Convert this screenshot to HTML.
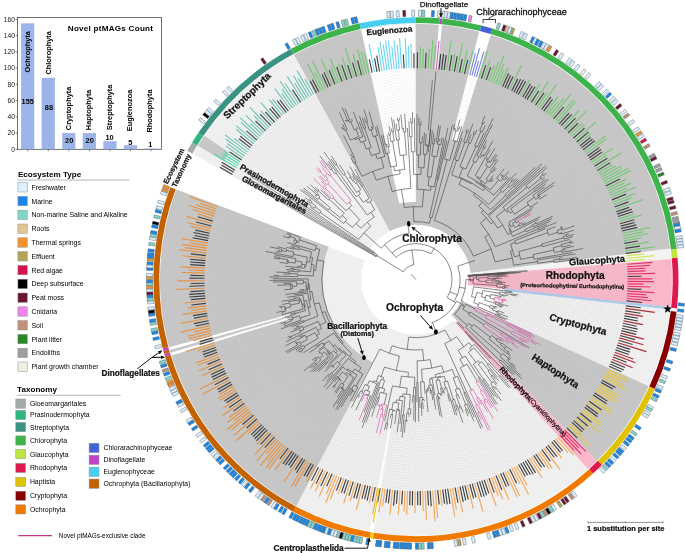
<!DOCTYPE html>
<html><head><meta charset="utf-8"><style>
html,body{margin:0;padding:0;background:#fff;}
body{width:685px;height:553px;overflow:hidden;}
svg{display:block;will-change:transform;}
text{font-family:"Liberation Sans",sans-serif;}
</style></head><body>
<svg width="685" height="553" viewBox="0 0 685 553">
<path d="M293.85,54.67 A256,256 0 0 1 670.25,249.78 L470.62,273.23 A55,55 0 0 0 389.76,231.32 Z" fill="#c6c6c6"/>
<path d="M361.03,29.62 A256,256 0 0 1 415.55,23.65 L415.86,201.65 A78,78 0 0 0 399.25,203.47 Z" fill="#ffffff"/>
<path d="M438.98,24.68 A256,256 0 0 1 442.09,24.98 L437.61,68.75 A212,212 0 0 0 435.03,68.51 Z" fill="#ffffff"/>
<path d="M479.23,31.58 A256,256 0 0 1 490.85,34.84 L458.39,140.99 A145,145 0 0 0 451.81,139.14 Z" fill="#ffffff"/>
<path d="M192.97,153.98 A256,256 0 0 1 293.85,54.67 L389.76,231.32 A55,55 0 0 0 368.08,252.65 Z" fill="#efefef"/>
<path d="M197.96,145.51 A256,256 0 0 1 204.27,135.76 L229.08,152.62 A226,226 0 0 0 223.51,161.23 Z" fill="#c6c6c6"/>
<path d="M670.09,248.45 A256,256 0 0 1 671.18,259.12 L471.82,275.16 A56,56 0 0 0 471.58,272.83 Z" fill="#f3f3f3"/>
<path d="M671.18,259.12 A256,256 0 0 1 670.5,307.3 L467.7,285.27 A52,52 0 0 0 467.83,275.48 Z" fill="#f9b8c9"/>
<path d="M670.25,309.52 A256,256 0 0 1 648.76,386.22 L488.74,312.95 A80,80 0 0 0 495.45,288.98 Z" fill="#efefef"/>
<path d="M648.76,386.22 A256,256 0 0 1 597.02,460.67 L451.36,315.01 A50,50 0 0 0 461.46,300.46 Z" fill="#c6c6c6"/>
<path d="M597.02,460.67 A256,256 0 0 1 587.96,469.3 L454.96,322.62 A58,58 0 0 0 457.01,320.66 Z" fill="#f9b8c9"/>
<path d="M587.96,469.3 A256,256 0 0 1 176.37,189.58 L364.52,260.3 A55,55 0 0 0 452.94,320.39 Z" fill="#efefef"/>
<path d="M296.21,505.89 A256,256 0 0 1 176.37,189.58 L328.48,246.75 A93.5,93.5 0 0 0 372.25,362.28 Z" fill="#c6c6c6"/>
<path d="M373.53,532.1 A256,256 0 0 1 369.57,531.4 L392.42,407.49 A130,130 0 0 0 394.43,407.85 Z" fill="#ffffff"/>
<path d="M171.51,355.56 A256,256 0 0 1 170.67,352.79 L291.42,316.79 A130,130 0 0 0 291.85,318.2 Z" fill="#ffffff"/>
<path d="M169.86,350 A256,256 0 0 1 169.07,347.2 L290.61,313.95 A130,130 0 0 0 291,315.37 Z" fill="#ffffff"/>
<line x1="504.44" y1="289.65" x2="670.38" y2="308.41" stroke="#a9c9ea" stroke-width="2.4"/>
<line x1="434.48" y1="220.47" x2="462.47" y2="130.82" stroke="#3c3c3c" stroke-width="0.6"/>
<line x1="455.01" y1="159.75" x2="462.02" y2="138.23" stroke="#3c3c3c" stroke-width="0.6"/>
<line x1="465.94" y1="132.15" x2="466.99" y2="129.07" stroke="#3c3c3c" stroke-width="0.6"/>
<line x1="467.7" y1="132.76" x2="468.78" y2="129.68" stroke="#3c3c3c" stroke-width="0.6"/>
<path d="M465.94,132.15 A155.72,155.72 0 0 1 467.7,132.76" fill="none" stroke="#3c3c3c" stroke-width="0.6"/>
<line x1="463.58" y1="141.85" x2="466.82" y2="132.45" stroke="#3c3c3c" stroke-width="0.6"/>
<line x1="466.03" y1="142.72" x2="473.02" y2="123.58" stroke="#3c3c3c" stroke-width="0.6"/>
<path d="M463.58,141.85 A145.78,145.78 0 0 1 466.03,142.72" fill="none" stroke="#3c3c3c" stroke-width="0.6"/>
<line x1="458.21" y1="160.84" x2="464.81" y2="142.28" stroke="#3c3c3c" stroke-width="0.6"/>
<path d="M455.01,159.75 A126.08,126.08 0 0 1 458.21,160.84" fill="none" stroke="#3c3c3c" stroke-width="0.6"/>
<line x1="451.65" y1="174.89" x2="456.61" y2="160.29" stroke="#3c3c3c" stroke-width="0.6"/>
<line x1="467.98" y1="142.47" x2="471.07" y2="134.33" stroke="#3c3c3c" stroke-width="0.6"/>
<line x1="473.21" y1="133.95" x2="474.26" y2="131.27" stroke="#3c3c3c" stroke-width="0.6"/>
<line x1="474.94" y1="134.64" x2="476.9" y2="129.82" stroke="#3c3c3c" stroke-width="0.6"/>
<path d="M473.21,133.95 A156.53,156.53 0 0 1 474.94,134.64" fill="none" stroke="#3c3c3c" stroke-width="0.6"/>
<line x1="470.42" y1="143.42" x2="474.07" y2="134.29" stroke="#3c3c3c" stroke-width="0.6"/>
<path d="M467.98,142.47 A146.7,146.7 0 0 1 470.42,143.42" fill="none" stroke="#3c3c3c" stroke-width="0.6"/>
<line x1="459.98" y1="166.64" x2="469.21" y2="142.94" stroke="#3c3c3c" stroke-width="0.6"/>
<line x1="481.76" y1="123.23" x2="484.97" y2="115.58" stroke="#3c3c3c" stroke-width="0.6"/>
<line x1="483.61" y1="124.03" x2="484.78" y2="121.34" stroke="#3c3c3c" stroke-width="0.6"/>
<path d="M481.76,123.23 A169.68,169.68 0 0 1 483.61,124.03" fill="none" stroke="#3c3c3c" stroke-width="0.6"/>
<line x1="479.69" y1="130.63" x2="482.69" y2="123.63" stroke="#3c3c3c" stroke-width="0.6"/>
<line x1="482.34" y1="131.79" x2="485.23" y2="125.36" stroke="#3c3c3c" stroke-width="0.6"/>
<path d="M479.69,130.63 A162.06,162.06 0 0 1 482.34,131.79" fill="none" stroke="#3c3c3c" stroke-width="0.6"/>
<line x1="474.65" y1="145.76" x2="481.02" y2="131.21" stroke="#3c3c3c" stroke-width="0.6"/>
<line x1="477.43" y1="147.01" x2="484.21" y2="132.36" stroke="#3c3c3c" stroke-width="0.6"/>
<path d="M474.65,145.76 A146.18,146.18 0 0 1 477.43,147.01" fill="none" stroke="#3c3c3c" stroke-width="0.6"/>
<line x1="465.81" y1="169.08" x2="476.04" y2="146.37" stroke="#3c3c3c" stroke-width="0.6"/>
<path d="M459.98,166.64 A121.27,121.27 0 0 1 465.81,169.08" fill="none" stroke="#3c3c3c" stroke-width="0.6"/>
<line x1="459.17" y1="176.74" x2="462.91" y2="167.82" stroke="#3c3c3c" stroke-width="0.6"/>
<line x1="472.72" y1="160.89" x2="493.18" y2="118.06" stroke="#3c3c3c" stroke-width="0.6"/>
<line x1="477.08" y1="155.59" x2="492.36" y2="124.56" stroke="#3c3c3c" stroke-width="0.6"/>
<line x1="482.9" y1="147.75" x2="486.71" y2="140.25" stroke="#3c3c3c" stroke-width="0.6"/>
<line x1="484.47" y1="148.56" x2="486" y2="145.64" stroke="#3c3c3c" stroke-width="0.6"/>
<path d="M482.9,147.75 A147.89,147.89 0 0 1 484.47,148.56" fill="none" stroke="#3c3c3c" stroke-width="0.6"/>
<line x1="480.32" y1="154.69" x2="483.69" y2="148.16" stroke="#3c3c3c" stroke-width="0.6"/>
<line x1="483.21" y1="154.61" x2="483.69" y2="153.73" stroke="#3c3c3c" stroke-width="0.6"/>
<line x1="484.7" y1="155.42" x2="492.7" y2="140.95" stroke="#3c3c3c" stroke-width="0.6"/>
<path d="M483.21,154.61 A141.96,141.96 0 0 1 484.7,155.42" fill="none" stroke="#3c3c3c" stroke-width="0.6"/>
<line x1="483.28" y1="156.26" x2="483.96" y2="155.02" stroke="#3c3c3c" stroke-width="0.6"/>
<path d="M480.32,154.69 A140.54,140.54 0 0 1 483.28,156.26" fill="none" stroke="#3c3c3c" stroke-width="0.6"/>
<line x1="480.75" y1="157.47" x2="481.81" y2="155.46" stroke="#3c3c3c" stroke-width="0.6"/>
<path d="M477.08,155.59 A138.28,138.28 0 0 1 480.75,157.47" fill="none" stroke="#3c3c3c" stroke-width="0.6"/>
<line x1="475.88" y1="162.46" x2="478.92" y2="156.52" stroke="#3c3c3c" stroke-width="0.6"/>
<path d="M472.72,160.89 A131.61,131.61 0 0 1 475.88,162.46" fill="none" stroke="#3c3c3c" stroke-width="0.6"/>
<line x1="467.24" y1="175.96" x2="474.31" y2="161.67" stroke="#3c3c3c" stroke-width="0.6"/>
<line x1="475.25" y1="175.46" x2="490.07" y2="149.39" stroke="#3c3c3c" stroke-width="0.6"/>
<line x1="486.59" y1="158.89" x2="487.41" y2="157.49" stroke="#3c3c3c" stroke-width="0.6"/>
<line x1="488.03" y1="159.74" x2="494.96" y2="148.19" stroke="#3c3c3c" stroke-width="0.6"/>
<path d="M486.59,158.89 A139.88,139.88 0 0 1 488.03,159.74" fill="none" stroke="#3c3c3c" stroke-width="0.6"/>
<line x1="486.49" y1="160.7" x2="487.31" y2="159.31" stroke="#3c3c3c" stroke-width="0.6"/>
<line x1="489.02" y1="161.3" x2="489.56" y2="160.41" stroke="#3c3c3c" stroke-width="0.6"/>
<line x1="490.43" y1="162.17" x2="495.61" y2="153.99" stroke="#3c3c3c" stroke-width="0.6"/>
<path d="M489.02,161.3 A139.07,139.07 0 0 1 490.43,162.17" fill="none" stroke="#3c3c3c" stroke-width="0.6"/>
<line x1="489.3" y1="162.41" x2="489.72" y2="161.73" stroke="#3c3c3c" stroke-width="0.6"/>
<path d="M486.49,160.7 A138.27,138.27 0 0 1 489.3,162.41" fill="none" stroke="#3c3c3c" stroke-width="0.6"/>
<line x1="485.63" y1="165.28" x2="487.9" y2="161.55" stroke="#3c3c3c" stroke-width="0.6"/>
<line x1="493.45" y1="160.55" x2="497.27" y2="154.69" stroke="#3c3c3c" stroke-width="0.6"/>
<line x1="494.87" y1="161.49" x2="496.67" y2="158.78" stroke="#3c3c3c" stroke-width="0.6"/>
<path d="M493.45,160.55 A142.07,142.07 0 0 1 494.87,161.49" fill="none" stroke="#3c3c3c" stroke-width="0.6"/>
<line x1="489.67" y1="167.84" x2="494.16" y2="161.02" stroke="#3c3c3c" stroke-width="0.6"/>
<path d="M485.63,165.28 A133.9,133.9 0 0 1 489.67,167.84" fill="none" stroke="#3c3c3c" stroke-width="0.6"/>
<line x1="480.14" y1="178.4" x2="487.66" y2="166.54" stroke="#3c3c3c" stroke-width="0.6"/>
<path d="M475.25,175.46 A119.85,119.85 0 0 1 480.14,178.4" fill="none" stroke="#3c3c3c" stroke-width="0.6"/>
<line x1="477.07" y1="177.97" x2="477.71" y2="176.9" stroke="#3c3c3c" stroke-width="0.6"/>
<line x1="490.48" y1="170.88" x2="498.09" y2="159.78" stroke="#3c3c3c" stroke-width="0.6"/>
<line x1="493.24" y1="169.69" x2="495.13" y2="167" stroke="#3c3c3c" stroke-width="0.6"/>
<line x1="494.54" y1="170.62" x2="496.32" y2="168.15" stroke="#3c3c3c" stroke-width="0.6"/>
<path d="M493.24,169.69 A134.38,134.38 0 0 1 494.54,170.62" fill="none" stroke="#3c3c3c" stroke-width="0.6"/>
<line x1="492.42" y1="172.23" x2="493.89" y2="170.15" stroke="#3c3c3c" stroke-width="0.6"/>
<path d="M490.48,170.88 A131.83,131.83 0 0 1 492.42,172.23" fill="none" stroke="#3c3c3c" stroke-width="0.6"/>
<line x1="486.02" y1="179.34" x2="491.45" y2="171.55" stroke="#3c3c3c" stroke-width="0.6"/>
<line x1="489.55" y1="180.07" x2="493.03" y2="175.36" stroke="#3c3c3c" stroke-width="0.6"/>
<line x1="491.31" y1="180.19" x2="493.1" y2="177.83" stroke="#3c3c3c" stroke-width="0.6"/>
<line x1="492.49" y1="181.1" x2="493.1" y2="180.31" stroke="#3c3c3c" stroke-width="0.6"/>
<path d="M491.31,180.19 A124.75,124.75 0 0 1 492.49,181.1" fill="none" stroke="#3c3c3c" stroke-width="0.6"/>
<line x1="491.32" y1="181.4" x2="491.9" y2="180.64" stroke="#3c3c3c" stroke-width="0.6"/>
<path d="M489.55,180.07 A123.79,123.79 0 0 1 491.32,181.4" fill="none" stroke="#3c3c3c" stroke-width="0.6"/>
<line x1="489.56" y1="181.9" x2="490.44" y2="180.73" stroke="#3c3c3c" stroke-width="0.6"/>
<path d="M486.02,179.34 A122.33,122.33 0 0 1 489.56,181.9" fill="none" stroke="#3c3c3c" stroke-width="0.6"/>
<line x1="485.62" y1="183.61" x2="487.8" y2="180.6" stroke="#3c3c3c" stroke-width="0.6"/>
<path d="M477.07,177.97 A118.61,118.61 0 0 1 485.62,183.61" fill="none" stroke="#3c3c3c" stroke-width="0.6"/>
<line x1="480.29" y1="182.39" x2="481.41" y2="180.7" stroke="#3c3c3c" stroke-width="0.6"/>
<line x1="496.72" y1="178.16" x2="504.05" y2="168.95" stroke="#3c3c3c" stroke-width="0.6"/>
<line x1="501.2" y1="175.11" x2="501.83" y2="174.34" stroke="#3c3c3c" stroke-width="0.6"/>
<line x1="502.44" y1="176.14" x2="503.5" y2="174.86" stroke="#3c3c3c" stroke-width="0.6"/>
<path d="M501.2,175.11 A134.86,134.86 0 0 1 502.44,176.14" fill="none" stroke="#3c3c3c" stroke-width="0.6"/>
<line x1="501.79" y1="175.66" x2="501.82" y2="175.62" stroke="#3c3c3c" stroke-width="0.6"/>
<line x1="503.63" y1="177.21" x2="508.57" y2="171.44" stroke="#3c3c3c" stroke-width="0.6"/>
<path d="M501.79,175.66 A134.81,134.81 0 0 1 503.63,177.21" fill="none" stroke="#3c3c3c" stroke-width="0.6"/>
<line x1="501.62" y1="177.73" x2="502.71" y2="176.43" stroke="#3c3c3c" stroke-width="0.6"/>
<line x1="505.58" y1="177.42" x2="506.6" y2="176.26" stroke="#3c3c3c" stroke-width="0.6"/>
<line x1="506.79" y1="178.5" x2="508.02" y2="177.13" stroke="#3c3c3c" stroke-width="0.6"/>
<path d="M505.58,177.42 A135.92,135.92 0 0 1 506.79,178.5" fill="none" stroke="#3c3c3c" stroke-width="0.6"/>
<line x1="504.32" y1="180.06" x2="506.19" y2="177.96" stroke="#3c3c3c" stroke-width="0.6"/>
<path d="M501.62,177.73 A133.12,133.12 0 0 1 504.32,180.06" fill="none" stroke="#3c3c3c" stroke-width="0.6"/>
<line x1="500.74" y1="181.48" x2="502.98" y2="178.88" stroke="#3c3c3c" stroke-width="0.6"/>
<path d="M496.72,178.16 A129.68,129.68 0 0 1 500.74,181.48" fill="none" stroke="#3c3c3c" stroke-width="0.6"/>
<line x1="490.39" y1="189.89" x2="498.75" y2="179.8" stroke="#3c3c3c" stroke-width="0.6"/>
<path d="M480.29,182.39 A116.58,116.58 0 0 1 490.39,189.89" fill="none" stroke="#3c3c3c" stroke-width="0.6"/>
<line x1="484.89" y1="186.74" x2="485.44" y2="186" stroke="#3c3c3c" stroke-width="0.6"/>
<path d="M467.24,175.96 A115.66,115.66 0 0 1 484.89,186.74" fill="none" stroke="#3c3c3c" stroke-width="0.6"/>
<line x1="475.81" y1="181.77" x2="476.31" y2="180.96" stroke="#3c3c3c" stroke-width="0.6"/>
<line x1="493.63" y1="195.2" x2="509.94" y2="177.46" stroke="#3c3c3c" stroke-width="0.6"/>
<path d="M475.81,181.77 A114.71,114.71 0 0 1 493.63,195.2" fill="none" stroke="#3c3c3c" stroke-width="0.6"/>
<line x1="483.18" y1="190.53" x2="485.05" y2="188.05" stroke="#3c3c3c" stroke-width="0.6"/>
<path d="M459.17,176.74 A111.6,111.6 0 0 1 483.18,190.53" fill="none" stroke="#3c3c3c" stroke-width="0.6"/>
<line x1="471.14" y1="183.7" x2="471.6" y2="182.89" stroke="#3c3c3c" stroke-width="0.6"/>
<path d="M451.65,174.89 A110.66,110.66 0 0 1 471.14,183.7" fill="none" stroke="#3c3c3c" stroke-width="0.6"/>
<line x1="459.05" y1="184.47" x2="461.61" y2="178.82" stroke="#3c3c3c" stroke-width="0.6"/>
<line x1="500.24" y1="190.18" x2="516.36" y2="173.05" stroke="#3c3c3c" stroke-width="0.6"/>
<line x1="511.17" y1="180.95" x2="513.17" y2="178.88" stroke="#3c3c3c" stroke-width="0.6"/>
<line x1="512.34" y1="182.1" x2="515.89" y2="178.49" stroke="#3c3c3c" stroke-width="0.6"/>
<path d="M511.17,180.95 A137.1,137.1 0 0 1 512.34,182.1" fill="none" stroke="#3c3c3c" stroke-width="0.6"/>
<line x1="507.72" y1="185.66" x2="511.75" y2="181.52" stroke="#3c3c3c" stroke-width="0.6"/>
<line x1="509.39" y1="187.31" x2="517.72" y2="179.07" stroke="#3c3c3c" stroke-width="0.6"/>
<path d="M507.72,185.66 A131.33,131.33 0 0 1 509.39,187.31" fill="none" stroke="#3c3c3c" stroke-width="0.6"/>
<line x1="502.6" y1="192.47" x2="508.56" y2="186.48" stroke="#3c3c3c" stroke-width="0.6"/>
<path d="M500.24,190.18 A122.88,122.88 0 0 1 502.6,192.47" fill="none" stroke="#3c3c3c" stroke-width="0.6"/>
<line x1="488.63" y1="204.56" x2="501.43" y2="191.32" stroke="#3c3c3c" stroke-width="0.6"/>
<path d="M459.05,184.47 A104.47,104.47 0 0 1 488.63,204.56" fill="none" stroke="#3c3c3c" stroke-width="0.6"/>
<line x1="473.43" y1="195.12" x2="474.71" y2="193.24" stroke="#3c3c3c" stroke-width="0.6"/>
<line x1="513.41" y1="185.6" x2="519.29" y2="179.93" stroke="#3c3c3c" stroke-width="0.6"/>
<line x1="514.53" y1="186.76" x2="535.17" y2="167.3" stroke="#3c3c3c" stroke-width="0.6"/>
<path d="M513.41,185.6 A135.41,135.41 0 0 1 514.53,186.76" fill="none" stroke="#3c3c3c" stroke-width="0.6"/>
<line x1="504.94" y1="194.8" x2="513.97" y2="186.18" stroke="#3c3c3c" stroke-width="0.6"/>
<line x1="506.44" y1="196.4" x2="541.94" y2="163.72" stroke="#3c3c3c" stroke-width="0.6"/>
<path d="M504.94,194.8 A122.92,122.92 0 0 1 506.44,196.4" fill="none" stroke="#3c3c3c" stroke-width="0.6"/>
<line x1="490.56" y1="209.77" x2="505.69" y2="195.59" stroke="#3c3c3c" stroke-width="0.6"/>
<path d="M473.43,195.12 A102.19,102.19 0 0 1 490.56,209.77" fill="none" stroke="#3c3c3c" stroke-width="0.6"/>
<line x1="478.85" y1="206.13" x2="482.4" y2="201.97" stroke="#3c3c3c" stroke-width="0.6"/>
<line x1="487.94" y1="215" x2="540.65" y2="167.62" stroke="#3c3c3c" stroke-width="0.6"/>
<path d="M478.85,206.13 A96.72,96.72 0 0 1 487.94,215" fill="none" stroke="#3c3c3c" stroke-width="0.6"/>
<line x1="481.32" y1="212.69" x2="483.54" y2="210.41" stroke="#3c3c3c" stroke-width="0.6"/>
<line x1="488.63" y1="215.92" x2="545.51" y2="166.02" stroke="#3c3c3c" stroke-width="0.6"/>
<line x1="525.75" y1="185.64" x2="547.02" y2="167.42" stroke="#3c3c3c" stroke-width="0.6"/>
<line x1="542.33" y1="174.03" x2="543.61" y2="172.95" stroke="#3c3c3c" stroke-width="0.6"/>
<line x1="543.57" y1="175.54" x2="546.42" y2="173.22" stroke="#3c3c3c" stroke-width="0.6"/>
<path d="M542.33,174.03 A164.67,164.67 0 0 1 543.57,175.54" fill="none" stroke="#3c3c3c" stroke-width="0.6"/>
<line x1="540.03" y1="177.19" x2="542.95" y2="174.78" stroke="#3c3c3c" stroke-width="0.6"/>
<line x1="541.84" y1="179.42" x2="544.62" y2="177.21" stroke="#3c3c3c" stroke-width="0.6"/>
<path d="M540.03,177.19 A160.88,160.88 0 0 1 541.84,179.42" fill="none" stroke="#3c3c3c" stroke-width="0.6"/>
<line x1="528.23" y1="188.61" x2="540.94" y2="178.3" stroke="#3c3c3c" stroke-width="0.6"/>
<path d="M525.75,185.64 A144.51,144.51 0 0 1 528.23,188.61" fill="none" stroke="#3c3c3c" stroke-width="0.6"/>
<line x1="502.95" y1="207.17" x2="527" y2="187.12" stroke="#3c3c3c" stroke-width="0.6"/>
<line x1="506.87" y1="209.03" x2="545.23" y2="179.22" stroke="#3c3c3c" stroke-width="0.6"/>
<line x1="534.17" y1="190.05" x2="548.56" y2="179.14" stroke="#3c3c3c" stroke-width="0.6"/>
<line x1="535.23" y1="191.46" x2="545.92" y2="183.56" stroke="#3c3c3c" stroke-width="0.6"/>
<path d="M534.17,190.05 A148.3,148.3 0 0 1 535.23,191.46" fill="none" stroke="#3c3c3c" stroke-width="0.6"/>
<line x1="510.67" y1="208.75" x2="534.71" y2="190.75" stroke="#3c3c3c" stroke-width="0.6"/>
<line x1="532.92" y1="195.31" x2="544.7" y2="186.81" stroke="#3c3c3c" stroke-width="0.6"/>
<line x1="537.77" y1="194" x2="554.53" y2="182.2" stroke="#3c3c3c" stroke-width="0.6"/>
<line x1="538.78" y1="195.45" x2="553.85" y2="185.12" stroke="#3c3c3c" stroke-width="0.6"/>
<line x1="539.78" y1="196.92" x2="540.61" y2="196.36" stroke="#3c3c3c" stroke-width="0.6"/>
<path d="M538.78,195.45 A148.88,148.88 0 0 1 539.78,196.92" fill="none" stroke="#3c3c3c" stroke-width="0.6"/>
<line x1="539.28" y1="196.18" x2="539.28" y2="196.18" stroke="#3c3c3c" stroke-width="0.6"/>
<path d="M537.77,194 A148.88,148.88 0 0 1 539.28,196.18" fill="none" stroke="#3c3c3c" stroke-width="0.6"/>
<line x1="537.41" y1="195.86" x2="538.53" y2="195.09" stroke="#3c3c3c" stroke-width="0.6"/>
<line x1="539.61" y1="199.15" x2="546.81" y2="194.46" stroke="#3c3c3c" stroke-width="0.6"/>
<path d="M537.41,195.86 A147.51,147.51 0 0 1 539.61,199.15" fill="none" stroke="#3c3c3c" stroke-width="0.6"/>
<line x1="535.74" y1="199.36" x2="538.52" y2="197.5" stroke="#3c3c3c" stroke-width="0.6"/>
<path d="M532.92,195.31 A144.16,144.16 0 0 1 535.74,199.36" fill="none" stroke="#3c3c3c" stroke-width="0.6"/>
<line x1="526.96" y1="202.46" x2="534.34" y2="197.33" stroke="#3c3c3c" stroke-width="0.6"/>
<line x1="530.14" y1="207.24" x2="537.8" y2="202.37" stroke="#3c3c3c" stroke-width="0.6"/>
<path d="M526.96,202.46 A135.17,135.17 0 0 1 530.14,207.24" fill="none" stroke="#3c3c3c" stroke-width="0.6"/>
<line x1="514.5" y1="214.18" x2="528.57" y2="204.83" stroke="#3c3c3c" stroke-width="0.6"/>
<path d="M510.67,208.75 A118.27,118.27 0 0 1 514.5,214.18" fill="none" stroke="#3c3c3c" stroke-width="0.6"/>
<line x1="510.02" y1="213.28" x2="512.62" y2="211.44" stroke="#3c3c3c" stroke-width="0.6"/>
<path d="M506.87,209.03 A115.08,115.08 0 0 1 510.02,213.28" fill="none" stroke="#3c3c3c" stroke-width="0.6"/>
<line x1="506.95" y1="212.26" x2="508.47" y2="211.14" stroke="#3c3c3c" stroke-width="0.6"/>
<path d="M502.95,207.17 A113.2,113.2 0 0 1 506.95,212.26" fill="none" stroke="#3c3c3c" stroke-width="0.6"/>
<line x1="496.53" y1="216.34" x2="504.99" y2="209.69" stroke="#3c3c3c" stroke-width="0.6"/>
<line x1="508.72" y1="222.36" x2="533.4" y2="207.11" stroke="#3c3c3c" stroke-width="0.6"/>
<line x1="514.72" y1="220.27" x2="531.69" y2="210.06" stroke="#3c3c3c" stroke-width="0.6"/>
<line x1="524.65" y1="216.04" x2="529.85" y2="213" stroke="#d2409c" stroke-width="0.6"/>
<line x1="525.4" y1="217.34" x2="531.27" y2="214" stroke="#d2409c" stroke-width="0.6"/>
<path d="M524.65,216.04 A125.9,125.9 0 0 1 525.4,217.34" fill="none" stroke="#d2409c" stroke-width="0.6"/>
<line x1="517.75" y1="220.89" x2="525.03" y2="216.69" stroke="#d2409c" stroke-width="0.6"/>
<line x1="518.78" y1="222.72" x2="520.28" y2="221.89" stroke="#d2409c" stroke-width="0.6"/>
<path d="M517.75,220.89 A117.5,117.5 0 0 1 518.78,222.72" fill="none" stroke="#d2409c" stroke-width="0.6"/>
<line x1="516.28" y1="222.93" x2="518.27" y2="221.81" stroke="#3c3c3c" stroke-width="0.6"/>
<path d="M514.72,220.27 A115.2,115.2 0 0 1 516.28,222.93" fill="none" stroke="#3c3c3c" stroke-width="0.6"/>
<line x1="512.42" y1="223.39" x2="515.51" y2="221.6" stroke="#3c3c3c" stroke-width="0.6"/>
<line x1="518.59" y1="224.42" x2="522.08" y2="222.54" stroke="#3c3c3c" stroke-width="0.6"/>
<line x1="522.45" y1="223.96" x2="525.39" y2="222.43" stroke="#3c3c3c" stroke-width="0.6"/>
<line x1="523.1" y1="225.24" x2="540.3" y2="216.5" stroke="#3c3c3c" stroke-width="0.6"/>
<path d="M522.45,223.96 A120.13,120.13 0 0 1 523.1,225.24" fill="none" stroke="#3c3c3c" stroke-width="0.6"/>
<line x1="519.56" y1="226.26" x2="522.78" y2="224.6" stroke="#3c3c3c" stroke-width="0.6"/>
<path d="M518.59,224.42 A116.51,116.51 0 0 1 519.56,226.26" fill="none" stroke="#3c3c3c" stroke-width="0.6"/>
<line x1="514.76" y1="227.61" x2="519.07" y2="225.34" stroke="#3c3c3c" stroke-width="0.6"/>
<path d="M512.42,223.39 A111.63,111.63 0 0 1 514.76,227.61" fill="none" stroke="#3c3c3c" stroke-width="0.6"/>
<line x1="511.3" y1="226.77" x2="513.62" y2="225.49" stroke="#3c3c3c" stroke-width="0.6"/>
<path d="M508.72,222.36 A108.99,108.99 0 0 1 511.3,226.77" fill="none" stroke="#3c3c3c" stroke-width="0.6"/>
<line x1="508.27" y1="225.59" x2="510.03" y2="224.55" stroke="#3c3c3c" stroke-width="0.6"/>
<line x1="511.91" y1="232.35" x2="538.64" y2="219.17" stroke="#3c3c3c" stroke-width="0.6"/>
<path d="M508.27,225.59 A106.94,106.94 0 0 1 511.91,232.35" fill="none" stroke="#3c3c3c" stroke-width="0.6"/>
<line x1="509.17" y1="229.46" x2="510.15" y2="228.94" stroke="#3c3c3c" stroke-width="0.6"/>
<line x1="535.31" y1="222.57" x2="536.44" y2="222.03" stroke="#3c3c3c" stroke-width="0.6"/>
<line x1="535.98" y1="223.99" x2="552.83" y2="216.18" stroke="#3c3c3c" stroke-width="0.6"/>
<path d="M535.31,222.57 A132.26,132.26 0 0 1 535.98,223.99" fill="none" stroke="#3c3c3c" stroke-width="0.6"/>
<line x1="532.55" y1="224.74" x2="535.65" y2="223.28" stroke="#3c3c3c" stroke-width="0.6"/>
<line x1="533.52" y1="226.83" x2="552.07" y2="218.49" stroke="#3c3c3c" stroke-width="0.6"/>
<path d="M532.55,224.74 A128.84,128.84 0 0 1 533.52,226.83" fill="none" stroke="#3c3c3c" stroke-width="0.6"/>
<line x1="524.96" y1="229.5" x2="533.04" y2="225.78" stroke="#3c3c3c" stroke-width="0.6"/>
<line x1="525.98" y1="231.78" x2="550.67" y2="221.04" stroke="#3c3c3c" stroke-width="0.6"/>
<path d="M524.96,229.5 A119.94,119.94 0 0 1 525.98,231.78" fill="none" stroke="#3c3c3c" stroke-width="0.6"/>
<line x1="512.59" y1="236.41" x2="525.47" y2="230.64" stroke="#3c3c3c" stroke-width="0.6"/>
<path d="M509.17,229.46 A105.83,105.83 0 0 1 512.59,236.41" fill="none" stroke="#3c3c3c" stroke-width="0.6"/>
<line x1="507.9" y1="234.4" x2="510.95" y2="232.9" stroke="#3c3c3c" stroke-width="0.6"/>
<path d="M496.53,216.34 A102.44,102.44 0 0 1 507.9,234.4" fill="none" stroke="#3c3c3c" stroke-width="0.6"/>
<line x1="497.77" y1="228.17" x2="502.69" y2="225.07" stroke="#3c3c3c" stroke-width="0.6"/>
<path d="M488.63,215.92 A96.63,96.63 0 0 1 497.77,228.17" fill="none" stroke="#3c3c3c" stroke-width="0.6"/>
<line x1="490.97" y1="223.71" x2="493.44" y2="221.86" stroke="#3c3c3c" stroke-width="0.6"/>
<path d="M481.32,212.69 A93.54,93.54 0 0 1 490.97,223.71" fill="none" stroke="#3c3c3c" stroke-width="0.6"/>
<line x1="480.51" y1="223.13" x2="486.36" y2="218.01" stroke="#3c3c3c" stroke-width="0.6"/>
<line x1="537.68" y1="228.4" x2="547.02" y2="224.47" stroke="#3c3c3c" stroke-width="0.6"/>
<line x1="538.29" y1="229.86" x2="556.74" y2="222.34" stroke="#3c3c3c" stroke-width="0.6"/>
<path d="M537.68,228.4 A132.03,132.03 0 0 1 538.29,229.86" fill="none" stroke="#3c3c3c" stroke-width="0.6"/>
<line x1="495.24" y1="246.83" x2="537.99" y2="229.13" stroke="#3c3c3c" stroke-width="0.6"/>
<path d="M480.51,223.13 A85.77,85.77 0 0 1 495.24,246.83" fill="none" stroke="#3c3c3c" stroke-width="0.6"/>
<line x1="484.88" y1="236.85" x2="488.85" y2="234.38" stroke="#3c3c3c" stroke-width="0.6"/>
<line x1="514.61" y1="240.86" x2="545.74" y2="228.61" stroke="#3c3c3c" stroke-width="0.6"/>
<line x1="546.9" y1="229.95" x2="555.64" y2="226.63" stroke="#3c3c3c" stroke-width="0.6"/>
<line x1="560.89" y1="226.6" x2="561.83" y2="226.26" stroke="#3c3c3c" stroke-width="0.6"/>
<line x1="561.51" y1="228.33" x2="563.31" y2="227.7" stroke="#3c3c3c" stroke-width="0.6"/>
<path d="M560.89,226.6 A154.3,154.3 0 0 1 561.51,228.33" fill="none" stroke="#3c3c3c" stroke-width="0.6"/>
<line x1="561.14" y1="227.49" x2="561.2" y2="227.47" stroke="#3c3c3c" stroke-width="0.6"/>
<line x1="562.05" y1="230.09" x2="574.83" y2="225.75" stroke="#3c3c3c" stroke-width="0.6"/>
<path d="M561.14,227.49 A154.23,154.23 0 0 1 562.05,230.09" fill="none" stroke="#3c3c3c" stroke-width="0.6"/>
<line x1="557.32" y1="230.28" x2="561.6" y2="228.79" stroke="#3c3c3c" stroke-width="0.6"/>
<line x1="561.08" y1="232.34" x2="562.06" y2="232.02" stroke="#3c3c3c" stroke-width="0.6"/>
<line x1="561.64" y1="234.07" x2="573.92" y2="230.22" stroke="#3c3c3c" stroke-width="0.6"/>
<path d="M561.08,232.34 A152.6,152.6 0 0 1 561.64,234.07" fill="none" stroke="#3c3c3c" stroke-width="0.6"/>
<line x1="558.6" y1="234.09" x2="561.36" y2="233.2" stroke="#3c3c3c" stroke-width="0.6"/>
<path d="M557.32,230.28 A149.7,149.7 0 0 1 558.6,234.09" fill="none" stroke="#3c3c3c" stroke-width="0.6"/>
<line x1="548.79" y1="235.25" x2="557.97" y2="232.18" stroke="#3c3c3c" stroke-width="0.6"/>
<path d="M546.9,229.95 A140.02,140.02 0 0 1 548.79,235.25" fill="none" stroke="#3c3c3c" stroke-width="0.6"/>
<line x1="515.8" y1="244.04" x2="547.88" y2="232.59" stroke="#3c3c3c" stroke-width="0.6"/>
<path d="M514.61,240.86 A105.97,105.97 0 0 1 515.8,244.04" fill="none" stroke="#3c3c3c" stroke-width="0.6"/>
<line x1="510.54" y1="244.2" x2="515.22" y2="242.44" stroke="#3c3c3c" stroke-width="0.6"/>
<line x1="565.59" y1="234.78" x2="568.63" y2="233.87" stroke="#3c3c3c" stroke-width="0.6"/>
<line x1="566.12" y1="236.57" x2="573.82" y2="234.36" stroke="#3c3c3c" stroke-width="0.6"/>
<path d="M565.59,234.78 A156.18,156.18 0 0 1 566.12,236.57" fill="none" stroke="#3c3c3c" stroke-width="0.6"/>
<line x1="563.19" y1="236.46" x2="565.86" y2="235.67" stroke="#3c3c3c" stroke-width="0.6"/>
<line x1="563.94" y1="239.09" x2="572.98" y2="236.61" stroke="#3c3c3c" stroke-width="0.6"/>
<path d="M563.19,236.46 A153.4,153.4 0 0 1 563.94,239.09" fill="none" stroke="#3c3c3c" stroke-width="0.6"/>
<line x1="541.74" y1="243.97" x2="563.57" y2="237.77" stroke="#3c3c3c" stroke-width="0.6"/>
<line x1="542.45" y1="246.6" x2="569.73" y2="239.47" stroke="#3c3c3c" stroke-width="0.6"/>
<path d="M541.74,243.97 A130.7,130.7 0 0 1 542.45,246.6" fill="none" stroke="#3c3c3c" stroke-width="0.6"/>
<line x1="518.8" y1="251.63" x2="542.1" y2="245.28" stroke="#3c3c3c" stroke-width="0.6"/>
<line x1="569.62" y1="241.45" x2="571.99" y2="240.86" stroke="#3c3c3c" stroke-width="0.6"/>
<line x1="570.06" y1="243.28" x2="573.96" y2="242.36" stroke="#3c3c3c" stroke-width="0.6"/>
<path d="M569.62,241.45 A158.29,158.29 0 0 1 570.06,243.28" fill="none" stroke="#3c3c3c" stroke-width="0.6"/>
<line x1="561.13" y1="244.47" x2="569.84" y2="242.36" stroke="#3c3c3c" stroke-width="0.6"/>
<line x1="561.73" y1="247.07" x2="570.79" y2="245.05" stroke="#3c3c3c" stroke-width="0.6"/>
<path d="M561.13,244.47 A149.33,149.33 0 0 1 561.73,247.07" fill="none" stroke="#3c3c3c" stroke-width="0.6"/>
<line x1="553.33" y1="247.66" x2="561.43" y2="245.77" stroke="#3c3c3c" stroke-width="0.6"/>
<line x1="563.38" y1="248.54" x2="574.28" y2="246.24" stroke="#3c3c3c" stroke-width="0.6"/>
<line x1="563.74" y1="250.3" x2="566.07" y2="249.84" stroke="#3c3c3c" stroke-width="0.6"/>
<path d="M563.38,248.54 A150.63,150.63 0 0 1 563.74,250.3" fill="none" stroke="#3c3c3c" stroke-width="0.6"/>
<line x1="561.42" y1="249.86" x2="563.56" y2="249.42" stroke="#3c3c3c" stroke-width="0.6"/>
<line x1="561.93" y1="252.46" x2="583.32" y2="248.48" stroke="#3c3c3c" stroke-width="0.6"/>
<path d="M561.42,249.86 A148.44,148.44 0 0 1 561.93,252.46" fill="none" stroke="#3c3c3c" stroke-width="0.6"/>
<line x1="554.39" y1="252.59" x2="561.68" y2="251.16" stroke="#3c3c3c" stroke-width="0.6"/>
<path d="M553.33,247.66 A141.01,141.01 0 0 1 554.39,252.59" fill="none" stroke="#3c3c3c" stroke-width="0.6"/>
<line x1="533.1" y1="254.57" x2="553.88" y2="250.12" stroke="#3c3c3c" stroke-width="0.6"/>
<line x1="533.99" y1="259.12" x2="572.29" y2="252.45" stroke="#3c3c3c" stroke-width="0.6"/>
<path d="M533.1,254.57 A119.76,119.76 0 0 1 533.99,259.12" fill="none" stroke="#3c3c3c" stroke-width="0.6"/>
<line x1="520.6" y1="259.36" x2="533.57" y2="256.84" stroke="#3c3c3c" stroke-width="0.6"/>
<path d="M518.8,251.63 A106.55,106.55 0 0 1 520.6,259.36" fill="none" stroke="#3c3c3c" stroke-width="0.6"/>
<line x1="514.34" y1="256.74" x2="519.77" y2="255.48" stroke="#3c3c3c" stroke-width="0.6"/>
<path d="M510.54,244.2 A100.97,100.97 0 0 1 514.34,256.74" fill="none" stroke="#3c3c3c" stroke-width="0.6"/>
<line x1="510.42" y1="251.08" x2="512.65" y2="250.41" stroke="#3c3c3c" stroke-width="0.6"/>
<line x1="537.14" y1="260.05" x2="575.59" y2="253.83" stroke="#3c3c3c" stroke-width="0.6"/>
<line x1="559.17" y1="258.24" x2="562.33" y2="257.77" stroke="#3c3c3c" stroke-width="0.6"/>
<line x1="559.41" y1="259.94" x2="577.27" y2="257.49" stroke="#3c3c3c" stroke-width="0.6"/>
<path d="M559.17,258.24 A144.76,144.76 0 0 1 559.41,259.94" fill="none" stroke="#3c3c3c" stroke-width="0.6"/>
<line x1="553.59" y1="259.91" x2="559.29" y2="259.09" stroke="#3c3c3c" stroke-width="0.6"/>
<line x1="553.92" y1="262.37" x2="572.79" y2="260.01" stroke="#3c3c3c" stroke-width="0.6"/>
<path d="M553.59,259.91 A139,139 0 0 1 553.92,262.37" fill="none" stroke="#3c3c3c" stroke-width="0.6"/>
<line x1="537.63" y1="263.31" x2="553.76" y2="261.14" stroke="#3c3c3c" stroke-width="0.6"/>
<path d="M537.14,260.05 A122.72,122.72 0 0 1 537.63,263.31" fill="none" stroke="#3c3c3c" stroke-width="0.6"/>
<line x1="513.58" y1="265.2" x2="537.4" y2="261.68" stroke="#3c3c3c" stroke-width="0.6"/>
<path d="M510.42,251.08 A98.64,98.64 0 0 1 513.58,265.2" fill="none" stroke="#3c3c3c" stroke-width="0.6"/>
<line x1="495.13" y1="261.92" x2="512.26" y2="258.09" stroke="#3c3c3c" stroke-width="0.6"/>
<path d="M484.88,236.85 A81.09,81.09 0 0 1 495.13,261.92" fill="none" stroke="#3c3c3c" stroke-width="0.6"/>
<line x1="473.39" y1="256.18" x2="491.06" y2="248.95" stroke="#3c3c3c" stroke-width="0.6"/>
<path d="M434.48,220.47 A62,62 0 0 1 473.39,256.18" fill="none" stroke="#3c3c3c" stroke-width="0.6"/>
<line x1="353.99" y1="163.29" x2="351.13" y2="157.93" stroke="#3c3c3c" stroke-width="0.6"/>
<line x1="352.89" y1="157.7" x2="350.82" y2="153.7" stroke="#3c3c3c" stroke-width="0.6"/>
<line x1="354.36" y1="156.95" x2="343.47" y2="135.27" stroke="#3c3c3c" stroke-width="0.6"/>
<path d="M352.89,157.7 A137.31,137.31 0 0 1 354.36,156.95" fill="none" stroke="#3c3c3c" stroke-width="0.6"/>
<line x1="356.1" y1="162.19" x2="353.63" y2="157.32" stroke="#3c3c3c" stroke-width="0.6"/>
<path d="M353.99,163.29 A131.85,131.85 0 0 1 356.1,162.19" fill="none" stroke="#3c3c3c" stroke-width="0.6"/>
<line x1="362.12" y1="176.31" x2="355.04" y2="162.73" stroke="#3c3c3c" stroke-width="0.6"/>
<line x1="342.67" y1="129.16" x2="341.62" y2="127.01" stroke="#3c3c3c" stroke-width="0.6"/>
<line x1="344.49" y1="128.29" x2="342.48" y2="124.05" stroke="#3c3c3c" stroke-width="0.6"/>
<path d="M342.67,129.16 A167.4,167.4 0 0 1 344.49,128.29" fill="none" stroke="#3c3c3c" stroke-width="0.6"/>
<line x1="344.4" y1="130.44" x2="343.58" y2="128.72" stroke="#3c3c3c" stroke-width="0.6"/>
<line x1="347.11" y1="129.17" x2="339.45" y2="112.44" stroke="#3c3c3c" stroke-width="0.6"/>
<path d="M344.4,130.44 A165.5,165.5 0 0 1 347.11,129.17" fill="none" stroke="#3c3c3c" stroke-width="0.6"/>
<line x1="350.57" y1="140.07" x2="345.75" y2="129.8" stroke="#3c3c3c" stroke-width="0.6"/>
<line x1="345.64" y1="120.92" x2="345.23" y2="120" stroke="#3c3c3c" stroke-width="0.6"/>
<line x1="347.56" y1="120.08" x2="342.12" y2="107.41" stroke="#3c3c3c" stroke-width="0.6"/>
<path d="M345.64,120.92 A173.63,173.63 0 0 1 347.56,120.08" fill="none" stroke="#3c3c3c" stroke-width="0.6"/>
<line x1="346.86" y1="121.11" x2="346.6" y2="120.5" stroke="#3c3c3c" stroke-width="0.6"/>
<line x1="349.74" y1="119.88" x2="344.93" y2="108.28" stroke="#3c3c3c" stroke-width="0.6"/>
<path d="M346.86,121.11 A172.96,172.96 0 0 1 349.74,119.88" fill="none" stroke="#3c3c3c" stroke-width="0.6"/>
<line x1="349.07" y1="122.3" x2="348.3" y2="120.49" stroke="#3c3c3c" stroke-width="0.6"/>
<line x1="352.41" y1="120.92" x2="351.6" y2="118.89" stroke="#3c3c3c" stroke-width="0.6"/>
<path d="M349.07,122.3 A170.99,170.99 0 0 1 352.41,120.92" fill="none" stroke="#3c3c3c" stroke-width="0.6"/>
<line x1="354.14" y1="129.86" x2="350.74" y2="121.6" stroke="#3c3c3c" stroke-width="0.6"/>
<line x1="357.55" y1="128.5" x2="356.94" y2="126.92" stroke="#3c3c3c" stroke-width="0.6"/>
<path d="M354.14,129.86 A162.06,162.06 0 0 1 357.55,128.5" fill="none" stroke="#3c3c3c" stroke-width="0.6"/>
<line x1="358.78" y1="136.51" x2="355.84" y2="129.17" stroke="#3c3c3c" stroke-width="0.6"/>
<path d="M350.57,140.07 A154.16,154.16 0 0 1 358.78,136.51" fill="none" stroke="#3c3c3c" stroke-width="0.6"/>
<line x1="355.29" y1="139.72" x2="354.65" y2="138.23" stroke="#3c3c3c" stroke-width="0.6"/>
<line x1="362.71" y1="136.73" x2="353.47" y2="111.95" stroke="#3c3c3c" stroke-width="0.6"/>
<path d="M355.29,139.72 A152.53,152.53 0 0 1 362.71,136.73" fill="none" stroke="#3c3c3c" stroke-width="0.6"/>
<line x1="360.73" y1="142.52" x2="358.98" y2="138.18" stroke="#3c3c3c" stroke-width="0.6"/>
<line x1="366.02" y1="140.51" x2="359.24" y2="121.63" stroke="#3c3c3c" stroke-width="0.6"/>
<path d="M360.73,142.52 A147.85,147.85 0 0 1 366.02,140.51" fill="none" stroke="#3c3c3c" stroke-width="0.6"/>
<line x1="366.25" y1="149.06" x2="363.37" y2="141.49" stroke="#3c3c3c" stroke-width="0.6"/>
<line x1="363.8" y1="128.63" x2="359.38" y2="115.85" stroke="#3c3c3c" stroke-width="0.6"/>
<line x1="365.63" y1="128.01" x2="362.32" y2="118.06" stroke="#3c3c3c" stroke-width="0.6"/>
<path d="M363.8,128.63 A159.79,159.79 0 0 1 365.63,128.01" fill="none" stroke="#3c3c3c" stroke-width="0.6"/>
<line x1="371.15" y1="147.3" x2="364.71" y2="128.32" stroke="#3c3c3c" stroke-width="0.6"/>
<path d="M366.25,149.06 A139.74,139.74 0 0 1 371.15,147.3" fill="none" stroke="#3c3c3c" stroke-width="0.6"/>
<line x1="371.4" y1="155.69" x2="368.69" y2="148.16" stroke="#3c3c3c" stroke-width="0.6"/>
<line x1="365.82" y1="122.27" x2="364.35" y2="117.66" stroke="#3c3c3c" stroke-width="0.6"/>
<line x1="367.72" y1="121.67" x2="364.01" y2="109.53" stroke="#3c3c3c" stroke-width="0.6"/>
<path d="M365.82,122.27 A165.19,165.19 0 0 1 367.72,121.67" fill="none" stroke="#3c3c3c" stroke-width="0.6"/>
<line x1="369.32" y1="130.14" x2="366.77" y2="121.97" stroke="#3c3c3c" stroke-width="0.6"/>
<line x1="371.52" y1="127.56" x2="371.24" y2="126.6" stroke="#3c3c3c" stroke-width="0.6"/>
<line x1="373.36" y1="127.03" x2="369.02" y2="111.5" stroke="#3c3c3c" stroke-width="0.6"/>
<path d="M371.52,127.56 A158.46,158.46 0 0 1 373.36,127.03" fill="none" stroke="#3c3c3c" stroke-width="0.6"/>
<line x1="372.94" y1="129.06" x2="372.44" y2="127.29" stroke="#3c3c3c" stroke-width="0.6"/>
<path d="M369.32,130.14 A156.63,156.63 0 0 1 372.94,129.06" fill="none" stroke="#3c3c3c" stroke-width="0.6"/>
<line x1="373.24" y1="136.67" x2="371.13" y2="129.59" stroke="#3c3c3c" stroke-width="0.6"/>
<line x1="377.58" y1="135.44" x2="375.33" y2="127.02" stroke="#3c3c3c" stroke-width="0.6"/>
<path d="M373.24,136.67 A149.24,149.24 0 0 1 377.58,135.44" fill="none" stroke="#3c3c3c" stroke-width="0.6"/>
<line x1="380.17" y1="152.88" x2="375.41" y2="136.04" stroke="#3c3c3c" stroke-width="0.6"/>
<path d="M371.4,155.69 A131.73,131.73 0 0 1 380.17,152.88" fill="none" stroke="#3c3c3c" stroke-width="0.6"/>
<line x1="377.19" y1="158.66" x2="375.76" y2="154.21" stroke="#3c3c3c" stroke-width="0.6"/>
<line x1="384.77" y1="156.49" x2="376.9" y2="125.44" stroke="#3c3c3c" stroke-width="0.6"/>
<path d="M377.19,158.66 A127.06,127.06 0 0 1 384.77,156.49" fill="none" stroke="#3c3c3c" stroke-width="0.6"/>
<line x1="383.86" y1="167.63" x2="380.96" y2="157.52" stroke="#3c3c3c" stroke-width="0.6"/>
<path d="M362.12,176.31 A116.54,116.54 0 0 1 383.86,167.63" fill="none" stroke="#3c3c3c" stroke-width="0.6"/>
<line x1="376.28" y1="180.21" x2="372.78" y2="171.43" stroke="#3c3c3c" stroke-width="0.6"/>
<line x1="385.7" y1="153.8" x2="381.34" y2="135.69" stroke="#3c3c3c" stroke-width="0.6"/>
<line x1="385.29" y1="144.99" x2="382.83" y2="134.21" stroke="#3c3c3c" stroke-width="0.6"/>
<line x1="387.37" y1="144.54" x2="387.16" y2="143.56" stroke="#3c3c3c" stroke-width="0.6"/>
<path d="M385.29,144.99 A138.11,138.11 0 0 1 387.37,144.54" fill="none" stroke="#3c3c3c" stroke-width="0.6"/>
<line x1="386.81" y1="146.96" x2="386.33" y2="144.76" stroke="#3c3c3c" stroke-width="0.6"/>
<line x1="389.4" y1="146.41" x2="387.09" y2="134.87" stroke="#3c3c3c" stroke-width="0.6"/>
<path d="M386.81,146.96 A135.87,135.87 0 0 1 389.4,146.41" fill="none" stroke="#3c3c3c" stroke-width="0.6"/>
<line x1="389.42" y1="152.96" x2="388.1" y2="146.68" stroke="#3c3c3c" stroke-width="0.6"/>
<path d="M385.7,153.8 A129.45,129.45 0 0 1 389.42,152.96" fill="none" stroke="#3c3c3c" stroke-width="0.6"/>
<line x1="390.64" y1="167.06" x2="387.56" y2="153.37" stroke="#3c3c3c" stroke-width="0.6"/>
<line x1="388.93" y1="135.28" x2="388.36" y2="132.24" stroke="#3c3c3c" stroke-width="0.6"/>
<line x1="390.63" y1="134.98" x2="389.04" y2="125.92" stroke="#3c3c3c" stroke-width="0.6"/>
<path d="M388.93,135.28 A146.88,146.88 0 0 1 390.63,134.98" fill="none" stroke="#3c3c3c" stroke-width="0.6"/>
<line x1="390.95" y1="141.58" x2="389.78" y2="135.13" stroke="#3c3c3c" stroke-width="0.6"/>
<line x1="391.87" y1="131.87" x2="391.32" y2="128.53" stroke="#3c3c3c" stroke-width="0.6"/>
<line x1="393.6" y1="131.59" x2="391.45" y2="117.36" stroke="#3c3c3c" stroke-width="0.6"/>
<path d="M391.87,131.87 A149.74,149.74 0 0 1 393.6,131.59" fill="none" stroke="#3c3c3c" stroke-width="0.6"/>
<line x1="394.2" y1="141.03" x2="392.73" y2="131.73" stroke="#3c3c3c" stroke-width="0.6"/>
<path d="M390.95,141.58 A140.33,140.33 0 0 1 394.2,141.03" fill="none" stroke="#3c3c3c" stroke-width="0.6"/>
<line x1="396.73" y1="165.86" x2="392.57" y2="141.29" stroke="#3c3c3c" stroke-width="0.6"/>
<path d="M390.64,167.06 A115.41,115.41 0 0 1 396.73,165.86" fill="none" stroke="#3c3c3c" stroke-width="0.6"/>
<line x1="394.56" y1="170.9" x2="393.68" y2="166.41" stroke="#3c3c3c" stroke-width="0.6"/>
<line x1="396.56" y1="140.09" x2="393.71" y2="119.63" stroke="#3c3c3c" stroke-width="0.6"/>
<line x1="396.99" y1="130.39" x2="396.16" y2="123.89" stroke="#3c3c3c" stroke-width="0.6"/>
<line x1="397.62" y1="120.47" x2="397.32" y2="117.9" stroke="#3c3c3c" stroke-width="0.6"/>
<line x1="399.49" y1="120.26" x2="399.22" y2="117.65" stroke="#3c3c3c" stroke-width="0.6"/>
<path d="M397.62,120.47 A160.24,160.24 0 0 1 399.49,120.26" fill="none" stroke="#3c3c3c" stroke-width="0.6"/>
<line x1="399.62" y1="130.08" x2="398.56" y2="120.36" stroke="#3c3c3c" stroke-width="0.6"/>
<path d="M396.99,130.39 A150.47,150.47 0 0 1 399.62,130.08" fill="none" stroke="#3c3c3c" stroke-width="0.6"/>
<line x1="399.43" y1="139.72" x2="398.3" y2="130.23" stroke="#3c3c3c" stroke-width="0.6"/>
<path d="M396.56,140.09 A140.9,140.9 0 0 1 399.43,139.72" fill="none" stroke="#3c3c3c" stroke-width="0.6"/>
<line x1="400" y1="155.46" x2="397.99" y2="139.9" stroke="#3c3c3c" stroke-width="0.6"/>
<line x1="402.16" y1="128.8" x2="400.83" y2="114.31" stroke="#3c3c3c" stroke-width="0.6"/>
<line x1="403.93" y1="128.65" x2="403.85" y2="127.65" stroke="#3c3c3c" stroke-width="0.6"/>
<path d="M402.16,128.8 A151.48,151.48 0 0 1 403.93,128.65" fill="none" stroke="#3c3c3c" stroke-width="0.6"/>
<line x1="403.32" y1="131.93" x2="403.05" y2="128.72" stroke="#3c3c3c" stroke-width="0.6"/>
<line x1="405.92" y1="131.73" x2="404.68" y2="113.43" stroke="#3c3c3c" stroke-width="0.6"/>
<path d="M403.32,131.93 A148.26,148.26 0 0 1 405.92,131.73" fill="none" stroke="#3c3c3c" stroke-width="0.6"/>
<line x1="406.39" y1="154.8" x2="404.62" y2="131.83" stroke="#3c3c3c" stroke-width="0.6"/>
<path d="M400,155.46 A125.22,125.22 0 0 1 406.39,154.8" fill="none" stroke="#3c3c3c" stroke-width="0.6"/>
<line x1="404.66" y1="169.39" x2="403.19" y2="155.09" stroke="#3c3c3c" stroke-width="0.6"/>
<path d="M394.56,170.9 A110.84,110.84 0 0 1 404.66,169.39" fill="none" stroke="#3c3c3c" stroke-width="0.6"/>
<line x1="400.15" y1="173.75" x2="399.59" y2="170.03" stroke="#3c3c3c" stroke-width="0.6"/>
<path d="M376.28,180.21 A107.08,107.08 0 0 1 400.15,173.75" fill="none" stroke="#3c3c3c" stroke-width="0.6"/>
<line x1="392.13" y1="191.43" x2="388.03" y2="176.29" stroke="#3c3c3c" stroke-width="0.6"/>
<line x1="410.86" y1="188.4" x2="407.46" y2="128" stroke="#3c3c3c" stroke-width="0.6"/>
<path d="M392.13,191.43 A91.39,91.39 0 0 1 410.86,188.4" fill="none" stroke="#3c3c3c" stroke-width="0.6"/>
<line x1="404.34" y1="207.54" x2="401.41" y2="189.43" stroke="#3c3c3c" stroke-width="0.6"/>
<line x1="409.63" y1="136.87" x2="408.94" y2="121.22" stroke="#3c3c3c" stroke-width="0.6"/>
<line x1="410.86" y1="122.95" x2="410.69" y2="117.95" stroke="#3c3c3c" stroke-width="0.6"/>
<line x1="412.69" y1="122.91" x2="412.46" y2="111.84" stroke="#3c3c3c" stroke-width="0.6"/>
<path d="M410.86,122.95 A156.78,156.78 0 0 1 412.69,122.91" fill="none" stroke="#3c3c3c" stroke-width="0.6"/>
<line x1="412.15" y1="136.78" x2="411.77" y2="122.93" stroke="#3c3c3c" stroke-width="0.6"/>
<path d="M409.63,136.87 A142.92,142.92 0 0 1 412.15,136.78" fill="none" stroke="#3c3c3c" stroke-width="0.6"/>
<line x1="411.43" y1="151.9" x2="410.89" y2="136.82" stroke="#3c3c3c" stroke-width="0.6"/>
<line x1="414.8" y1="151.83" x2="414.49" y2="118.29" stroke="#3c3c3c" stroke-width="0.6"/>
<path d="M411.43,151.9 A127.83,127.83 0 0 1 414.8,151.83" fill="none" stroke="#3c3c3c" stroke-width="0.6"/>
<line x1="413.62" y1="174.36" x2="413.12" y2="151.85" stroke="#3c3c3c" stroke-width="0.6"/>
<line x1="416.79" y1="154.98" x2="417.05" y2="113.74" stroke="#3c3c3c" stroke-width="0.6"/>
<line x1="418.95" y1="124.83" x2="419.1" y2="117.27" stroke="#3c3c3c" stroke-width="0.6"/>
<line x1="420.92" y1="124.88" x2="421.04" y2="121.05" stroke="#3c3c3c" stroke-width="0.6"/>
<path d="M418.95,124.83 A154.85,154.85 0 0 1 420.92,124.88" fill="none" stroke="#3c3c3c" stroke-width="0.6"/>
<line x1="419.48" y1="142.77" x2="419.94" y2="124.85" stroke="#3c3c3c" stroke-width="0.6"/>
<line x1="422.09" y1="142.86" x2="422.38" y2="136.43" stroke="#3c3c3c" stroke-width="0.6"/>
<path d="M419.48,142.77 A136.92,136.92 0 0 1 422.09,142.86" fill="none" stroke="#3c3c3c" stroke-width="0.6"/>
<line x1="420.36" y1="155.06" x2="420.79" y2="142.81" stroke="#3c3c3c" stroke-width="0.6"/>
<path d="M416.79,154.98 A124.67,124.67 0 0 1 420.36,155.06" fill="none" stroke="#3c3c3c" stroke-width="0.6"/>
<line x1="418.32" y1="167.63" x2="418.58" y2="155.01" stroke="#3c3c3c" stroke-width="0.6"/>
<line x1="423.19" y1="154.21" x2="424.43" y2="132.5" stroke="#3c3c3c" stroke-width="0.6"/>
<line x1="425.43" y1="145.09" x2="426.21" y2="133.89" stroke="#3c3c3c" stroke-width="0.6"/>
<line x1="427.14" y1="145.22" x2="427.22" y2="144.22" stroke="#3c3c3c" stroke-width="0.6"/>
<path d="M425.43,145.09 A134.89,134.89 0 0 1 427.14,145.22" fill="none" stroke="#3c3c3c" stroke-width="0.6"/>
<line x1="426.23" y1="145.82" x2="426.28" y2="145.15" stroke="#3c3c3c" stroke-width="0.6"/>
<line x1="428.86" y1="146.05" x2="430.51" y2="128.96" stroke="#3c3c3c" stroke-width="0.6"/>
<path d="M426.23,145.82 A134.22,134.22 0 0 1 428.86,146.05" fill="none" stroke="#3c3c3c" stroke-width="0.6"/>
<line x1="426.81" y1="154.47" x2="427.55" y2="145.93" stroke="#3c3c3c" stroke-width="0.6"/>
<path d="M423.19,154.21 A125.64,125.64 0 0 1 426.81,154.47" fill="none" stroke="#3c3c3c" stroke-width="0.6"/>
<line x1="424.03" y1="167.89" x2="425" y2="154.33" stroke="#3c3c3c" stroke-width="0.6"/>
<path d="M418.32,167.63 A112.05,112.05 0 0 1 424.03,167.89" fill="none" stroke="#3c3c3c" stroke-width="0.6"/>
<line x1="420.86" y1="174.44" x2="421.17" y2="167.72" stroke="#3c3c3c" stroke-width="0.6"/>
<path d="M413.62,174.36 A105.32,105.32 0 0 1 420.86,174.44" fill="none" stroke="#3c3c3c" stroke-width="0.6"/>
<line x1="417.07" y1="189.24" x2="417.24" y2="174.34" stroke="#3c3c3c" stroke-width="0.6"/>
<line x1="427.29" y1="176.58" x2="432.37" y2="130.16" stroke="#3c3c3c" stroke-width="0.6"/>
<line x1="432.55" y1="143.85" x2="433.84" y2="133.28" stroke="#3c3c3c" stroke-width="0.6"/>
<line x1="434.21" y1="144.06" x2="435.02" y2="138.04" stroke="#3c3c3c" stroke-width="0.6"/>
<path d="M432.55,143.85 A136.8,136.8 0 0 1 434.21,144.06" fill="none" stroke="#3c3c3c" stroke-width="0.6"/>
<line x1="431.84" y1="155.98" x2="433.38" y2="143.96" stroke="#3c3c3c" stroke-width="0.6"/>
<line x1="436.29" y1="141.44" x2="438.71" y2="124.9" stroke="#3c3c3c" stroke-width="0.6"/>
<line x1="438.27" y1="139.86" x2="440.48" y2="125.98" stroke="#3c3c3c" stroke-width="0.6"/>
<line x1="439.97" y1="140.14" x2="440.14" y2="139.15" stroke="#3c3c3c" stroke-width="0.6"/>
<path d="M438.27,139.86 A141.56,141.56 0 0 1 439.97,140.14" fill="none" stroke="#3c3c3c" stroke-width="0.6"/>
<line x1="438.82" y1="141.83" x2="439.12" y2="140" stroke="#3c3c3c" stroke-width="0.6"/>
<path d="M436.29,141.44 A139.69,139.69 0 0 1 438.82,141.83" fill="none" stroke="#3c3c3c" stroke-width="0.6"/>
<line x1="437.18" y1="144.02" x2="437.55" y2="141.63" stroke="#3c3c3c" stroke-width="0.6"/>
<line x1="440.9" y1="144.66" x2="442.25" y2="137.31" stroke="#3c3c3c" stroke-width="0.6"/>
<path d="M437.18,144.02 A137.27,137.27 0 0 1 440.9,144.66" fill="none" stroke="#3c3c3c" stroke-width="0.6"/>
<line x1="436.93" y1="156.74" x2="439.04" y2="144.33" stroke="#3c3c3c" stroke-width="0.6"/>
<path d="M431.84,155.98 A124.68,124.68 0 0 1 436.93,156.74" fill="none" stroke="#3c3c3c" stroke-width="0.6"/>
<line x1="431.29" y1="177.1" x2="434.39" y2="156.33" stroke="#3c3c3c" stroke-width="0.6"/>
<path d="M427.29,176.58 A103.68,103.68 0 0 1 431.29,177.1" fill="none" stroke="#3c3c3c" stroke-width="0.6"/>
<line x1="428.13" y1="185.82" x2="429.29" y2="176.82" stroke="#3c3c3c" stroke-width="0.6"/>
<line x1="434.3" y1="186.83" x2="443.83" y2="138.46" stroke="#3c3c3c" stroke-width="0.6"/>
<path d="M428.13,185.82 A94.61,94.61 0 0 1 434.3,186.83" fill="none" stroke="#3c3c3c" stroke-width="0.6"/>
<line x1="430.55" y1="190.41" x2="431.22" y2="186.27" stroke="#3c3c3c" stroke-width="0.6"/>
<path d="M417.07,189.24 A90.41,90.41 0 0 1 430.55,190.41" fill="none" stroke="#3c3c3c" stroke-width="0.6"/>
<line x1="422.33" y1="206.87" x2="423.83" y2="189.58" stroke="#3c3c3c" stroke-width="0.6"/>
<path d="M404.34,207.54 A73.05,73.05 0 0 1 422.33,206.87" fill="none" stroke="#3c3c3c" stroke-width="0.6"/>
<line x1="413.87" y1="221.69" x2="413.31" y2="206.65" stroke="#3c3c3c" stroke-width="0.6"/>
<line x1="436.96" y1="179.78" x2="447.83" y2="127.93" stroke="#3c3c3c" stroke-width="0.6"/>
<line x1="438.17" y1="180.04" x2="447.02" y2="140.3" stroke="#3c3c3c" stroke-width="0.6"/>
<path d="M436.96,179.78 A102.05,102.05 0 0 1 438.17,180.04" fill="none" stroke="#3c3c3c" stroke-width="0.6"/>
<line x1="429.46" y1="217.39" x2="437.56" y2="179.91" stroke="#3c3c3c" stroke-width="0.6"/>
<line x1="444.4" y1="159.06" x2="452.41" y2="125.04" stroke="#3c3c3c" stroke-width="0.6"/>
<line x1="453.51" y1="128.65" x2="454.65" y2="124.06" stroke="#3c3c3c" stroke-width="0.6"/>
<line x1="455.51" y1="129.16" x2="455.97" y2="127.43" stroke="#3c3c3c" stroke-width="0.6"/>
<path d="M453.51,128.65 A155.59,155.59 0 0 1 455.51,129.16" fill="none" stroke="#3c3c3c" stroke-width="0.6"/>
<line x1="454.18" y1="130.21" x2="454.51" y2="128.91" stroke="#3c3c3c" stroke-width="0.6"/>
<line x1="457.39" y1="128.74" x2="459.94" y2="119.44" stroke="#3c3c3c" stroke-width="0.6"/>
<line x1="459.04" y1="129.2" x2="459.84" y2="126.38" stroke="#3c3c3c" stroke-width="0.6"/>
<path d="M457.39,128.74 A156.49,156.49 0 0 1 459.04,129.2" fill="none" stroke="#3c3c3c" stroke-width="0.6"/>
<line x1="457.61" y1="131.13" x2="458.21" y2="128.96" stroke="#3c3c3c" stroke-width="0.6"/>
<path d="M454.18,130.21 A154.24,154.24 0 0 1 457.61,131.13" fill="none" stroke="#3c3c3c" stroke-width="0.6"/>
<line x1="453.22" y1="140.63" x2="455.9" y2="130.66" stroke="#3c3c3c" stroke-width="0.6"/>
<line x1="457.08" y1="141.73" x2="461.73" y2="126.13" stroke="#3c3c3c" stroke-width="0.6"/>
<path d="M453.22,140.63 A143.91,143.91 0 0 1 457.08,141.73" fill="none" stroke="#3c3c3c" stroke-width="0.6"/>
<line x1="449.71" y1="160.43" x2="455.16" y2="141.17" stroke="#3c3c3c" stroke-width="0.6"/>
<path d="M444.4,159.06 A123.89,123.89 0 0 1 449.71,160.43" fill="none" stroke="#3c3c3c" stroke-width="0.6"/>
<line x1="431.97" y1="217.99" x2="447.06" y2="159.72" stroke="#3c3c3c" stroke-width="0.6"/>
<path d="M429.46,217.39 A63.69,63.69 0 0 1 431.97,217.99" fill="none" stroke="#3c3c3c" stroke-width="0.6"/>
<line x1="429.4" y1="223.22" x2="430.72" y2="217.68" stroke="#3c3c3c" stroke-width="0.6"/>
<path d="M413.87,221.69 A58,58 0 0 1 429.4,223.22" fill="none" stroke="#3c3c3c" stroke-width="0.6"/>
<line x1="319.5" y1="213.47" x2="310.18" y2="207.08" stroke="#3c3c3c" stroke-width="0.6"/>
<line x1="314.54" y1="208.28" x2="302.48" y2="199.8" stroke="#3c3c3c" stroke-width="0.6"/>
<line x1="310.54" y1="203.57" x2="306.92" y2="200.96" stroke="#3c3c3c" stroke-width="0.6"/>
<line x1="309.99" y1="201.24" x2="305.14" y2="197.65" stroke="#3c3c3c" stroke-width="0.6"/>
<line x1="310.93" y1="199.98" x2="309.23" y2="198.69" stroke="#3c3c3c" stroke-width="0.6"/>
<path d="M309.99,201.24 A131.86,131.86 0 0 1 310.93,199.98" fill="none" stroke="#3c3c3c" stroke-width="0.6"/>
<line x1="311.92" y1="201.7" x2="310.46" y2="200.61" stroke="#3c3c3c" stroke-width="0.6"/>
<path d="M310.54,203.57 A130.03,130.03 0 0 1 311.92,201.7" fill="none" stroke="#3c3c3c" stroke-width="0.6"/>
<line x1="316.05" y1="206.18" x2="311.23" y2="202.63" stroke="#3c3c3c" stroke-width="0.6"/>
<path d="M314.54,208.28 A124.05,124.05 0 0 1 316.05,206.18" fill="none" stroke="#3c3c3c" stroke-width="0.6"/>
<line x1="321" y1="211.34" x2="315.29" y2="207.22" stroke="#3c3c3c" stroke-width="0.6"/>
<path d="M319.5,213.47 A117.01,117.01 0 0 1 321,211.34" fill="none" stroke="#3c3c3c" stroke-width="0.6"/>
<line x1="358.72" y1="239.42" x2="320.25" y2="212.4" stroke="#3c3c3c" stroke-width="0.6"/>
<line x1="343.7" y1="223.46" x2="299.98" y2="189.48" stroke="#3c3c3c" stroke-width="0.6"/>
<line x1="328.39" y1="209.87" x2="302.75" y2="189.45" stroke="#3c3c3c" stroke-width="0.6"/>
<line x1="317.77" y1="199.49" x2="303.67" y2="187.98" stroke="#3c3c3c" stroke-width="0.6"/>
<line x1="315.49" y1="195.6" x2="314.72" y2="194.96" stroke="#3c3c3c" stroke-width="0.6"/>
<line x1="316.49" y1="194.41" x2="306.9" y2="186.19" stroke="#3c3c3c" stroke-width="0.6"/>
<path d="M315.49,195.6 A131.02,131.02 0 0 1 316.49,194.41" fill="none" stroke="#3c3c3c" stroke-width="0.6"/>
<line x1="316.95" y1="195.82" x2="315.99" y2="195.01" stroke="#3c3c3c" stroke-width="0.6"/>
<line x1="318.46" y1="194.06" x2="314.03" y2="190.18" stroke="#3c3c3c" stroke-width="0.6"/>
<path d="M316.95,195.82 A129.76,129.76 0 0 1 318.46,194.06" fill="none" stroke="#3c3c3c" stroke-width="0.6"/>
<line x1="319.96" y1="196.88" x2="317.7" y2="194.94" stroke="#3c3c3c" stroke-width="0.6"/>
<path d="M317.77,199.49 A126.78,126.78 0 0 1 319.96,196.88" fill="none" stroke="#3c3c3c" stroke-width="0.6"/>
<line x1="330.18" y1="207.67" x2="318.86" y2="198.18" stroke="#3c3c3c" stroke-width="0.6"/>
<path d="M328.39,209.87 A112.01,112.01 0 0 1 330.18,207.67" fill="none" stroke="#3c3c3c" stroke-width="0.6"/>
<line x1="340.32" y1="217.79" x2="329.28" y2="208.76" stroke="#3c3c3c" stroke-width="0.6"/>
<line x1="317.95" y1="191.52" x2="310.38" y2="184.72" stroke="#3c3c3c" stroke-width="0.6"/>
<line x1="319" y1="190.36" x2="315.57" y2="187.2" stroke="#3c3c3c" stroke-width="0.6"/>
<path d="M317.95,191.52 A131.84,131.84 0 0 1 319,190.36" fill="none" stroke="#3c3c3c" stroke-width="0.6"/>
<line x1="328.43" y1="200" x2="318.47" y2="190.94" stroke="#3c3c3c" stroke-width="0.6"/>
<line x1="329.87" y1="198.45" x2="320.69" y2="189.79" stroke="#3c3c3c" stroke-width="0.6"/>
<path d="M328.43,200 A118.37,118.37 0 0 1 329.87,198.45" fill="none" stroke="#3c3c3c" stroke-width="0.6"/>
<line x1="344.28" y1="213.23" x2="329.15" y2="199.22" stroke="#3c3c3c" stroke-width="0.6"/>
<path d="M340.32,217.79 A97.75,97.75 0 0 1 344.28,213.23" fill="none" stroke="#3c3c3c" stroke-width="0.6"/>
<line x1="346.92" y1="219.54" x2="342.26" y2="215.48" stroke="#3c3c3c" stroke-width="0.6"/>
<path d="M343.7,223.46 A91.57,91.57 0 0 1 346.92,219.54" fill="none" stroke="#3c3c3c" stroke-width="0.6"/>
<line x1="352.52" y1="227.43" x2="345.28" y2="221.47" stroke="#3c3c3c" stroke-width="0.6"/>
<line x1="332.41" y1="198.94" x2="324.02" y2="190.84" stroke="#d2409c" stroke-width="0.6"/>
<line x1="324.59" y1="189.26" x2="313.61" y2="178.4" stroke="#d2409c" stroke-width="0.6"/>
<line x1="324.11" y1="186.59" x2="323.39" y2="185.86" stroke="#d2409c" stroke-width="0.6"/>
<line x1="325.22" y1="185.5" x2="321.1" y2="181.22" stroke="#d2409c" stroke-width="0.6"/>
<path d="M324.11,186.59 A130.78,130.78 0 0 1 325.22,185.5" fill="none" stroke="#d2409c" stroke-width="0.6"/>
<line x1="326.22" y1="187.64" x2="324.66" y2="186.05" stroke="#d2409c" stroke-width="0.6"/>
<path d="M324.59,189.26 A128.55,128.55 0 0 1 326.22,187.64" fill="none" stroke="#d2409c" stroke-width="0.6"/>
<line x1="334.11" y1="197.22" x2="325.4" y2="188.45" stroke="#d2409c" stroke-width="0.6"/>
<path d="M332.41,198.94 A116.19,116.19 0 0 1 334.11,197.22" fill="none" stroke="#d2409c" stroke-width="0.6"/>
<line x1="346.1" y1="210.73" x2="333.26" y2="198.08" stroke="#3c3c3c" stroke-width="0.6"/>
<line x1="326.75" y1="184.85" x2="318.95" y2="176.57" stroke="#d2409c" stroke-width="0.6"/>
<line x1="325.33" y1="181.01" x2="320.65" y2="175.93" stroke="#d2409c" stroke-width="0.6"/>
<line x1="319.81" y1="172.47" x2="316.28" y2="168.54" stroke="#d2409c" stroke-width="0.6"/>
<line x1="321.09" y1="171.33" x2="317.58" y2="167.33" stroke="#d2409c" stroke-width="0.6"/>
<path d="M319.81,172.47 A144.01,144.01 0 0 1 321.09,171.33" fill="none" stroke="#d2409c" stroke-width="0.6"/>
<line x1="324.57" y1="176.56" x2="320.45" y2="171.9" stroke="#d2409c" stroke-width="0.6"/>
<line x1="326.43" y1="174.94" x2="325.34" y2="173.66" stroke="#d2409c" stroke-width="0.6"/>
<path d="M324.57,176.56 A137.79,137.79 0 0 1 326.43,174.94" fill="none" stroke="#d2409c" stroke-width="0.6"/>
<line x1="328" y1="178.62" x2="325.5" y2="175.74" stroke="#d2409c" stroke-width="0.6"/>
<path d="M325.33,181.01 A133.98,133.98 0 0 1 328,178.62" fill="none" stroke="#d2409c" stroke-width="0.6"/>
<line x1="329.18" y1="182.62" x2="326.66" y2="179.81" stroke="#d2409c" stroke-width="0.6"/>
<path d="M326.75,184.85 A130.2,130.2 0 0 1 329.18,182.62" fill="none" stroke="#d2409c" stroke-width="0.6"/>
<line x1="346.78" y1="204.24" x2="327.95" y2="183.73" stroke="#d2409c" stroke-width="0.6"/>
<line x1="329.55" y1="176.11" x2="322.31" y2="167.45" stroke="#d2409c" stroke-width="0.6"/>
<line x1="324.58" y1="167.47" x2="319.71" y2="161.5" stroke="#d2409c" stroke-width="0.6"/>
<line x1="325.92" y1="166.39" x2="320.97" y2="160.16" stroke="#d2409c" stroke-width="0.6"/>
<path d="M324.58,167.47 A144.71,144.71 0 0 1 325.92,166.39" fill="none" stroke="#d2409c" stroke-width="0.6"/>
<line x1="331.41" y1="174.58" x2="325.25" y2="166.93" stroke="#d2409c" stroke-width="0.6"/>
<path d="M329.55,176.11 A134.89,134.89 0 0 1 331.41,174.58" fill="none" stroke="#d2409c" stroke-width="0.6"/>
<line x1="351.09" y1="200.49" x2="330.48" y2="175.34" stroke="#d2409c" stroke-width="0.6"/>
<path d="M346.78,204.24 A102.37,102.37 0 0 1 351.09,200.49" fill="none" stroke="#d2409c" stroke-width="0.6"/>
<line x1="351.66" y1="205.51" x2="348.91" y2="202.33" stroke="#3c3c3c" stroke-width="0.6"/>
<path d="M346.1,210.73 A98.17,98.17 0 0 1 351.66,205.51" fill="none" stroke="#3c3c3c" stroke-width="0.6"/>
<line x1="359.76" y1="219.71" x2="348.83" y2="208.06" stroke="#3c3c3c" stroke-width="0.6"/>
<path d="M352.52,227.43 A82.2,82.2 0 0 1 359.76,219.71" fill="none" stroke="#3c3c3c" stroke-width="0.6"/>
<line x1="361.07" y1="228.19" x2="356.01" y2="223.45" stroke="#3c3c3c" stroke-width="0.6"/>
<line x1="330.83" y1="169.9" x2="319.79" y2="155.68" stroke="#3c3c3c" stroke-width="0.6"/>
<line x1="332.14" y1="168.89" x2="327.38" y2="162.61" stroke="#3c3c3c" stroke-width="0.6"/>
<path d="M330.83,169.9 A138.92,138.92 0 0 1 332.14,168.89" fill="none" stroke="#3c3c3c" stroke-width="0.6"/>
<line x1="334.7" y1="173.59" x2="331.48" y2="169.39" stroke="#3c3c3c" stroke-width="0.6"/>
<line x1="336.6" y1="172.15" x2="328.45" y2="161.12" stroke="#3c3c3c" stroke-width="0.6"/>
<path d="M334.7,173.59 A133.64,133.64 0 0 1 336.6,172.15" fill="none" stroke="#3c3c3c" stroke-width="0.6"/>
<line x1="367.31" y1="214.94" x2="335.65" y2="172.87" stroke="#3c3c3c" stroke-width="0.6"/>
<line x1="356.25" y1="196.7" x2="324" y2="151.93" stroke="#3c3c3c" stroke-width="0.6"/>
<line x1="335.59" y1="165.17" x2="331.14" y2="158.84" stroke="#3c3c3c" stroke-width="0.6"/>
<line x1="336.96" y1="164.23" x2="331.35" y2="156.03" stroke="#3c3c3c" stroke-width="0.6"/>
<path d="M335.59,165.17 A139.89,139.89 0 0 1 336.96,164.23" fill="none" stroke="#3c3c3c" stroke-width="0.6"/>
<line x1="343.52" y1="175.14" x2="336.28" y2="164.7" stroke="#3c3c3c" stroke-width="0.6"/>
<line x1="345.4" y1="173.87" x2="339.42" y2="164.91" stroke="#3c3c3c" stroke-width="0.6"/>
<path d="M343.52,175.14 A127.18,127.18 0 0 1 345.4,173.87" fill="none" stroke="#3c3c3c" stroke-width="0.6"/>
<line x1="356.65" y1="192.42" x2="344.46" y2="174.5" stroke="#3c3c3c" stroke-width="0.6"/>
<line x1="350.01" y1="178.18" x2="349.15" y2="176.85" stroke="#3c3c3c" stroke-width="0.6"/>
<line x1="351.22" y1="177.4" x2="346.97" y2="170.67" stroke="#3c3c3c" stroke-width="0.6"/>
<path d="M350.01,178.18 A121.04,121.04 0 0 1 351.22,177.4" fill="none" stroke="#3c3c3c" stroke-width="0.6"/>
<line x1="352.63" y1="180.92" x2="350.62" y2="177.78" stroke="#3c3c3c" stroke-width="0.6"/>
<line x1="354.4" y1="179.8" x2="352.35" y2="176.48" stroke="#3c3c3c" stroke-width="0.6"/>
<path d="M352.63,180.92 A117.32,117.32 0 0 1 354.4,179.8" fill="none" stroke="#3c3c3c" stroke-width="0.6"/>
<line x1="355.48" y1="183.48" x2="353.51" y2="180.36" stroke="#3c3c3c" stroke-width="0.6"/>
<line x1="357.49" y1="182.23" x2="352.05" y2="173.17" stroke="#3c3c3c" stroke-width="0.6"/>
<path d="M355.48,183.48 A113.63,113.63 0 0 1 357.49,182.23" fill="none" stroke="#3c3c3c" stroke-width="0.6"/>
<line x1="360.74" y1="189.77" x2="356.48" y2="182.85" stroke="#3c3c3c" stroke-width="0.6"/>
<path d="M356.65,192.42 A105.51,105.51 0 0 1 360.74,189.77" fill="none" stroke="#3c3c3c" stroke-width="0.6"/>
<line x1="360.46" y1="193.83" x2="358.68" y2="191.07" stroke="#3c3c3c" stroke-width="0.6"/>
<path d="M356.25,196.7 A102.23,102.23 0 0 1 360.46,193.83" fill="none" stroke="#3c3c3c" stroke-width="0.6"/>
<line x1="363.2" y1="202.36" x2="358.34" y2="195.24" stroke="#3c3c3c" stroke-width="0.6"/>
<line x1="361.76" y1="186.85" x2="349.87" y2="166.5" stroke="#3c3c3c" stroke-width="0.6"/>
<line x1="362.87" y1="186.21" x2="356.78" y2="175.5" stroke="#3c3c3c" stroke-width="0.6"/>
<path d="M361.76,186.85 A107.49,107.49 0 0 1 362.87,186.21" fill="none" stroke="#3c3c3c" stroke-width="0.6"/>
<line x1="369.25" y1="198.56" x2="362.31" y2="186.53" stroke="#3c3c3c" stroke-width="0.6"/>
<path d="M363.2,202.36 A93.6,93.6 0 0 1 369.25,198.56" fill="none" stroke="#3c3c3c" stroke-width="0.6"/>
<line x1="367.83" y1="203.01" x2="366.19" y2="200.41" stroke="#3c3c3c" stroke-width="0.6"/>
<line x1="372.19" y1="200.43" x2="354.77" y2="168.92" stroke="#3c3c3c" stroke-width="0.6"/>
<path d="M367.83,203.01 A90.53,90.53 0 0 1 372.19,200.43" fill="none" stroke="#3c3c3c" stroke-width="0.6"/>
<line x1="374.84" y1="209.9" x2="369.99" y2="201.69" stroke="#3c3c3c" stroke-width="0.6"/>
<path d="M367.31,214.94 A80.99,80.99 0 0 1 374.84,209.9" fill="none" stroke="#3c3c3c" stroke-width="0.6"/>
<line x1="374.18" y1="217.07" x2="371" y2="212.32" stroke="#3c3c3c" stroke-width="0.6"/>
<path d="M361.07,228.19 A75.27,75.27 0 0 1 374.18,217.07" fill="none" stroke="#3c3c3c" stroke-width="0.6"/>
<line x1="370.71" y1="226.27" x2="367.3" y2="222.25" stroke="#3c3c3c" stroke-width="0.6"/>
<path d="M358.72,239.42 A70,70 0 0 1 370.71,226.27" fill="none" stroke="#3c3c3c" stroke-width="0.6"/>
<line x1="469.86" y1="275.72" x2="503.83" y2="273.25" stroke="#3c3c3c" stroke-width="0.6"/>
<line x1="476.5" y1="275.94" x2="508.66" y2="273.97" stroke="#3c3c3c" stroke-width="0.6"/>
<line x1="493.86" y1="275.78" x2="505.33" y2="275.21" stroke="#3c3c3c" stroke-width="0.6"/>
<line x1="497.1" y1="276.56" x2="508.18" y2="276.14" stroke="#3c3c3c" stroke-width="0.6"/>
<line x1="497.13" y1="277.5" x2="498.15" y2="277.47" stroke="#3c3c3c" stroke-width="0.6"/>
<path d="M497.1,276.56 A81.16,81.16 0 0 1 497.13,277.5" fill="none" stroke="#3c3c3c" stroke-width="0.6"/>
<line x1="493.91" y1="277.13" x2="497.12" y2="277.03" stroke="#3c3c3c" stroke-width="0.6"/>
<path d="M493.86,275.78 A77.95,77.95 0 0 1 493.91,277.13" fill="none" stroke="#3c3c3c" stroke-width="0.6"/>
<line x1="487.74" y1="276.71" x2="493.89" y2="276.46" stroke="#3c3c3c" stroke-width="0.6"/>
<line x1="487.79" y1="278.58" x2="502.33" y2="278.36" stroke="#3c3c3c" stroke-width="0.6"/>
<path d="M487.74,276.71 A71.8,71.8 0 0 1 487.79,278.58" fill="none" stroke="#3c3c3c" stroke-width="0.6"/>
<line x1="478.65" y1="277.9" x2="487.77" y2="277.64" stroke="#3c3c3c" stroke-width="0.6"/>
<line x1="492.31" y1="279.39" x2="495.76" y2="279.38" stroke="#3c3c3c" stroke-width="0.6"/>
<line x1="495.77" y1="280.3" x2="499.24" y2="280.33" stroke="#3c3c3c" stroke-width="0.6"/>
<line x1="498.57" y1="281.28" x2="501.95" y2="281.35" stroke="#3c3c3c" stroke-width="0.6"/>
<line x1="498.55" y1="282.24" x2="505.64" y2="282.46" stroke="#3c3c3c" stroke-width="0.6"/>
<path d="M498.57,281.28 A82.59,82.59 0 0 1 498.55,282.24" fill="none" stroke="#3c3c3c" stroke-width="0.6"/>
<line x1="495.75" y1="281.69" x2="498.56" y2="281.76" stroke="#3c3c3c" stroke-width="0.6"/>
<path d="M495.77,280.3 A79.77,79.77 0 0 1 495.75,281.69" fill="none" stroke="#3c3c3c" stroke-width="0.6"/>
<line x1="492.3" y1="280.94" x2="495.76" y2="280.99" stroke="#3c3c3c" stroke-width="0.6"/>
<path d="M492.31,279.39 A76.31,76.31 0 0 1 492.3,280.94" fill="none" stroke="#3c3c3c" stroke-width="0.6"/>
<line x1="486.2" y1="280.12" x2="492.3" y2="280.16" stroke="#3c3c3c" stroke-width="0.6"/>
<line x1="486.14" y1="282.66" x2="502.32" y2="283.35" stroke="#3c3c3c" stroke-width="0.6"/>
<path d="M486.2,280.12 A70.2,70.2 0 0 1 486.14,282.66" fill="none" stroke="#3c3c3c" stroke-width="0.6"/>
<line x1="478.65" y1="281.2" x2="486.18" y2="281.39" stroke="#3c3c3c" stroke-width="0.6"/>
<path d="M478.65,277.9 A62.67,62.67 0 0 1 478.65,281.2" fill="none" stroke="#3c3c3c" stroke-width="0.6"/>
<line x1="476.62" y1="279.55" x2="478.67" y2="279.55" stroke="#3c3c3c" stroke-width="0.6"/>
<path d="M476.5,275.94 A60.62,60.62 0 0 1 476.62,279.55" fill="none" stroke="#3c3c3c" stroke-width="0.6"/>
<line x1="473.26" y1="277.85" x2="476.59" y2="277.75" stroke="#3c3c3c" stroke-width="0.6"/>
<line x1="496.88" y1="284.06" x2="504.74" y2="284.49" stroke="#3c3c3c" stroke-width="0.6"/>
<line x1="504.45" y1="285.5" x2="509.31" y2="285.82" stroke="#3c3c3c" stroke-width="0.6"/>
<line x1="504.38" y1="286.52" x2="505.38" y2="286.6" stroke="#3c3c3c" stroke-width="0.6"/>
<path d="M504.45,285.5 A88.64,88.64 0 0 1 504.38,286.52" fill="none" stroke="#3c3c3c" stroke-width="0.6"/>
<line x1="504.42" y1="286.01" x2="504.42" y2="286.01" stroke="#3c3c3c" stroke-width="0.6"/>
<line x1="504.29" y1="287.54" x2="507.23" y2="287.8" stroke="#3c3c3c" stroke-width="0.6"/>
<path d="M504.42,286.01 A88.64,88.64 0 0 1 504.29,287.54" fill="none" stroke="#3c3c3c" stroke-width="0.6"/>
<line x1="502.6" y1="286.63" x2="504.36" y2="286.77" stroke="#3c3c3c" stroke-width="0.6"/>
<line x1="502.44" y1="288.38" x2="504.66" y2="288.61" stroke="#3c3c3c" stroke-width="0.6"/>
<path d="M502.6,286.63 A86.88,86.88 0 0 1 502.44,288.38" fill="none" stroke="#3c3c3c" stroke-width="0.6"/>
<line x1="496.66" y1="286.98" x2="502.53" y2="287.51" stroke="#3c3c3c" stroke-width="0.6"/>
<path d="M496.88,284.06 A81,81 0 0 1 496.66,286.98" fill="none" stroke="#3c3c3c" stroke-width="0.6"/>
<line x1="473.14" y1="283.8" x2="496.78" y2="285.52" stroke="#3c3c3c" stroke-width="0.6"/>
<path d="M473.26,277.85 A57.29,57.29 0 0 1 473.14,283.8" fill="none" stroke="#3c3c3c" stroke-width="0.6"/>
<line x1="469.99" y1="280.76" x2="473.28" y2="280.83" stroke="#3c3c3c" stroke-width="0.6"/>
<path d="M469.86,275.72 A54,54 0 0 1 469.99,280.76" fill="none" stroke="#3c3c3c" stroke-width="0.6"/>
<line x1="473.55" y1="286.86" x2="511.87" y2="291.66" stroke="#3c3c3c" stroke-width="0.6"/>
<line x1="505.61" y1="291.96" x2="512.62" y2="292.92" stroke="#3c3c3c" stroke-width="0.6"/>
<line x1="511.75" y1="293.96" x2="518.35" y2="294.95" stroke="#3c3c3c" stroke-width="0.6"/>
<line x1="511.57" y1="295.1" x2="516.52" y2="295.9" stroke="#3c3c3c" stroke-width="0.6"/>
<path d="M511.75,293.96 A96.81,96.81 0 0 1 511.57,295.1" fill="none" stroke="#3c3c3c" stroke-width="0.6"/>
<line x1="505.38" y1="293.55" x2="511.66" y2="294.53" stroke="#3c3c3c" stroke-width="0.6"/>
<path d="M505.61,291.96 A90.45,90.45 0 0 1 505.38,293.55" fill="none" stroke="#3c3c3c" stroke-width="0.6"/>
<line x1="499.93" y1="291.94" x2="505.5" y2="292.76" stroke="#3c3c3c" stroke-width="0.6"/>
<line x1="502.04" y1="294.61" x2="508.09" y2="295.66" stroke="#3c3c3c" stroke-width="0.6"/>
<line x1="501.86" y1="295.63" x2="505.1" y2="296.24" stroke="#3c3c3c" stroke-width="0.6"/>
<path d="M502.04,294.61 A87.34,87.34 0 0 1 501.86,295.63" fill="none" stroke="#3c3c3c" stroke-width="0.6"/>
<line x1="499.48" y1="294.68" x2="501.95" y2="295.12" stroke="#3c3c3c" stroke-width="0.6"/>
<path d="M499.93,291.94 A84.83,84.83 0 0 1 499.48,294.68" fill="none" stroke="#3c3c3c" stroke-width="0.6"/>
<line x1="482.85" y1="290.56" x2="499.72" y2="293.31" stroke="#3c3c3c" stroke-width="0.6"/>
<line x1="490.73" y1="294.48" x2="501.75" y2="296.67" stroke="#3c3c3c" stroke-width="0.6"/>
<line x1="498.84" y1="297.11" x2="501.42" y2="297.66" stroke="#d2409c" stroke-width="0.6"/>
<line x1="502.68" y1="299" x2="506.05" y2="299.76" stroke="#d2409c" stroke-width="0.6"/>
<line x1="502.78" y1="300.11" x2="506.88" y2="301.08" stroke="#d2409c" stroke-width="0.6"/>
<line x1="502.53" y1="301.14" x2="503.5" y2="301.38" stroke="#d2409c" stroke-width="0.6"/>
<path d="M502.78,300.11 A89.16,89.16 0 0 1 502.53,301.14" fill="none" stroke="#d2409c" stroke-width="0.6"/>
<line x1="502.66" y1="300.63" x2="502.66" y2="300.63" stroke="#d2409c" stroke-width="0.6"/>
<line x1="502.27" y1="302.17" x2="503.38" y2="302.46" stroke="#d2409c" stroke-width="0.6"/>
<path d="M502.66,300.63 A89.16,89.16 0 0 1 502.27,302.17" fill="none" stroke="#d2409c" stroke-width="0.6"/>
<line x1="502.13" y1="301.31" x2="502.47" y2="301.4" stroke="#d2409c" stroke-width="0.6"/>
<path d="M502.68,299 A88.81,88.81 0 0 1 502.13,301.31" fill="none" stroke="#d2409c" stroke-width="0.6"/>
<line x1="498.37" y1="299.2" x2="502.41" y2="300.16" stroke="#d2409c" stroke-width="0.6"/>
<path d="M498.84,297.11 A84.66,84.66 0 0 1 498.37,299.2" fill="none" stroke="#d2409c" stroke-width="0.6"/>
<line x1="494.87" y1="297.32" x2="498.61" y2="298.16" stroke="#d2409c" stroke-width="0.6"/>
<line x1="493.96" y1="300.99" x2="502.27" y2="303.27" stroke="#d2409c" stroke-width="0.6"/>
<path d="M494.87,297.32 A80.83,80.83 0 0 1 493.96,300.99" fill="none" stroke="#d2409c" stroke-width="0.6"/>
<line x1="489.93" y1="298.04" x2="494.43" y2="299.16" stroke="#3c3c3c" stroke-width="0.6"/>
<path d="M490.73,294.48 A76.19,76.19 0 0 1 489.93,298.04" fill="none" stroke="#3c3c3c" stroke-width="0.6"/>
<line x1="486.02" y1="295.3" x2="490.35" y2="296.27" stroke="#3c3c3c" stroke-width="0.6"/>
<line x1="495.56" y1="302.45" x2="508.06" y2="306.03" stroke="#3c3c3c" stroke-width="0.6"/>
<line x1="498.71" y1="304.42" x2="503.55" y2="305.87" stroke="#3c3c3c" stroke-width="0.6"/>
<line x1="500.27" y1="305.98" x2="502.76" y2="306.76" stroke="#3c3c3c" stroke-width="0.6"/>
<line x1="499.95" y1="306.98" x2="501.34" y2="307.43" stroke="#3c3c3c" stroke-width="0.6"/>
<path d="M500.27,305.98 A88.29,88.29 0 0 1 499.95,306.98" fill="none" stroke="#3c3c3c" stroke-width="0.6"/>
<line x1="498.26" y1="305.89" x2="500.11" y2="306.48" stroke="#3c3c3c" stroke-width="0.6"/>
<path d="M498.71,304.42 A86.34,86.34 0 0 1 498.26,305.89" fill="none" stroke="#3c3c3c" stroke-width="0.6"/>
<line x1="495.06" y1="304.1" x2="498.49" y2="305.16" stroke="#3c3c3c" stroke-width="0.6"/>
<path d="M495.56,302.45 A82.76,82.76 0 0 1 495.06,304.1" fill="none" stroke="#3c3c3c" stroke-width="0.6"/>
<line x1="484.76" y1="300.13" x2="495.31" y2="303.27" stroke="#3c3c3c" stroke-width="0.6"/>
<path d="M486.02,295.3 A71.75,71.75 0 0 1 484.76,300.13" fill="none" stroke="#3c3c3c" stroke-width="0.6"/>
<line x1="481.55" y1="296.72" x2="485.43" y2="297.73" stroke="#3c3c3c" stroke-width="0.6"/>
<path d="M482.85,290.56 A67.74,67.74 0 0 1 481.55,296.72" fill="none" stroke="#3c3c3c" stroke-width="0.6"/>
<line x1="476.8" y1="292.5" x2="482.28" y2="293.65" stroke="#3c3c3c" stroke-width="0.6"/>
<line x1="494.9" y1="306.38" x2="497.33" y2="307.2" stroke="#3c3c3c" stroke-width="0.6"/>
<line x1="494.58" y1="307.31" x2="495.7" y2="307.71" stroke="#3c3c3c" stroke-width="0.6"/>
<path d="M494.9,306.38 A83.31,83.31 0 0 1 494.58,307.31" fill="none" stroke="#3c3c3c" stroke-width="0.6"/>
<line x1="490.07" y1="305.23" x2="494.74" y2="306.85" stroke="#3c3c3c" stroke-width="0.6"/>
<line x1="493" y1="307.79" x2="495.24" y2="308.61" stroke="#3c3c3c" stroke-width="0.6"/>
<line x1="498.17" y1="310.79" x2="504.36" y2="313.14" stroke="#3c3c3c" stroke-width="0.6"/>
<line x1="497.79" y1="311.76" x2="498.72" y2="312.13" stroke="#3c3c3c" stroke-width="0.6"/>
<path d="M498.17,310.79 A87.87,87.87 0 0 1 497.79,311.76" fill="none" stroke="#3c3c3c" stroke-width="0.6"/>
<line x1="497.5" y1="311.09" x2="497.98" y2="311.28" stroke="#3c3c3c" stroke-width="0.6"/>
<line x1="496.93" y1="312.54" x2="508.08" y2="317.07" stroke="#3c3c3c" stroke-width="0.6"/>
<path d="M497.5,311.09 A87.35,87.35 0 0 1 496.93,312.54" fill="none" stroke="#3c3c3c" stroke-width="0.6"/>
<line x1="492.22" y1="309.84" x2="497.22" y2="311.82" stroke="#3c3c3c" stroke-width="0.6"/>
<path d="M493,307.79 A81.98,81.98 0 0 1 492.22,309.84" fill="none" stroke="#3c3c3c" stroke-width="0.6"/>
<line x1="489.24" y1="307.53" x2="492.62" y2="308.82" stroke="#3c3c3c" stroke-width="0.6"/>
<path d="M490.07,305.23 A78.36,78.36 0 0 1 489.24,307.53" fill="none" stroke="#3c3c3c" stroke-width="0.6"/>
<line x1="479.27" y1="302.61" x2="489.66" y2="306.38" stroke="#3c3c3c" stroke-width="0.6"/>
<line x1="498.24" y1="314.22" x2="500.55" y2="315.19" stroke="#3c3c3c" stroke-width="0.6"/>
<line x1="497.82" y1="315.19" x2="507.79" y2="319.52" stroke="#3c3c3c" stroke-width="0.6"/>
<path d="M498.24,314.22 A89.21,89.21 0 0 1 497.82,315.19" fill="none" stroke="#3c3c3c" stroke-width="0.6"/>
<line x1="495.9" y1="313.79" x2="498.03" y2="314.7" stroke="#3c3c3c" stroke-width="0.6"/>
<line x1="495.28" y1="315.21" x2="505.04" y2="319.59" stroke="#3c3c3c" stroke-width="0.6"/>
<path d="M495.9,313.79 A86.89,86.89 0 0 1 495.28,315.21" fill="none" stroke="#3c3c3c" stroke-width="0.6"/>
<line x1="477.66" y1="306.65" x2="495.59" y2="314.5" stroke="#3c3c3c" stroke-width="0.6"/>
<path d="M479.27,302.61 A67.31,67.31 0 0 1 477.66,306.65" fill="none" stroke="#3c3c3c" stroke-width="0.6"/>
<line x1="473.7" y1="302.73" x2="478.5" y2="304.64" stroke="#3c3c3c" stroke-width="0.6"/>
<path d="M476.8,292.5 A62.14,62.14 0 0 1 473.7,302.73" fill="none" stroke="#3c3c3c" stroke-width="0.6"/>
<line x1="471.51" y1="296.48" x2="475.47" y2="297.68" stroke="#3c3c3c" stroke-width="0.6"/>
<path d="M473.55,286.86 A58,58 0 0 1 471.51,296.48" fill="none" stroke="#3c3c3c" stroke-width="0.6"/>
<line x1="475.3" y1="307.35" x2="532.01" y2="333.83" stroke="#d2409c" stroke-width="0.6"/>
<line x1="507.95" y1="323.91" x2="534.83" y2="336.85" stroke="#d2409c" stroke-width="0.6"/>
<line x1="519.07" y1="330.76" x2="531.34" y2="336.84" stroke="#d2409c" stroke-width="0.6"/>
<line x1="518.46" y1="331.96" x2="532.98" y2="339.37" stroke="#d2409c" stroke-width="0.6"/>
<path d="M519.07,330.76 A115.04,115.04 0 0 1 518.46,331.96" fill="none" stroke="#d2409c" stroke-width="0.6"/>
<line x1="507.16" y1="325.52" x2="518.77" y2="331.36" stroke="#d2409c" stroke-width="0.6"/>
<path d="M507.95,323.91 A102.05,102.05 0 0 1 507.16,325.52" fill="none" stroke="#d2409c" stroke-width="0.6"/>
<line x1="487.03" y1="314.61" x2="507.56" y2="324.72" stroke="#d2409c" stroke-width="0.6"/>
<line x1="532.02" y1="340.6" x2="539.61" y2="344.59" stroke="#d2409c" stroke-width="0.6"/>
<line x1="531.3" y1="341.95" x2="535.95" y2="344.46" stroke="#d2409c" stroke-width="0.6"/>
<path d="M532.02,340.6 A131.06,131.06 0 0 1 531.3,341.95" fill="none" stroke="#d2409c" stroke-width="0.6"/>
<line x1="512.65" y1="331.15" x2="531.66" y2="341.28" stroke="#d2409c" stroke-width="0.6"/>
<line x1="520.87" y1="337.91" x2="529.03" y2="342.44" stroke="#d2409c" stroke-width="0.6"/>
<line x1="522.42" y1="340.41" x2="525.83" y2="342.36" stroke="#d2409c" stroke-width="0.6"/>
<line x1="521.7" y1="341.65" x2="522.57" y2="342.16" stroke="#d2409c" stroke-width="0.6"/>
<path d="M522.42,340.41 A122.55,122.55 0 0 1 521.7,341.65" fill="none" stroke="#d2409c" stroke-width="0.6"/>
<line x1="519.83" y1="339.74" x2="522.06" y2="341.03" stroke="#d2409c" stroke-width="0.6"/>
<path d="M520.87,337.91 A119.96,119.96 0 0 1 519.83,339.74" fill="none" stroke="#d2409c" stroke-width="0.6"/>
<line x1="511.26" y1="333.67" x2="520.35" y2="338.83" stroke="#d2409c" stroke-width="0.6"/>
<path d="M512.65,331.15 A109.51,109.51 0 0 1 511.26,333.67" fill="none" stroke="#d2409c" stroke-width="0.6"/>
<line x1="485.37" y1="317.79" x2="511.96" y2="332.41" stroke="#d2409c" stroke-width="0.6"/>
<path d="M487.03,314.61 A79.17,79.17 0 0 1 485.37,317.79" fill="none" stroke="#d2409c" stroke-width="0.6"/>
<line x1="474.05" y1="309.88" x2="486.22" y2="316.21" stroke="#d2409c" stroke-width="0.6"/>
<path d="M475.3,307.35 A65.45,65.45 0 0 1 474.05,309.88" fill="none" stroke="#d2409c" stroke-width="0.6"/>
<line x1="465.73" y1="304.19" x2="474.69" y2="308.62" stroke="#3c3c3c" stroke-width="0.6"/>
<line x1="469.81" y1="312.06" x2="529.14" y2="347.8" stroke="#3c3c3c" stroke-width="0.6"/>
<line x1="501.96" y1="332.81" x2="525.18" y2="347.17" stroke="#d2409c" stroke-width="0.6"/>
<line x1="507.46" y1="337.71" x2="513.42" y2="341.49" stroke="#d2409c" stroke-width="0.6"/>
<line x1="513.15" y1="342.92" x2="514.56" y2="343.84" stroke="#d2409c" stroke-width="0.6"/>
<line x1="512.4" y1="344.05" x2="518.87" y2="348.37" stroke="#d2409c" stroke-width="0.6"/>
<path d="M513.15,342.92 A115.94,115.94 0 0 1 512.4,344.05" fill="none" stroke="#d2409c" stroke-width="0.6"/>
<line x1="506.43" y1="339.3" x2="512.78" y2="343.49" stroke="#d2409c" stroke-width="0.6"/>
<path d="M507.46,337.71 A108.33,108.33 0 0 1 506.43,339.3" fill="none" stroke="#d2409c" stroke-width="0.6"/>
<line x1="500.86" y1="334.56" x2="506.95" y2="338.51" stroke="#d2409c" stroke-width="0.6"/>
<path d="M501.96,332.81 A101.08,101.08 0 0 1 500.86,334.56" fill="none" stroke="#d2409c" stroke-width="0.6"/>
<line x1="484.68" y1="323.1" x2="501.42" y2="333.69" stroke="#d2409c" stroke-width="0.6"/>
<line x1="500.56" y1="337.58" x2="509.08" y2="343.42" stroke="#d2409c" stroke-width="0.6"/>
<line x1="499.88" y1="338.57" x2="504.01" y2="341.47" stroke="#d2409c" stroke-width="0.6"/>
<path d="M500.56,337.58 A102.5,102.5 0 0 1 499.88,338.57" fill="none" stroke="#d2409c" stroke-width="0.6"/>
<line x1="482.78" y1="325.98" x2="500.22" y2="338.07" stroke="#d2409c" stroke-width="0.6"/>
<path d="M484.68,323.1 A81.27,81.27 0 0 1 482.78,325.98" fill="none" stroke="#d2409c" stroke-width="0.6"/>
<line x1="468.36" y1="314.35" x2="483.74" y2="324.55" stroke="#3c3c3c" stroke-width="0.6"/>
<path d="M469.81,312.06 A62.82,62.82 0 0 1 468.36,314.35" fill="none" stroke="#3c3c3c" stroke-width="0.6"/>
<line x1="462.87" y1="309.28" x2="469.1" y2="313.22" stroke="#3c3c3c" stroke-width="0.6"/>
<path d="M465.73,304.19 A55.45,55.45 0 0 1 462.87,309.28" fill="none" stroke="#3c3c3c" stroke-width="0.6"/>
<line x1="461.35" y1="305.09" x2="464.37" y2="306.78" stroke="#3c3c3c" stroke-width="0.6"/>
<line x1="497.22" y1="338.13" x2="501.5" y2="341.21" stroke="#3c3c3c" stroke-width="0.6"/>
<line x1="501.61" y1="342.83" x2="512.15" y2="350.6" stroke="#3c3c3c" stroke-width="0.6"/>
<line x1="505.33" y1="347.2" x2="506.43" y2="348.03" stroke="#3c3c3c" stroke-width="0.6"/>
<line x1="508.57" y1="351.36" x2="509.6" y2="352.16" stroke="#3c3c3c" stroke-width="0.6"/>
<line x1="507.72" y1="352.44" x2="510.35" y2="354.52" stroke="#3c3c3c" stroke-width="0.6"/>
<path d="M508.57,351.36 A117.1,117.1 0 0 1 507.72,352.44" fill="none" stroke="#3c3c3c" stroke-width="0.6"/>
<line x1="504.13" y1="348.75" x2="508.15" y2="351.9" stroke="#3c3c3c" stroke-width="0.6"/>
<path d="M505.33,347.2 A111.99,111.99 0 0 1 504.13,348.75" fill="none" stroke="#3c3c3c" stroke-width="0.6"/>
<line x1="500.3" y1="344.57" x2="504.73" y2="347.98" stroke="#3c3c3c" stroke-width="0.6"/>
<path d="M501.61,342.83 A106.4,106.4 0 0 1 500.3,344.57" fill="none" stroke="#3c3c3c" stroke-width="0.6"/>
<line x1="495.92" y1="339.9" x2="500.96" y2="343.7" stroke="#3c3c3c" stroke-width="0.6"/>
<path d="M497.22,338.13 A100.09,100.09 0 0 1 495.92,339.9" fill="none" stroke="#3c3c3c" stroke-width="0.6"/>
<line x1="491.72" y1="335.44" x2="496.58" y2="339.02" stroke="#3c3c3c" stroke-width="0.6"/>
<line x1="488.98" y1="338.97" x2="510.08" y2="356.12" stroke="#3c3c3c" stroke-width="0.6"/>
<path d="M491.72,335.44 A94.05,94.05 0 0 1 488.98,338.97" fill="none" stroke="#3c3c3c" stroke-width="0.6"/>
<line x1="473.69" y1="324.31" x2="490.37" y2="337.22" stroke="#3c3c3c" stroke-width="0.6"/>
<line x1="509.25" y1="357.28" x2="510.89" y2="358.64" stroke="#3c3c3c" stroke-width="0.6"/>
<line x1="509.15" y1="359.06" x2="510.16" y2="359.91" stroke="#3c3c3c" stroke-width="0.6"/>
<line x1="511.73" y1="363.21" x2="515.31" y2="366.33" stroke="#3c3c3c" stroke-width="0.6"/>
<line x1="510.75" y1="364.32" x2="515.67" y2="368.72" stroke="#3c3c3c" stroke-width="0.6"/>
<path d="M511.73,363.21 A127.07,127.07 0 0 1 510.75,364.32" fill="none" stroke="#3c3c3c" stroke-width="0.6"/>
<line x1="507.75" y1="360.68" x2="511.24" y2="363.77" stroke="#3c3c3c" stroke-width="0.6"/>
<path d="M509.15,359.06 A122.4,122.4 0 0 1 507.75,360.68" fill="none" stroke="#3c3c3c" stroke-width="0.6"/>
<line x1="507.64" y1="359.17" x2="508.45" y2="359.87" stroke="#3c3c3c" stroke-width="0.6"/>
<path d="M509.25,357.28 A121.33,121.33 0 0 1 507.64,359.17" fill="none" stroke="#3c3c3c" stroke-width="0.6"/>
<line x1="502.85" y1="353.46" x2="508.45" y2="358.23" stroke="#3c3c3c" stroke-width="0.6"/>
<line x1="500.09" y1="356.59" x2="520.59" y2="375.34" stroke="#3c3c3c" stroke-width="0.6"/>
<path d="M502.85,353.46 A113.98,113.98 0 0 1 500.09,356.59" fill="none" stroke="#3c3c3c" stroke-width="0.6"/>
<line x1="470.72" y1="327.9" x2="501.49" y2="355.04" stroke="#3c3c3c" stroke-width="0.6"/>
<path d="M473.69,324.31 A72.95,72.95 0 0 1 470.72,327.9" fill="none" stroke="#3c3c3c" stroke-width="0.6"/>
<line x1="468.92" y1="323.39" x2="472.23" y2="326.13" stroke="#3c3c3c" stroke-width="0.6"/>
<line x1="508.33" y1="366.12" x2="522.15" y2="379.07" stroke="#3c3c3c" stroke-width="0.6"/>
<line x1="507.31" y1="367.2" x2="514.97" y2="374.54" stroke="#3c3c3c" stroke-width="0.6"/>
<path d="M508.33,366.12 A126.5,126.5 0 0 1 507.31,367.2" fill="none" stroke="#3c3c3c" stroke-width="0.6"/>
<line x1="500.77" y1="359.98" x2="507.82" y2="366.66" stroke="#3c3c3c" stroke-width="0.6"/>
<line x1="499.35" y1="361.46" x2="512.86" y2="374.72" stroke="#3c3c3c" stroke-width="0.6"/>
<path d="M500.77,359.98 A116.79,116.79 0 0 1 499.35,361.46" fill="none" stroke="#3c3c3c" stroke-width="0.6"/>
<line x1="465.42" y1="327.31" x2="500.07" y2="360.73" stroke="#3c3c3c" stroke-width="0.6"/>
<path d="M468.92,323.39 A68.66,68.66 0 0 1 465.42,327.31" fill="none" stroke="#3c3c3c" stroke-width="0.6"/>
<line x1="454.78" y1="314.29" x2="467.21" y2="325.38" stroke="#3c3c3c" stroke-width="0.6"/>
<path d="M461.35,305.09 A52,52 0 0 1 454.78,314.29" fill="none" stroke="#3c3c3c" stroke-width="0.6"/>
<line x1="458.19" y1="322.31" x2="464.15" y2="328.33" stroke="#3c3c3c" stroke-width="0.6"/>
<line x1="465.96" y1="331.27" x2="528.07" y2="395.45" stroke="#3c3c3c" stroke-width="0.6"/>
<line x1="468.8" y1="335.41" x2="490.91" y2="358.77" stroke="#3c3c3c" stroke-width="0.6"/>
<line x1="468.19" y1="335.99" x2="473.19" y2="341.38" stroke="#3c3c3c" stroke-width="0.6"/>
<path d="M468.8,335.41 A76.8,76.8 0 0 1 468.19,335.99" fill="none" stroke="#3c3c3c" stroke-width="0.6"/>
<line x1="465.11" y1="332.08" x2="468.5" y2="335.7" stroke="#3c3c3c" stroke-width="0.6"/>
<path d="M465.96,331.27 A71.84,71.84 0 0 1 465.11,332.08" fill="none" stroke="#3c3c3c" stroke-width="0.6"/>
<line x1="457.37" y1="323.1" x2="465.54" y2="331.68" stroke="#3c3c3c" stroke-width="0.6"/>
<path d="M458.19,322.31 A60,60 0 0 1 457.37,323.1" fill="none" stroke="#3c3c3c" stroke-width="0.6"/>
<line x1="474.19" y1="344.36" x2="507.9" y2="381.86" stroke="#3c3c3c" stroke-width="0.6"/>
<line x1="500.17" y1="375.53" x2="510.74" y2="387.57" stroke="#3c3c3c" stroke-width="0.6"/>
<line x1="499.03" y1="376.52" x2="509.04" y2="388.2" stroke="#3c3c3c" stroke-width="0.6"/>
<path d="M500.17,375.53 A127.59,127.59 0 0 1 499.03,376.52" fill="none" stroke="#3c3c3c" stroke-width="0.6"/>
<line x1="488.81" y1="363.59" x2="499.6" y2="376.03" stroke="#3c3c3c" stroke-width="0.6"/>
<line x1="487.3" y1="364.87" x2="497.42" y2="376.97" stroke="#3c3c3c" stroke-width="0.6"/>
<path d="M488.81,363.59 A111.12,111.12 0 0 1 487.3,364.87" fill="none" stroke="#3c3c3c" stroke-width="0.6"/>
<line x1="474.05" y1="347.79" x2="488.06" y2="364.23" stroke="#3c3c3c" stroke-width="0.6"/>
<line x1="489.51" y1="369.66" x2="498.82" y2="381.06" stroke="#3c3c3c" stroke-width="0.6"/>
<line x1="492.11" y1="375.13" x2="495.4" y2="379.27" stroke="#3c3c3c" stroke-width="0.6"/>
<line x1="490.97" y1="376.03" x2="497.02" y2="383.81" stroke="#3c3c3c" stroke-width="0.6"/>
<path d="M492.11,375.13 A122.1,122.1 0 0 1 490.97,376.03" fill="none" stroke="#3c3c3c" stroke-width="0.6"/>
<line x1="487.9" y1="370.96" x2="491.54" y2="375.58" stroke="#3c3c3c" stroke-width="0.6"/>
<path d="M489.51,369.66 A116.22,116.22 0 0 1 487.9,370.96" fill="none" stroke="#3c3c3c" stroke-width="0.6"/>
<line x1="481.74" y1="361.62" x2="488.71" y2="370.31" stroke="#3c3c3c" stroke-width="0.6"/>
<line x1="493.41" y1="381.65" x2="496.44" y2="385.64" stroke="#3c3c3c" stroke-width="0.6"/>
<line x1="495.67" y1="387.26" x2="500.75" y2="394.12" stroke="#3c3c3c" stroke-width="0.6"/>
<line x1="494.39" y1="388.2" x2="495.27" y2="389.43" stroke="#3c3c3c" stroke-width="0.6"/>
<path d="M495.67,387.26 A133.9,133.9 0 0 1 494.39,388.2" fill="none" stroke="#3c3c3c" stroke-width="0.6"/>
<line x1="494" y1="386.32" x2="495.03" y2="387.73" stroke="#3c3c3c" stroke-width="0.6"/>
<line x1="492.09" y1="387.7" x2="501.35" y2="400.84" stroke="#3c3c3c" stroke-width="0.6"/>
<path d="M494,386.32 A132.15,132.15 0 0 1 492.09,387.7" fill="none" stroke="#3c3c3c" stroke-width="0.6"/>
<line x1="490.66" y1="383.68" x2="493.05" y2="387.01" stroke="#3c3c3c" stroke-width="0.6"/>
<path d="M493.41,381.65 A128.05,128.05 0 0 1 490.66,383.68" fill="none" stroke="#3c3c3c" stroke-width="0.6"/>
<line x1="478.4" y1="364.19" x2="492.04" y2="382.68" stroke="#3c3c3c" stroke-width="0.6"/>
<path d="M481.74,361.62 A105.08,105.08 0 0 1 478.4,364.19" fill="none" stroke="#3c3c3c" stroke-width="0.6"/>
<line x1="478.31" y1="360.63" x2="480.08" y2="362.93" stroke="#3c3c3c" stroke-width="0.6"/>
<line x1="484.26" y1="379.06" x2="497.48" y2="398.33" stroke="#3c3c3c" stroke-width="0.6"/>
<line x1="483.07" y1="379.87" x2="493.99" y2="396.18" stroke="#3c3c3c" stroke-width="0.6"/>
<path d="M484.26,379.06 A120.59,120.59 0 0 1 483.07,379.87" fill="none" stroke="#3c3c3c" stroke-width="0.6"/>
<line x1="473.33" y1="364.23" x2="483.66" y2="379.47" stroke="#3c3c3c" stroke-width="0.6"/>
<path d="M478.31,360.63 A102.18,102.18 0 0 1 473.33,364.23" fill="none" stroke="#3c3c3c" stroke-width="0.6"/>
<line x1="468.44" y1="352.21" x2="475.85" y2="362.47" stroke="#3c3c3c" stroke-width="0.6"/>
<path d="M474.05,347.79 A89.52,89.52 0 0 1 468.44,352.21" fill="none" stroke="#3c3c3c" stroke-width="0.6"/>
<line x1="469.75" y1="348.09" x2="471.29" y2="350.06" stroke="#3c3c3c" stroke-width="0.6"/>
<path d="M474.19,344.36 A87.02,87.02 0 0 1 469.75,348.09" fill="none" stroke="#3c3c3c" stroke-width="0.6"/>
<line x1="469.02" y1="342.73" x2="472" y2="346.27" stroke="#3c3c3c" stroke-width="0.6"/>
<line x1="479.57" y1="377.12" x2="497.46" y2="404.55" stroke="#3c3c3c" stroke-width="0.6"/>
<line x1="478.41" y1="377.87" x2="495.46" y2="404.7" stroke="#3c3c3c" stroke-width="0.6"/>
<path d="M479.57,377.12 A116.37,116.37 0 0 1 478.41,377.87" fill="none" stroke="#3c3c3c" stroke-width="0.6"/>
<line x1="465.19" y1="356.06" x2="478.99" y2="377.5" stroke="#3c3c3c" stroke-width="0.6"/>
<line x1="478.46" y1="380.58" x2="497.7" y2="411.68" stroke="#d2409c" stroke-width="0.6"/>
<line x1="482.61" y1="390.2" x2="492.71" y2="406.96" stroke="#d2409c" stroke-width="0.6"/>
<line x1="486.12" y1="399.22" x2="491.29" y2="408.03" stroke="#d2409c" stroke-width="0.6"/>
<line x1="485.62" y1="401.67" x2="486.44" y2="403.1" stroke="#d2409c" stroke-width="0.6"/>
<line x1="484.17" y1="402.48" x2="493.28" y2="418.91" stroke="#d2409c" stroke-width="0.6"/>
<path d="M485.62,401.67 A140.48,140.48 0 0 1 484.17,402.48" fill="none" stroke="#d2409c" stroke-width="0.6"/>
<line x1="483.98" y1="400.45" x2="484.9" y2="402.08" stroke="#d2409c" stroke-width="0.6"/>
<path d="M486.12,399.22 A138.62,138.62 0 0 1 483.98,400.45" fill="none" stroke="#d2409c" stroke-width="0.6"/>
<line x1="480.3" y1="391.56" x2="485.06" y2="399.84" stroke="#d2409c" stroke-width="0.6"/>
<path d="M482.61,390.2 A129.06,129.06 0 0 1 480.3,391.56" fill="none" stroke="#d2409c" stroke-width="0.6"/>
<line x1="476.2" y1="381.95" x2="481.46" y2="390.88" stroke="#d2409c" stroke-width="0.6"/>
<path d="M478.46,380.58 A118.7,118.7 0 0 1 476.2,381.95" fill="none" stroke="#d2409c" stroke-width="0.6"/>
<line x1="466.99" y1="364.13" x2="477.33" y2="381.27" stroke="#3c3c3c" stroke-width="0.6"/>
<line x1="481.05" y1="400.22" x2="487.35" y2="411.9" stroke="#d2409c" stroke-width="0.6"/>
<line x1="479.62" y1="400.99" x2="481.72" y2="405.01" stroke="#d2409c" stroke-width="0.6"/>
<path d="M481.05,400.22 A137,137 0 0 1 479.62,400.99" fill="none" stroke="#d2409c" stroke-width="0.6"/>
<line x1="478.83" y1="397.78" x2="480.33" y2="400.61" stroke="#d2409c" stroke-width="0.6"/>
<line x1="476.72" y1="398.89" x2="479.72" y2="404.77" stroke="#d2409c" stroke-width="0.6"/>
<path d="M478.83,397.78 A133.81,133.81 0 0 1 476.72,398.89" fill="none" stroke="#d2409c" stroke-width="0.6"/>
<line x1="473.1" y1="389.34" x2="477.78" y2="398.34" stroke="#d2409c" stroke-width="0.6"/>
<line x1="477.85" y1="404.75" x2="490.09" y2="429.52" stroke="#d2409c" stroke-width="0.6"/>
<line x1="479.39" y1="411.8" x2="488.46" y2="430.71" stroke="#d2409c" stroke-width="0.6"/>
<line x1="477.81" y1="412.54" x2="481.36" y2="420.16" stroke="#d2409c" stroke-width="0.6"/>
<path d="M479.39,411.8 A146.57,146.57 0 0 1 477.81,412.54" fill="none" stroke="#d2409c" stroke-width="0.6"/>
<line x1="475.61" y1="405.83" x2="478.6" y2="412.17" stroke="#d2409c" stroke-width="0.6"/>
<path d="M477.85,404.75 A139.55,139.55 0 0 1 475.61,405.83" fill="none" stroke="#d2409c" stroke-width="0.6"/>
<line x1="469.81" y1="390.99" x2="476.73" y2="405.3" stroke="#d2409c" stroke-width="0.6"/>
<path d="M473.1,389.34 A123.66,123.66 0 0 1 469.81,390.99" fill="none" stroke="#d2409c" stroke-width="0.6"/>
<line x1="460.26" y1="367.85" x2="471.46" y2="390.18" stroke="#3c3c3c" stroke-width="0.6"/>
<path d="M466.99,364.13 A98.68,98.68 0 0 1 460.26,367.85" fill="none" stroke="#3c3c3c" stroke-width="0.6"/>
<line x1="459.89" y1="359.22" x2="463.66" y2="366.06" stroke="#3c3c3c" stroke-width="0.6"/>
<path d="M465.19,356.06 A90.87,90.87 0 0 1 459.89,359.22" fill="none" stroke="#3c3c3c" stroke-width="0.6"/>
<line x1="458.22" y1="350.41" x2="462.57" y2="357.68" stroke="#3c3c3c" stroke-width="0.6"/>
<path d="M469.02,342.73 A82.4,82.4 0 0 1 458.22,350.41" fill="none" stroke="#3c3c3c" stroke-width="0.6"/>
<line x1="456.65" y1="336.77" x2="463.78" y2="346.79" stroke="#3c3c3c" stroke-width="0.6"/>
<line x1="444.81" y1="343.56" x2="482.6" y2="427.4" stroke="#3c3c3c" stroke-width="0.6"/>
<path d="M456.65,336.77 A70.11,70.11 0 0 1 444.81,343.56" fill="none" stroke="#3c3c3c" stroke-width="0.6"/>
<line x1="444.87" y1="329.95" x2="450.9" y2="340.46" stroke="#3c3c3c" stroke-width="0.6"/>
<line x1="465.15" y1="392.23" x2="481.14" y2="428.87" stroke="#3c3c3c" stroke-width="0.6"/>
<line x1="463.81" y1="392.81" x2="474.02" y2="416.98" stroke="#3c3c3c" stroke-width="0.6"/>
<path d="M465.15,392.23 A122.84,122.84 0 0 1 463.81,392.81" fill="none" stroke="#3c3c3c" stroke-width="0.6"/>
<line x1="457.49" y1="376.25" x2="464.48" y2="392.52" stroke="#3c3c3c" stroke-width="0.6"/>
<line x1="466.75" y1="403.87" x2="473.99" y2="421.59" stroke="#3c3c3c" stroke-width="0.6"/>
<line x1="467.06" y1="409" x2="469.01" y2="413.93" stroke="#3c3c3c" stroke-width="0.6"/>
<line x1="465.52" y1="409.59" x2="468.1" y2="416.36" stroke="#3c3c3c" stroke-width="0.6"/>
<path d="M467.06,409 A139.06,139.06 0 0 1 465.52,409.59" fill="none" stroke="#3c3c3c" stroke-width="0.6"/>
<line x1="464.53" y1="404.75" x2="466.29" y2="409.3" stroke="#3c3c3c" stroke-width="0.6"/>
<path d="M466.75,403.87 A134.18,134.18 0 0 1 464.53,404.75" fill="none" stroke="#3c3c3c" stroke-width="0.6"/>
<line x1="459.23" y1="388.23" x2="465.64" y2="404.31" stroke="#3c3c3c" stroke-width="0.6"/>
<line x1="458.25" y1="394.59" x2="459.77" y2="398.75" stroke="#3c3c3c" stroke-width="0.6"/>
<line x1="460.78" y1="406.12" x2="463.12" y2="412.71" stroke="#3c3c3c" stroke-width="0.6"/>
<line x1="459.28" y1="406.64" x2="460.11" y2="409.06" stroke="#3c3c3c" stroke-width="0.6"/>
<path d="M460.78,406.12 A134.16,134.16 0 0 1 459.28,406.64" fill="none" stroke="#3c3c3c" stroke-width="0.6"/>
<line x1="456.19" y1="395.33" x2="460.03" y2="406.38" stroke="#3c3c3c" stroke-width="0.6"/>
<path d="M458.25,394.59 A122.46,122.46 0 0 1 456.19,395.33" fill="none" stroke="#3c3c3c" stroke-width="0.6"/>
<line x1="455.34" y1="389.7" x2="457.22" y2="394.97" stroke="#3c3c3c" stroke-width="0.6"/>
<path d="M459.23,388.23 A116.87,116.87 0 0 1 455.34,389.7" fill="none" stroke="#3c3c3c" stroke-width="0.6"/>
<line x1="453.15" y1="378.01" x2="457.29" y2="388.98" stroke="#3c3c3c" stroke-width="0.6"/>
<path d="M457.49,376.25 A105.14,105.14 0 0 1 453.15,378.01" fill="none" stroke="#3c3c3c" stroke-width="0.6"/>
<line x1="452.22" y1="369.45" x2="455.33" y2="377.15" stroke="#3c3c3c" stroke-width="0.6"/>
<line x1="457.09" y1="405.08" x2="462.96" y2="422.98" stroke="#3c3c3c" stroke-width="0.6"/>
<line x1="455.6" y1="405.56" x2="457.26" y2="410.84" stroke="#3c3c3c" stroke-width="0.6"/>
<path d="M457.09,405.08 A131.99,131.99 0 0 1 455.6,405.56" fill="none" stroke="#3c3c3c" stroke-width="0.6"/>
<line x1="454.4" y1="399.27" x2="456.35" y2="405.32" stroke="#3c3c3c" stroke-width="0.6"/>
<line x1="452.27" y1="399.94" x2="456.97" y2="415.52" stroke="#3c3c3c" stroke-width="0.6"/>
<path d="M454.4,399.27 A125.64,125.64 0 0 1 452.27,399.94" fill="none" stroke="#3c3c3c" stroke-width="0.6"/>
<line x1="447.56" y1="381.04" x2="453.34" y2="399.61" stroke="#3c3c3c" stroke-width="0.6"/>
<line x1="449.06" y1="394.21" x2="455.08" y2="415.08" stroke="#3c3c3c" stroke-width="0.6"/>
<line x1="447.7" y1="394.59" x2="449.69" y2="401.81" stroke="#3c3c3c" stroke-width="0.6"/>
<path d="M449.06,394.21 A119.23,119.23 0 0 1 447.7,394.59" fill="none" stroke="#3c3c3c" stroke-width="0.6"/>
<line x1="446.5" y1="387.73" x2="448.38" y2="394.4" stroke="#3c3c3c" stroke-width="0.6"/>
<line x1="444.57" y1="388.26" x2="445.1" y2="390.29" stroke="#3c3c3c" stroke-width="0.6"/>
<path d="M446.5,387.73 A112.3,112.3 0 0 1 444.57,388.26" fill="none" stroke="#3c3c3c" stroke-width="0.6"/>
<line x1="443.93" y1="382.1" x2="445.53" y2="388" stroke="#3c3c3c" stroke-width="0.6"/>
<path d="M447.56,381.04 A106.19,106.19 0 0 1 443.93,382.1" fill="none" stroke="#3c3c3c" stroke-width="0.6"/>
<line x1="444.18" y1="376.2" x2="445.75" y2="381.59" stroke="#3c3c3c" stroke-width="0.6"/>
<line x1="443.86" y1="390.93" x2="444.52" y2="393.57" stroke="#3c3c3c" stroke-width="0.6"/>
<line x1="442.54" y1="391.25" x2="443.06" y2="393.44" stroke="#3c3c3c" stroke-width="0.6"/>
<path d="M443.86,390.93 A114.71,114.71 0 0 1 442.54,391.25" fill="none" stroke="#3c3c3c" stroke-width="0.6"/>
<line x1="442.44" y1="388" x2="443.2" y2="391.09" stroke="#3c3c3c" stroke-width="0.6"/>
<line x1="440.51" y1="388.45" x2="442.07" y2="395.37" stroke="#3c3c3c" stroke-width="0.6"/>
<path d="M442.44,388 A111.53,111.53 0 0 1 440.51,388.45" fill="none" stroke="#3c3c3c" stroke-width="0.6"/>
<line x1="439.5" y1="379.79" x2="441.48" y2="388.23" stroke="#3c3c3c" stroke-width="0.6"/>
<line x1="440.18" y1="393.26" x2="440.73" y2="395.85" stroke="#3c3c3c" stroke-width="0.6"/>
<line x1="439.68" y1="397.78" x2="440.02" y2="399.51" stroke="#3c3c3c" stroke-width="0.6"/>
<line x1="438.27" y1="398.05" x2="441.88" y2="417.22" stroke="#3c3c3c" stroke-width="0.6"/>
<path d="M439.68,397.78 A120.48,120.48 0 0 1 438.27,398.05" fill="none" stroke="#3c3c3c" stroke-width="0.6"/>
<line x1="438.69" y1="396.47" x2="438.97" y2="397.92" stroke="#3c3c3c" stroke-width="0.6"/>
<line x1="436.61" y1="396.85" x2="439.96" y2="415.93" stroke="#3c3c3c" stroke-width="0.6"/>
<path d="M438.69,396.47 A119,119 0 0 1 436.61,396.85" fill="none" stroke="#3c3c3c" stroke-width="0.6"/>
<line x1="437.13" y1="393.86" x2="437.65" y2="396.67" stroke="#3c3c3c" stroke-width="0.6"/>
<path d="M440.18,393.26 A116.15,116.15 0 0 1 437.13,393.86" fill="none" stroke="#3c3c3c" stroke-width="0.6"/>
<line x1="436.06" y1="380.53" x2="438.66" y2="393.57" stroke="#3c3c3c" stroke-width="0.6"/>
<path d="M439.5,379.79 A102.86,102.86 0 0 1 436.06,380.53" fill="none" stroke="#3c3c3c" stroke-width="0.6"/>
<line x1="437.3" y1="377.95" x2="437.78" y2="380.17" stroke="#3c3c3c" stroke-width="0.6"/>
<path d="M444.18,376.2 A100.58,100.58 0 0 1 437.3,377.95" fill="none" stroke="#3c3c3c" stroke-width="0.6"/>
<line x1="440.52" y1="376.21" x2="440.75" y2="377.14" stroke="#3c3c3c" stroke-width="0.6"/>
<line x1="432.21" y1="378.75" x2="434.98" y2="395.67" stroke="#3c3c3c" stroke-width="0.6"/>
<line x1="431.93" y1="384.83" x2="435.66" y2="409.47" stroke="#3c3c3c" stroke-width="0.6"/>
<line x1="431.42" y1="390.37" x2="432.78" y2="400.13" stroke="#3c3c3c" stroke-width="0.6"/>
<line x1="430.11" y1="390.55" x2="430.49" y2="393.54" stroke="#3c3c3c" stroke-width="0.6"/>
<path d="M431.42,390.37 A111.79,111.79 0 0 1 430.11,390.55" fill="none" stroke="#3c3c3c" stroke-width="0.6"/>
<line x1="430.42" y1="387.88" x2="430.77" y2="390.46" stroke="#3c3c3c" stroke-width="0.6"/>
<line x1="428.62" y1="389.27" x2="428.82" y2="390.97" stroke="#3c3c3c" stroke-width="0.6"/>
<line x1="427.47" y1="390.82" x2="427.63" y2="392.39" stroke="#3c3c3c" stroke-width="0.6"/>
<line x1="426.14" y1="390.95" x2="428.09" y2="412.27" stroke="#3c3c3c" stroke-width="0.6"/>
<path d="M427.47,390.82 A111.76,111.76 0 0 1 426.14,390.95" fill="none" stroke="#3c3c3c" stroke-width="0.6"/>
<line x1="426.67" y1="389.48" x2="426.81" y2="390.88" stroke="#3c3c3c" stroke-width="0.6"/>
<path d="M428.62,389.27 A110.34,110.34 0 0 1 426.67,389.48" fill="none" stroke="#3c3c3c" stroke-width="0.6"/>
<line x1="427.52" y1="388.23" x2="427.65" y2="389.38" stroke="#3c3c3c" stroke-width="0.6"/>
<path d="M430.42,387.88 A109.19,109.19 0 0 1 427.52,388.23" fill="none" stroke="#3c3c3c" stroke-width="0.6"/>
<line x1="428.64" y1="385.27" x2="428.97" y2="388.06" stroke="#3c3c3c" stroke-width="0.6"/>
<path d="M431.93,384.83 A106.37,106.37 0 0 1 428.64,385.27" fill="none" stroke="#3c3c3c" stroke-width="0.6"/>
<line x1="429.49" y1="379.16" x2="430.29" y2="385.06" stroke="#3c3c3c" stroke-width="0.6"/>
<path d="M432.21,378.75 A100.42,100.42 0 0 1 429.49,379.16" fill="none" stroke="#3c3c3c" stroke-width="0.6"/>
<line x1="430.73" y1="378.18" x2="430.85" y2="378.97" stroke="#3c3c3c" stroke-width="0.6"/>
<path d="M440.52,376.21 A99.62,99.62 0 0 1 430.73,378.18" fill="none" stroke="#3c3c3c" stroke-width="0.6"/>
<line x1="435.1" y1="374.58" x2="435.65" y2="377.32" stroke="#3c3c3c" stroke-width="0.6"/>
<path d="M452.22,369.45 A96.83,96.83 0 0 1 435.1,374.58" fill="none" stroke="#3c3c3c" stroke-width="0.6"/>
<line x1="441.77" y1="365.68" x2="443.78" y2="372.41" stroke="#3c3c3c" stroke-width="0.6"/>
<line x1="424.08" y1="381.7" x2="425.03" y2="393.68" stroke="#3c3c3c" stroke-width="0.6"/>
<line x1="424.06" y1="399.55" x2="424.18" y2="401.27" stroke="#3c3c3c" stroke-width="0.6"/>
<line x1="422.85" y1="403.48" x2="423.16" y2="409.14" stroke="#3c3c3c" stroke-width="0.6"/>
<line x1="421.38" y1="403.55" x2="421.92" y2="416" stroke="#3c3c3c" stroke-width="0.6"/>
<path d="M422.85,403.48 A124.01,124.01 0 0 1 421.38,403.55" fill="none" stroke="#3c3c3c" stroke-width="0.6"/>
<line x1="421.93" y1="399.68" x2="422.11" y2="403.51" stroke="#3c3c3c" stroke-width="0.6"/>
<path d="M424.06,399.55 A120.17,120.17 0 0 1 421.93,399.68" fill="none" stroke="#3c3c3c" stroke-width="0.6"/>
<line x1="422.87" y1="397.48" x2="422.99" y2="399.62" stroke="#3c3c3c" stroke-width="0.6"/>
<line x1="419.72" y1="397.62" x2="420.05" y2="408.29" stroke="#3c3c3c" stroke-width="0.6"/>
<path d="M422.87,397.48 A118.03,118.03 0 0 1 419.72,397.62" fill="none" stroke="#3c3c3c" stroke-width="0.6"/>
<line x1="420.59" y1="381.92" x2="421.29" y2="397.56" stroke="#3c3c3c" stroke-width="0.6"/>
<path d="M424.08,381.7 A102.37,102.37 0 0 1 420.59,381.92" fill="none" stroke="#3c3c3c" stroke-width="0.6"/>
<line x1="421.56" y1="369.29" x2="422.34" y2="381.82" stroke="#3c3c3c" stroke-width="0.6"/>
<path d="M441.77,365.68 A89.81,89.81 0 0 1 421.56,369.29" fill="none" stroke="#3c3c3c" stroke-width="0.6"/>
<line x1="430.26" y1="359.61" x2="431.77" y2="368.07" stroke="#3c3c3c" stroke-width="0.6"/>
<line x1="418.02" y1="382.54" x2="418.79" y2="421.83" stroke="#3c3c3c" stroke-width="0.6"/>
<line x1="416.8" y1="382.55" x2="416.95" y2="402.48" stroke="#3c3c3c" stroke-width="0.6"/>
<path d="M418.02,382.54 A102.91,102.91 0 0 1 416.8,382.55" fill="none" stroke="#3c3c3c" stroke-width="0.6"/>
<line x1="417.11" y1="360.86" x2="417.41" y2="382.55" stroke="#3c3c3c" stroke-width="0.6"/>
<path d="M430.26,359.61 A81.22,81.22 0 0 1 417.11,360.86" fill="none" stroke="#3c3c3c" stroke-width="0.6"/>
<line x1="422.67" y1="349.64" x2="423.71" y2="360.5" stroke="#3c3c3c" stroke-width="0.6"/>
<line x1="415.56" y1="387.45" x2="415.41" y2="422.5" stroke="#3c3c3c" stroke-width="0.6"/>
<line x1="414.14" y1="395.84" x2="413.74" y2="420.68" stroke="#3c3c3c" stroke-width="0.6"/>
<line x1="412.76" y1="395.81" x2="412.57" y2="402.46" stroke="#3c3c3c" stroke-width="0.6"/>
<path d="M414.14,395.84 A116.21,116.21 0 0 1 412.76,395.81" fill="none" stroke="#3c3c3c" stroke-width="0.6"/>
<line x1="413.63" y1="387.43" x2="413.45" y2="395.83" stroke="#3c3c3c" stroke-width="0.6"/>
<path d="M415.56,387.45 A107.8,107.8 0 0 1 413.63,387.43" fill="none" stroke="#3c3c3c" stroke-width="0.6"/>
<line x1="414.73" y1="377.22" x2="414.59" y2="387.44" stroke="#3c3c3c" stroke-width="0.6"/>
<line x1="410.86" y1="408.86" x2="410.63" y2="414.57" stroke="#3c3c3c" stroke-width="0.6"/>
<line x1="409.1" y1="413.22" x2="408.91" y2="416.82" stroke="#3c3c3c" stroke-width="0.6"/>
<line x1="407.07" y1="420.06" x2="406.94" y2="422.17" stroke="#3c3c3c" stroke-width="0.6"/>
<line x1="405.4" y1="419.95" x2="404.43" y2="432.79" stroke="#3c3c3c" stroke-width="0.6"/>
<path d="M407.07,420.06 A140.7,140.7 0 0 1 405.4,419.95" fill="none" stroke="#3c3c3c" stroke-width="0.6"/>
<line x1="406.72" y1="413.07" x2="406.24" y2="420.01" stroke="#3c3c3c" stroke-width="0.6"/>
<path d="M409.1,413.22 A133.74,133.74 0 0 1 406.72,413.07" fill="none" stroke="#3c3c3c" stroke-width="0.6"/>
<line x1="408.18" y1="408.72" x2="407.91" y2="413.15" stroke="#3c3c3c" stroke-width="0.6"/>
<path d="M410.86,408.86 A129.31,129.31 0 0 1 408.18,408.72" fill="none" stroke="#3c3c3c" stroke-width="0.6"/>
<line x1="410.24" y1="394.48" x2="409.52" y2="408.8" stroke="#3c3c3c" stroke-width="0.6"/>
<line x1="404.16" y1="414.98" x2="402.19" y2="437.49" stroke="#3c3c3c" stroke-width="0.6"/>
<line x1="402.55" y1="414.83" x2="400.84" y2="432.01" stroke="#3c3c3c" stroke-width="0.6"/>
<path d="M404.16,414.98 A135.84,135.84 0 0 1 402.55,414.83" fill="none" stroke="#3c3c3c" stroke-width="0.6"/>
<line x1="405.04" y1="396.9" x2="403.36" y2="414.9" stroke="#3c3c3c" stroke-width="0.6"/>
<line x1="402.5" y1="400.73" x2="399.88" y2="424.28" stroke="#3c3c3c" stroke-width="0.6"/>
<line x1="399.82" y1="410.59" x2="397.12" y2="432.46" stroke="#3c3c3c" stroke-width="0.6"/>
<line x1="398.27" y1="410.39" x2="398.14" y2="411.38" stroke="#3c3c3c" stroke-width="0.6"/>
<path d="M399.82,410.59 A131.94,131.94 0 0 1 398.27,410.39" fill="none" stroke="#3c3c3c" stroke-width="0.6"/>
<line x1="399.18" y1="409.45" x2="399.05" y2="410.5" stroke="#3c3c3c" stroke-width="0.6"/>
<line x1="396.87" y1="409.13" x2="394.69" y2="423.88" stroke="#3c3c3c" stroke-width="0.6"/>
<path d="M399.18,409.45 A130.88,130.88 0 0 1 396.87,409.13" fill="none" stroke="#3c3c3c" stroke-width="0.6"/>
<line x1="398.89" y1="403.1" x2="398.03" y2="409.29" stroke="#3c3c3c" stroke-width="0.6"/>
<line x1="395.03" y1="410.79" x2="394.87" y2="411.77" stroke="#3c3c3c" stroke-width="0.6"/>
<line x1="392.78" y1="414.58" x2="390.39" y2="428.48" stroke="#3c3c3c" stroke-width="0.6"/>
<line x1="391.18" y1="414.29" x2="390.41" y2="418.44" stroke="#3c3c3c" stroke-width="0.6"/>
<path d="M392.78,414.58 A136.91,136.91 0 0 1 391.18,414.29" fill="none" stroke="#3c3c3c" stroke-width="0.6"/>
<line x1="392.7" y1="410.39" x2="391.98" y2="414.44" stroke="#3c3c3c" stroke-width="0.6"/>
<path d="M395.03,410.79 A132.8,132.8 0 0 1 392.7,410.39" fill="none" stroke="#3c3c3c" stroke-width="0.6"/>
<line x1="393.96" y1="410.01" x2="393.87" y2="410.6" stroke="#3c3c3c" stroke-width="0.6"/>
<line x1="387.78" y1="423.12" x2="386.56" y2="429.36" stroke="#3c3c3c" stroke-width="0.6"/>
<line x1="386.08" y1="422.78" x2="384.56" y2="430.06" stroke="#3c3c3c" stroke-width="0.6"/>
<path d="M387.78,423.12 A146.22,146.22 0 0 1 386.08,422.78" fill="none" stroke="#3c3c3c" stroke-width="0.6"/>
<line x1="389.72" y1="409.22" x2="386.93" y2="422.95" stroke="#3c3c3c" stroke-width="0.6"/>
<path d="M393.96,410.01 A132.21,132.21 0 0 1 389.72,409.22" fill="none" stroke="#3c3c3c" stroke-width="0.6"/>
<line x1="393.22" y1="402.18" x2="391.84" y2="409.63" stroke="#3c3c3c" stroke-width="0.6"/>
<path d="M398.89,403.1 A124.63,124.63 0 0 1 393.22,402.18" fill="none" stroke="#3c3c3c" stroke-width="0.6"/>
<line x1="396.5" y1="399.91" x2="396.05" y2="402.67" stroke="#3c3c3c" stroke-width="0.6"/>
<path d="M402.5,400.73 A121.83,121.83 0 0 1 396.5,399.91" fill="none" stroke="#3c3c3c" stroke-width="0.6"/>
<line x1="400.04" y1="396.33" x2="399.49" y2="400.35" stroke="#3c3c3c" stroke-width="0.6"/>
<path d="M405.04,396.9 A117.76,117.76 0 0 1 400.04,396.33" fill="none" stroke="#3c3c3c" stroke-width="0.6"/>
<line x1="402.86" y1="393.87" x2="402.54" y2="396.64" stroke="#3c3c3c" stroke-width="0.6"/>
<path d="M410.24,394.48 A114.97,114.97 0 0 1 402.86,393.87" fill="none" stroke="#3c3c3c" stroke-width="0.6"/>
<line x1="407.05" y1="388.07" x2="406.54" y2="394.23" stroke="#3c3c3c" stroke-width="0.6"/>
<line x1="392.48" y1="385.86" x2="384.66" y2="421.19" stroke="#3c3c3c" stroke-width="0.6"/>
<path d="M407.05,388.07 A108.79,108.79 0 0 1 392.48,385.86" fill="none" stroke="#3c3c3c" stroke-width="0.6"/>
<line x1="401.4" y1="376.13" x2="399.73" y2="387.21" stroke="#3c3c3c" stroke-width="0.6"/>
<path d="M414.73,377.22 A97.58,97.58 0 0 1 401.4,376.13" fill="none" stroke="#3c3c3c" stroke-width="0.6"/>
<line x1="408.42" y1="372.32" x2="408.05" y2="376.91" stroke="#3c3c3c" stroke-width="0.6"/>
<line x1="386.65" y1="405.11" x2="379.7" y2="434.83" stroke="#d2409c" stroke-width="0.6"/>
<line x1="382.77" y1="414.45" x2="381.99" y2="417.63" stroke="#d2409c" stroke-width="0.6"/>
<line x1="381.17" y1="414.04" x2="376.27" y2="432.94" stroke="#d2409c" stroke-width="0.6"/>
<path d="M382.77,414.45 A138.83,138.83 0 0 1 381.17,414.04" fill="none" stroke="#d2409c" stroke-width="0.6"/>
<line x1="383.23" y1="409.27" x2="381.97" y2="414.25" stroke="#d2409c" stroke-width="0.6"/>
<line x1="380.93" y1="408.66" x2="380.57" y2="409.97" stroke="#d2409c" stroke-width="0.6"/>
<path d="M383.23,409.27 A133.7,133.7 0 0 1 380.93,408.66" fill="none" stroke="#d2409c" stroke-width="0.6"/>
<line x1="382.84" y1="406.04" x2="382.08" y2="408.97" stroke="#d2409c" stroke-width="0.6"/>
<line x1="380.22" y1="405.32" x2="376.63" y2="417.97" stroke="#d2409c" stroke-width="0.6"/>
<line x1="378.73" y1="404.89" x2="378.45" y2="405.85" stroke="#d2409c" stroke-width="0.6"/>
<path d="M380.22,405.32 A130.67,130.67 0 0 1 378.73,404.89" fill="none" stroke="#d2409c" stroke-width="0.6"/>
<line x1="379.48" y1="405.11" x2="379.48" y2="405.11" stroke="#d2409c" stroke-width="0.6"/>
<path d="M382.84,406.04 A130.67,130.67 0 0 1 379.48,405.11" fill="none" stroke="#d2409c" stroke-width="0.6"/>
<line x1="381.64" y1="403.84" x2="381.16" y2="405.59" stroke="#d2409c" stroke-width="0.6"/>
<path d="M386.65,405.11 A128.85,128.85 0 0 1 381.64,403.84" fill="none" stroke="#d2409c" stroke-width="0.6"/>
<line x1="386.81" y1="394.05" x2="384.14" y2="404.5" stroke="#3c3c3c" stroke-width="0.6"/>
<line x1="379.35" y1="397.69" x2="376.89" y2="405.61" stroke="#3c3c3c" stroke-width="0.6"/>
<line x1="377.95" y1="397.24" x2="371.6" y2="416.87" stroke="#3c3c3c" stroke-width="0.6"/>
<path d="M379.35,397.69 A123.6,123.6 0 0 1 377.95,397.24" fill="none" stroke="#3c3c3c" stroke-width="0.6"/>
<line x1="380.32" y1="392.2" x2="378.65" y2="397.47" stroke="#3c3c3c" stroke-width="0.6"/>
<path d="M386.81,394.05 A118.07,118.07 0 0 1 380.32,392.2" fill="none" stroke="#3c3c3c" stroke-width="0.6"/>
<line x1="384.77" y1="388.88" x2="383.55" y2="393.17" stroke="#3c3c3c" stroke-width="0.6"/>
<line x1="379.74" y1="387.31" x2="372.55" y2="408.67" stroke="#3c3c3c" stroke-width="0.6"/>
<path d="M384.77,388.88 A113.61,113.61 0 0 1 379.74,387.31" fill="none" stroke="#3c3c3c" stroke-width="0.6"/>
<line x1="384.64" y1="380.44" x2="382.25" y2="388.13" stroke="#3c3c3c" stroke-width="0.6"/>
<line x1="381.13" y1="379.28" x2="365.86" y2="422.9" stroke="#3c3c3c" stroke-width="0.6"/>
<path d="M384.64,380.44 A105.55,105.55 0 0 1 381.13,379.28" fill="none" stroke="#3c3c3c" stroke-width="0.6"/>
<line x1="383.67" y1="377.49" x2="382.88" y2="379.87" stroke="#3c3c3c" stroke-width="0.6"/>
<line x1="378.58" y1="382.61" x2="362.18" y2="427.73" stroke="#3c3c3c" stroke-width="0.6"/>
<line x1="376.75" y1="383.78" x2="362.19" y2="422.4" stroke="#3c3c3c" stroke-width="0.6"/>
<line x1="370.56" y1="396" x2="364.21" y2="412.24" stroke="#3c3c3c" stroke-width="0.6"/>
<line x1="367.84" y1="398.75" x2="359.26" y2="419.99" stroke="#d2409c" stroke-width="0.6"/>
<line x1="366.43" y1="398.17" x2="366.03" y2="399.14" stroke="#d2409c" stroke-width="0.6"/>
<path d="M367.84,398.75 A128.47,128.47 0 0 1 366.43,398.17" fill="none" stroke="#d2409c" stroke-width="0.6"/>
<line x1="368.23" y1="395.81" x2="367.14" y2="398.46" stroke="#d2409c" stroke-width="0.6"/>
<line x1="366.17" y1="394.94" x2="365.77" y2="395.85" stroke="#d2409c" stroke-width="0.6"/>
<path d="M368.23,395.81 A125.6,125.6 0 0 1 366.17,394.94" fill="none" stroke="#d2409c" stroke-width="0.6"/>
<line x1="367.2" y1="395.38" x2="367.2" y2="395.38" stroke="#d2409c" stroke-width="0.6"/>
<line x1="364.8" y1="394.34" x2="361.62" y2="401.46" stroke="#d2409c" stroke-width="0.6"/>
<path d="M367.2,395.38 A125.6,125.6 0 0 1 364.8,394.34" fill="none" stroke="#d2409c" stroke-width="0.6"/>
<line x1="366.27" y1="394.23" x2="366" y2="394.86" stroke="#3c3c3c" stroke-width="0.6"/>
<path d="M370.56,396 A124.91,124.91 0 0 1 366.27,394.23" fill="none" stroke="#3c3c3c" stroke-width="0.6"/>
<line x1="369.79" y1="391.78" x2="368.41" y2="395.14" stroke="#3c3c3c" stroke-width="0.6"/>
<line x1="365.25" y1="389.8" x2="355.88" y2="410.13" stroke="#3c3c3c" stroke-width="0.6"/>
<path d="M369.79,391.78 A121.28,121.28 0 0 1 365.25,389.8" fill="none" stroke="#3c3c3c" stroke-width="0.6"/>
<line x1="369.4" y1="386.48" x2="367.51" y2="390.81" stroke="#3c3c3c" stroke-width="0.6"/>
<line x1="362.75" y1="391.7" x2="361.69" y2="393.93" stroke="#3c3c3c" stroke-width="0.6"/>
<line x1="359.41" y1="395.16" x2="358.11" y2="397.82" stroke="#3c3c3c" stroke-width="0.6"/>
<line x1="358.05" y1="394.48" x2="351.45" y2="407.56" stroke="#3c3c3c" stroke-width="0.6"/>
<path d="M359.41,395.16 A128.63,128.63 0 0 1 358.05,394.48" fill="none" stroke="#3c3c3c" stroke-width="0.6"/>
<line x1="360.76" y1="390.74" x2="358.73" y2="394.82" stroke="#3c3c3c" stroke-width="0.6"/>
<path d="M362.75,391.7 A124.06,124.06 0 0 1 360.76,390.74" fill="none" stroke="#3c3c3c" stroke-width="0.6"/>
<line x1="365.04" y1="384.47" x2="361.75" y2="391.22" stroke="#3c3c3c" stroke-width="0.6"/>
<path d="M369.4,386.48 A116.55,116.55 0 0 1 365.04,384.47" fill="none" stroke="#3c3c3c" stroke-width="0.6"/>
<line x1="369.42" y1="380.71" x2="367.21" y2="385.5" stroke="#3c3c3c" stroke-width="0.6"/>
<path d="M376.75,383.78 A111.28,111.28 0 0 1 369.42,380.71" fill="none" stroke="#3c3c3c" stroke-width="0.6"/>
<line x1="373.72" y1="380.71" x2="373.06" y2="382.31" stroke="#3c3c3c" stroke-width="0.6"/>
<path d="M378.58,382.61 A109.55,109.55 0 0 1 373.72,380.71" fill="none" stroke="#3c3c3c" stroke-width="0.6"/>
<line x1="378.51" y1="375.63" x2="376.14" y2="381.69" stroke="#3c3c3c" stroke-width="0.6"/>
<path d="M383.67,377.49 A103.04,103.04 0 0 1 378.51,375.63" fill="none" stroke="#3c3c3c" stroke-width="0.6"/>
<line x1="384.48" y1="367.13" x2="381.07" y2="376.59" stroke="#3c3c3c" stroke-width="0.6"/>
<path d="M408.42,372.32 A92.98,92.98 0 0 1 384.48,367.13" fill="none" stroke="#3c3c3c" stroke-width="0.6"/>
<line x1="399.4" y1="356.13" x2="396.28" y2="370.52" stroke="#3c3c3c" stroke-width="0.6"/>
<line x1="379.91" y1="349.1" x2="352.76" y2="401.34" stroke="#3c3c3c" stroke-width="0.6"/>
<path d="M399.4,356.13 A78.26,78.26 0 0 1 379.91,349.1" fill="none" stroke="#3c3c3c" stroke-width="0.6"/>
<line x1="392.12" y1="345.78" x2="389.42" y2="353.26" stroke="#3c3c3c" stroke-width="0.6"/>
<path d="M422.67,349.64 A70.31,70.31 0 0 1 392.12,345.78" fill="none" stroke="#3c3c3c" stroke-width="0.6"/>
<line x1="408.73" y1="337.19" x2="407.19" y2="349.4" stroke="#3c3c3c" stroke-width="0.6"/>
<path d="M444.87,329.95 A58,58 0 0 1 408.73,337.19" fill="none" stroke="#3c3c3c" stroke-width="0.6"/>
<line x1="357.97" y1="387.23" x2="350.31" y2="401.43" stroke="#3c3c3c" stroke-width="0.6"/>
<line x1="354" y1="391.4" x2="353.51" y2="392.28" stroke="#3c3c3c" stroke-width="0.6"/>
<line x1="352.67" y1="390.66" x2="349.7" y2="395.86" stroke="#3c3c3c" stroke-width="0.6"/>
<path d="M354,391.4 A127.8,127.8 0 0 1 352.67,390.66" fill="none" stroke="#3c3c3c" stroke-width="0.6"/>
<line x1="353.33" y1="391.03" x2="353.33" y2="391.03" stroke="#3c3c3c" stroke-width="0.6"/>
<line x1="351.35" y1="389.9" x2="341.25" y2="407.13" stroke="#3c3c3c" stroke-width="0.6"/>
<path d="M353.33,391.03 A127.8,127.8 0 0 1 351.35,389.9" fill="none" stroke="#3c3c3c" stroke-width="0.6"/>
<line x1="352.97" y1="389.37" x2="352.34" y2="390.47" stroke="#3c3c3c" stroke-width="0.6"/>
<line x1="350.7" y1="388.04" x2="337.39" y2="410.12" stroke="#3c3c3c" stroke-width="0.6"/>
<path d="M352.97,389.37 A126.54,126.54 0 0 1 350.7,388.04" fill="none" stroke="#3c3c3c" stroke-width="0.6"/>
<line x1="354.01" y1="385" x2="351.83" y2="388.71" stroke="#3c3c3c" stroke-width="0.6"/>
<path d="M357.97,387.23 A122.23,122.23 0 0 1 354.01,385" fill="none" stroke="#3c3c3c" stroke-width="0.6"/>
<line x1="362.84" y1="373.98" x2="355.98" y2="386.13" stroke="#3c3c3c" stroke-width="0.6"/>
<line x1="356.97" y1="375.05" x2="335.61" y2="409.56" stroke="#3c3c3c" stroke-width="0.6"/>
<line x1="353.79" y1="377.55" x2="336.98" y2="404.02" stroke="#3c3c3c" stroke-width="0.6"/>
<line x1="344.32" y1="389.55" x2="332.87" y2="407.1" stroke="#3c3c3c" stroke-width="0.6"/>
<line x1="343.02" y1="388.69" x2="337.36" y2="397.14" stroke="#3c3c3c" stroke-width="0.6"/>
<line x1="341.72" y1="387.81" x2="341.16" y2="388.64" stroke="#3c3c3c" stroke-width="0.6"/>
<path d="M343.02,388.69 A131.21,131.21 0 0 1 341.72,387.81" fill="none" stroke="#3c3c3c" stroke-width="0.6"/>
<line x1="342.37" y1="388.25" x2="342.37" y2="388.25" stroke="#3c3c3c" stroke-width="0.6"/>
<path d="M344.32,389.55 A131.21,131.21 0 0 1 342.37,388.25" fill="none" stroke="#3c3c3c" stroke-width="0.6"/>
<line x1="343.35" y1="388.89" x2="343.34" y2="388.91" stroke="#3c3c3c" stroke-width="0.6"/>
<line x1="340.46" y1="386.9" x2="335.53" y2="393.9" stroke="#3c3c3c" stroke-width="0.6"/>
<path d="M343.35,388.89 A131.19,131.19 0 0 1 340.46,386.9" fill="none" stroke="#3c3c3c" stroke-width="0.6"/>
<line x1="344.04" y1="384.78" x2="341.9" y2="387.91" stroke="#3c3c3c" stroke-width="0.6"/>
<line x1="341.4" y1="382.93" x2="334.97" y2="391.84" stroke="#3c3c3c" stroke-width="0.6"/>
<path d="M344.04,384.78 A127.4,127.4 0 0 1 341.4,382.93" fill="none" stroke="#3c3c3c" stroke-width="0.6"/>
<line x1="348.06" y1="376.25" x2="342.71" y2="383.86" stroke="#3c3c3c" stroke-width="0.6"/>
<line x1="341.23" y1="380.61" x2="340.64" y2="381.41" stroke="#3c3c3c" stroke-width="0.6"/>
<line x1="335.3" y1="385.95" x2="333.47" y2="388.36" stroke="#3c3c3c" stroke-width="0.6"/>
<line x1="334.04" y1="384.98" x2="332.16" y2="387.4" stroke="#3c3c3c" stroke-width="0.6"/>
<path d="M335.3,385.95 A133.46,133.46 0 0 1 334.04,384.98" fill="none" stroke="#3c3c3c" stroke-width="0.6"/>
<line x1="339.44" y1="379.26" x2="334.67" y2="385.47" stroke="#3c3c3c" stroke-width="0.6"/>
<path d="M341.23,380.61 A125.63,125.63 0 0 1 339.44,379.26" fill="none" stroke="#3c3c3c" stroke-width="0.6"/>
<line x1="340.34" y1="379.93" x2="340.34" y2="379.93" stroke="#3c3c3c" stroke-width="0.6"/>
<line x1="337.68" y1="377.87" x2="334.48" y2="381.89" stroke="#3c3c3c" stroke-width="0.6"/>
<path d="M340.34,379.93 A125.63,125.63 0 0 1 337.68,377.87" fill="none" stroke="#3c3c3c" stroke-width="0.6"/>
<line x1="339.52" y1="378.24" x2="339" y2="378.91" stroke="#3c3c3c" stroke-width="0.6"/>
<line x1="337.05" y1="376.27" x2="326.51" y2="389.18" stroke="#3c3c3c" stroke-width="0.6"/>
<path d="M339.52,378.24 A124.78,124.78 0 0 1 337.05,376.27" fill="none" stroke="#3c3c3c" stroke-width="0.6"/>
<line x1="342.44" y1="372.04" x2="338.28" y2="377.27" stroke="#3c3c3c" stroke-width="0.6"/>
<path d="M348.06,376.25 A118.1,118.1 0 0 1 342.44,372.04" fill="none" stroke="#3c3c3c" stroke-width="0.6"/>
<line x1="346.48" y1="372.5" x2="345.22" y2="374.19" stroke="#3c3c3c" stroke-width="0.6"/>
<path d="M353.79,377.55 A115.99,115.99 0 0 1 346.48,372.5" fill="none" stroke="#3c3c3c" stroke-width="0.6"/>
<line x1="351.29" y1="373.36" x2="350.09" y2="375.1" stroke="#3c3c3c" stroke-width="0.6"/>
<line x1="342.9" y1="366.97" x2="331.87" y2="380.16" stroke="#3c3c3c" stroke-width="0.6"/>
<path d="M351.29,373.36 A113.88,113.88 0 0 1 342.9,366.97" fill="none" stroke="#3c3c3c" stroke-width="0.6"/>
<line x1="348.05" y1="368.91" x2="347.02" y2="370.26" stroke="#3c3c3c" stroke-width="0.6"/>
<path d="M356.97,375.05 A112.18,112.18 0 0 1 348.05,368.91" fill="none" stroke="#3c3c3c" stroke-width="0.6"/>
<line x1="354.65" y1="368.87" x2="352.43" y2="372.09" stroke="#3c3c3c" stroke-width="0.6"/>
<path d="M362.84,373.98 A108.28,108.28 0 0 1 354.65,368.87" fill="none" stroke="#3c3c3c" stroke-width="0.6"/>
<line x1="361.05" y1="367.72" x2="358.68" y2="371.51" stroke="#3c3c3c" stroke-width="0.6"/>
<line x1="348.42" y1="358.45" x2="323.84" y2="387.13" stroke="#3c3c3c" stroke-width="0.6"/>
<path d="M361.05,367.72 A103.81,103.81 0 0 1 348.42,358.45" fill="none" stroke="#3c3c3c" stroke-width="0.6"/>
<line x1="355.81" y1="361.62" x2="354.56" y2="363.33" stroke="#3c3c3c" stroke-width="0.6"/>
<line x1="332.89" y1="374.26" x2="326.35" y2="381.71" stroke="#3c3c3c" stroke-width="0.6"/>
<line x1="329.61" y1="375.68" x2="328.12" y2="377.33" stroke="#3c3c3c" stroke-width="0.6"/>
<line x1="328.47" y1="374.64" x2="322.65" y2="380.95" stroke="#3c3c3c" stroke-width="0.6"/>
<path d="M329.61,375.68 A129.17,129.17 0 0 1 328.47,374.64" fill="none" stroke="#3c3c3c" stroke-width="0.6"/>
<line x1="331.22" y1="372.76" x2="329.04" y2="375.16" stroke="#3c3c3c" stroke-width="0.6"/>
<path d="M332.89,374.26 A125.93,125.93 0 0 1 331.22,372.76" fill="none" stroke="#3c3c3c" stroke-width="0.6"/>
<line x1="340.37" y1="364.22" x2="332.05" y2="373.52" stroke="#3c3c3c" stroke-width="0.6"/>
<line x1="333.71" y1="366.85" x2="332.6" y2="368.02" stroke="#3c3c3c" stroke-width="0.6"/>
<line x1="332.5" y1="366.05" x2="331.8" y2="366.77" stroke="#3c3c3c" stroke-width="0.6"/>
<line x1="331.48" y1="365.05" x2="324.84" y2="371.76" stroke="#3c3c3c" stroke-width="0.6"/>
<path d="M332.5,366.05 A120.16,120.16 0 0 1 331.48,365.05" fill="none" stroke="#3c3c3c" stroke-width="0.6"/>
<line x1="332.16" y1="365.37" x2="331.99" y2="365.55" stroke="#3c3c3c" stroke-width="0.6"/>
<path d="M333.71,366.85 A119.9,119.9 0 0 1 332.16,365.37" fill="none" stroke="#3c3c3c" stroke-width="0.6"/>
<line x1="337.4" y1="361.46" x2="332.93" y2="366.12" stroke="#3c3c3c" stroke-width="0.6"/>
<path d="M340.37,364.22 A113.45,113.45 0 0 1 337.4,361.46" fill="none" stroke="#3c3c3c" stroke-width="0.6"/>
<line x1="346.16" y1="354.99" x2="338.87" y2="362.85" stroke="#3c3c3c" stroke-width="0.6"/>
<line x1="341.88" y1="352.78" x2="325.9" y2="368.54" stroke="#3c3c3c" stroke-width="0.6"/>
<line x1="337.73" y1="355.05" x2="328.51" y2="363.94" stroke="#3c3c3c" stroke-width="0.6"/>
<line x1="327.42" y1="362.98" x2="318.48" y2="371.38" stroke="#3c3c3c" stroke-width="0.6"/>
<line x1="326.43" y1="361.92" x2="316.17" y2="371.35" stroke="#3c3c3c" stroke-width="0.6"/>
<path d="M327.42,362.98 A121.61,121.61 0 0 1 326.43,361.92" fill="none" stroke="#3c3c3c" stroke-width="0.6"/>
<line x1="333.55" y1="356.29" x2="326.93" y2="362.45" stroke="#3c3c3c" stroke-width="0.6"/>
<line x1="330.64" y1="356.2" x2="312.93" y2="372.08" stroke="#3c3c3c" stroke-width="0.6"/>
<line x1="328.28" y1="356.46" x2="310.43" y2="372.08" stroke="#3c3c3c" stroke-width="0.6"/>
<line x1="316.85" y1="364.4" x2="312.57" y2="368.06" stroke="#3c3c3c" stroke-width="0.6"/>
<line x1="315.85" y1="363.21" x2="310.12" y2="367.99" stroke="#3c3c3c" stroke-width="0.6"/>
<path d="M316.85,364.4 A130.44,130.44 0 0 1 315.85,363.21" fill="none" stroke="#3c3c3c" stroke-width="0.6"/>
<line x1="320.94" y1="359.93" x2="316.35" y2="363.81" stroke="#3c3c3c" stroke-width="0.6"/>
<line x1="316.2" y1="360.92" x2="303.85" y2="370.98" stroke="#3c3c3c" stroke-width="0.6"/>
<line x1="315.24" y1="359.73" x2="313.95" y2="360.76" stroke="#3c3c3c" stroke-width="0.6"/>
<path d="M316.2,360.92 A128.7,128.7 0 0 1 315.24,359.73" fill="none" stroke="#3c3c3c" stroke-width="0.6"/>
<line x1="317.17" y1="359.16" x2="315.72" y2="360.33" stroke="#3c3c3c" stroke-width="0.6"/>
<line x1="315.77" y1="357.38" x2="312.02" y2="360.29" stroke="#3c3c3c" stroke-width="0.6"/>
<path d="M317.17,359.16 A126.84,126.84 0 0 1 315.77,357.38" fill="none" stroke="#3c3c3c" stroke-width="0.6"/>
<line x1="318.36" y1="356.78" x2="316.47" y2="358.27" stroke="#3c3c3c" stroke-width="0.6"/>
<path d="M320.94,359.93 A124.42,124.42 0 0 1 318.36,356.78" fill="none" stroke="#3c3c3c" stroke-width="0.6"/>
<line x1="322.88" y1="355.72" x2="319.64" y2="358.36" stroke="#3c3c3c" stroke-width="0.6"/>
<line x1="320.11" y1="352.2" x2="318.51" y2="353.42" stroke="#3c3c3c" stroke-width="0.6"/>
<path d="M322.88,355.72 A120.24,120.24 0 0 1 320.11,352.2" fill="none" stroke="#3c3c3c" stroke-width="0.6"/>
<line x1="324.35" y1="351.72" x2="321.48" y2="353.98" stroke="#3c3c3c" stroke-width="0.6"/>
<path d="M328.28,356.46 A116.59,116.59 0 0 1 324.35,351.72" fill="none" stroke="#3c3c3c" stroke-width="0.6"/>
<line x1="327.78" y1="352.87" x2="326.28" y2="354.11" stroke="#3c3c3c" stroke-width="0.6"/>
<path d="M330.64,356.2 A114.65,114.65 0 0 1 327.78,352.87" fill="none" stroke="#3c3c3c" stroke-width="0.6"/>
<line x1="329.8" y1="354.03" x2="329.19" y2="354.55" stroke="#3c3c3c" stroke-width="0.6"/>
<line x1="324.4" y1="347.26" x2="318.03" y2="351.96" stroke="#3c3c3c" stroke-width="0.6"/>
<path d="M329.8,354.03 A113.85,113.85 0 0 1 324.4,347.26" fill="none" stroke="#3c3c3c" stroke-width="0.6"/>
<line x1="328.04" y1="349.9" x2="327.03" y2="350.7" stroke="#3c3c3c" stroke-width="0.6"/>
<path d="M333.55,356.29 A112.57,112.57 0 0 1 328.04,349.9" fill="none" stroke="#3c3c3c" stroke-width="0.6"/>
<line x1="333.68" y1="350.61" x2="330.73" y2="353.15" stroke="#3c3c3c" stroke-width="0.6"/>
<path d="M337.73,355.05 A108.68,108.68 0 0 1 333.68,350.61" fill="none" stroke="#3c3c3c" stroke-width="0.6"/>
<line x1="337.31" y1="351.37" x2="335.67" y2="352.86" stroke="#3c3c3c" stroke-width="0.6"/>
<line x1="325.09" y1="345.09" x2="319" y2="349.48" stroke="#3c3c3c" stroke-width="0.6"/>
<line x1="323.49" y1="344.59" x2="322.67" y2="345.17" stroke="#3c3c3c" stroke-width="0.6"/>
<line x1="319.24" y1="345.87" x2="309.47" y2="352.56" stroke="#3c3c3c" stroke-width="0.6"/>
<line x1="318.46" y1="344.72" x2="315.7" y2="346.56" stroke="#3c3c3c" stroke-width="0.6"/>
<path d="M319.24,345.87 A117.25,117.25 0 0 1 318.46,344.72" fill="none" stroke="#3c3c3c" stroke-width="0.6"/>
<line x1="322.34" y1="342.93" x2="318.84" y2="345.29" stroke="#3c3c3c" stroke-width="0.6"/>
<path d="M323.49,344.59 A113.03,113.03 0 0 1 322.34,342.93" fill="none" stroke="#3c3c3c" stroke-width="0.6"/>
<line x1="323.75" y1="343.19" x2="322.91" y2="343.76" stroke="#3c3c3c" stroke-width="0.6"/>
<path d="M325.09,345.09 A112.01,112.01 0 0 1 323.75,343.19" fill="none" stroke="#3c3c3c" stroke-width="0.6"/>
<line x1="328.95" y1="340.95" x2="324.42" y2="344.14" stroke="#3c3c3c" stroke-width="0.6"/>
<path d="M337.31,351.37 A106.47,106.47 0 0 1 328.95,340.95" fill="none" stroke="#3c3c3c" stroke-width="0.6"/>
<line x1="334.8" y1="344.82" x2="332.96" y2="346.29" stroke="#3c3c3c" stroke-width="0.6"/>
<path d="M341.88,352.78 A104.12,104.12 0 0 1 334.8,344.82" fill="none" stroke="#3c3c3c" stroke-width="0.6"/>
<line x1="339.28" y1="347.96" x2="338.24" y2="348.89" stroke="#3c3c3c" stroke-width="0.6"/>
<path d="M346.16,354.99 A102.73,102.73 0 0 1 339.28,347.96" fill="none" stroke="#3c3c3c" stroke-width="0.6"/>
<line x1="343.38" y1="350.83" x2="342.64" y2="351.56" stroke="#3c3c3c" stroke-width="0.6"/>
<path d="M355.81,361.62 A101.69,101.69 0 0 1 343.38,350.83" fill="none" stroke="#3c3c3c" stroke-width="0.6"/>
<line x1="351.77" y1="353.73" x2="349.38" y2="356.48" stroke="#3c3c3c" stroke-width="0.6"/>
<line x1="333.79" y1="333.08" x2="303.44" y2="352.81" stroke="#3c3c3c" stroke-width="0.6"/>
<path d="M351.77,353.73 A98.05,98.05 0 0 1 333.79,333.08" fill="none" stroke="#3c3c3c" stroke-width="0.6"/>
<line x1="343.24" y1="343" x2="342.05" y2="344.03" stroke="#3c3c3c" stroke-width="0.6"/>
<line x1="301.29" y1="352.28" x2="300.45" y2="352.82" stroke="#3c3c3c" stroke-width="0.6"/>
<line x1="300.44" y1="350.91" x2="298.88" y2="351.87" stroke="#3c3c3c" stroke-width="0.6"/>
<path d="M301.29,352.28 A135.77,135.77 0 0 1 300.44,350.91" fill="none" stroke="#3c3c3c" stroke-width="0.6"/>
<line x1="302.86" y1="350.35" x2="300.86" y2="351.6" stroke="#3c3c3c" stroke-width="0.6"/>
<line x1="301.61" y1="348.32" x2="296.55" y2="351.36" stroke="#3c3c3c" stroke-width="0.6"/>
<path d="M302.86,350.35 A133.42,133.42 0 0 1 301.61,348.32" fill="none" stroke="#3c3c3c" stroke-width="0.6"/>
<line x1="305.11" y1="347.57" x2="302.23" y2="349.34" stroke="#3c3c3c" stroke-width="0.6"/>
<line x1="303.72" y1="345.25" x2="295.81" y2="349.87" stroke="#3c3c3c" stroke-width="0.6"/>
<path d="M305.11,347.57 A130.04,130.04 0 0 1 303.72,345.25" fill="none" stroke="#3c3c3c" stroke-width="0.6"/>
<line x1="318.16" y1="338.19" x2="304.41" y2="346.41" stroke="#3c3c3c" stroke-width="0.6"/>
<line x1="301.34" y1="344.82" x2="286.97" y2="352.99" stroke="#3c3c3c" stroke-width="0.6"/>
<line x1="297.7" y1="345.04" x2="285.14" y2="351.99" stroke="#3c3c3c" stroke-width="0.6"/>
<line x1="296.93" y1="343.63" x2="296.05" y2="344.1" stroke="#3c3c3c" stroke-width="0.6"/>
<path d="M297.7,345.04 A135.17,135.17 0 0 1 296.93,343.63" fill="none" stroke="#3c3c3c" stroke-width="0.6"/>
<line x1="297.35" y1="344.31" x2="297.31" y2="344.34" stroke="#3c3c3c" stroke-width="0.6"/>
<line x1="296.22" y1="342.19" x2="294.98" y2="342.83" stroke="#3c3c3c" stroke-width="0.6"/>
<path d="M297.35,344.31 A135.13,135.13 0 0 1 296.22,342.19" fill="none" stroke="#3c3c3c" stroke-width="0.6"/>
<line x1="299.64" y1="341.73" x2="296.78" y2="343.25" stroke="#3c3c3c" stroke-width="0.6"/>
<path d="M301.34,344.82 A131.89,131.89 0 0 1 299.64,341.73" fill="none" stroke="#3c3c3c" stroke-width="0.6"/>
<line x1="307.36" y1="339.49" x2="300.48" y2="343.28" stroke="#3c3c3c" stroke-width="0.6"/>
<line x1="303.01" y1="336.94" x2="285.7" y2="345.72" stroke="#3c3c3c" stroke-width="0.6"/>
<line x1="302.34" y1="335.59" x2="299.09" y2="337.19" stroke="#3c3c3c" stroke-width="0.6"/>
<path d="M303.01,336.94 A126.68,126.68 0 0 1 302.34,335.59" fill="none" stroke="#3c3c3c" stroke-width="0.6"/>
<line x1="305.04" y1="335.08" x2="302.68" y2="336.26" stroke="#3c3c3c" stroke-width="0.6"/>
<path d="M307.36,339.49 A124.03,124.03 0 0 1 305.04,335.08" fill="none" stroke="#3c3c3c" stroke-width="0.6"/>
<line x1="315.04" y1="332.64" x2="306.18" y2="337.3" stroke="#3c3c3c" stroke-width="0.6"/>
<path d="M318.16,338.19 A114.02,114.02 0 0 1 315.04,332.64" fill="none" stroke="#3c3c3c" stroke-width="0.6"/>
<line x1="319.43" y1="333.83" x2="316.56" y2="335.44" stroke="#3c3c3c" stroke-width="0.6"/>
<line x1="316.07" y1="327.36" x2="286.24" y2="341.61" stroke="#3c3c3c" stroke-width="0.6"/>
<path d="M319.43,333.83 A110.74,110.74 0 0 1 316.07,327.36" fill="none" stroke="#3c3c3c" stroke-width="0.6"/>
<line x1="321.58" y1="328.61" x2="317.69" y2="330.62" stroke="#3c3c3c" stroke-width="0.6"/>
<line x1="291.08" y1="337.48" x2="288.65" y2="338.61" stroke="#3c3c3c" stroke-width="0.6"/>
<line x1="290.4" y1="335.99" x2="287.59" y2="337.25" stroke="#3c3c3c" stroke-width="0.6"/>
<path d="M291.08,337.48 A137.66,137.66 0 0 1 290.4,335.99" fill="none" stroke="#3c3c3c" stroke-width="0.6"/>
<line x1="300.99" y1="332.06" x2="290.74" y2="336.74" stroke="#3c3c3c" stroke-width="0.6"/>
<line x1="300.07" y1="330" x2="299.03" y2="330.46" stroke="#3c3c3c" stroke-width="0.6"/>
<path d="M300.99,332.06 A126.39,126.39 0 0 1 300.07,330" fill="none" stroke="#3c3c3c" stroke-width="0.6"/>
<line x1="303.97" y1="329.5" x2="300.52" y2="331.04" stroke="#3c3c3c" stroke-width="0.6"/>
<line x1="300.47" y1="328.2" x2="290.76" y2="332.29" stroke="#3c3c3c" stroke-width="0.6"/>
<line x1="298.17" y1="327.53" x2="293.83" y2="329.29" stroke="#3c3c3c" stroke-width="0.6"/>
<line x1="297.61" y1="326.12" x2="295.92" y2="326.79" stroke="#3c3c3c" stroke-width="0.6"/>
<path d="M298.17,327.53 A127.18,127.18 0 0 1 297.61,326.12" fill="none" stroke="#3c3c3c" stroke-width="0.6"/>
<line x1="299.62" y1="326.13" x2="297.89" y2="326.83" stroke="#3c3c3c" stroke-width="0.6"/>
<path d="M300.47,328.2 A125.32,125.32 0 0 1 299.62,326.13" fill="none" stroke="#3c3c3c" stroke-width="0.6"/>
<line x1="302.54" y1="326.15" x2="300.04" y2="327.17" stroke="#3c3c3c" stroke-width="0.6"/>
<path d="M303.97,329.5 A122.62,122.62 0 0 1 302.54,326.15" fill="none" stroke="#3c3c3c" stroke-width="0.6"/>
<line x1="318.2" y1="321.44" x2="303.24" y2="327.83" stroke="#3c3c3c" stroke-width="0.6"/>
<path d="M321.58,328.61 A106.35,106.35 0 0 1 318.2,321.44" fill="none" stroke="#3c3c3c" stroke-width="0.6"/>
<line x1="325.96" y1="322.16" x2="319.82" y2="325.06" stroke="#3c3c3c" stroke-width="0.6"/>
<line x1="304.26" y1="321.98" x2="291.43" y2="326.85" stroke="#3c3c3c" stroke-width="0.6"/>
<line x1="303.76" y1="320.65" x2="280.8" y2="329.04" stroke="#3c3c3c" stroke-width="0.6"/>
<path d="M304.26,321.98 A119.49,119.49 0 0 1 303.76,320.65" fill="none" stroke="#3c3c3c" stroke-width="0.6"/>
<line x1="317.9" y1="316.15" x2="304.01" y2="321.32" stroke="#3c3c3c" stroke-width="0.6"/>
<line x1="300.94" y1="320.14" x2="284.15" y2="326.05" stroke="#3c3c3c" stroke-width="0.6"/>
<line x1="285.53" y1="323.82" x2="283.41" y2="324.54" stroke="#3c3c3c" stroke-width="0.6"/>
<line x1="285.01" y1="322.27" x2="280.7" y2="323.67" stroke="#3c3c3c" stroke-width="0.6"/>
<path d="M285.53,323.82 A137.75,137.75 0 0 1 285.01,322.27" fill="none" stroke="#3c3c3c" stroke-width="0.6"/>
<line x1="291.5" y1="320.98" x2="285.27" y2="323.05" stroke="#3c3c3c" stroke-width="0.6"/>
<line x1="290.78" y1="318.75" x2="288.27" y2="319.54" stroke="#3c3c3c" stroke-width="0.6"/>
<path d="M291.5,320.98 A131.18,131.18 0 0 1 290.78,318.75" fill="none" stroke="#3c3c3c" stroke-width="0.6"/>
<line x1="293.05" y1="319.25" x2="291.13" y2="319.87" stroke="#3c3c3c" stroke-width="0.6"/>
<line x1="292.25" y1="316.68" x2="286.88" y2="318.29" stroke="#3c3c3c" stroke-width="0.6"/>
<path d="M293.05,319.25 A129.17,129.17 0 0 1 292.25,316.68" fill="none" stroke="#3c3c3c" stroke-width="0.6"/>
<line x1="299.51" y1="315.83" x2="292.64" y2="317.97" stroke="#3c3c3c" stroke-width="0.6"/>
<path d="M300.94,320.14 A121.98,121.98 0 0 1 299.51,315.83" fill="none" stroke="#3c3c3c" stroke-width="0.6"/>
<line x1="310.08" y1="314.72" x2="300.2" y2="317.99" stroke="#3c3c3c" stroke-width="0.6"/>
<line x1="295.47" y1="314.16" x2="284.43" y2="317.32" stroke="#3c3c3c" stroke-width="0.6"/>
<line x1="295.07" y1="312.72" x2="289.71" y2="314.19" stroke="#3c3c3c" stroke-width="0.6"/>
<path d="M295.47,314.16 A125.37,125.37 0 0 1 295.07,312.72" fill="none" stroke="#3c3c3c" stroke-width="0.6"/>
<line x1="305.36" y1="310.62" x2="295.27" y2="313.44" stroke="#3c3c3c" stroke-width="0.6"/>
<line x1="303.12" y1="309.08" x2="281.71" y2="314.67" stroke="#3c3c3c" stroke-width="0.6"/>
<line x1="282.97" y1="312.65" x2="281.46" y2="313.03" stroke="#3c3c3c" stroke-width="0.6"/>
<line x1="282.59" y1="311.06" x2="276.44" y2="312.51" stroke="#3c3c3c" stroke-width="0.6"/>
<path d="M282.97,312.65 A137.06,137.06 0 0 1 282.59,311.06" fill="none" stroke="#3c3c3c" stroke-width="0.6"/>
<line x1="285.39" y1="311.23" x2="282.78" y2="311.86" stroke="#3c3c3c" stroke-width="0.6"/>
<line x1="284.85" y1="308.89" x2="283.87" y2="309.11" stroke="#3c3c3c" stroke-width="0.6"/>
<path d="M285.39,311.23 A134.37,134.37 0 0 1 284.85,308.89" fill="none" stroke="#3c3c3c" stroke-width="0.6"/>
<line x1="285.69" y1="309.93" x2="285.12" y2="310.06" stroke="#3c3c3c" stroke-width="0.6"/>
<line x1="281.65" y1="307.93" x2="280.36" y2="308.2" stroke="#3c3c3c" stroke-width="0.6"/>
<line x1="281.32" y1="306.33" x2="278.86" y2="306.82" stroke="#3c3c3c" stroke-width="0.6"/>
<path d="M281.65,307.93 A137.3,137.3 0 0 1 281.32,306.33" fill="none" stroke="#3c3c3c" stroke-width="0.6"/>
<line x1="284.92" y1="306.43" x2="281.48" y2="307.13" stroke="#3c3c3c" stroke-width="0.6"/>
<path d="M285.69,309.93 A133.78,133.78 0 0 1 284.92,306.43" fill="none" stroke="#3c3c3c" stroke-width="0.6"/>
<line x1="290.65" y1="307.01" x2="285.29" y2="308.18" stroke="#3c3c3c" stroke-width="0.6"/>
<line x1="289.86" y1="303.08" x2="282.23" y2="304.5" stroke="#3c3c3c" stroke-width="0.6"/>
<path d="M290.65,307.01 A128.3,128.3 0 0 1 289.86,303.08" fill="none" stroke="#3c3c3c" stroke-width="0.6"/>
<line x1="299.36" y1="303.21" x2="290.24" y2="305.05" stroke="#3c3c3c" stroke-width="0.6"/>
<line x1="298.76" y1="299.99" x2="288.31" y2="301.8" stroke="#3c3c3c" stroke-width="0.6"/>
<path d="M299.36,303.21 A118.99,118.99 0 0 1 298.76,299.99" fill="none" stroke="#3c3c3c" stroke-width="0.6"/>
<line x1="300.13" y1="301.4" x2="299.05" y2="301.6" stroke="#3c3c3c" stroke-width="0.6"/>
<line x1="294.96" y1="299.17" x2="281.49" y2="301.34" stroke="#3c3c3c" stroke-width="0.6"/>
<line x1="294.74" y1="297.72" x2="293.51" y2="297.91" stroke="#3c3c3c" stroke-width="0.6"/>
<path d="M294.96,299.17 A122.6,122.6 0 0 1 294.74,297.72" fill="none" stroke="#3c3c3c" stroke-width="0.6"/>
<line x1="299.5" y1="297.72" x2="294.85" y2="298.45" stroke="#3c3c3c" stroke-width="0.6"/>
<path d="M300.13,301.4 A117.9,117.9 0 0 1 299.5,297.72" fill="none" stroke="#3c3c3c" stroke-width="0.6"/>
<line x1="301.02" y1="299.35" x2="299.8" y2="299.56" stroke="#3c3c3c" stroke-width="0.6"/>
<path d="M303.12,309.08 A116.66,116.66 0 0 1 301.02,299.35" fill="none" stroke="#3c3c3c" stroke-width="0.6"/>
<line x1="303.69" y1="303.87" x2="301.97" y2="304.24" stroke="#3c3c3c" stroke-width="0.6"/>
<path d="M305.36,310.62 A114.9,114.9 0 0 1 303.69,303.87" fill="none" stroke="#3c3c3c" stroke-width="0.6"/>
<line x1="305.25" y1="307.06" x2="304.47" y2="307.26" stroke="#3c3c3c" stroke-width="0.6"/>
<line x1="302.96" y1="295.13" x2="287.02" y2="297.31" stroke="#3c3c3c" stroke-width="0.6"/>
<path d="M305.25,307.06 A114.1,114.1 0 0 1 302.96,295.13" fill="none" stroke="#3c3c3c" stroke-width="0.6"/>
<line x1="306.42" y1="300.65" x2="303.94" y2="301.13" stroke="#3c3c3c" stroke-width="0.6"/>
<path d="M310.08,314.72 A111.57,111.57 0 0 1 306.42,300.65" fill="none" stroke="#3c3c3c" stroke-width="0.6"/>
<line x1="310.48" y1="307.11" x2="308.02" y2="307.75" stroke="#3c3c3c" stroke-width="0.6"/>
<line x1="307.8" y1="293.15" x2="293.98" y2="294.88" stroke="#3c3c3c" stroke-width="0.6"/>
<path d="M310.48,307.11 A109.04,109.04 0 0 1 307.8,293.15" fill="none" stroke="#3c3c3c" stroke-width="0.6"/>
<line x1="310.96" y1="299.78" x2="308.91" y2="300.17" stroke="#3c3c3c" stroke-width="0.6"/>
<line x1="307.59" y1="291.87" x2="285.31" y2="294.38" stroke="#3c3c3c" stroke-width="0.6"/>
<line x1="303.65" y1="290.96" x2="298.28" y2="291.5" stroke="#3c3c3c" stroke-width="0.6"/>
<line x1="303.53" y1="289.62" x2="299.84" y2="289.95" stroke="#3c3c3c" stroke-width="0.6"/>
<path d="M303.65,290.96 A112.91,112.91 0 0 1 303.53,289.62" fill="none" stroke="#3c3c3c" stroke-width="0.6"/>
<line x1="306.48" y1="290.02" x2="303.59" y2="290.29" stroke="#3c3c3c" stroke-width="0.6"/>
<line x1="291.18" y1="289.22" x2="284.42" y2="289.74" stroke="#3c3c3c" stroke-width="0.6"/>
<line x1="291.07" y1="287.74" x2="290.07" y2="287.8" stroke="#3c3c3c" stroke-width="0.6"/>
<path d="M291.18,289.22 A125.19,125.19 0 0 1 291.07,287.74" fill="none" stroke="#3c3c3c" stroke-width="0.6"/>
<line x1="292.56" y1="288.38" x2="291.12" y2="288.48" stroke="#3c3c3c" stroke-width="0.6"/>
<line x1="290.8" y1="286.26" x2="289.8" y2="286.31" stroke="#3c3c3c" stroke-width="0.6"/>
<line x1="290.73" y1="284.77" x2="277.38" y2="285.32" stroke="#3c3c3c" stroke-width="0.6"/>
<path d="M290.8,286.26 A125.37,125.37 0 0 1 290.73,284.77" fill="none" stroke="#3c3c3c" stroke-width="0.6"/>
<line x1="290.77" y1="285.52" x2="290.77" y2="285.52" stroke="#3c3c3c" stroke-width="0.6"/>
<line x1="290.68" y1="283.28" x2="283.59" y2="283.49" stroke="#3c3c3c" stroke-width="0.6"/>
<path d="M290.77,285.52 A125.37,125.37 0 0 1 290.68,283.28" fill="none" stroke="#3c3c3c" stroke-width="0.6"/>
<line x1="292.35" y1="284.34" x2="290.72" y2="284.4" stroke="#3c3c3c" stroke-width="0.6"/>
<path d="M292.56,288.38 A123.74,123.74 0 0 1 292.35,284.34" fill="none" stroke="#3c3c3c" stroke-width="0.6"/>
<line x1="296.79" y1="286.12" x2="292.44" y2="286.36" stroke="#3c3c3c" stroke-width="0.6"/>
<line x1="296.64" y1="281.69" x2="272.98" y2="282.09" stroke="#3c3c3c" stroke-width="0.6"/>
<path d="M296.79,286.12 A119.38,119.38 0 0 1 296.64,281.69" fill="none" stroke="#3c3c3c" stroke-width="0.6"/>
<line x1="303.36" y1="283.67" x2="296.69" y2="283.91" stroke="#3c3c3c" stroke-width="0.6"/>
<line x1="303.29" y1="280.23" x2="269.65" y2="280.4" stroke="#3c3c3c" stroke-width="0.6"/>
<path d="M303.36,283.67 A112.71,112.71 0 0 1 303.29,280.23" fill="none" stroke="#3c3c3c" stroke-width="0.6"/>
<line x1="306.01" y1="281.89" x2="303.32" y2="281.95" stroke="#3c3c3c" stroke-width="0.6"/>
<path d="M306.48,290.02 A110.01,110.01 0 0 1 306.01,281.89" fill="none" stroke="#3c3c3c" stroke-width="0.6"/>
<line x1="307.09" y1="285.91" x2="306.17" y2="285.96" stroke="#3c3c3c" stroke-width="0.6"/>
<path d="M307.59,291.87 A109.09,109.09 0 0 1 307.09,285.91" fill="none" stroke="#3c3c3c" stroke-width="0.6"/>
<line x1="308.5" y1="288.79" x2="307.3" y2="288.89" stroke="#3c3c3c" stroke-width="0.6"/>
<line x1="308.11" y1="278.92" x2="272.91" y2="278.69" stroke="#3c3c3c" stroke-width="0.6"/>
<path d="M308.5,288.79 A107.89,107.89 0 0 1 308.11,278.92" fill="none" stroke="#3c3c3c" stroke-width="0.6"/>
<line x1="309.13" y1="283.82" x2="308.19" y2="283.86" stroke="#3c3c3c" stroke-width="0.6"/>
<path d="M310.96,299.78 A106.95,106.95 0 0 1 309.13,283.82" fill="none" stroke="#3c3c3c" stroke-width="0.6"/>
<line x1="312.01" y1="291.58" x2="309.75" y2="291.84" stroke="#3c3c3c" stroke-width="0.6"/>
<path d="M317.9,316.15 A104.67,104.67 0 0 1 312.01,291.58" fill="none" stroke="#3c3c3c" stroke-width="0.6"/>
<line x1="319.18" y1="302.85" x2="314.21" y2="304.04" stroke="#3c3c3c" stroke-width="0.6"/>
<path d="M325.96,322.16 A99.57,99.57 0 0 1 319.18,302.85" fill="none" stroke="#3c3c3c" stroke-width="0.6"/>
<line x1="324.99" y1="311.65" x2="322.07" y2="312.68" stroke="#3c3c3c" stroke-width="0.6"/>
<path d="M343.24,343 A96.47,96.47 0 0 1 324.99,311.65" fill="none" stroke="#3c3c3c" stroke-width="0.6"/>
<line x1="334.77" y1="326.95" x2="332.63" y2="328.19" stroke="#3c3c3c" stroke-width="0.6"/>
<line x1="278.14" y1="277.08" x2="269.32" y2="276.92" stroke="#3c3c3c" stroke-width="0.6"/>
<line x1="278.18" y1="275.44" x2="273.76" y2="275.3" stroke="#3c3c3c" stroke-width="0.6"/>
<path d="M278.14,277.08 A137.89,137.89 0 0 1 278.18,275.44" fill="none" stroke="#3c3c3c" stroke-width="0.6"/>
<line x1="297.62" y1="276.74" x2="278.16" y2="276.26" stroke="#3c3c3c" stroke-width="0.6"/>
<line x1="289.71" y1="274.29" x2="283.57" y2="274.03" stroke="#3c3c3c" stroke-width="0.6"/>
<line x1="289.78" y1="272.78" x2="275.8" y2="272.02" stroke="#3c3c3c" stroke-width="0.6"/>
<path d="M289.71,274.29 A126.41,126.41 0 0 1 289.78,272.78" fill="none" stroke="#3c3c3c" stroke-width="0.6"/>
<line x1="297.72" y1="273.92" x2="289.74" y2="273.54" stroke="#3c3c3c" stroke-width="0.6"/>
<path d="M297.62,276.74 A118.41,118.41 0 0 1 297.72,273.92" fill="none" stroke="#3c3c3c" stroke-width="0.6"/>
<line x1="313.26" y1="275.9" x2="297.66" y2="275.33" stroke="#3c3c3c" stroke-width="0.6"/>
<line x1="299.07" y1="271.89" x2="287.31" y2="271.11" stroke="#3c3c3c" stroke-width="0.6"/>
<line x1="293.89" y1="270.09" x2="286.31" y2="269.5" stroke="#3c3c3c" stroke-width="0.6"/>
<line x1="294.01" y1="268.64" x2="290.5" y2="268.32" stroke="#3c3c3c" stroke-width="0.6"/>
<path d="M293.89,270.09 A122.48,122.48 0 0 1 294.01,268.64" fill="none" stroke="#3c3c3c" stroke-width="0.6"/>
<line x1="299.22" y1="269.81" x2="293.95" y2="269.36" stroke="#3c3c3c" stroke-width="0.6"/>
<path d="M299.07,271.89 A117.19,117.19 0 0 1 299.22,269.81" fill="none" stroke="#3c3c3c" stroke-width="0.6"/>
<line x1="310.65" y1="271.72" x2="299.14" y2="270.85" stroke="#3c3c3c" stroke-width="0.6"/>
<line x1="304.56" y1="268.25" x2="285.49" y2="266.3" stroke="#3c3c3c" stroke-width="0.6"/>
<line x1="301.31" y1="266.54" x2="296.95" y2="266.04" stroke="#3c3c3c" stroke-width="0.6"/>
<line x1="288.03" y1="263.47" x2="279.71" y2="262.42" stroke="#3c3c3c" stroke-width="0.6"/>
<line x1="287.36" y1="261.83" x2="286.37" y2="261.69" stroke="#3c3c3c" stroke-width="0.6"/>
<line x1="279.36" y1="259.06" x2="273.74" y2="258.22" stroke="#3c3c3c" stroke-width="0.6"/>
<line x1="279.61" y1="257.44" x2="273.87" y2="256.5" stroke="#3c3c3c" stroke-width="0.6"/>
<path d="M279.36,259.06 A138.18,138.18 0 0 1 279.61,257.44" fill="none" stroke="#3c3c3c" stroke-width="0.6"/>
<line x1="287.7" y1="259.54" x2="279.48" y2="258.25" stroke="#3c3c3c" stroke-width="0.6"/>
<path d="M287.36,261.83 A129.87,129.87 0 0 1 287.7,259.54" fill="none" stroke="#3c3c3c" stroke-width="0.6"/>
<line x1="288.39" y1="260.81" x2="287.53" y2="260.68" stroke="#3c3c3c" stroke-width="0.6"/>
<path d="M288.03,263.47 A128.99,128.99 0 0 1 288.39,260.81" fill="none" stroke="#3c3c3c" stroke-width="0.6"/>
<line x1="295.18" y1="263.1" x2="288.2" y2="262.14" stroke="#3c3c3c" stroke-width="0.6"/>
<line x1="295.88" y1="258.62" x2="274.34" y2="254.85" stroke="#3c3c3c" stroke-width="0.6"/>
<path d="M295.18,263.1 A121.95,121.95 0 0 1 295.88,258.62" fill="none" stroke="#3c3c3c" stroke-width="0.6"/>
<line x1="301.94" y1="261.86" x2="295.51" y2="260.85" stroke="#3c3c3c" stroke-width="0.6"/>
<path d="M301.31,266.54 A115.44,115.44 0 0 1 301.94,261.86" fill="none" stroke="#3c3c3c" stroke-width="0.6"/>
<line x1="304.99" y1="264.65" x2="301.6" y2="264.19" stroke="#3c3c3c" stroke-width="0.6"/>
<path d="M304.56,268.25 A112.02,112.02 0 0 1 304.99,264.65" fill="none" stroke="#3c3c3c" stroke-width="0.6"/>
<line x1="305.91" y1="266.58" x2="304.76" y2="266.45" stroke="#3c3c3c" stroke-width="0.6"/>
<line x1="292.86" y1="256.58" x2="265.25" y2="251.4" stroke="#3c3c3c" stroke-width="0.6"/>
<line x1="278.72" y1="252.23" x2="275.56" y2="251.6" stroke="#3c3c3c" stroke-width="0.6"/>
<line x1="279.06" y1="250.6" x2="278.08" y2="250.39" stroke="#3c3c3c" stroke-width="0.6"/>
<path d="M278.72,252.23 A139.99,139.99 0 0 1 279.06,250.6" fill="none" stroke="#3c3c3c" stroke-width="0.6"/>
<line x1="281.36" y1="251.92" x2="278.89" y2="251.41" stroke="#3c3c3c" stroke-width="0.6"/>
<line x1="281.88" y1="249.53" x2="269.82" y2="246.82" stroke="#3c3c3c" stroke-width="0.6"/>
<path d="M281.36,251.92 A137.46,137.46 0 0 1 281.88,249.53" fill="none" stroke="#3c3c3c" stroke-width="0.6"/>
<line x1="286.07" y1="251.68" x2="281.62" y2="250.72" stroke="#3c3c3c" stroke-width="0.6"/>
<line x1="286.68" y1="248.98" x2="276.98" y2="246.68" stroke="#3c3c3c" stroke-width="0.6"/>
<path d="M286.07,251.68 A132.91,132.91 0 0 1 286.68,248.98" fill="none" stroke="#3c3c3c" stroke-width="0.6"/>
<line x1="293.8" y1="252.01" x2="286.37" y2="250.33" stroke="#3c3c3c" stroke-width="0.6"/>
<path d="M292.86,256.58 A125.28,125.28 0 0 1 293.8,252.01" fill="none" stroke="#3c3c3c" stroke-width="0.6"/>
<line x1="307.43" y1="257.21" x2="293.31" y2="254.29" stroke="#3c3c3c" stroke-width="0.6"/>
<path d="M305.91,266.58 A110.87,110.87 0 0 1 307.43,257.21" fill="none" stroke="#3c3c3c" stroke-width="0.6"/>
<line x1="309.38" y1="262.34" x2="306.57" y2="261.88" stroke="#3c3c3c" stroke-width="0.6"/>
<line x1="293.93" y1="249.16" x2="286.51" y2="247.31" stroke="#3c3c3c" stroke-width="0.6"/>
<line x1="294.3" y1="247.71" x2="289.92" y2="246.56" stroke="#3c3c3c" stroke-width="0.6"/>
<path d="M293.93,249.16 A125.82,125.82 0 0 1 294.3,247.71" fill="none" stroke="#3c3c3c" stroke-width="0.6"/>
<line x1="299.01" y1="249.69" x2="294.11" y2="248.44" stroke="#3c3c3c" stroke-width="0.6"/>
<line x1="299.56" y1="247.61" x2="291.51" y2="245.39" stroke="#3c3c3c" stroke-width="0.6"/>
<path d="M299.01,249.69 A120.77,120.77 0 0 1 299.56,247.61" fill="none" stroke="#3c3c3c" stroke-width="0.6"/>
<line x1="311.6" y1="251.92" x2="299.28" y2="248.65" stroke="#3c3c3c" stroke-width="0.6"/>
<path d="M309.38,262.34 A108.02,108.02 0 0 1 311.6,251.92" fill="none" stroke="#3c3c3c" stroke-width="0.6"/>
<line x1="312.68" y1="257.6" x2="310.36" y2="257.1" stroke="#3c3c3c" stroke-width="0.6"/>
<path d="M310.65,271.72 A105.65,105.65 0 0 1 312.68,257.6" fill="none" stroke="#3c3c3c" stroke-width="0.6"/>
<line x1="314.23" y1="265.02" x2="311.43" y2="264.62" stroke="#3c3c3c" stroke-width="0.6"/>
<path d="M313.26,275.9 A102.81,102.81 0 0 1 314.23,265.02" fill="none" stroke="#3c3c3c" stroke-width="0.6"/>
<line x1="315.55" y1="270.62" x2="313.6" y2="270.45" stroke="#3c3c3c" stroke-width="0.6"/>
<line x1="315.03" y1="250.57" x2="287.44" y2="242.62" stroke="#3c3c3c" stroke-width="0.6"/>
<line x1="295.93" y1="243.51" x2="293.9" y2="242.9" stroke="#3c3c3c" stroke-width="0.6"/>
<line x1="294.28" y1="241.43" x2="293.32" y2="241.13" stroke="#3c3c3c" stroke-width="0.6"/>
<line x1="288.95" y1="238.09" x2="283.13" y2="236.19" stroke="#3c3c3c" stroke-width="0.6"/>
<line x1="289.46" y1="236.58" x2="288.44" y2="236.24" stroke="#3c3c3c" stroke-width="0.6"/>
<path d="M288.95,238.09 A133.67,133.67 0 0 1 289.46,236.58" fill="none" stroke="#3c3c3c" stroke-width="0.6"/>
<line x1="289.99" y1="237.6" x2="289.2" y2="237.34" stroke="#3c3c3c" stroke-width="0.6"/>
<line x1="290.76" y1="235.36" x2="286.19" y2="233.74" stroke="#3c3c3c" stroke-width="0.6"/>
<path d="M289.99,237.6 A132.84,132.84 0 0 1 290.76,235.36" fill="none" stroke="#3c3c3c" stroke-width="0.6"/>
<line x1="295.34" y1="238.18" x2="290.37" y2="236.47" stroke="#3c3c3c" stroke-width="0.6"/>
<path d="M294.28,241.43 A127.58,127.58 0 0 1 295.34,238.18" fill="none" stroke="#3c3c3c" stroke-width="0.6"/>
<line x1="296.88" y1="240.49" x2="294.8" y2="239.8" stroke="#3c3c3c" stroke-width="0.6"/>
<path d="M295.93,243.51 A125.39,125.39 0 0 1 296.88,240.49" fill="none" stroke="#3c3c3c" stroke-width="0.6"/>
<line x1="298.43" y1="242.64" x2="296.4" y2="242" stroke="#3c3c3c" stroke-width="0.6"/>
<line x1="300.29" y1="237.17" x2="287.5" y2="232.48" stroke="#3c3c3c" stroke-width="0.6"/>
<path d="M298.43,242.64 A123.26,123.26 0 0 1 300.29,237.17" fill="none" stroke="#3c3c3c" stroke-width="0.6"/>
<line x1="316.54" y1="245.76" x2="299.33" y2="239.89" stroke="#3c3c3c" stroke-width="0.6"/>
<path d="M315.03,250.57 A105.07,105.07 0 0 1 316.54,245.76" fill="none" stroke="#3c3c3c" stroke-width="0.6"/>
<line x1="319.78" y1="249.42" x2="315.76" y2="248.16" stroke="#3c3c3c" stroke-width="0.6"/>
<path d="M315.55,270.62 A100.86,100.86 0 0 1 319.78,249.42" fill="none" stroke="#3c3c3c" stroke-width="0.6"/>
<line x1="323.82" y1="261.25" x2="317.1" y2="259.91" stroke="#3c3c3c" stroke-width="0.6"/>
<path d="M334.77,326.95 A94,94 0 0 1 323.82,261.25" fill="none" stroke="#3c3c3c" stroke-width="0.6"/>
<line x1="416" y1="279.65" x2="410.89" y2="274.16" stroke="#3c3c3c" stroke-width="0.6"/>
<path d="M403.01,272.15 A15,15 0 0 1 413.91,264.8" fill="none" stroke="#3c3c3c" stroke-width="0.6"/>
<line x1="413.91" y1="264.8" x2="411.82" y2="249.94" stroke="#3c3c3c" stroke-width="0.6"/>
<path d="M395.93,257.36 A30,30 0 0 1 431,253.67" fill="none" stroke="#3c3c3c" stroke-width="0.6"/>
<line x1="395.93" y1="257.36" x2="391.91" y2="252.9" stroke="#3c3c3c" stroke-width="0.6"/>
<line x1="431" y1="253.67" x2="434.5" y2="247.61" stroke="#3c3c3c" stroke-width="0.6"/>
<path d="M381.07,248.2 A47,47 0 0 1 409.46,233.11" fill="none" stroke="#3c3c3c" stroke-width="0.6"/>
<line x1="391.91" y1="252.9" x2="384.55" y2="244.72" stroke="#3c3c3c" stroke-width="0.6"/>
<path d="M391.91,252.9 A36,36 0 0 1 447.18,297.65" fill="none" stroke="#3c3c3c" stroke-width="0.6"/>
<line x1="409.13" y1="233.15" x2="407.53" y2="222.27" stroke="#3c3c3c" stroke-width="0.6"/>
<line x1="381.07" y1="248.2" x2="363.98" y2="232.81" stroke="#3c3c3c" stroke-width="0.6"/>
<line x1="449.83" y1="291.96" x2="457.35" y2="294.7" stroke="#3c3c3c" stroke-width="0.6"/>
<path d="M457.85,266.05 A44,44 0 0 1 454.11,301.65" fill="none" stroke="#3c3c3c" stroke-width="0.6"/>
<line x1="457.85" y1="266.05" x2="474.97" y2="260.49" stroke="#3c3c3c" stroke-width="0.6"/>
<line x1="459.33" y1="287.29" x2="465.24" y2="288.33" stroke="#3c3c3c" stroke-width="0.6"/>
<path d="M466,279.65 A50,50 0 0 1 461.32,300.78" fill="none" stroke="#3c3c3c" stroke-width="0.6"/>
<line x1="466" y1="279.65" x2="470" y2="279.65" stroke="#3c3c3c" stroke-width="0.6"/>
<line x1="461.32" y1="300.78" x2="463.13" y2="301.63" stroke="#3c3c3c" stroke-width="0.6"/>
<line x1="447.18" y1="297.65" x2="455.84" y2="302.65" stroke="#3c3c3c" stroke-width="0.6"/>
<path d="M456.62,301.25 A46,46 0 0 1 431.73,322.88" fill="none" stroke="#3c3c3c" stroke-width="0.6"/>
<line x1="432.48" y1="322.59" x2="436.79" y2="333.8" stroke="#3c3c3c" stroke-width="0.6"/>
<line x1="456.62" y1="301.25" x2="463.68" y2="305" stroke="#3c3c3c" stroke-width="0.6"/>
<line x1="470" y1="279.65" x2="474" y2="279.65" stroke="#3c3c3c" stroke-width="0.6"/>
<line x1="376.12" y1="256.72" x2="246.09" y2="181.95" stroke="#555555" stroke-width="0.6"/>
<line x1="376.37" y1="256.3" x2="254.01" y2="184.23" stroke="#555555" stroke-width="0.6"/>
<line x1="376.65" y1="255.82" x2="244.93" y2="176.04" stroke="#555555" stroke-width="0.6"/>
<line x1="373.6" y1="253.15" x2="250.63" y2="176.32" stroke="#555555" stroke-width="0.6"/>
<line x1="373.97" y1="252.56" x2="245.36" y2="169.68" stroke="#555555" stroke-width="0.6"/>
<line x1="374.35" y1="251.98" x2="250.25" y2="169.53" stroke="#555555" stroke-width="0.6"/>
<path d="M376.12,256.72 A46,46 0 0 1 376.65,255.82" fill="none" stroke="#3c3c3c" stroke-width="0.6"/>
<path d="M373.6,253.15 A50,50 0 0 1 374.35,251.98" fill="none" stroke="#3c3c3c" stroke-width="0.6"/>
<line x1="377.33" y1="254.73" x2="373.97" y2="252.56" stroke="#3c3c3c" stroke-width="0.6"/>
<path d="M376.37,256.3 A46,46 0 0 1 377.33,254.73" fill="none" stroke="#3c3c3c" stroke-width="0.6"/>
<line x1="403.22" y1="271.79" x2="376.82" y2="255.55" stroke="#3c3c3c" stroke-width="0.6"/>
<line x1="428.27" y1="152.24" x2="436.03" y2="71.61" stroke="#3c3c3c" stroke-width="0.6"/>
<line x1="428.29" y1="130.15" x2="432.39" y2="80.32" stroke="#3c3c3c" stroke-width="0.6"/>
<line x1="467.83" y1="275.39" x2="527" y2="270.52" stroke="#555555" stroke-width="0.6"/>
<line x1="467.83" y1="275.5" x2="511.45" y2="272" stroke="#555555" stroke-width="0.6"/>
<line x1="467.84" y1="275.61" x2="508.65" y2="272.42" stroke="#555555" stroke-width="0.6"/>
<line x1="467.85" y1="275.71" x2="527.82" y2="271.16" stroke="#555555" stroke-width="0.6"/>
<line x1="467.86" y1="275.82" x2="504.56" y2="273.12" stroke="#555555" stroke-width="0.6"/>
<line x1="467.87" y1="275.93" x2="516.46" y2="272.45" stroke="#555555" stroke-width="0.6"/>
<line x1="467.87" y1="276.04" x2="519.16" y2="272.47" stroke="#555555" stroke-width="0.6"/>
<line x1="467.88" y1="276.15" x2="520.94" y2="272.57" stroke="#555555" stroke-width="0.6"/>
<line x1="467.89" y1="276.26" x2="505.61" y2="273.79" stroke="#555555" stroke-width="0.6"/>
<line x1="462.92" y1="129.39" x2="478.59" y2="79.2" stroke="#b0b0b0" stroke-width="0.45" stroke-dasharray="0.7 2.0"/>
<line x1="462.48" y1="136.8" x2="480.98" y2="79.96" stroke="#b0b0b0" stroke-width="0.45" stroke-dasharray="0.7 2.0"/>
<line x1="467.47" y1="127.65" x2="483.35" y2="80.74" stroke="#b0b0b0" stroke-width="0.45" stroke-dasharray="0.7 2.0"/>
<line x1="469.28" y1="128.27" x2="485.71" y2="81.56" stroke="#b0b0b0" stroke-width="0.45" stroke-dasharray="0.7 2.0"/>
<line x1="473.54" y1="122.17" x2="488.07" y2="82.4" stroke="#b0b0b0" stroke-width="0.45" stroke-dasharray="0.7 2.0"/>
<line x1="471.6" y1="132.93" x2="490.41" y2="83.28" stroke="#b0b0b0" stroke-width="0.45" stroke-dasharray="0.7 2.0"/>
<line x1="474.81" y1="129.87" x2="492.75" y2="84.18" stroke="#b0b0b0" stroke-width="0.45" stroke-dasharray="0.7 2.0"/>
<line x1="477.46" y1="128.43" x2="495.07" y2="85.1" stroke="#b0b0b0" stroke-width="0.45" stroke-dasharray="0.7 2.0"/>
<line x1="485.55" y1="114.2" x2="497.38" y2="86.06" stroke="#b0b0b0" stroke-width="0.45" stroke-dasharray="0.7 2.0"/>
<line x1="485.38" y1="119.96" x2="499.68" y2="87.04" stroke="#b0b0b0" stroke-width="0.45" stroke-dasharray="0.7 2.0"/>
<line x1="485.84" y1="123.99" x2="501.97" y2="88.05" stroke="#b0b0b0" stroke-width="0.45" stroke-dasharray="0.7 2.0"/>
<line x1="484.84" y1="131" x2="504.25" y2="89.09" stroke="#b0b0b0" stroke-width="0.45" stroke-dasharray="0.7 2.0"/>
<line x1="493.83" y1="116.71" x2="506.51" y2="90.16" stroke="#b0b0b0" stroke-width="0.45" stroke-dasharray="0.7 2.0"/>
<line x1="493.02" y1="123.22" x2="508.76" y2="91.25" stroke="#b0b0b0" stroke-width="0.45" stroke-dasharray="0.7 2.0"/>
<line x1="487.39" y1="138.91" x2="511" y2="92.37" stroke="#b0b0b0" stroke-width="0.45" stroke-dasharray="0.7 2.0"/>
<line x1="486.69" y1="144.31" x2="513.22" y2="93.51" stroke="#b0b0b0" stroke-width="0.45" stroke-dasharray="0.7 2.0"/>
<line x1="484.4" y1="152.41" x2="515.43" y2="94.68" stroke="#b0b0b0" stroke-width="0.45" stroke-dasharray="0.7 2.0"/>
<line x1="493.43" y1="139.64" x2="517.63" y2="95.88" stroke="#b0b0b0" stroke-width="0.45" stroke-dasharray="0.7 2.0"/>
<line x1="490.82" y1="148.09" x2="519.81" y2="97.1" stroke="#b0b0b0" stroke-width="0.45" stroke-dasharray="0.7 2.0"/>
<line x1="488.17" y1="156.19" x2="521.98" y2="98.35" stroke="#b0b0b0" stroke-width="0.45" stroke-dasharray="0.7 2.0"/>
<line x1="495.73" y1="146.91" x2="524.13" y2="99.63" stroke="#b0b0b0" stroke-width="0.45" stroke-dasharray="0.7 2.0"/>
<line x1="490.35" y1="159.14" x2="526.27" y2="100.93" stroke="#b0b0b0" stroke-width="0.45" stroke-dasharray="0.7 2.0"/>
<line x1="496.41" y1="152.72" x2="528.39" y2="102.25" stroke="#b0b0b0" stroke-width="0.45" stroke-dasharray="0.7 2.0"/>
<line x1="498.09" y1="153.43" x2="530.49" y2="103.61" stroke="#b0b0b0" stroke-width="0.45" stroke-dasharray="0.7 2.0"/>
<line x1="497.51" y1="157.53" x2="532.58" y2="104.98" stroke="#b0b0b0" stroke-width="0.45" stroke-dasharray="0.7 2.0"/>
<line x1="498.94" y1="158.54" x2="534.65" y2="106.38" stroke="#b0b0b0" stroke-width="0.45" stroke-dasharray="0.7 2.0"/>
<line x1="495.99" y1="165.77" x2="536.71" y2="107.81" stroke="#b0b0b0" stroke-width="0.45" stroke-dasharray="0.7 2.0"/>
<line x1="497.2" y1="166.93" x2="538.75" y2="109.26" stroke="#b0b0b0" stroke-width="0.45" stroke-dasharray="0.7 2.0"/>
<line x1="493.92" y1="174.15" x2="540.77" y2="110.73" stroke="#b0b0b0" stroke-width="0.45" stroke-dasharray="0.7 2.0"/>
<line x1="494" y1="176.64" x2="542.77" y2="112.23" stroke="#b0b0b0" stroke-width="0.45" stroke-dasharray="0.7 2.0"/>
<line x1="494.02" y1="179.12" x2="544.76" y2="113.75" stroke="#b0b0b0" stroke-width="0.45" stroke-dasharray="0.7 2.0"/>
<line x1="504.99" y1="167.77" x2="546.72" y2="115.3" stroke="#b0b0b0" stroke-width="0.45" stroke-dasharray="0.7 2.0"/>
<line x1="502.78" y1="173.18" x2="548.67" y2="116.87" stroke="#b0b0b0" stroke-width="0.45" stroke-dasharray="0.7 2.0"/>
<line x1="504.46" y1="173.71" x2="550.6" y2="118.46" stroke="#b0b0b0" stroke-width="0.45" stroke-dasharray="0.7 2.0"/>
<line x1="509.55" y1="170.3" x2="552.51" y2="120.07" stroke="#b0b0b0" stroke-width="0.45" stroke-dasharray="0.7 2.0"/>
<line x1="507.58" y1="175.14" x2="554.4" y2="121.71" stroke="#b0b0b0" stroke-width="0.45" stroke-dasharray="0.7 2.0"/>
<line x1="509.02" y1="176.02" x2="556.27" y2="123.37" stroke="#b0b0b0" stroke-width="0.45" stroke-dasharray="0.7 2.0"/>
<line x1="510.96" y1="176.36" x2="558.12" y2="125.05" stroke="#b0b0b0" stroke-width="0.45" stroke-dasharray="0.7 2.0"/>
<line x1="517.39" y1="171.96" x2="559.96" y2="126.76" stroke="#b0b0b0" stroke-width="0.45" stroke-dasharray="0.7 2.0"/>
<line x1="514.21" y1="177.8" x2="561.77" y2="128.48" stroke="#b0b0b0" stroke-width="0.45" stroke-dasharray="0.7 2.0"/>
<line x1="516.95" y1="177.43" x2="563.56" y2="130.23" stroke="#b0b0b0" stroke-width="0.45" stroke-dasharray="0.7 2.0"/>
<line x1="518.79" y1="178.01" x2="565.33" y2="132" stroke="#b0b0b0" stroke-width="0.45" stroke-dasharray="0.7 2.0"/>
<line x1="520.37" y1="178.88" x2="567.07" y2="133.79" stroke="#b0b0b0" stroke-width="0.45" stroke-dasharray="0.7 2.0"/>
<line x1="536.26" y1="166.27" x2="568.8" y2="135.6" stroke="#b0b0b0" stroke-width="0.45" stroke-dasharray="0.7 2.0"/>
<line x1="543.04" y1="162.71" x2="570.51" y2="137.43" stroke="#b0b0b0" stroke-width="0.45" stroke-dasharray="0.7 2.0"/>
<line x1="541.77" y1="166.62" x2="572.19" y2="139.28" stroke="#b0b0b0" stroke-width="0.45" stroke-dasharray="0.7 2.0"/>
<line x1="546.63" y1="165.03" x2="573.85" y2="141.15" stroke="#b0b0b0" stroke-width="0.45" stroke-dasharray="0.7 2.0"/>
<line x1="548.16" y1="166.44" x2="575.49" y2="143.04" stroke="#b0b0b0" stroke-width="0.45" stroke-dasharray="0.7 2.0"/>
<line x1="544.76" y1="171.99" x2="577.1" y2="144.95" stroke="#b0b0b0" stroke-width="0.45" stroke-dasharray="0.7 2.0"/>
<line x1="547.58" y1="172.27" x2="578.7" y2="146.87" stroke="#b0b0b0" stroke-width="0.45" stroke-dasharray="0.7 2.0"/>
<line x1="545.79" y1="176.28" x2="580.27" y2="148.82" stroke="#b0b0b0" stroke-width="0.45" stroke-dasharray="0.7 2.0"/>
<line x1="546.42" y1="178.3" x2="581.81" y2="150.79" stroke="#b0b0b0" stroke-width="0.45" stroke-dasharray="0.7 2.0"/>
<line x1="549.75" y1="178.24" x2="583.34" y2="152.77" stroke="#b0b0b0" stroke-width="0.45" stroke-dasharray="0.7 2.0"/>
<line x1="547.12" y1="182.67" x2="584.84" y2="154.77" stroke="#b0b0b0" stroke-width="0.45" stroke-dasharray="0.7 2.0"/>
<line x1="545.92" y1="185.93" x2="586.31" y2="156.79" stroke="#b0b0b0" stroke-width="0.45" stroke-dasharray="0.7 2.0"/>
<line x1="555.76" y1="181.34" x2="587.76" y2="158.83" stroke="#b0b0b0" stroke-width="0.45" stroke-dasharray="0.7 2.0"/>
<line x1="555.09" y1="184.27" x2="589.19" y2="160.89" stroke="#b0b0b0" stroke-width="0.45" stroke-dasharray="0.7 2.0"/>
<line x1="541.86" y1="195.53" x2="590.59" y2="162.96" stroke="#b0b0b0" stroke-width="0.45" stroke-dasharray="0.7 2.0"/>
<line x1="548.07" y1="193.64" x2="591.97" y2="165.04" stroke="#b0b0b0" stroke-width="0.45" stroke-dasharray="0.7 2.0"/>
<line x1="539.07" y1="201.57" x2="593.32" y2="167.15" stroke="#b0b0b0" stroke-width="0.45" stroke-dasharray="0.7 2.0"/>
<line x1="534.68" y1="206.32" x2="594.65" y2="169.27" stroke="#b0b0b0" stroke-width="0.45" stroke-dasharray="0.7 2.0"/>
<line x1="532.97" y1="209.29" x2="595.95" y2="171.4" stroke="#b0b0b0" stroke-width="0.45" stroke-dasharray="0.7 2.0"/>
<line x1="531.15" y1="212.24" x2="597.23" y2="173.56" stroke="#b0b0b0" stroke-width="0.45" stroke-dasharray="0.7 2.0"/>
<line x1="532.57" y1="213.26" x2="598.48" y2="175.72" stroke="#b0b0b0" stroke-width="0.45" stroke-dasharray="0.7 2.0"/>
<line x1="521.59" y1="221.17" x2="599.7" y2="177.9" stroke="#b0b0b0" stroke-width="0.45" stroke-dasharray="0.7 2.0"/>
<line x1="523.4" y1="221.82" x2="600.9" y2="180.1" stroke="#b0b0b0" stroke-width="0.45" stroke-dasharray="0.7 2.0"/>
<line x1="526.72" y1="221.73" x2="602.08" y2="182.31" stroke="#b0b0b0" stroke-width="0.45" stroke-dasharray="0.7 2.0"/>
<line x1="541.63" y1="215.82" x2="603.22" y2="184.53" stroke="#b0b0b0" stroke-width="0.45" stroke-dasharray="0.7 2.0"/>
<line x1="539.99" y1="218.51" x2="604.34" y2="186.77" stroke="#b0b0b0" stroke-width="0.45" stroke-dasharray="0.7 2.0"/>
<line x1="537.79" y1="221.38" x2="605.44" y2="189.02" stroke="#b0b0b0" stroke-width="0.45" stroke-dasharray="0.7 2.0"/>
<line x1="554.2" y1="215.54" x2="606.5" y2="191.28" stroke="#b0b0b0" stroke-width="0.45" stroke-dasharray="0.7 2.0"/>
<line x1="553.44" y1="217.87" x2="607.54" y2="193.56" stroke="#b0b0b0" stroke-width="0.45" stroke-dasharray="0.7 2.0"/>
<line x1="552.04" y1="220.44" x2="608.55" y2="195.84" stroke="#b0b0b0" stroke-width="0.45" stroke-dasharray="0.7 2.0"/>
<line x1="548.4" y1="223.89" x2="609.54" y2="198.14" stroke="#b0b0b0" stroke-width="0.45" stroke-dasharray="0.7 2.0"/>
<line x1="558.13" y1="221.78" x2="610.49" y2="200.45" stroke="#b0b0b0" stroke-width="0.45" stroke-dasharray="0.7 2.0"/>
<line x1="547.13" y1="228.07" x2="611.42" y2="202.78" stroke="#b0b0b0" stroke-width="0.45" stroke-dasharray="0.7 2.0"/>
<line x1="557.04" y1="226.1" x2="612.33" y2="205.11" stroke="#b0b0b0" stroke-width="0.45" stroke-dasharray="0.7 2.0"/>
<line x1="563.24" y1="225.74" x2="613.2" y2="207.45" stroke="#b0b0b0" stroke-width="0.45" stroke-dasharray="0.7 2.0"/>
<line x1="564.73" y1="227.2" x2="614.05" y2="209.81" stroke="#b0b0b0" stroke-width="0.45" stroke-dasharray="0.7 2.0"/>
<line x1="576.25" y1="225.27" x2="614.86" y2="212.17" stroke="#b0b0b0" stroke-width="0.45" stroke-dasharray="0.7 2.0"/>
<line x1="563.48" y1="231.56" x2="615.65" y2="214.54" stroke="#b0b0b0" stroke-width="0.45" stroke-dasharray="0.7 2.0"/>
<line x1="575.36" y1="229.78" x2="616.41" y2="216.93" stroke="#b0b0b0" stroke-width="0.45" stroke-dasharray="0.7 2.0"/>
<line x1="570.07" y1="233.44" x2="617.15" y2="219.32" stroke="#b0b0b0" stroke-width="0.45" stroke-dasharray="0.7 2.0"/>
<line x1="575.26" y1="233.94" x2="617.85" y2="221.72" stroke="#b0b0b0" stroke-width="0.45" stroke-dasharray="0.7 2.0"/>
<line x1="574.43" y1="236.22" x2="618.53" y2="224.13" stroke="#b0b0b0" stroke-width="0.45" stroke-dasharray="0.7 2.0"/>
<line x1="571.18" y1="239.09" x2="619.17" y2="226.54" stroke="#b0b0b0" stroke-width="0.45" stroke-dasharray="0.7 2.0"/>
<line x1="573.44" y1="240.49" x2="619.79" y2="228.97" stroke="#b0b0b0" stroke-width="0.45" stroke-dasharray="0.7 2.0"/>
<line x1="575.42" y1="242.01" x2="620.38" y2="231.4" stroke="#b0b0b0" stroke-width="0.45" stroke-dasharray="0.7 2.0"/>
<line x1="572.26" y1="244.72" x2="620.94" y2="233.84" stroke="#b0b0b0" stroke-width="0.45" stroke-dasharray="0.7 2.0"/>
<line x1="575.75" y1="245.93" x2="621.47" y2="236.28" stroke="#b0b0b0" stroke-width="0.45" stroke-dasharray="0.7 2.0"/>
<line x1="567.54" y1="249.55" x2="621.97" y2="238.73" stroke="#b0b0b0" stroke-width="0.45" stroke-dasharray="0.7 2.0"/>
<line x1="584.79" y1="248.2" x2="622.45" y2="241.19" stroke="#b0b0b0" stroke-width="0.45" stroke-dasharray="0.7 2.0"/>
<line x1="573.76" y1="252.2" x2="622.89" y2="243.65" stroke="#b0b0b0" stroke-width="0.45" stroke-dasharray="0.7 2.0"/>
<line x1="577.07" y1="253.59" x2="623.31" y2="246.12" stroke="#b0b0b0" stroke-width="0.45" stroke-dasharray="0.7 2.0"/>
<line x1="563.81" y1="257.54" x2="623.69" y2="248.59" stroke="#b0b0b0" stroke-width="0.45" stroke-dasharray="0.7 2.0"/>
<line x1="578.76" y1="257.29" x2="624.05" y2="251.06" stroke="#b0b0b0" stroke-width="0.45" stroke-dasharray="0.7 2.0"/>
<line x1="574.28" y1="259.82" x2="624.37" y2="253.54" stroke="#b0b0b0" stroke-width="0.45" stroke-dasharray="0.7 2.0"/>
<line x1="350.43" y1="156.61" x2="317.24" y2="94.32" stroke="#b0b0b0" stroke-width="0.45" stroke-dasharray="0.7 2.0"/>
<line x1="350.13" y1="152.37" x2="319.48" y2="93.15" stroke="#b0b0b0" stroke-width="0.45" stroke-dasharray="0.7 2.0"/>
<line x1="342.8" y1="133.93" x2="321.74" y2="92" stroke="#b0b0b0" stroke-width="0.45" stroke-dasharray="0.7 2.0"/>
<line x1="340.96" y1="125.66" x2="324.01" y2="90.87" stroke="#b0b0b0" stroke-width="0.45" stroke-dasharray="0.7 2.0"/>
<line x1="341.84" y1="122.69" x2="326.29" y2="89.78" stroke="#b0b0b0" stroke-width="0.45" stroke-dasharray="0.7 2.0"/>
<line x1="338.83" y1="111.07" x2="328.59" y2="88.71" stroke="#b0b0b0" stroke-width="0.45" stroke-dasharray="0.7 2.0"/>
<line x1="344.63" y1="118.63" x2="330.9" y2="87.67" stroke="#b0b0b0" stroke-width="0.45" stroke-dasharray="0.7 2.0"/>
<line x1="341.53" y1="106.03" x2="333.22" y2="86.65" stroke="#b0b0b0" stroke-width="0.45" stroke-dasharray="0.7 2.0"/>
<line x1="344.36" y1="106.9" x2="335.56" y2="85.67" stroke="#b0b0b0" stroke-width="0.45" stroke-dasharray="0.7 2.0"/>
<line x1="351.04" y1="117.5" x2="337.9" y2="84.71" stroke="#b0b0b0" stroke-width="0.45" stroke-dasharray="0.7 2.0"/>
<line x1="356.4" y1="125.52" x2="340.26" y2="83.78" stroke="#b0b0b0" stroke-width="0.45" stroke-dasharray="0.7 2.0"/>
<line x1="352.94" y1="110.55" x2="342.63" y2="82.88" stroke="#b0b0b0" stroke-width="0.45" stroke-dasharray="0.7 2.0"/>
<line x1="358.73" y1="120.22" x2="345.01" y2="82.01" stroke="#b0b0b0" stroke-width="0.45" stroke-dasharray="0.7 2.0"/>
<line x1="358.89" y1="114.43" x2="347.4" y2="81.17" stroke="#b0b0b0" stroke-width="0.45" stroke-dasharray="0.7 2.0"/>
<line x1="361.85" y1="116.64" x2="349.8" y2="80.36" stroke="#b0b0b0" stroke-width="0.45" stroke-dasharray="0.7 2.0"/>
<line x1="363.89" y1="116.23" x2="352.21" y2="79.57" stroke="#b0b0b0" stroke-width="0.45" stroke-dasharray="0.7 2.0"/>
<line x1="363.57" y1="108.1" x2="354.62" y2="78.82" stroke="#b0b0b0" stroke-width="0.45" stroke-dasharray="0.7 2.0"/>
<line x1="370.82" y1="125.16" x2="357.05" y2="78.09" stroke="#b0b0b0" stroke-width="0.45" stroke-dasharray="0.7 2.0"/>
<line x1="368.61" y1="110.05" x2="359.49" y2="77.4" stroke="#b0b0b0" stroke-width="0.45" stroke-dasharray="0.7 2.0"/>
<line x1="374.95" y1="125.57" x2="361.93" y2="76.73" stroke="#b0b0b0" stroke-width="0.45" stroke-dasharray="0.7 2.0"/>
<line x1="376.53" y1="123.99" x2="364.39" y2="76.09" stroke="#b0b0b0" stroke-width="0.45" stroke-dasharray="0.7 2.0"/>
<line x1="380.99" y1="134.23" x2="366.84" y2="75.48" stroke="#b0b0b0" stroke-width="0.45" stroke-dasharray="0.7 2.0"/>
<line x1="382.5" y1="132.74" x2="369.31" y2="74.91" stroke="#b0b0b0" stroke-width="0.45" stroke-dasharray="0.7 2.0"/>
<line x1="386.85" y1="142.09" x2="372.47" y2="74.21" stroke="#b0b0b0" stroke-width="0.45" stroke-dasharray="0.7 2.0"/>
<line x1="386.8" y1="133.4" x2="374.88" y2="73.71" stroke="#b0b0b0" stroke-width="0.45" stroke-dasharray="0.7 2.0"/>
<line x1="388.08" y1="130.76" x2="377.3" y2="73.25" stroke="#b0b0b0" stroke-width="0.45" stroke-dasharray="0.7 2.0"/>
<line x1="388.78" y1="124.45" x2="379.72" y2="72.81" stroke="#b0b0b0" stroke-width="0.45" stroke-dasharray="0.7 2.0"/>
<line x1="391.08" y1="127.05" x2="382.15" y2="72.4" stroke="#b0b0b0" stroke-width="0.45" stroke-dasharray="0.7 2.0"/>
<line x1="391.22" y1="115.88" x2="384.59" y2="72.01" stroke="#b0b0b0" stroke-width="0.45" stroke-dasharray="0.7 2.0"/>
<line x1="393.5" y1="118.14" x2="387.03" y2="71.66" stroke="#b0b0b0" stroke-width="0.45" stroke-dasharray="0.7 2.0"/>
<line x1="395.97" y1="122.4" x2="389.47" y2="71.33" stroke="#b0b0b0" stroke-width="0.45" stroke-dasharray="0.7 2.0"/>
<line x1="397.15" y1="116.41" x2="391.91" y2="71.04" stroke="#b0b0b0" stroke-width="0.45" stroke-dasharray="0.7 2.0"/>
<line x1="399.06" y1="116.16" x2="394.36" y2="70.77" stroke="#b0b0b0" stroke-width="0.45" stroke-dasharray="0.7 2.0"/>
<line x1="400.69" y1="112.82" x2="396.82" y2="70.53" stroke="#b0b0b0" stroke-width="0.45" stroke-dasharray="0.7 2.0"/>
<line x1="403.73" y1="126.16" x2="399.27" y2="70.32" stroke="#b0b0b0" stroke-width="0.45" stroke-dasharray="0.7 2.0"/>
<line x1="404.57" y1="111.93" x2="401.73" y2="70.14" stroke="#b0b0b0" stroke-width="0.45" stroke-dasharray="0.7 2.0"/>
<line x1="407.37" y1="126.51" x2="404.19" y2="69.98" stroke="#b0b0b0" stroke-width="0.45" stroke-dasharray="0.7 2.0"/>
<line x1="408.87" y1="119.72" x2="406.65" y2="69.86" stroke="#b0b0b0" stroke-width="0.45" stroke-dasharray="0.7 2.0"/>
<line x1="410.64" y1="116.45" x2="409.11" y2="69.76" stroke="#b0b0b0" stroke-width="0.45" stroke-dasharray="0.7 2.0"/>
<line x1="412.43" y1="110.34" x2="411.57" y2="69.7" stroke="#b0b0b0" stroke-width="0.45" stroke-dasharray="0.7 2.0"/>
<line x1="414.48" y1="116.79" x2="414.04" y2="69.66" stroke="#b0b0b0" stroke-width="0.45" stroke-dasharray="0.7 2.0"/>
<line x1="417.06" y1="112.24" x2="417.34" y2="69.65" stroke="#b0b0b0" stroke-width="0.45" stroke-dasharray="0.7 2.0"/>
<line x1="419.13" y1="115.77" x2="420.01" y2="69.69" stroke="#b0b0b0" stroke-width="0.45" stroke-dasharray="0.7 2.0"/>
<line x1="421.09" y1="119.55" x2="422.67" y2="69.76" stroke="#b0b0b0" stroke-width="0.45" stroke-dasharray="0.7 2.0"/>
<line x1="422.44" y1="134.93" x2="425.34" y2="69.86" stroke="#b0b0b0" stroke-width="0.45" stroke-dasharray="0.7 2.0"/>
<line x1="424.52" y1="131" x2="428.01" y2="69.99" stroke="#b0b0b0" stroke-width="0.45" stroke-dasharray="0.7 2.0"/>
<line x1="426.32" y1="132.39" x2="430.67" y2="70.16" stroke="#b0b0b0" stroke-width="0.45" stroke-dasharray="0.7 2.0"/>
<line x1="427.34" y1="142.73" x2="433.34" y2="70.37" stroke="#b0b0b0" stroke-width="0.45" stroke-dasharray="0.7 2.0"/>
<line x1="430.65" y1="127.46" x2="436.13" y2="70.62" stroke="#b0b0b0" stroke-width="0.45" stroke-dasharray="0.7 2.0"/>
<line x1="432.54" y1="128.67" x2="438.86" y2="70.9" stroke="#b0b0b0" stroke-width="0.45" stroke-dasharray="0.7 2.0"/>
<line x1="434.02" y1="131.8" x2="441.41" y2="71.19" stroke="#b0b0b0" stroke-width="0.45" stroke-dasharray="0.7 2.0"/>
<line x1="435.22" y1="136.55" x2="443.96" y2="71.52" stroke="#b0b0b0" stroke-width="0.45" stroke-dasharray="0.7 2.0"/>
<line x1="438.93" y1="123.42" x2="446.5" y2="71.88" stroke="#b0b0b0" stroke-width="0.45" stroke-dasharray="0.7 2.0"/>
<line x1="440.71" y1="124.5" x2="449.03" y2="72.26" stroke="#b0b0b0" stroke-width="0.45" stroke-dasharray="0.7 2.0"/>
<line x1="440.4" y1="137.68" x2="451.56" y2="72.68" stroke="#b0b0b0" stroke-width="0.45" stroke-dasharray="0.7 2.0"/>
<line x1="442.53" y1="135.83" x2="454.09" y2="73.13" stroke="#b0b0b0" stroke-width="0.45" stroke-dasharray="0.7 2.0"/>
<line x1="444.12" y1="136.99" x2="456.61" y2="73.61" stroke="#b0b0b0" stroke-width="0.45" stroke-dasharray="0.7 2.0"/>
<line x1="448.14" y1="126.47" x2="459.12" y2="74.13" stroke="#b0b0b0" stroke-width="0.45" stroke-dasharray="0.7 2.0"/>
<line x1="447.35" y1="138.84" x2="461.63" y2="74.67" stroke="#b0b0b0" stroke-width="0.45" stroke-dasharray="0.7 2.0"/>
<line x1="452.75" y1="123.58" x2="464.13" y2="75.24" stroke="#b0b0b0" stroke-width="0.45" stroke-dasharray="0.7 2.0"/>
<line x1="455.01" y1="122.6" x2="466.63" y2="75.84" stroke="#b0b0b0" stroke-width="0.45" stroke-dasharray="0.7 2.0"/>
<line x1="456.35" y1="125.98" x2="469.33" y2="76.54" stroke="#b0b0b0" stroke-width="0.45" stroke-dasharray="0.7 2.0"/>
<line x1="460.34" y1="117.99" x2="471.55" y2="77.13" stroke="#b0b0b0" stroke-width="0.45" stroke-dasharray="0.7 2.0"/>
<line x1="460.25" y1="124.93" x2="473.75" y2="77.75" stroke="#b0b0b0" stroke-width="0.45" stroke-dasharray="0.7 2.0"/>
<line x1="462.16" y1="124.7" x2="475.95" y2="78.39" stroke="#b0b0b0" stroke-width="0.45" stroke-dasharray="0.7 2.0"/>
<line x1="308.94" y1="206.23" x2="242.81" y2="160.88" stroke="#b0b0b0" stroke-width="0.45" stroke-dasharray="0.7 2.0"/>
<line x1="301.26" y1="198.94" x2="244.24" y2="158.83" stroke="#b0b0b0" stroke-width="0.45" stroke-dasharray="0.7 2.0"/>
<line x1="305.71" y1="200.09" x2="245.69" y2="156.79" stroke="#b0b0b0" stroke-width="0.45" stroke-dasharray="0.7 2.0"/>
<line x1="303.94" y1="196.76" x2="247.17" y2="154.77" stroke="#b0b0b0" stroke-width="0.45" stroke-dasharray="0.7 2.0"/>
<line x1="308.03" y1="197.78" x2="248.67" y2="152.77" stroke="#b0b0b0" stroke-width="0.45" stroke-dasharray="0.7 2.0"/>
<line x1="298.8" y1="188.56" x2="250.19" y2="150.78" stroke="#b0b0b0" stroke-width="0.45" stroke-dasharray="0.7 2.0"/>
<line x1="301.57" y1="188.51" x2="251.74" y2="148.82" stroke="#b0b0b0" stroke-width="0.45" stroke-dasharray="0.7 2.0"/>
<line x1="302.51" y1="187.03" x2="253.31" y2="146.87" stroke="#b0b0b0" stroke-width="0.45" stroke-dasharray="0.7 2.0"/>
<line x1="313.57" y1="194" x2="254.9" y2="144.94" stroke="#b0b0b0" stroke-width="0.45" stroke-dasharray="0.7 2.0"/>
<line x1="305.76" y1="185.22" x2="256.51" y2="143.03" stroke="#b0b0b0" stroke-width="0.45" stroke-dasharray="0.7 2.0"/>
<line x1="312.91" y1="189.19" x2="258.15" y2="141.14" stroke="#b0b0b0" stroke-width="0.45" stroke-dasharray="0.7 2.0"/>
<line x1="309.27" y1="183.72" x2="259.81" y2="139.27" stroke="#b0b0b0" stroke-width="0.45" stroke-dasharray="0.7 2.0"/>
<line x1="314.47" y1="186.19" x2="261.5" y2="137.42" stroke="#b0b0b0" stroke-width="0.45" stroke-dasharray="0.7 2.0"/>
<line x1="319.6" y1="188.76" x2="263.2" y2="135.59" stroke="#b0b0b0" stroke-width="0.45" stroke-dasharray="0.7 2.0"/>
<line x1="322.94" y1="189.8" x2="264.93" y2="133.78" stroke="#b0b0b0" stroke-width="0.45" stroke-dasharray="0.7 2.0"/>
<line x1="312.55" y1="177.35" x2="266.68" y2="131.99" stroke="#b0b0b0" stroke-width="0.45" stroke-dasharray="0.7 2.0"/>
<line x1="322.34" y1="184.8" x2="268.45" y2="130.22" stroke="#b0b0b0" stroke-width="0.45" stroke-dasharray="0.7 2.0"/>
<line x1="320.05" y1="180.14" x2="270.24" y2="128.48" stroke="#b0b0b0" stroke-width="0.45" stroke-dasharray="0.7 2.0"/>
<line x1="317.92" y1="175.47" x2="272.05" y2="126.75" stroke="#b0b0b0" stroke-width="0.45" stroke-dasharray="0.7 2.0"/>
<line x1="319.64" y1="174.83" x2="273.88" y2="125.05" stroke="#b0b0b0" stroke-width="0.45" stroke-dasharray="0.7 2.0"/>
<line x1="315.28" y1="167.43" x2="275.73" y2="123.37" stroke="#b0b0b0" stroke-width="0.45" stroke-dasharray="0.7 2.0"/>
<line x1="316.59" y1="166.2" x2="277.6" y2="121.71" stroke="#b0b0b0" stroke-width="0.45" stroke-dasharray="0.7 2.0"/>
<line x1="324.36" y1="172.52" x2="279.49" y2="120.07" stroke="#b0b0b0" stroke-width="0.45" stroke-dasharray="0.7 2.0"/>
<line x1="321.35" y1="166.3" x2="281.4" y2="118.45" stroke="#b0b0b0" stroke-width="0.45" stroke-dasharray="0.7 2.0"/>
<line x1="318.76" y1="160.33" x2="283.33" y2="116.86" stroke="#b0b0b0" stroke-width="0.45" stroke-dasharray="0.7 2.0"/>
<line x1="320.03" y1="158.99" x2="285.28" y2="115.29" stroke="#b0b0b0" stroke-width="0.45" stroke-dasharray="0.7 2.0"/>
<line x1="318.87" y1="154.5" x2="287.25" y2="113.75" stroke="#b0b0b0" stroke-width="0.45" stroke-dasharray="0.7 2.0"/>
<line x1="326.48" y1="161.41" x2="289.23" y2="112.23" stroke="#b0b0b0" stroke-width="0.45" stroke-dasharray="0.7 2.0"/>
<line x1="327.56" y1="159.91" x2="291.24" y2="110.73" stroke="#b0b0b0" stroke-width="0.45" stroke-dasharray="0.7 2.0"/>
<line x1="323.12" y1="150.71" x2="293.26" y2="109.25" stroke="#b0b0b0" stroke-width="0.45" stroke-dasharray="0.7 2.0"/>
<line x1="330.28" y1="157.61" x2="295.3" y2="107.8" stroke="#b0b0b0" stroke-width="0.45" stroke-dasharray="0.7 2.0"/>
<line x1="330.51" y1="154.8" x2="297.35" y2="106.38" stroke="#b0b0b0" stroke-width="0.45" stroke-dasharray="0.7 2.0"/>
<line x1="338.59" y1="163.66" x2="299.43" y2="104.98" stroke="#b0b0b0" stroke-width="0.45" stroke-dasharray="0.7 2.0"/>
<line x1="348.33" y1="175.6" x2="301.51" y2="103.6" stroke="#b0b0b0" stroke-width="0.45" stroke-dasharray="0.7 2.0"/>
<line x1="346.16" y1="169.41" x2="303.62" y2="102.25" stroke="#b0b0b0" stroke-width="0.45" stroke-dasharray="0.7 2.0"/>
<line x1="351.57" y1="175.21" x2="305.74" y2="100.92" stroke="#b0b0b0" stroke-width="0.45" stroke-dasharray="0.7 2.0"/>
<line x1="351.28" y1="171.89" x2="307.88" y2="99.62" stroke="#b0b0b0" stroke-width="0.45" stroke-dasharray="0.7 2.0"/>
<line x1="349.11" y1="165.21" x2="310.03" y2="98.35" stroke="#b0b0b0" stroke-width="0.45" stroke-dasharray="0.7 2.0"/>
<line x1="356.03" y1="174.19" x2="312.2" y2="97.1" stroke="#b0b0b0" stroke-width="0.45" stroke-dasharray="0.7 2.0"/>
<line x1="354.04" y1="167.61" x2="314.38" y2="95.88" stroke="#b0b0b0" stroke-width="0.45" stroke-dasharray="0.7 2.0"/>
<line x1="505.33" y1="273.14" x2="625.44" y2="264.38" stroke="#b0b0b0" stroke-width="0.45" stroke-dasharray="0.7 2.0"/>
<line x1="510.16" y1="273.88" x2="625.61" y2="266.81" stroke="#b0b0b0" stroke-width="0.45" stroke-dasharray="0.7 2.0"/>
<line x1="506.83" y1="275.14" x2="625.74" y2="269.23" stroke="#b0b0b0" stroke-width="0.45" stroke-dasharray="0.7 2.0"/>
<line x1="509.67" y1="276.08" x2="625.85" y2="271.66" stroke="#b0b0b0" stroke-width="0.45" stroke-dasharray="0.7 2.0"/>
<line x1="499.65" y1="277.43" x2="625.93" y2="274.08" stroke="#b0b0b0" stroke-width="0.45" stroke-dasharray="0.7 2.0"/>
<line x1="503.83" y1="278.34" x2="625.98" y2="276.51" stroke="#b0b0b0" stroke-width="0.45" stroke-dasharray="0.7 2.0"/>
<line x1="497.26" y1="279.38" x2="626" y2="278.94" stroke="#b0b0b0" stroke-width="0.45" stroke-dasharray="0.7 2.0"/>
<line x1="500.74" y1="280.34" x2="625.99" y2="281.37" stroke="#b0b0b0" stroke-width="0.45" stroke-dasharray="0.7 2.0"/>
<line x1="503.45" y1="281.38" x2="625.96" y2="283.8" stroke="#b0b0b0" stroke-width="0.45" stroke-dasharray="0.7 2.0"/>
<line x1="507.14" y1="282.5" x2="625.9" y2="286.22" stroke="#b0b0b0" stroke-width="0.45" stroke-dasharray="0.7 2.0"/>
<line x1="503.82" y1="283.42" x2="625.81" y2="288.65" stroke="#b0b0b0" stroke-width="0.45" stroke-dasharray="0.7 2.0"/>
<line x1="506.24" y1="284.57" x2="625.69" y2="291.08" stroke="#b0b0b0" stroke-width="0.45" stroke-dasharray="0.7 2.0"/>
<line x1="510.8" y1="285.92" x2="625.54" y2="293.5" stroke="#b0b0b0" stroke-width="0.45" stroke-dasharray="0.7 2.0"/>
<line x1="506.87" y1="286.71" x2="625.37" y2="295.92" stroke="#b0b0b0" stroke-width="0.45" stroke-dasharray="0.7 2.0"/>
<line x1="508.73" y1="287.94" x2="625.17" y2="298.34" stroke="#b0b0b0" stroke-width="0.45" stroke-dasharray="0.7 2.0"/>
<line x1="506.16" y1="288.76" x2="624.94" y2="300.76" stroke="#b0b0b0" stroke-width="0.45" stroke-dasharray="0.7 2.0"/>
<line x1="513.36" y1="291.85" x2="624.37" y2="305.75" stroke="#b0b0b0" stroke-width="0.45" stroke-dasharray="0.7 2.0"/>
<line x1="514.1" y1="293.13" x2="624.05" y2="308.23" stroke="#b0b0b0" stroke-width="0.45" stroke-dasharray="0.7 2.0"/>
<line x1="519.84" y1="295.17" x2="623.69" y2="310.7" stroke="#b0b0b0" stroke-width="0.45" stroke-dasharray="0.7 2.0"/>
<line x1="518" y1="296.14" x2="623.31" y2="313.16" stroke="#b0b0b0" stroke-width="0.45" stroke-dasharray="0.7 2.0"/>
<line x1="509.57" y1="295.92" x2="622.9" y2="315.62" stroke="#b0b0b0" stroke-width="0.45" stroke-dasharray="0.7 2.0"/>
<line x1="506.58" y1="296.51" x2="622.45" y2="318.08" stroke="#b0b0b0" stroke-width="0.45" stroke-dasharray="0.7 2.0"/>
<line x1="503.22" y1="296.96" x2="621.98" y2="320.53" stroke="#b0b0b0" stroke-width="0.45" stroke-dasharray="0.7 2.0"/>
<line x1="502.89" y1="297.97" x2="621.48" y2="322.97" stroke="#b0b0b0" stroke-width="0.45" stroke-dasharray="0.7 2.0"/>
<line x1="507.52" y1="300.08" x2="620.95" y2="325.41" stroke="#b0b0b0" stroke-width="0.45" stroke-dasharray="0.7 2.0"/>
<line x1="508.34" y1="301.42" x2="620.4" y2="327.84" stroke="#b0b0b0" stroke-width="0.45" stroke-dasharray="0.7 2.0"/>
<line x1="504.96" y1="301.74" x2="619.81" y2="330.27" stroke="#b0b0b0" stroke-width="0.45" stroke-dasharray="0.7 2.0"/>
<line x1="504.83" y1="302.84" x2="619.19" y2="332.69" stroke="#b0b0b0" stroke-width="0.45" stroke-dasharray="0.7 2.0"/>
<line x1="503.71" y1="303.66" x2="618.55" y2="335.1" stroke="#b0b0b0" stroke-width="0.45" stroke-dasharray="0.7 2.0"/>
<line x1="509.5" y1="306.44" x2="617.87" y2="337.5" stroke="#b0b0b0" stroke-width="0.45" stroke-dasharray="0.7 2.0"/>
<line x1="504.98" y1="306.3" x2="617.17" y2="339.89" stroke="#b0b0b0" stroke-width="0.45" stroke-dasharray="0.7 2.0"/>
<line x1="504.2" y1="307.21" x2="616.44" y2="342.28" stroke="#b0b0b0" stroke-width="0.45" stroke-dasharray="0.7 2.0"/>
<line x1="502.76" y1="307.9" x2="615.68" y2="344.66" stroke="#b0b0b0" stroke-width="0.45" stroke-dasharray="0.7 2.0"/>
<line x1="498.75" y1="307.68" x2="614.9" y2="347.03" stroke="#b0b0b0" stroke-width="0.45" stroke-dasharray="0.7 2.0"/>
<line x1="497.12" y1="308.21" x2="614.08" y2="349.38" stroke="#b0b0b0" stroke-width="0.45" stroke-dasharray="0.7 2.0"/>
<line x1="496.65" y1="309.12" x2="613.24" y2="351.73" stroke="#b0b0b0" stroke-width="0.45" stroke-dasharray="0.7 2.0"/>
<line x1="505.76" y1="313.67" x2="612.37" y2="354.07" stroke="#b0b0b0" stroke-width="0.45" stroke-dasharray="0.7 2.0"/>
<line x1="500.12" y1="312.68" x2="611.47" y2="356.4" stroke="#b0b0b0" stroke-width="0.45" stroke-dasharray="0.7 2.0"/>
<line x1="509.47" y1="317.64" x2="610.55" y2="358.72" stroke="#b0b0b0" stroke-width="0.45" stroke-dasharray="0.7 2.0"/>
<line x1="501.93" y1="315.77" x2="609.59" y2="361.02" stroke="#b0b0b0" stroke-width="0.45" stroke-dasharray="0.7 2.0"/>
<line x1="509.17" y1="320.12" x2="608.61" y2="363.32" stroke="#b0b0b0" stroke-width="0.45" stroke-dasharray="0.7 2.0"/>
<line x1="506.41" y1="320.21" x2="607.61" y2="365.6" stroke="#b0b0b0" stroke-width="0.45" stroke-dasharray="0.7 2.0"/>
<line x1="533.37" y1="334.47" x2="606.27" y2="368.52" stroke="#b0b0b0" stroke-width="0.45" stroke-dasharray="0.7 2.0"/>
<line x1="536.18" y1="337.5" x2="605.22" y2="370.73" stroke="#b0b0b0" stroke-width="0.45" stroke-dasharray="0.7 2.0"/>
<line x1="532.68" y1="337.51" x2="604.14" y2="372.94" stroke="#b0b0b0" stroke-width="0.45" stroke-dasharray="0.7 2.0"/>
<line x1="534.32" y1="340.05" x2="603.04" y2="375.13" stroke="#b0b0b0" stroke-width="0.45" stroke-dasharray="0.7 2.0"/>
<line x1="540.94" y1="345.28" x2="601.91" y2="377.32" stroke="#b0b0b0" stroke-width="0.45" stroke-dasharray="0.7 2.0"/>
<line x1="537.27" y1="345.18" x2="600.75" y2="379.48" stroke="#b0b0b0" stroke-width="0.45" stroke-dasharray="0.7 2.0"/>
<line x1="530.34" y1="343.17" x2="599.57" y2="381.64" stroke="#b0b0b0" stroke-width="0.45" stroke-dasharray="0.7 2.0"/>
<line x1="527.13" y1="343.1" x2="598.37" y2="383.78" stroke="#b0b0b0" stroke-width="0.45" stroke-dasharray="0.7 2.0"/>
<line x1="523.86" y1="342.92" x2="597.14" y2="385.9" stroke="#b0b0b0" stroke-width="0.45" stroke-dasharray="0.7 2.0"/>
<line x1="530.42" y1="348.58" x2="595.88" y2="388.01" stroke="#b0b0b0" stroke-width="0.45" stroke-dasharray="0.7 2.0"/>
<line x1="526.46" y1="347.96" x2="594.6" y2="390.11" stroke="#b0b0b0" stroke-width="0.45" stroke-dasharray="0.7 2.0"/>
<line x1="514.69" y1="342.29" x2="593.3" y2="392.19" stroke="#b0b0b0" stroke-width="0.45" stroke-dasharray="0.7 2.0"/>
<line x1="515.81" y1="344.66" x2="591.97" y2="394.25" stroke="#b0b0b0" stroke-width="0.45" stroke-dasharray="0.7 2.0"/>
<line x1="520.11" y1="349.2" x2="590.62" y2="396.3" stroke="#b0b0b0" stroke-width="0.45" stroke-dasharray="0.7 2.0"/>
<line x1="510.32" y1="344.27" x2="589.24" y2="398.34" stroke="#b0b0b0" stroke-width="0.45" stroke-dasharray="0.7 2.0"/>
<line x1="505.24" y1="342.33" x2="587.84" y2="400.36" stroke="#b0b0b0" stroke-width="0.45" stroke-dasharray="0.7 2.0"/>
<line x1="502.71" y1="342.09" x2="586.42" y2="402.36" stroke="#b0b0b0" stroke-width="0.45" stroke-dasharray="0.7 2.0"/>
<line x1="513.36" y1="351.49" x2="584.97" y2="404.34" stroke="#b0b0b0" stroke-width="0.45" stroke-dasharray="0.7 2.0"/>
<line x1="507.62" y1="348.93" x2="583.5" y2="406.31" stroke="#b0b0b0" stroke-width="0.45" stroke-dasharray="0.7 2.0"/>
<line x1="510.78" y1="353.08" x2="582.01" y2="408.26" stroke="#b0b0b0" stroke-width="0.45" stroke-dasharray="0.7 2.0"/>
<line x1="511.52" y1="355.46" x2="580.5" y2="410.19" stroke="#b0b0b0" stroke-width="0.45" stroke-dasharray="0.7 2.0"/>
<line x1="511.24" y1="357.06" x2="578.96" y2="412.11" stroke="#b0b0b0" stroke-width="0.45" stroke-dasharray="0.7 2.0"/>
<line x1="512.04" y1="359.6" x2="577.4" y2="414" stroke="#b0b0b0" stroke-width="0.45" stroke-dasharray="0.7 2.0"/>
<line x1="511.3" y1="360.89" x2="575.82" y2="415.88" stroke="#b0b0b0" stroke-width="0.45" stroke-dasharray="0.7 2.0"/>
<line x1="516.44" y1="367.32" x2="574.21" y2="417.74" stroke="#b0b0b0" stroke-width="0.45" stroke-dasharray="0.7 2.0"/>
<line x1="516.79" y1="369.72" x2="572.59" y2="419.58" stroke="#b0b0b0" stroke-width="0.45" stroke-dasharray="0.7 2.0"/>
<line x1="521.7" y1="376.35" x2="570.94" y2="421.4" stroke="#b0b0b0" stroke-width="0.45" stroke-dasharray="0.7 2.0"/>
<line x1="523.24" y1="380.09" x2="569.27" y2="423.2" stroke="#b0b0b0" stroke-width="0.45" stroke-dasharray="0.7 2.0"/>
<line x1="516.06" y1="375.58" x2="567.58" y2="424.99" stroke="#b0b0b0" stroke-width="0.45" stroke-dasharray="0.7 2.0"/>
<line x1="513.93" y1="375.77" x2="565.87" y2="426.75" stroke="#b0b0b0" stroke-width="0.45" stroke-dasharray="0.7 2.0"/>
<line x1="465.21" y1="329.4" x2="563.68" y2="428.95" stroke="#b0b0b0" stroke-width="0.45" stroke-dasharray="0.7 2.0"/>
<line x1="529.11" y1="396.52" x2="562.04" y2="430.55" stroke="#b0b0b0" stroke-width="0.45" stroke-dasharray="0.7 2.0"/>
<line x1="491.95" y1="359.86" x2="560.39" y2="432.14" stroke="#b0b0b0" stroke-width="0.45" stroke-dasharray="0.7 2.0"/>
<line x1="474.21" y1="342.48" x2="558.72" y2="433.7" stroke="#b0b0b0" stroke-width="0.45" stroke-dasharray="0.7 2.0"/>
<line x1="508.9" y1="382.97" x2="556.41" y2="435.81" stroke="#b0b0b0" stroke-width="0.45" stroke-dasharray="0.7 2.0"/>
<line x1="511.73" y1="388.7" x2="554.54" y2="437.47" stroke="#b0b0b0" stroke-width="0.45" stroke-dasharray="0.7 2.0"/>
<line x1="510.01" y1="389.34" x2="552.66" y2="439.1" stroke="#b0b0b0" stroke-width="0.45" stroke-dasharray="0.7 2.0"/>
<line x1="498.38" y1="378.12" x2="550.75" y2="440.71" stroke="#b0b0b0" stroke-width="0.45" stroke-dasharray="0.7 2.0"/>
<line x1="499.77" y1="382.22" x2="548.83" y2="442.3" stroke="#b0b0b0" stroke-width="0.45" stroke-dasharray="0.7 2.0"/>
<line x1="496.34" y1="380.44" x2="546.89" y2="443.87" stroke="#b0b0b0" stroke-width="0.45" stroke-dasharray="0.7 2.0"/>
<line x1="497.94" y1="385" x2="544.93" y2="445.41" stroke="#b0b0b0" stroke-width="0.45" stroke-dasharray="0.7 2.0"/>
<line x1="497.34" y1="386.83" x2="542.95" y2="446.93" stroke="#b0b0b0" stroke-width="0.45" stroke-dasharray="0.7 2.0"/>
<line x1="501.64" y1="395.33" x2="540.96" y2="448.43" stroke="#b0b0b0" stroke-width="0.45" stroke-dasharray="0.7 2.0"/>
<line x1="496.15" y1="390.64" x2="538.94" y2="449.9" stroke="#b0b0b0" stroke-width="0.45" stroke-dasharray="0.7 2.0"/>
<line x1="502.21" y1="402.07" x2="536.91" y2="451.35" stroke="#b0b0b0" stroke-width="0.45" stroke-dasharray="0.7 2.0"/>
<line x1="498.33" y1="399.56" x2="534.86" y2="452.77" stroke="#b0b0b0" stroke-width="0.45" stroke-dasharray="0.7 2.0"/>
<line x1="494.82" y1="397.43" x2="532.8" y2="454.17" stroke="#b0b0b0" stroke-width="0.45" stroke-dasharray="0.7 2.0"/>
<line x1="498.28" y1="405.8" x2="530.72" y2="455.55" stroke="#b0b0b0" stroke-width="0.45" stroke-dasharray="0.7 2.0"/>
<line x1="496.26" y1="405.97" x2="528.62" y2="456.9" stroke="#b0b0b0" stroke-width="0.45" stroke-dasharray="0.7 2.0"/>
<line x1="498.49" y1="412.95" x2="526.51" y2="458.22" stroke="#b0b0b0" stroke-width="0.45" stroke-dasharray="0.7 2.0"/>
<line x1="493.48" y1="408.25" x2="524.38" y2="459.52" stroke="#b0b0b0" stroke-width="0.45" stroke-dasharray="0.7 2.0"/>
<line x1="492.05" y1="409.32" x2="522.23" y2="460.8" stroke="#b0b0b0" stroke-width="0.45" stroke-dasharray="0.7 2.0"/>
<line x1="487.18" y1="404.4" x2="520.08" y2="462.05" stroke="#b0b0b0" stroke-width="0.45" stroke-dasharray="0.7 2.0"/>
<line x1="494.01" y1="420.22" x2="517.9" y2="463.27" stroke="#b0b0b0" stroke-width="0.45" stroke-dasharray="0.7 2.0"/>
<line x1="488.07" y1="413.22" x2="515.71" y2="464.47" stroke="#b0b0b0" stroke-width="0.45" stroke-dasharray="0.7 2.0"/>
<line x1="482.42" y1="406.34" x2="513.51" y2="465.64" stroke="#b0b0b0" stroke-width="0.45" stroke-dasharray="0.7 2.0"/>
<line x1="480.4" y1="406.11" x2="511.3" y2="466.78" stroke="#b0b0b0" stroke-width="0.45" stroke-dasharray="0.7 2.0"/>
<line x1="490.75" y1="430.86" x2="509.07" y2="467.9" stroke="#b0b0b0" stroke-width="0.45" stroke-dasharray="0.7 2.0"/>
<line x1="489.11" y1="432.07" x2="506.82" y2="468.99" stroke="#b0b0b0" stroke-width="0.45" stroke-dasharray="0.7 2.0"/>
<line x1="481.99" y1="421.52" x2="504.57" y2="470.06" stroke="#b0b0b0" stroke-width="0.45" stroke-dasharray="0.7 2.0"/>
<line x1="483.22" y1="428.76" x2="502.3" y2="471.1" stroke="#b0b0b0" stroke-width="0.45" stroke-dasharray="0.7 2.0"/>
<line x1="481.74" y1="430.24" x2="500.02" y2="472.11" stroke="#b0b0b0" stroke-width="0.45" stroke-dasharray="0.7 2.0"/>
<line x1="474.6" y1="418.36" x2="497.73" y2="473.09" stroke="#b0b0b0" stroke-width="0.45" stroke-dasharray="0.7 2.0"/>
<line x1="474.56" y1="422.98" x2="495.42" y2="474.05" stroke="#b0b0b0" stroke-width="0.45" stroke-dasharray="0.7 2.0"/>
<line x1="469.56" y1="415.33" x2="493.11" y2="474.98" stroke="#b0b0b0" stroke-width="0.45" stroke-dasharray="0.7 2.0"/>
<line x1="468.63" y1="417.76" x2="490.78" y2="475.88" stroke="#b0b0b0" stroke-width="0.45" stroke-dasharray="0.7 2.0"/>
<line x1="460.29" y1="400.16" x2="488.45" y2="476.76" stroke="#b0b0b0" stroke-width="0.45" stroke-dasharray="0.7 2.0"/>
<line x1="463.62" y1="414.13" x2="486.1" y2="477.6" stroke="#b0b0b0" stroke-width="0.45" stroke-dasharray="0.7 2.0"/>
<line x1="460.59" y1="410.48" x2="483.74" y2="478.42" stroke="#b0b0b0" stroke-width="0.45" stroke-dasharray="0.7 2.0"/>
<line x1="463.42" y1="424.41" x2="481.38" y2="479.21" stroke="#b0b0b0" stroke-width="0.45" stroke-dasharray="0.7 2.0"/>
<line x1="457.71" y1="412.27" x2="479" y2="479.98" stroke="#b0b0b0" stroke-width="0.45" stroke-dasharray="0.7 2.0"/>
<line x1="457.4" y1="416.96" x2="476.62" y2="480.71" stroke="#b0b0b0" stroke-width="0.45" stroke-dasharray="0.7 2.0"/>
<line x1="455.5" y1="416.53" x2="474.23" y2="481.42" stroke="#b0b0b0" stroke-width="0.45" stroke-dasharray="0.7 2.0"/>
<line x1="450.09" y1="403.26" x2="471.83" y2="482.09" stroke="#b0b0b0" stroke-width="0.45" stroke-dasharray="0.7 2.0"/>
<line x1="445.48" y1="391.74" x2="469.42" y2="482.74" stroke="#b0b0b0" stroke-width="0.45" stroke-dasharray="0.7 2.0"/>
<line x1="444.89" y1="395.03" x2="467" y2="483.36" stroke="#b0b0b0" stroke-width="0.45" stroke-dasharray="0.7 2.0"/>
<line x1="443.4" y1="394.9" x2="464.58" y2="483.95" stroke="#b0b0b0" stroke-width="0.45" stroke-dasharray="0.7 2.0"/>
<line x1="442.4" y1="396.83" x2="462.15" y2="484.52" stroke="#b0b0b0" stroke-width="0.45" stroke-dasharray="0.7 2.0"/>
<line x1="441.04" y1="397.31" x2="459.71" y2="485.05" stroke="#b0b0b0" stroke-width="0.45" stroke-dasharray="0.7 2.0"/>
<line x1="440.32" y1="400.98" x2="457.27" y2="485.55" stroke="#b0b0b0" stroke-width="0.45" stroke-dasharray="0.7 2.0"/>
<line x1="442.15" y1="418.7" x2="454.82" y2="486.03" stroke="#b0b0b0" stroke-width="0.45" stroke-dasharray="0.7 2.0"/>
<line x1="440.22" y1="417.41" x2="452.37" y2="486.48" stroke="#b0b0b0" stroke-width="0.45" stroke-dasharray="0.7 2.0"/>
<line x1="435.22" y1="397.15" x2="449.91" y2="486.89" stroke="#b0b0b0" stroke-width="0.45" stroke-dasharray="0.7 2.0"/>
<line x1="435.88" y1="410.95" x2="447.44" y2="487.28" stroke="#b0b0b0" stroke-width="0.45" stroke-dasharray="0.7 2.0"/>
<line x1="432.99" y1="401.61" x2="444.97" y2="487.64" stroke="#b0b0b0" stroke-width="0.45" stroke-dasharray="0.7 2.0"/>
<line x1="430.68" y1="395.03" x2="442.5" y2="487.97" stroke="#b0b0b0" stroke-width="0.45" stroke-dasharray="0.7 2.0"/>
<line x1="428.99" y1="392.46" x2="440.03" y2="488.27" stroke="#b0b0b0" stroke-width="0.45" stroke-dasharray="0.7 2.0"/>
<line x1="427.78" y1="393.88" x2="437.55" y2="488.54" stroke="#b0b0b0" stroke-width="0.45" stroke-dasharray="0.7 2.0"/>
<line x1="428.23" y1="413.77" x2="435.06" y2="488.78" stroke="#b0b0b0" stroke-width="0.45" stroke-dasharray="0.7 2.0"/>
<line x1="425.15" y1="395.17" x2="432.58" y2="488.99" stroke="#b0b0b0" stroke-width="0.45" stroke-dasharray="0.7 2.0"/>
<line x1="424.28" y1="402.76" x2="430.09" y2="489.18" stroke="#b0b0b0" stroke-width="0.45" stroke-dasharray="0.7 2.0"/>
<line x1="423.25" y1="410.64" x2="427.6" y2="489.33" stroke="#b0b0b0" stroke-width="0.45" stroke-dasharray="0.7 2.0"/>
<line x1="421.98" y1="417.5" x2="425.11" y2="489.45" stroke="#b0b0b0" stroke-width="0.45" stroke-dasharray="0.7 2.0"/>
<line x1="420.1" y1="409.79" x2="422.62" y2="489.55" stroke="#b0b0b0" stroke-width="0.45" stroke-dasharray="0.7 2.0"/>
<line x1="418.82" y1="423.33" x2="420.12" y2="489.61" stroke="#b0b0b0" stroke-width="0.45" stroke-dasharray="0.7 2.0"/>
<line x1="416.96" y1="403.98" x2="417.63" y2="489.64" stroke="#b0b0b0" stroke-width="0.45" stroke-dasharray="0.7 2.0"/>
<line x1="415.4" y1="424" x2="415.13" y2="489.65" stroke="#b0b0b0" stroke-width="0.45" stroke-dasharray="0.7 2.0"/>
<line x1="413.72" y1="422.18" x2="412.64" y2="489.62" stroke="#b0b0b0" stroke-width="0.45" stroke-dasharray="0.7 2.0"/>
<line x1="412.53" y1="403.96" x2="410.15" y2="489.57" stroke="#b0b0b0" stroke-width="0.45" stroke-dasharray="0.7 2.0"/>
<line x1="410.57" y1="416.07" x2="407.65" y2="489.48" stroke="#b0b0b0" stroke-width="0.45" stroke-dasharray="0.7 2.0"/>
<line x1="408.83" y1="418.32" x2="405.16" y2="489.37" stroke="#b0b0b0" stroke-width="0.45" stroke-dasharray="0.7 2.0"/>
<line x1="406.84" y1="423.66" x2="402.67" y2="489.23" stroke="#b0b0b0" stroke-width="0.45" stroke-dasharray="0.7 2.0"/>
<line x1="404.32" y1="434.29" x2="400.18" y2="489.05" stroke="#b0b0b0" stroke-width="0.45" stroke-dasharray="0.7 2.0"/>
<line x1="402.06" y1="438.98" x2="397.7" y2="488.85" stroke="#b0b0b0" stroke-width="0.45" stroke-dasharray="0.7 2.0"/>
<line x1="400.7" y1="433.5" x2="395.21" y2="488.62" stroke="#b0b0b0" stroke-width="0.45" stroke-dasharray="0.7 2.0"/>
<line x1="399.71" y1="425.77" x2="392.73" y2="488.36" stroke="#b0b0b0" stroke-width="0.45" stroke-dasharray="0.7 2.0"/>
<line x1="396.94" y1="433.95" x2="390.25" y2="488.07" stroke="#b0b0b0" stroke-width="0.45" stroke-dasharray="0.7 2.0"/>
<line x1="397.93" y1="412.87" x2="387.78" y2="487.75" stroke="#b0b0b0" stroke-width="0.45" stroke-dasharray="0.7 2.0"/>
<line x1="394.47" y1="425.37" x2="385.31" y2="487.4" stroke="#b0b0b0" stroke-width="0.45" stroke-dasharray="0.7 2.0"/>
<line x1="394.64" y1="413.26" x2="382.84" y2="487.02" stroke="#b0b0b0" stroke-width="0.45" stroke-dasharray="0.7 2.0"/>
<line x1="390.13" y1="429.96" x2="380.38" y2="486.61" stroke="#b0b0b0" stroke-width="0.45" stroke-dasharray="0.7 2.0"/>
<line x1="390.14" y1="419.91" x2="377.93" y2="486.17" stroke="#b0b0b0" stroke-width="0.45" stroke-dasharray="0.7 2.0"/>
<line x1="386.27" y1="430.83" x2="375.48" y2="485.7" stroke="#b0b0b0" stroke-width="0.45" stroke-dasharray="0.7 2.0"/>
<line x1="384.25" y1="431.52" x2="373.03" y2="485.21" stroke="#b0b0b0" stroke-width="0.45" stroke-dasharray="0.7 2.0"/>
<line x1="384.33" y1="422.65" x2="370.59" y2="484.68" stroke="#b0b0b0" stroke-width="0.45" stroke-dasharray="0.7 2.0"/>
<line x1="379.35" y1="436.29" x2="368.16" y2="484.13" stroke="#b0b0b0" stroke-width="0.45" stroke-dasharray="0.7 2.0"/>
<line x1="381.63" y1="419.08" x2="365.74" y2="483.55" stroke="#b0b0b0" stroke-width="0.45" stroke-dasharray="0.7 2.0"/>
<line x1="375.9" y1="434.39" x2="363.32" y2="482.93" stroke="#b0b0b0" stroke-width="0.45" stroke-dasharray="0.7 2.0"/>
<line x1="380.18" y1="411.42" x2="360.91" y2="482.29" stroke="#b0b0b0" stroke-width="0.45" stroke-dasharray="0.7 2.0"/>
<line x1="376.21" y1="419.41" x2="358.5" y2="481.63" stroke="#b0b0b0" stroke-width="0.45" stroke-dasharray="0.7 2.0"/>
<line x1="378.02" y1="407.29" x2="356.11" y2="480.93" stroke="#b0b0b0" stroke-width="0.45" stroke-dasharray="0.7 2.0"/>
<line x1="376.44" y1="407.04" x2="353.72" y2="480.2" stroke="#b0b0b0" stroke-width="0.45" stroke-dasharray="0.7 2.0"/>
<line x1="371.13" y1="418.29" x2="351.35" y2="479.45" stroke="#b0b0b0" stroke-width="0.45" stroke-dasharray="0.7 2.0"/>
<line x1="372.07" y1="410.09" x2="348.98" y2="478.67" stroke="#b0b0b0" stroke-width="0.45" stroke-dasharray="0.7 2.0"/>
<line x1="365.36" y1="424.31" x2="346.62" y2="477.86" stroke="#b0b0b0" stroke-width="0.45" stroke-dasharray="0.7 2.0"/>
<line x1="361.67" y1="429.14" x2="344.27" y2="477.02" stroke="#b0b0b0" stroke-width="0.45" stroke-dasharray="0.7 2.0"/>
<line x1="361.66" y1="423.81" x2="341.93" y2="476.15" stroke="#b0b0b0" stroke-width="0.45" stroke-dasharray="0.7 2.0"/>
<line x1="363.67" y1="413.64" x2="339.6" y2="475.26" stroke="#b0b0b0" stroke-width="0.45" stroke-dasharray="0.7 2.0"/>
<line x1="358.7" y1="421.38" x2="337.28" y2="474.34" stroke="#b0b0b0" stroke-width="0.45" stroke-dasharray="0.7 2.0"/>
<line x1="365.45" y1="400.52" x2="334.97" y2="473.39" stroke="#b0b0b0" stroke-width="0.45" stroke-dasharray="0.7 2.0"/>
<line x1="365.18" y1="397.23" x2="332.68" y2="472.41" stroke="#b0b0b0" stroke-width="0.45" stroke-dasharray="0.7 2.0"/>
<line x1="361.01" y1="402.83" x2="330.4" y2="471.41" stroke="#b0b0b0" stroke-width="0.45" stroke-dasharray="0.7 2.0"/>
<line x1="355.26" y1="411.49" x2="328.12" y2="470.38" stroke="#b0b0b0" stroke-width="0.45" stroke-dasharray="0.7 2.0"/>
<line x1="361.05" y1="395.28" x2="325.86" y2="469.32" stroke="#b0b0b0" stroke-width="0.45" stroke-dasharray="0.7 2.0"/>
<line x1="357.45" y1="399.16" x2="323.62" y2="468.24" stroke="#b0b0b0" stroke-width="0.45" stroke-dasharray="0.7 2.0"/>
<line x1="350.77" y1="408.9" x2="321.38" y2="467.13" stroke="#b0b0b0" stroke-width="0.45" stroke-dasharray="0.7 2.0"/>
<line x1="352.07" y1="402.67" x2="319.16" y2="465.99" stroke="#b0b0b0" stroke-width="0.45" stroke-dasharray="0.7 2.0"/>
<line x1="349.6" y1="402.75" x2="316.31" y2="464.48" stroke="#b0b0b0" stroke-width="0.45" stroke-dasharray="0.7 2.0"/>
<line x1="352.78" y1="393.59" x2="314.12" y2="463.28" stroke="#b0b0b0" stroke-width="0.45" stroke-dasharray="0.7 2.0"/>
<line x1="348.96" y1="397.16" x2="311.94" y2="462.05" stroke="#b0b0b0" stroke-width="0.45" stroke-dasharray="0.7 2.0"/>
<line x1="340.49" y1="408.42" x2="309.78" y2="460.8" stroke="#b0b0b0" stroke-width="0.45" stroke-dasharray="0.7 2.0"/>
<line x1="336.62" y1="411.41" x2="307.63" y2="459.53" stroke="#b0b0b0" stroke-width="0.45" stroke-dasharray="0.7 2.0"/>
<line x1="334.82" y1="410.84" x2="305.5" y2="458.22" stroke="#b0b0b0" stroke-width="0.45" stroke-dasharray="0.7 2.0"/>
<line x1="336.17" y1="405.28" x2="303.38" y2="456.9" stroke="#b0b0b0" stroke-width="0.45" stroke-dasharray="0.7 2.0"/>
<line x1="332.05" y1="408.36" x2="301.28" y2="455.54" stroke="#b0b0b0" stroke-width="0.45" stroke-dasharray="0.7 2.0"/>
<line x1="336.53" y1="398.39" x2="299.19" y2="454.17" stroke="#b0b0b0" stroke-width="0.45" stroke-dasharray="0.7 2.0"/>
<line x1="340.31" y1="389.87" x2="297.12" y2="452.76" stroke="#b0b0b0" stroke-width="0.45" stroke-dasharray="0.7 2.0"/>
<line x1="334.67" y1="395.12" x2="295.07" y2="451.34" stroke="#b0b0b0" stroke-width="0.45" stroke-dasharray="0.7 2.0"/>
<line x1="334.09" y1="393.05" x2="293.04" y2="449.89" stroke="#b0b0b0" stroke-width="0.45" stroke-dasharray="0.7 2.0"/>
<line x1="339.75" y1="382.62" x2="291.02" y2="448.41" stroke="#b0b0b0" stroke-width="0.45" stroke-dasharray="0.7 2.0"/>
<line x1="332.56" y1="389.56" x2="289.02" y2="446.91" stroke="#b0b0b0" stroke-width="0.45" stroke-dasharray="0.7 2.0"/>
<line x1="331.24" y1="388.58" x2="287.04" y2="445.39" stroke="#b0b0b0" stroke-width="0.45" stroke-dasharray="0.7 2.0"/>
<line x1="333.54" y1="383.06" x2="285.08" y2="443.84" stroke="#b0b0b0" stroke-width="0.45" stroke-dasharray="0.7 2.0"/>
<line x1="325.56" y1="390.34" x2="283.13" y2="442.27" stroke="#b0b0b0" stroke-width="0.45" stroke-dasharray="0.7 2.0"/>
<line x1="330.9" y1="381.31" x2="281.21" y2="440.68" stroke="#b0b0b0" stroke-width="0.45" stroke-dasharray="0.7 2.0"/>
<line x1="322.86" y1="388.26" x2="279.3" y2="439.06" stroke="#b0b0b0" stroke-width="0.45" stroke-dasharray="0.7 2.0"/>
<line x1="325.36" y1="382.84" x2="277.41" y2="437.43" stroke="#b0b0b0" stroke-width="0.45" stroke-dasharray="0.7 2.0"/>
<line x1="327.11" y1="378.45" x2="275.54" y2="435.77" stroke="#b0b0b0" stroke-width="0.45" stroke-dasharray="0.7 2.0"/>
<line x1="321.64" y1="382.06" x2="273.7" y2="434.08" stroke="#b0b0b0" stroke-width="0.45" stroke-dasharray="0.7 2.0"/>
<line x1="331.57" y1="369.11" x2="271.87" y2="432.38" stroke="#b0b0b0" stroke-width="0.45" stroke-dasharray="0.7 2.0"/>
<line x1="330.76" y1="367.85" x2="270.06" y2="430.65" stroke="#b0b0b0" stroke-width="0.45" stroke-dasharray="0.7 2.0"/>
<line x1="323.78" y1="372.82" x2="268.28" y2="428.91" stroke="#b0b0b0" stroke-width="0.45" stroke-dasharray="0.7 2.0"/>
<line x1="324.83" y1="369.6" x2="266.51" y2="427.14" stroke="#b0b0b0" stroke-width="0.45" stroke-dasharray="0.7 2.0"/>
<line x1="327.43" y1="364.98" x2="264.77" y2="425.35" stroke="#b0b0b0" stroke-width="0.45" stroke-dasharray="0.7 2.0"/>
<line x1="317.39" y1="372.41" x2="263.04" y2="423.54" stroke="#b0b0b0" stroke-width="0.45" stroke-dasharray="0.7 2.0"/>
<line x1="315.06" y1="372.37" x2="261.34" y2="421.71" stroke="#b0b0b0" stroke-width="0.45" stroke-dasharray="0.7 2.0"/>
<line x1="311.82" y1="373.08" x2="259.66" y2="419.86" stroke="#b0b0b0" stroke-width="0.45" stroke-dasharray="0.7 2.0"/>
<line x1="309.3" y1="373.07" x2="258" y2="417.99" stroke="#b0b0b0" stroke-width="0.45" stroke-dasharray="0.7 2.0"/>
<line x1="311.43" y1="369.04" x2="256.37" y2="416.1" stroke="#b0b0b0" stroke-width="0.45" stroke-dasharray="0.7 2.0"/>
<line x1="308.97" y1="368.95" x2="254.76" y2="414.19" stroke="#b0b0b0" stroke-width="0.45" stroke-dasharray="0.7 2.0"/>
<line x1="302.69" y1="371.93" x2="253.17" y2="412.26" stroke="#b0b0b0" stroke-width="0.45" stroke-dasharray="0.7 2.0"/>
<line x1="312.78" y1="361.69" x2="251.6" y2="410.31" stroke="#b0b0b0" stroke-width="0.45" stroke-dasharray="0.7 2.0"/>
<line x1="310.84" y1="361.21" x2="250.06" y2="408.35" stroke="#b0b0b0" stroke-width="0.45" stroke-dasharray="0.7 2.0"/>
<line x1="317.31" y1="354.32" x2="248.54" y2="406.36" stroke="#b0b0b0" stroke-width="0.45" stroke-dasharray="0.7 2.0"/>
<line x1="316.83" y1="352.85" x2="247.04" y2="404.36" stroke="#b0b0b0" stroke-width="0.45" stroke-dasharray="0.7 2.0"/>
<line x1="317.78" y1="350.36" x2="245.57" y2="402.34" stroke="#b0b0b0" stroke-width="0.45" stroke-dasharray="0.7 2.0"/>
<line x1="321.44" y1="346.03" x2="244.12" y2="400.31" stroke="#b0b0b0" stroke-width="0.45" stroke-dasharray="0.7 2.0"/>
<line x1="308.23" y1="353.4" x2="242.7" y2="398.25" stroke="#b0b0b0" stroke-width="0.45" stroke-dasharray="0.7 2.0"/>
<line x1="314.45" y1="347.39" x2="241.3" y2="396.18" stroke="#b0b0b0" stroke-width="0.45" stroke-dasharray="0.7 2.0"/>
<line x1="302.19" y1="353.63" x2="239.92" y2="394.09" stroke="#b0b0b0" stroke-width="0.45" stroke-dasharray="0.7 2.0"/>
<line x1="299.18" y1="353.62" x2="238.58" y2="391.99" stroke="#b0b0b0" stroke-width="0.45" stroke-dasharray="0.7 2.0"/>
<line x1="297.6" y1="352.66" x2="237.25" y2="389.87" stroke="#b0b0b0" stroke-width="0.45" stroke-dasharray="0.7 2.0"/>
<line x1="295.27" y1="352.13" x2="235.95" y2="387.74" stroke="#b0b0b0" stroke-width="0.45" stroke-dasharray="0.7 2.0"/>
<line x1="294.51" y1="350.63" x2="234.68" y2="385.59" stroke="#b0b0b0" stroke-width="0.45" stroke-dasharray="0.7 2.0"/>
<line x1="285.66" y1="353.73" x2="233.43" y2="383.42" stroke="#b0b0b0" stroke-width="0.45" stroke-dasharray="0.7 2.0"/>
<line x1="283.82" y1="352.71" x2="232.21" y2="381.24" stroke="#b0b0b0" stroke-width="0.45" stroke-dasharray="0.7 2.0"/>
<line x1="294.73" y1="344.81" x2="231.01" y2="379.05" stroke="#b0b0b0" stroke-width="0.45" stroke-dasharray="0.7 2.0"/>
<line x1="293.65" y1="343.53" x2="229.84" y2="376.84" stroke="#b0b0b0" stroke-width="0.45" stroke-dasharray="0.7 2.0"/>
<line x1="284.36" y1="346.39" x2="228.7" y2="374.62" stroke="#b0b0b0" stroke-width="0.45" stroke-dasharray="0.7 2.0"/>
<line x1="297.74" y1="337.85" x2="227.58" y2="372.38" stroke="#b0b0b0" stroke-width="0.45" stroke-dasharray="0.7 2.0"/>
<line x1="284.88" y1="342.25" x2="226.49" y2="370.13" stroke="#b0b0b0" stroke-width="0.45" stroke-dasharray="0.7 2.0"/>
<line x1="287.29" y1="339.24" x2="225.43" y2="367.87" stroke="#b0b0b0" stroke-width="0.45" stroke-dasharray="0.7 2.0"/>
<line x1="286.22" y1="337.86" x2="224.39" y2="365.6" stroke="#b0b0b0" stroke-width="0.45" stroke-dasharray="0.7 2.0"/>
<line x1="297.65" y1="331.05" x2="223.38" y2="363.31" stroke="#b0b0b0" stroke-width="0.45" stroke-dasharray="0.7 2.0"/>
<line x1="289.37" y1="332.87" x2="222.4" y2="361.01" stroke="#b0b0b0" stroke-width="0.45" stroke-dasharray="0.7 2.0"/>
<line x1="292.44" y1="329.86" x2="221.45" y2="358.7" stroke="#b0b0b0" stroke-width="0.45" stroke-dasharray="0.7 2.0"/>
<line x1="294.52" y1="327.33" x2="220.52" y2="356.38" stroke="#b0b0b0" stroke-width="0.45" stroke-dasharray="0.7 2.0"/>
<line x1="290.03" y1="327.38" x2="219.62" y2="354.05" stroke="#b0b0b0" stroke-width="0.45" stroke-dasharray="0.7 2.0"/>
<line x1="279.39" y1="329.56" x2="218.75" y2="351.71" stroke="#b0b0b0" stroke-width="0.45" stroke-dasharray="0.7 2.0"/>
<line x1="282.73" y1="326.55" x2="217.91" y2="349.36" stroke="#b0b0b0" stroke-width="0.45" stroke-dasharray="0.7 2.0"/>
<line x1="281.99" y1="325.02" x2="217.09" y2="346.99" stroke="#b0b0b0" stroke-width="0.45" stroke-dasharray="0.7 2.0"/>
<line x1="279.27" y1="324.14" x2="216.3" y2="344.62" stroke="#b0b0b0" stroke-width="0.45" stroke-dasharray="0.7 2.0"/>
<line x1="286.83" y1="319.98" x2="215.54" y2="342.24" stroke="#b0b0b0" stroke-width="0.45" stroke-dasharray="0.7 2.0"/>
<line x1="285.44" y1="318.72" x2="214.81" y2="339.85" stroke="#b0b0b0" stroke-width="0.45" stroke-dasharray="0.7 2.0"/>
<line x1="282.99" y1="317.73" x2="214.11" y2="337.45" stroke="#b0b0b0" stroke-width="0.45" stroke-dasharray="0.7 2.0"/>
<line x1="288.26" y1="314.58" x2="213.44" y2="335.05" stroke="#b0b0b0" stroke-width="0.45" stroke-dasharray="0.7 2.0"/>
<line x1="280.25" y1="315.04" x2="212.79" y2="332.63" stroke="#b0b0b0" stroke-width="0.45" stroke-dasharray="0.7 2.0"/>
<line x1="280" y1="313.39" x2="212.18" y2="330.21" stroke="#b0b0b0" stroke-width="0.45" stroke-dasharray="0.7 2.0"/>
<line x1="274.98" y1="312.86" x2="211.59" y2="327.78" stroke="#b0b0b0" stroke-width="0.45" stroke-dasharray="0.7 2.0"/>
<line x1="282.41" y1="309.43" x2="211.03" y2="325.35" stroke="#b0b0b0" stroke-width="0.45" stroke-dasharray="0.7 2.0"/>
<line x1="278.9" y1="308.51" x2="210.5" y2="322.9" stroke="#b0b0b0" stroke-width="0.45" stroke-dasharray="0.7 2.0"/>
<line x1="277.38" y1="307.11" x2="210" y2="320.46" stroke="#b0b0b0" stroke-width="0.45" stroke-dasharray="0.7 2.0"/>
<line x1="280.75" y1="304.77" x2="209.53" y2="318" stroke="#b0b0b0" stroke-width="0.45" stroke-dasharray="0.7 2.0"/>
<line x1="286.83" y1="302.06" x2="209.09" y2="315.54" stroke="#b0b0b0" stroke-width="0.45" stroke-dasharray="0.7 2.0"/>
<line x1="280" y1="301.58" x2="208.68" y2="313.08" stroke="#b0b0b0" stroke-width="0.45" stroke-dasharray="0.7 2.0"/>
<line x1="292.03" y1="298.13" x2="208.29" y2="310.61" stroke="#b0b0b0" stroke-width="0.45" stroke-dasharray="0.7 2.0"/>
<line x1="285.53" y1="297.51" x2="207.94" y2="308.13" stroke="#b0b0b0" stroke-width="0.45" stroke-dasharray="0.7 2.0"/>
<line x1="292.49" y1="295.06" x2="207.62" y2="305.66" stroke="#b0b0b0" stroke-width="0.45" stroke-dasharray="0.7 2.0"/>
<line x1="283.82" y1="294.55" x2="207.32" y2="303.17" stroke="#b0b0b0" stroke-width="0.45" stroke-dasharray="0.7 2.0"/>
<line x1="296.79" y1="291.65" x2="207.06" y2="300.69" stroke="#b0b0b0" stroke-width="0.45" stroke-dasharray="0.7 2.0"/>
<line x1="298.34" y1="290.08" x2="206.82" y2="298.2" stroke="#b0b0b0" stroke-width="0.45" stroke-dasharray="0.7 2.0"/>
<line x1="282.92" y1="289.86" x2="206.62" y2="295.71" stroke="#b0b0b0" stroke-width="0.45" stroke-dasharray="0.7 2.0"/>
<line x1="288.58" y1="287.9" x2="206.44" y2="293.22" stroke="#b0b0b0" stroke-width="0.45" stroke-dasharray="0.7 2.0"/>
<line x1="288.31" y1="286.39" x2="206.29" y2="290.72" stroke="#b0b0b0" stroke-width="0.45" stroke-dasharray="0.7 2.0"/>
<line x1="275.88" y1="285.38" x2="206.18" y2="288.23" stroke="#b0b0b0" stroke-width="0.45" stroke-dasharray="0.7 2.0"/>
<line x1="282.09" y1="283.53" x2="206.09" y2="285.73" stroke="#b0b0b0" stroke-width="0.45" stroke-dasharray="0.7 2.0"/>
<line x1="271.48" y1="282.12" x2="206.03" y2="283.23" stroke="#b0b0b0" stroke-width="0.45" stroke-dasharray="0.7 2.0"/>
<line x1="268.15" y1="280.41" x2="206" y2="280.73" stroke="#b0b0b0" stroke-width="0.45" stroke-dasharray="0.7 2.0"/>
<line x1="271.41" y1="278.67" x2="206" y2="278.23" stroke="#b0b0b0" stroke-width="0.45" stroke-dasharray="0.7 2.0"/>
<line x1="267.82" y1="276.89" x2="206.04" y2="275.74" stroke="#b0b0b0" stroke-width="0.45" stroke-dasharray="0.7 2.0"/>
<line x1="272.27" y1="275.26" x2="206.1" y2="273.24" stroke="#b0b0b0" stroke-width="0.45" stroke-dasharray="0.7 2.0"/>
<line x1="282.07" y1="273.96" x2="206.19" y2="270.74" stroke="#b0b0b0" stroke-width="0.45" stroke-dasharray="0.7 2.0"/>
<line x1="274.3" y1="271.94" x2="206.31" y2="268.24" stroke="#b0b0b0" stroke-width="0.45" stroke-dasharray="0.7 2.0"/>
<line x1="285.81" y1="271.01" x2="206.46" y2="265.75" stroke="#b0b0b0" stroke-width="0.45" stroke-dasharray="0.7 2.0"/>
<line x1="284.82" y1="269.38" x2="206.64" y2="263.26" stroke="#b0b0b0" stroke-width="0.45" stroke-dasharray="0.7 2.0"/>
<line x1="289" y1="268.18" x2="206.85" y2="260.77" stroke="#b0b0b0" stroke-width="0.45" stroke-dasharray="0.7 2.0"/>
<line x1="284" y1="266.15" x2="207.09" y2="258.28" stroke="#b0b0b0" stroke-width="0.45" stroke-dasharray="0.7 2.0"/>
<line x1="295.46" y1="265.87" x2="207.36" y2="255.79" stroke="#b0b0b0" stroke-width="0.45" stroke-dasharray="0.7 2.0"/>
<line x1="278.22" y1="262.23" x2="207.66" y2="253.31" stroke="#b0b0b0" stroke-width="0.45" stroke-dasharray="0.7 2.0"/>
<line x1="284.89" y1="261.49" x2="207.99" y2="250.84" stroke="#b0b0b0" stroke-width="0.45" stroke-dasharray="0.7 2.0"/>
<line x1="272.25" y1="257.99" x2="208.34" y2="248.36" stroke="#b0b0b0" stroke-width="0.45" stroke-dasharray="0.7 2.0"/>
<line x1="272.38" y1="256.26" x2="208.73" y2="245.89" stroke="#b0b0b0" stroke-width="0.45" stroke-dasharray="0.7 2.0"/>
<line x1="272.87" y1="254.59" x2="209.15" y2="243.43" stroke="#b0b0b0" stroke-width="0.45" stroke-dasharray="0.7 2.0"/>
<line x1="263.78" y1="251.13" x2="209.59" y2="240.97" stroke="#b0b0b0" stroke-width="0.45" stroke-dasharray="0.7 2.0"/>
<line x1="274.09" y1="251.3" x2="210.07" y2="238.52" stroke="#b0b0b0" stroke-width="0.45" stroke-dasharray="0.7 2.0"/>
<line x1="276.61" y1="250.08" x2="210.57" y2="236.07" stroke="#b0b0b0" stroke-width="0.45" stroke-dasharray="0.7 2.0"/>
<line x1="268.36" y1="246.49" x2="211.1" y2="233.63" stroke="#b0b0b0" stroke-width="0.45" stroke-dasharray="0.7 2.0"/>
<line x1="275.52" y1="246.34" x2="211.67" y2="231.19" stroke="#b0b0b0" stroke-width="0.45" stroke-dasharray="0.7 2.0"/>
<line x1="285.06" y1="246.95" x2="212.26" y2="228.77" stroke="#b0b0b0" stroke-width="0.45" stroke-dasharray="0.7 2.0"/>
<line x1="288.47" y1="246.18" x2="212.88" y2="226.34" stroke="#b0b0b0" stroke-width="0.45" stroke-dasharray="0.7 2.0"/>
<line x1="290.06" y1="244.99" x2="213.53" y2="223.93" stroke="#b0b0b0" stroke-width="0.45" stroke-dasharray="0.7 2.0"/>
<line x1="286" y1="242.21" x2="214.2" y2="221.53" stroke="#b0b0b0" stroke-width="0.45" stroke-dasharray="0.7 2.0"/>
<line x1="292.46" y1="242.47" x2="214.91" y2="219.13" stroke="#b0b0b0" stroke-width="0.45" stroke-dasharray="0.7 2.0"/>
<line x1="291.89" y1="240.68" x2="215.64" y2="216.74" stroke="#b0b0b0" stroke-width="0.45" stroke-dasharray="0.7 2.0"/>
<line x1="281.7" y1="235.72" x2="216.41" y2="214.36" stroke="#b0b0b0" stroke-width="0.45" stroke-dasharray="0.7 2.0"/>
<line x1="287.02" y1="235.75" x2="217.2" y2="211.99" stroke="#b0b0b0" stroke-width="0.45" stroke-dasharray="0.7 2.0"/>
<line x1="284.77" y1="233.24" x2="218.02" y2="209.63" stroke="#b0b0b0" stroke-width="0.45" stroke-dasharray="0.7 2.0"/>
<line x1="286.1" y1="231.96" x2="218.86" y2="207.28" stroke="#b0b0b0" stroke-width="0.45" stroke-dasharray="0.7 2.0"/>
<line x1="244.79" y1="181.2" x2="233.95" y2="174.97" stroke="#b0b0b0" stroke-width="0.45" stroke-dasharray="0.7 2.0"/>
<line x1="252.72" y1="183.47" x2="235.06" y2="173.07" stroke="#b0b0b0" stroke-width="0.45" stroke-dasharray="0.7 2.0"/>
<line x1="243.64" y1="175.27" x2="236.37" y2="170.86" stroke="#b0b0b0" stroke-width="0.45" stroke-dasharray="0.7 2.0"/>
<line x1="249.36" y1="175.52" x2="237.91" y2="168.37" stroke="#b0b0b0" stroke-width="0.45" stroke-dasharray="0.7 2.0"/>
<line x1="244.1" y1="168.87" x2="239.48" y2="165.89" stroke="#b0b0b0" stroke-width="0.45" stroke-dasharray="0.7 2.0"/>
<line x1="249" y1="168.69" x2="241.09" y2="163.44" stroke="#b0b0b0" stroke-width="0.45" stroke-dasharray="0.7 2.0"/>
<line x1="232.53" y1="174.43" x2="219.92" y2="167.2" stroke="#404040" stroke-width="1.15"/>
<line x1="233.77" y1="172.31" x2="221.44" y2="165.05" stroke="#404040" stroke-width="1.15"/>
<line x1="235.03" y1="170.19" x2="221.73" y2="162.15" stroke="#404040" stroke-width="1.15"/>
<line x1="236.47" y1="167.85" x2="214.33" y2="154.06" stroke="#4fd8a6" stroke-width="1.15"/>
<line x1="237.7" y1="165.89" x2="222.41" y2="156.14" stroke="#4fd8a6" stroke-width="1.15"/>
<line x1="238.95" y1="163.96" x2="222.57" y2="153.25" stroke="#4fd8a6" stroke-width="1.15"/>
<line x1="240.22" y1="162.03" x2="224.01" y2="151.18" stroke="#4fd8a6" stroke-width="1.15"/>
<line x1="241.57" y1="160.03" x2="229.75" y2="151.92" stroke="#404040" stroke-width="1.15"/>
<line x1="243.01" y1="157.96" x2="225.8" y2="145.86" stroke="#72c4b4" stroke-width="1.15"/>
<line x1="244.47" y1="155.91" x2="227.59" y2="143.74" stroke="#72c4b4" stroke-width="1.15"/>
<line x1="245.96" y1="153.88" x2="225.84" y2="139" stroke="#72c4b4" stroke-width="1.15"/>
<line x1="247.47" y1="151.86" x2="225.04" y2="134.86" stroke="#72c4b4" stroke-width="1.15"/>
<line x1="249" y1="149.86" x2="234.39" y2="138.51" stroke="#72c4b4" stroke-width="1.15"/>
<line x1="250.56" y1="147.88" x2="239.06" y2="138.72" stroke="#404040" stroke-width="1.15"/>
<line x1="252.14" y1="145.92" x2="240.28" y2="136.24" stroke="#404040" stroke-width="1.15"/>
<line x1="253.75" y1="143.98" x2="236.11" y2="129.23" stroke="#72c4b4" stroke-width="1.15"/>
<line x1="255.38" y1="142.06" x2="236.15" y2="125.59" stroke="#72c4b4" stroke-width="1.15"/>
<line x1="257.03" y1="140.15" x2="246.46" y2="130.88" stroke="#404040" stroke-width="1.15"/>
<line x1="258.7" y1="138.27" x2="240.9" y2="122.27" stroke="#72c4b4" stroke-width="1.15"/>
<line x1="260.39" y1="136.41" x2="239.93" y2="117.57" stroke="#72c4b4" stroke-width="1.15"/>
<line x1="262.11" y1="134.56" x2="250.38" y2="123.5" stroke="#72c4b4" stroke-width="1.15"/>
<line x1="263.85" y1="132.74" x2="245.9" y2="115.41" stroke="#72c4b4" stroke-width="1.15"/>
<line x1="265.61" y1="130.94" x2="255.56" y2="121" stroke="#404040" stroke-width="1.15"/>
<line x1="267.39" y1="129.16" x2="253.86" y2="115.45" stroke="#72c4b4" stroke-width="1.15"/>
<line x1="269.2" y1="127.4" x2="249.73" y2="107.21" stroke="#72c4b4" stroke-width="1.15"/>
<line x1="271.02" y1="125.66" x2="260.08" y2="114.04" stroke="#404040" stroke-width="1.15"/>
<line x1="272.86" y1="123.94" x2="260.91" y2="110.93" stroke="#72c4b4" stroke-width="1.15"/>
<line x1="274.73" y1="122.25" x2="265.34" y2="111.79" stroke="#404040" stroke-width="1.15"/>
<line x1="276.61" y1="120.58" x2="260.81" y2="102.54" stroke="#72c4b4" stroke-width="1.15"/>
<line x1="278.52" y1="118.93" x2="269.7" y2="108.62" stroke="#404040" stroke-width="1.15"/>
<line x1="280.44" y1="117.3" x2="271.71" y2="106.85" stroke="#404040" stroke-width="1.15"/>
<line x1="282.39" y1="115.7" x2="269.22" y2="99.55" stroke="#72c4b4" stroke-width="1.15"/>
<line x1="284.35" y1="114.12" x2="272.49" y2="99.2" stroke="#72c4b4" stroke-width="1.15"/>
<line x1="286.33" y1="112.56" x2="277.11" y2="100.68" stroke="#404040" stroke-width="1.15"/>
<line x1="288.33" y1="111.03" x2="279.81" y2="99.78" stroke="#404040" stroke-width="1.15"/>
<line x1="290.35" y1="109.52" x2="274.89" y2="88.59" stroke="#72c4b4" stroke-width="1.15"/>
<line x1="292.38" y1="108.04" x2="281.82" y2="93.37" stroke="#72c4b4" stroke-width="1.15"/>
<line x1="294.44" y1="106.58" x2="282.02" y2="88.9" stroke="#72c4b4" stroke-width="1.15"/>
<line x1="296.51" y1="105.14" x2="280.16" y2="81.27" stroke="#72c4b4" stroke-width="1.15"/>
<line x1="298.59" y1="103.73" x2="285.09" y2="83.49" stroke="#72c4b4" stroke-width="1.15"/>
<line x1="300.7" y1="102.34" x2="292.6" y2="89.9" stroke="#404040" stroke-width="1.15"/>
<line x1="302.82" y1="100.98" x2="287.39" y2="76.63" stroke="#72c4b4" stroke-width="1.15"/>
<line x1="304.95" y1="99.65" x2="294.66" y2="82.96" stroke="#72c4b4" stroke-width="1.15"/>
<line x1="307.11" y1="98.34" x2="293.43" y2="75.57" stroke="#72c4b4" stroke-width="1.15"/>
<line x1="309.27" y1="97.05" x2="298.25" y2="78.2" stroke="#72c4b4" stroke-width="1.15"/>
<line x1="311.46" y1="95.8" x2="297.13" y2="70.61" stroke="#72c4b4" stroke-width="1.15"/>
<line x1="313.65" y1="94.56" x2="304.97" y2="78.86" stroke="#72c4b4" stroke-width="1.15"/>
<line x1="316.53" y1="93" x2="310.13" y2="81" stroke="#404040" stroke-width="1.15"/>
<line x1="318.79" y1="91.81" x2="312.39" y2="79.46" stroke="#404040" stroke-width="1.15"/>
<line x1="321.06" y1="90.66" x2="307.77" y2="64.19" stroke="#74c874" stroke-width="1.15"/>
<line x1="323.35" y1="89.52" x2="314.89" y2="72.16" stroke="#74c874" stroke-width="1.15"/>
<line x1="325.65" y1="88.42" x2="312.54" y2="60.68" stroke="#74c874" stroke-width="1.15"/>
<line x1="327.96" y1="87.34" x2="322.1" y2="74.53" stroke="#404040" stroke-width="1.15"/>
<line x1="330.29" y1="86.3" x2="324.13" y2="72.39" stroke="#404040" stroke-width="1.15"/>
<line x1="332.63" y1="85.28" x2="321.4" y2="59.1" stroke="#74c874" stroke-width="1.15"/>
<line x1="334.98" y1="84.28" x2="329.12" y2="70.16" stroke="#404040" stroke-width="1.15"/>
<line x1="337.34" y1="83.32" x2="330.69" y2="66.7" stroke="#74c874" stroke-width="1.15"/>
<line x1="339.72" y1="82.39" x2="330.61" y2="58.83" stroke="#74c874" stroke-width="1.15"/>
<line x1="342.1" y1="81.48" x2="336.73" y2="67.06" stroke="#404040" stroke-width="1.15"/>
<line x1="344.5" y1="80.6" x2="338.36" y2="63.5" stroke="#74c874" stroke-width="1.15"/>
<line x1="346.91" y1="79.75" x2="341.77" y2="64.89" stroke="#404040" stroke-width="1.15"/>
<line x1="349.32" y1="78.93" x2="342.18" y2="57.43" stroke="#74c874" stroke-width="1.15"/>
<line x1="351.75" y1="78.15" x2="347.62" y2="65.19" stroke="#404040" stroke-width="1.15"/>
<line x1="354.19" y1="77.38" x2="345.31" y2="48.34" stroke="#74c874" stroke-width="1.15"/>
<line x1="356.63" y1="76.65" x2="352.54" y2="62.65" stroke="#404040" stroke-width="1.15"/>
<line x1="359.08" y1="75.95" x2="353.02" y2="54.25" stroke="#74c874" stroke-width="1.15"/>
<line x1="361.55" y1="75.28" x2="357.59" y2="60.42" stroke="#404040" stroke-width="1.15"/>
<line x1="364.02" y1="74.64" x2="357.66" y2="49.59" stroke="#74c874" stroke-width="1.15"/>
<line x1="366.49" y1="74.03" x2="361.18" y2="51.94" stroke="#74c874" stroke-width="1.15"/>
<line x1="368.98" y1="73.44" x2="364.28" y2="52.85" stroke="#74c874" stroke-width="1.15"/>
<line x1="372.16" y1="72.74" x2="369.31" y2="59.32" stroke="#404040" stroke-width="1.15"/>
<line x1="374.59" y1="72.24" x2="369.04" y2="44.46" stroke="#6fd6f2" stroke-width="1.15"/>
<line x1="377.02" y1="71.77" x2="374.53" y2="58.45" stroke="#404040" stroke-width="1.15"/>
<line x1="379.47" y1="71.33" x2="376.71" y2="55.62" stroke="#404040" stroke-width="1.15"/>
<line x1="381.91" y1="70.92" x2="378.07" y2="47.36" stroke="#6fd6f2" stroke-width="1.15"/>
<line x1="384.36" y1="70.53" x2="380.03" y2="41.87" stroke="#6fd6f2" stroke-width="1.15"/>
<line x1="386.82" y1="70.17" x2="383.29" y2="44.82" stroke="#6fd6f2" stroke-width="1.15"/>
<line x1="389.28" y1="69.84" x2="385.54" y2="40.5" stroke="#6fd6f2" stroke-width="1.15"/>
<line x1="391.74" y1="69.55" x2="388.4" y2="40.6" stroke="#6fd6f2" stroke-width="1.15"/>
<line x1="394.21" y1="69.28" x2="391.84" y2="46.37" stroke="#6fd6f2" stroke-width="1.15"/>
<line x1="396.68" y1="69.03" x2="394.06" y2="40.51" stroke="#6fd6f2" stroke-width="1.15"/>
<line x1="399.15" y1="68.82" x2="397.25" y2="45.02" stroke="#6fd6f2" stroke-width="1.15"/>
<line x1="401.62" y1="68.64" x2="399.53" y2="37.91" stroke="#6fd6f2" stroke-width="1.15"/>
<line x1="404.1" y1="68.48" x2="403.32" y2="54.63" stroke="#404040" stroke-width="1.15"/>
<line x1="406.58" y1="68.36" x2="405.22" y2="37.91" stroke="#6fd6f2" stroke-width="1.15"/>
<line x1="409.06" y1="68.26" x2="408.32" y2="45.65" stroke="#6fd6f2" stroke-width="1.15"/>
<line x1="411.54" y1="68.2" x2="411.02" y2="43.49" stroke="#6fd6f2" stroke-width="1.15"/>
<line x1="414.02" y1="68.16" x2="413.88" y2="53.3" stroke="#404040" stroke-width="1.15"/>
<line x1="417.34" y1="68.15" x2="417.45" y2="52.24" stroke="#404040" stroke-width="1.15"/>
<line x1="420.03" y1="68.19" x2="420.44" y2="46.93" stroke="#74c874" stroke-width="1.15"/>
<line x1="422.72" y1="68.26" x2="423.34" y2="48.96" stroke="#74c874" stroke-width="1.15"/>
<line x1="425.41" y1="68.36" x2="426.11" y2="52.68" stroke="#404040" stroke-width="1.15"/>
<line x1="428.1" y1="68.5" x2="429.21" y2="49.02" stroke="#74c874" stroke-width="1.15"/>
<line x1="430.78" y1="68.67" x2="432.83" y2="39.4" stroke="#74c874" stroke-width="1.15"/>
<line x1="433.46" y1="68.87" x2="435.38" y2="45.7" stroke="#74c874" stroke-width="1.15"/>
<line x1="436.27" y1="69.12" x2="438.98" y2="40.96" stroke="#d466d4" stroke-width="1.15"/>
<line x1="439.03" y1="69.41" x2="440.7" y2="54.12" stroke="#404040" stroke-width="1.15"/>
<line x1="441.59" y1="69.7" x2="443.53" y2="53.83" stroke="#404040" stroke-width="1.15"/>
<line x1="444.16" y1="70.03" x2="446.18" y2="54.97" stroke="#404040" stroke-width="1.15"/>
<line x1="446.71" y1="70.39" x2="451.04" y2="40.94" stroke="#74c874" stroke-width="1.15"/>
<line x1="449.27" y1="70.78" x2="451.77" y2="55.05" stroke="#404040" stroke-width="1.15"/>
<line x1="451.82" y1="71.2" x2="454.8" y2="53.83" stroke="#74c874" stroke-width="1.15"/>
<line x1="454.36" y1="71.66" x2="457.18" y2="56.38" stroke="#404040" stroke-width="1.15"/>
<line x1="456.9" y1="72.14" x2="462.61" y2="43.15" stroke="#74c874" stroke-width="1.15"/>
<line x1="459.43" y1="72.66" x2="462.25" y2="59.2" stroke="#404040" stroke-width="1.15"/>
<line x1="461.96" y1="73.2" x2="467.18" y2="49.74" stroke="#74c874" stroke-width="1.15"/>
<line x1="464.48" y1="73.78" x2="467.73" y2="59.98" stroke="#404040" stroke-width="1.15"/>
<line x1="466.99" y1="74.39" x2="472.72" y2="51.31" stroke="#74c874" stroke-width="1.15"/>
<line x1="469.71" y1="75.08" x2="475.47" y2="53.18" stroke="#7a86e4" stroke-width="1.15"/>
<line x1="471.94" y1="75.68" x2="479.46" y2="48.29" stroke="#7a86e4" stroke-width="1.15"/>
<line x1="474.16" y1="76.31" x2="478.58" y2="60.86" stroke="#7a86e4" stroke-width="1.15"/>
<line x1="476.38" y1="76.95" x2="483.96" y2="51.5" stroke="#7a86e4" stroke-width="1.15"/>
<line x1="479.04" y1="77.76" x2="487.38" y2="51.07" stroke="#74c874" stroke-width="1.15"/>
<line x1="481.44" y1="78.53" x2="485.81" y2="65.1" stroke="#404040" stroke-width="1.15"/>
<line x1="483.83" y1="79.32" x2="490.22" y2="60.45" stroke="#74c874" stroke-width="1.15"/>
<line x1="486.21" y1="80.14" x2="490.76" y2="67.23" stroke="#404040" stroke-width="1.15"/>
<line x1="488.58" y1="80.99" x2="494.37" y2="65.16" stroke="#74c874" stroke-width="1.15"/>
<line x1="490.95" y1="81.87" x2="498.44" y2="62.09" stroke="#74c874" stroke-width="1.15"/>
<line x1="493.3" y1="82.78" x2="503.83" y2="55.95" stroke="#74c874" stroke-width="1.15"/>
<line x1="495.63" y1="83.71" x2="503.66" y2="63.97" stroke="#74c874" stroke-width="1.15"/>
<line x1="497.96" y1="84.68" x2="504.29" y2="69.62" stroke="#74c874" stroke-width="1.15"/>
<line x1="500.28" y1="85.67" x2="508.08" y2="67.71" stroke="#74c874" stroke-width="1.15"/>
<line x1="502.58" y1="86.69" x2="508.58" y2="73.32" stroke="#404040" stroke-width="1.15"/>
<line x1="504.88" y1="87.73" x2="510.61" y2="75.35" stroke="#404040" stroke-width="1.15"/>
<line x1="507.16" y1="88.8" x2="513.05" y2="76.45" stroke="#404040" stroke-width="1.15"/>
<line x1="509.42" y1="89.9" x2="521.62" y2="65.13" stroke="#74c874" stroke-width="1.15"/>
<line x1="511.68" y1="91.03" x2="517.84" y2="78.87" stroke="#404040" stroke-width="1.15"/>
<line x1="513.92" y1="92.18" x2="520.63" y2="79.32" stroke="#404040" stroke-width="1.15"/>
<line x1="516.14" y1="93.36" x2="523.49" y2="79.68" stroke="#404040" stroke-width="1.15"/>
<line x1="518.35" y1="94.57" x2="525.75" y2="81.19" stroke="#404040" stroke-width="1.15"/>
<line x1="520.55" y1="95.8" x2="529.62" y2="79.85" stroke="#74c874" stroke-width="1.15"/>
<line x1="522.73" y1="97.06" x2="530.47" y2="83.82" stroke="#404040" stroke-width="1.15"/>
<line x1="524.9" y1="98.34" x2="532.32" y2="85.99" stroke="#404040" stroke-width="1.15"/>
<line x1="527.05" y1="99.65" x2="534.91" y2="86.92" stroke="#404040" stroke-width="1.15"/>
<line x1="529.19" y1="100.99" x2="539.93" y2="84.04" stroke="#74c874" stroke-width="1.15"/>
<line x1="531.31" y1="102.35" x2="538.83" y2="90.79" stroke="#404040" stroke-width="1.15"/>
<line x1="533.41" y1="103.73" x2="548.38" y2="81.3" stroke="#74c874" stroke-width="1.15"/>
<line x1="535.5" y1="105.14" x2="544.1" y2="92.58" stroke="#404040" stroke-width="1.15"/>
<line x1="537.57" y1="106.58" x2="546.81" y2="93.43" stroke="#74c874" stroke-width="1.15"/>
<line x1="539.62" y1="108.04" x2="556.59" y2="84.49" stroke="#74c874" stroke-width="1.15"/>
<line x1="541.66" y1="109.53" x2="550.96" y2="96.94" stroke="#404040" stroke-width="1.15"/>
<line x1="543.68" y1="111.03" x2="552.61" y2="99.23" stroke="#404040" stroke-width="1.15"/>
<line x1="545.67" y1="112.57" x2="558.2" y2="96.43" stroke="#74c874" stroke-width="1.15"/>
<line x1="547.66" y1="114.12" x2="557.76" y2="101.42" stroke="#74c874" stroke-width="1.15"/>
<line x1="549.62" y1="115.7" x2="563.94" y2="98.13" stroke="#74c874" stroke-width="1.15"/>
<line x1="551.56" y1="117.31" x2="570.9" y2="94.15" stroke="#74c874" stroke-width="1.15"/>
<line x1="553.49" y1="118.93" x2="563.55" y2="107.17" stroke="#404040" stroke-width="1.15"/>
<line x1="555.39" y1="120.58" x2="573.83" y2="99.53" stroke="#74c874" stroke-width="1.15"/>
<line x1="557.27" y1="122.25" x2="575.69" y2="101.73" stroke="#74c874" stroke-width="1.15"/>
<line x1="559.14" y1="123.95" x2="569.06" y2="113.16" stroke="#404040" stroke-width="1.15"/>
<line x1="560.98" y1="125.66" x2="571.66" y2="114.33" stroke="#404040" stroke-width="1.15"/>
<line x1="562.81" y1="127.4" x2="578.87" y2="110.74" stroke="#74c874" stroke-width="1.15"/>
<line x1="564.61" y1="129.16" x2="575.55" y2="118.08" stroke="#404040" stroke-width="1.15"/>
<line x1="566.39" y1="130.94" x2="586.47" y2="111.09" stroke="#74c874" stroke-width="1.15"/>
<line x1="568.15" y1="132.74" x2="577.99" y2="123.25" stroke="#404040" stroke-width="1.15"/>
<line x1="569.89" y1="134.57" x2="582.07" y2="123.08" stroke="#74c874" stroke-width="1.15"/>
<line x1="571.61" y1="136.41" x2="584.4" y2="124.64" stroke="#74c874" stroke-width="1.15"/>
<line x1="573.3" y1="138.27" x2="584.57" y2="128.15" stroke="#404040" stroke-width="1.15"/>
<line x1="574.98" y1="140.16" x2="595.83" y2="121.86" stroke="#74c874" stroke-width="1.15"/>
<line x1="576.63" y1="142.06" x2="588.58" y2="131.82" stroke="#404040" stroke-width="1.15"/>
<line x1="578.26" y1="143.98" x2="590.89" y2="133.42" stroke="#74c874" stroke-width="1.15"/>
<line x1="579.86" y1="145.93" x2="590.65" y2="137.12" stroke="#404040" stroke-width="1.15"/>
<line x1="581.44" y1="147.89" x2="592.52" y2="139.06" stroke="#404040" stroke-width="1.15"/>
<line x1="583" y1="149.87" x2="594.64" y2="140.82" stroke="#404040" stroke-width="1.15"/>
<line x1="584.53" y1="151.87" x2="605.55" y2="135.93" stroke="#74c874" stroke-width="1.15"/>
<line x1="586.04" y1="153.88" x2="606.42" y2="138.81" stroke="#74c874" stroke-width="1.15"/>
<line x1="587.53" y1="155.92" x2="599.4" y2="147.35" stroke="#404040" stroke-width="1.15"/>
<line x1="588.99" y1="157.97" x2="600.97" y2="149.54" stroke="#404040" stroke-width="1.15"/>
<line x1="590.43" y1="160.04" x2="602.37" y2="151.85" stroke="#404040" stroke-width="1.15"/>
<line x1="591.84" y1="162.12" x2="612.81" y2="148.11" stroke="#74c874" stroke-width="1.15"/>
<line x1="593.23" y1="164.23" x2="606.91" y2="155.31" stroke="#74c874" stroke-width="1.15"/>
<line x1="594.59" y1="166.35" x2="607.32" y2="158.27" stroke="#404040" stroke-width="1.15"/>
<line x1="595.93" y1="168.48" x2="621.52" y2="152.67" stroke="#74c874" stroke-width="1.15"/>
<line x1="597.24" y1="170.63" x2="610.18" y2="162.85" stroke="#404040" stroke-width="1.15"/>
<line x1="598.52" y1="172.8" x2="612.35" y2="164.7" stroke="#74c874" stroke-width="1.15"/>
<line x1="599.78" y1="174.98" x2="615.62" y2="165.96" stroke="#74c874" stroke-width="1.15"/>
<line x1="601.02" y1="177.18" x2="621.38" y2="165.9" stroke="#74c874" stroke-width="1.15"/>
<line x1="602.22" y1="179.39" x2="621.69" y2="168.91" stroke="#74c874" stroke-width="1.15"/>
<line x1="603.41" y1="181.61" x2="628.49" y2="168.49" stroke="#74c874" stroke-width="1.15"/>
<line x1="604.56" y1="183.85" x2="630.4" y2="170.72" stroke="#74c874" stroke-width="1.15"/>
<line x1="605.69" y1="186.1" x2="619.92" y2="179.09" stroke="#404040" stroke-width="1.15"/>
<line x1="606.79" y1="188.37" x2="626.23" y2="179.07" stroke="#74c874" stroke-width="1.15"/>
<line x1="607.86" y1="190.65" x2="624.33" y2="183.01" stroke="#74c874" stroke-width="1.15"/>
<line x1="608.91" y1="192.94" x2="631.23" y2="182.91" stroke="#74c874" stroke-width="1.15"/>
<line x1="609.93" y1="195.24" x2="626.65" y2="187.97" stroke="#74c874" stroke-width="1.15"/>
<line x1="610.92" y1="197.56" x2="636.08" y2="186.97" stroke="#74c874" stroke-width="1.15"/>
<line x1="611.88" y1="199.89" x2="626.04" y2="194.13" stroke="#404040" stroke-width="1.15"/>
<line x1="612.82" y1="202.23" x2="635.84" y2="193.17" stroke="#74c874" stroke-width="1.15"/>
<line x1="613.73" y1="204.58" x2="631.39" y2="197.87" stroke="#74c874" stroke-width="1.15"/>
<line x1="614.61" y1="206.94" x2="628.44" y2="201.87" stroke="#404040" stroke-width="1.15"/>
<line x1="615.46" y1="209.31" x2="643.26" y2="199.5" stroke="#74c874" stroke-width="1.15"/>
<line x1="616.28" y1="211.69" x2="629.11" y2="207.34" stroke="#404040" stroke-width="1.15"/>
<line x1="617.08" y1="214.08" x2="631.93" y2="209.24" stroke="#404040" stroke-width="1.15"/>
<line x1="617.85" y1="216.48" x2="632.78" y2="211.8" stroke="#404040" stroke-width="1.15"/>
<line x1="618.58" y1="218.89" x2="634.26" y2="214.18" stroke="#74c874" stroke-width="1.15"/>
<line x1="619.29" y1="221.31" x2="642.13" y2="214.75" stroke="#74c874" stroke-width="1.15"/>
<line x1="619.97" y1="223.73" x2="634.29" y2="219.81" stroke="#404040" stroke-width="1.15"/>
<line x1="620.63" y1="226.16" x2="634.64" y2="222.5" stroke="#404040" stroke-width="1.15"/>
<line x1="621.25" y1="228.61" x2="636.19" y2="224.89" stroke="#404040" stroke-width="1.15"/>
<line x1="621.84" y1="231.05" x2="637.31" y2="227.4" stroke="#404040" stroke-width="1.15"/>
<line x1="622.41" y1="233.51" x2="650.08" y2="227.32" stroke="#74c874" stroke-width="1.15"/>
<line x1="622.94" y1="235.97" x2="643.65" y2="231.6" stroke="#74c874" stroke-width="1.15"/>
<line x1="623.45" y1="238.44" x2="648.23" y2="233.51" stroke="#74c874" stroke-width="1.15"/>
<line x1="623.92" y1="240.91" x2="641.08" y2="237.72" stroke="#74c874" stroke-width="1.15"/>
<line x1="624.37" y1="243.39" x2="637.83" y2="241.05" stroke="#404040" stroke-width="1.15"/>
<line x1="624.79" y1="245.88" x2="648.54" y2="242.03" stroke="#74c874" stroke-width="1.15"/>
<line x1="625.17" y1="248.37" x2="639.83" y2="246.17" stroke="#404040" stroke-width="1.15"/>
<line x1="625.53" y1="250.86" x2="655.34" y2="246.76" stroke="#74c874" stroke-width="1.15"/>
<line x1="625.86" y1="253.36" x2="640.79" y2="251.49" stroke="#404040" stroke-width="1.15"/>
<line x1="626.16" y1="255.89" x2="644.11" y2="253.86" stroke="#cfe85a" stroke-width="1.15"/>
<line x1="626.44" y1="258.46" x2="654.33" y2="255.65" stroke="#cfe85a" stroke-width="1.15"/>
<line x1="626.68" y1="261.03" x2="645.05" y2="259.41" stroke="#cfe85a" stroke-width="1.15"/>
<line x1="626.94" y1="264.28" x2="652.59" y2="262.41" stroke="#e4386a" stroke-width="1.15"/>
<line x1="627.1" y1="266.72" x2="650.1" y2="265.31" stroke="#e4386a" stroke-width="1.15"/>
<line x1="627.24" y1="269.16" x2="645.57" y2="268.25" stroke="#e4386a" stroke-width="1.15"/>
<line x1="627.35" y1="271.6" x2="645.58" y2="270.91" stroke="#e4386a" stroke-width="1.15"/>
<line x1="627.43" y1="274.04" x2="655.15" y2="273.31" stroke="#e4386a" stroke-width="1.15"/>
<line x1="627.48" y1="276.49" x2="641.55" y2="276.28" stroke="#404040" stroke-width="1.15"/>
<line x1="627.5" y1="278.93" x2="652.21" y2="278.85" stroke="#e4386a" stroke-width="1.15"/>
<line x1="627.49" y1="281.38" x2="654.21" y2="281.6" stroke="#e4386a" stroke-width="1.15"/>
<line x1="627.46" y1="283.83" x2="643.53" y2="284.14" stroke="#e4386a" stroke-width="1.15"/>
<line x1="627.4" y1="286.27" x2="650.45" y2="286.99" stroke="#e4386a" stroke-width="1.15"/>
<line x1="627.31" y1="288.71" x2="641.41" y2="289.32" stroke="#404040" stroke-width="1.15"/>
<line x1="627.19" y1="291.16" x2="654.5" y2="292.64" stroke="#e4386a" stroke-width="1.15"/>
<line x1="627.04" y1="293.6" x2="646.38" y2="294.88" stroke="#e4386a" stroke-width="1.15"/>
<line x1="626.86" y1="296.04" x2="648.08" y2="297.69" stroke="#e4386a" stroke-width="1.15"/>
<line x1="626.66" y1="298.47" x2="651.75" y2="300.72" stroke="#e4386a" stroke-width="1.15"/>
<line x1="626.43" y1="300.91" x2="642.06" y2="302.49" stroke="#404040" stroke-width="1.15"/>
<line x1="625.86" y1="305.94" x2="640.71" y2="307.8" stroke="#404040" stroke-width="1.15"/>
<line x1="625.53" y1="308.43" x2="654.73" y2="312.44" stroke="#b0303a" stroke-width="1.15"/>
<line x1="625.18" y1="310.92" x2="640.47" y2="313.21" stroke="#404040" stroke-width="1.15"/>
<line x1="624.79" y1="313.4" x2="642.99" y2="316.34" stroke="#b0303a" stroke-width="1.15"/>
<line x1="624.37" y1="315.88" x2="638.04" y2="318.26" stroke="#404040" stroke-width="1.15"/>
<line x1="623.93" y1="318.35" x2="637.86" y2="320.95" stroke="#404040" stroke-width="1.15"/>
<line x1="623.45" y1="320.82" x2="642.87" y2="324.67" stroke="#b0303a" stroke-width="1.15"/>
<line x1="622.95" y1="323.28" x2="636.78" y2="326.2" stroke="#404040" stroke-width="1.15"/>
<line x1="622.42" y1="325.74" x2="637.62" y2="329.13" stroke="#404040" stroke-width="1.15"/>
<line x1="621.86" y1="328.19" x2="636.72" y2="331.69" stroke="#404040" stroke-width="1.15"/>
<line x1="621.26" y1="330.63" x2="636.11" y2="334.32" stroke="#404040" stroke-width="1.15"/>
<line x1="620.64" y1="333.07" x2="643.89" y2="339.13" stroke="#b0303a" stroke-width="1.15"/>
<line x1="619.99" y1="335.49" x2="635.02" y2="339.61" stroke="#404040" stroke-width="1.15"/>
<line x1="619.32" y1="337.91" x2="643.42" y2="344.82" stroke="#b0303a" stroke-width="1.15"/>
<line x1="618.61" y1="340.32" x2="632.58" y2="344.51" stroke="#404040" stroke-width="1.15"/>
<line x1="617.87" y1="342.73" x2="646.39" y2="351.64" stroke="#b0303a" stroke-width="1.15"/>
<line x1="617.11" y1="345.12" x2="630.13" y2="349.36" stroke="#404040" stroke-width="1.15"/>
<line x1="616.32" y1="347.51" x2="629.89" y2="352.1" stroke="#404040" stroke-width="1.15"/>
<line x1="615.5" y1="349.88" x2="628.82" y2="354.57" stroke="#404040" stroke-width="1.15"/>
<line x1="614.65" y1="352.25" x2="633.34" y2="359.08" stroke="#b0303a" stroke-width="1.15"/>
<line x1="613.77" y1="354.6" x2="635.43" y2="362.81" stroke="#b0303a" stroke-width="1.15"/>
<line x1="612.87" y1="356.95" x2="626.44" y2="362.27" stroke="#404040" stroke-width="1.15"/>
<line x1="611.94" y1="359.28" x2="632.63" y2="367.69" stroke="#b0303a" stroke-width="1.15"/>
<line x1="610.98" y1="361.6" x2="624.9" y2="367.45" stroke="#404040" stroke-width="1.15"/>
<line x1="609.99" y1="363.91" x2="623.8" y2="369.91" stroke="#404040" stroke-width="1.15"/>
<line x1="608.97" y1="366.21" x2="621.46" y2="371.82" stroke="#404040" stroke-width="1.15"/>
<line x1="607.63" y1="369.15" x2="627.33" y2="378.35" stroke="#e6c840" stroke-width="1.15"/>
<line x1="606.57" y1="371.39" x2="627.41" y2="381.42" stroke="#e6c840" stroke-width="1.15"/>
<line x1="605.48" y1="373.61" x2="620.12" y2="380.86" stroke="#e6c840" stroke-width="1.15"/>
<line x1="604.37" y1="375.82" x2="623.84" y2="385.76" stroke="#e6c840" stroke-width="1.15"/>
<line x1="603.24" y1="378.01" x2="626.56" y2="390.27" stroke="#e6c840" stroke-width="1.15"/>
<line x1="602.07" y1="380.2" x2="615.47" y2="387.43" stroke="#404040" stroke-width="1.15"/>
<line x1="600.88" y1="382.36" x2="612.81" y2="388.99" stroke="#404040" stroke-width="1.15"/>
<line x1="599.67" y1="384.52" x2="620.52" y2="396.43" stroke="#e6c840" stroke-width="1.15"/>
<line x1="598.43" y1="386.66" x2="615.13" y2="396.45" stroke="#e6c840" stroke-width="1.15"/>
<line x1="597.17" y1="388.79" x2="618.34" y2="401.54" stroke="#e6c840" stroke-width="1.15"/>
<line x1="595.88" y1="390.9" x2="612.76" y2="401.34" stroke="#e6c840" stroke-width="1.15"/>
<line x1="594.57" y1="392.99" x2="607.37" y2="401.12" stroke="#404040" stroke-width="1.15"/>
<line x1="593.23" y1="395.07" x2="606.62" y2="403.79" stroke="#404040" stroke-width="1.15"/>
<line x1="591.87" y1="397.14" x2="611.18" y2="410.04" stroke="#e6c840" stroke-width="1.15"/>
<line x1="590.48" y1="399.19" x2="611.67" y2="413.71" stroke="#e6c840" stroke-width="1.15"/>
<line x1="589.07" y1="401.22" x2="601.64" y2="410.05" stroke="#404040" stroke-width="1.15"/>
<line x1="587.64" y1="403.23" x2="601.31" y2="413.08" stroke="#e6c840" stroke-width="1.15"/>
<line x1="586.18" y1="405.23" x2="597.95" y2="413.92" stroke="#404040" stroke-width="1.15"/>
<line x1="584.7" y1="407.21" x2="597.37" y2="416.79" stroke="#404040" stroke-width="1.15"/>
<line x1="583.2" y1="409.18" x2="601.62" y2="423.45" stroke="#e6c840" stroke-width="1.15"/>
<line x1="581.67" y1="411.12" x2="600.4" y2="425.99" stroke="#e6c840" stroke-width="1.15"/>
<line x1="580.12" y1="413.05" x2="591.44" y2="422.25" stroke="#404040" stroke-width="1.15"/>
<line x1="578.55" y1="414.96" x2="600.3" y2="433.07" stroke="#e6c840" stroke-width="1.15"/>
<line x1="576.96" y1="416.85" x2="587.75" y2="426.05" stroke="#404040" stroke-width="1.15"/>
<line x1="575.34" y1="418.73" x2="587.53" y2="429.37" stroke="#e6c840" stroke-width="1.15"/>
<line x1="573.71" y1="420.58" x2="584.1" y2="429.87" stroke="#404040" stroke-width="1.15"/>
<line x1="572.05" y1="422.41" x2="582.41" y2="431.9" stroke="#404040" stroke-width="1.15"/>
<line x1="570.37" y1="424.23" x2="582.35" y2="435.45" stroke="#e6c840" stroke-width="1.15"/>
<line x1="568.67" y1="426.02" x2="590.11" y2="446.58" stroke="#e6c840" stroke-width="1.15"/>
<line x1="566.94" y1="427.8" x2="577.13" y2="437.8" stroke="#404040" stroke-width="1.15"/>
<line x1="564.74" y1="430.02" x2="586.01" y2="451.53" stroke="#e4386a" stroke-width="1.15"/>
<line x1="563.09" y1="431.63" x2="578.82" y2="447.89" stroke="#e4386a" stroke-width="1.15"/>
<line x1="561.42" y1="433.23" x2="581.34" y2="454.26" stroke="#e4386a" stroke-width="1.15"/>
<line x1="559.74" y1="434.8" x2="574.11" y2="450.31" stroke="#e4386a" stroke-width="1.15"/>
<line x1="557.41" y1="436.92" x2="573.69" y2="455.03" stroke="#f4a85a" stroke-width="1.15"/>
<line x1="555.53" y1="438.59" x2="568.16" y2="452.98" stroke="#f4a85a" stroke-width="1.15"/>
<line x1="553.63" y1="440.24" x2="562.66" y2="450.77" stroke="#404040" stroke-width="1.15"/>
<line x1="551.72" y1="441.86" x2="560.53" y2="452.4" stroke="#404040" stroke-width="1.15"/>
<line x1="549.78" y1="443.46" x2="561.81" y2="458.19" stroke="#f4a85a" stroke-width="1.15"/>
<line x1="547.83" y1="445.04" x2="557" y2="456.55" stroke="#404040" stroke-width="1.15"/>
<line x1="545.85" y1="446.6" x2="554.34" y2="457.5" stroke="#404040" stroke-width="1.15"/>
<line x1="543.86" y1="448.13" x2="560.1" y2="469.53" stroke="#f4a85a" stroke-width="1.15"/>
<line x1="541.85" y1="449.63" x2="550.36" y2="461.13" stroke="#404040" stroke-width="1.15"/>
<line x1="539.82" y1="451.12" x2="552.25" y2="468.32" stroke="#f4a85a" stroke-width="1.15"/>
<line x1="537.78" y1="452.57" x2="549.09" y2="468.64" stroke="#f4a85a" stroke-width="1.15"/>
<line x1="535.71" y1="454.01" x2="544.65" y2="467.03" stroke="#404040" stroke-width="1.15"/>
<line x1="533.63" y1="455.42" x2="541.75" y2="467.55" stroke="#404040" stroke-width="1.15"/>
<line x1="531.54" y1="456.8" x2="540.8" y2="471" stroke="#f4a85a" stroke-width="1.15"/>
<line x1="529.43" y1="458.16" x2="542" y2="477.95" stroke="#f4a85a" stroke-width="1.15"/>
<line x1="527.3" y1="459.5" x2="535.56" y2="472.86" stroke="#404040" stroke-width="1.15"/>
<line x1="525.15" y1="460.81" x2="533.26" y2="474.27" stroke="#404040" stroke-width="1.15"/>
<line x1="522.99" y1="462.09" x2="530.43" y2="474.76" stroke="#404040" stroke-width="1.15"/>
<line x1="520.82" y1="463.35" x2="527.55" y2="475.15" stroke="#404040" stroke-width="1.15"/>
<line x1="518.63" y1="464.58" x2="525.29" y2="476.58" stroke="#404040" stroke-width="1.15"/>
<line x1="516.43" y1="465.79" x2="526.86" y2="485.12" stroke="#f4a85a" stroke-width="1.15"/>
<line x1="514.21" y1="466.97" x2="528.59" y2="494.4" stroke="#f4a85a" stroke-width="1.15"/>
<line x1="511.98" y1="468.12" x2="520.01" y2="483.89" stroke="#f4a85a" stroke-width="1.15"/>
<line x1="509.73" y1="469.25" x2="516.65" y2="483.24" stroke="#404040" stroke-width="1.15"/>
<line x1="507.47" y1="470.35" x2="519.77" y2="495.99" stroke="#f4a85a" stroke-width="1.15"/>
<line x1="505.2" y1="471.42" x2="517.11" y2="497.02" stroke="#f4a85a" stroke-width="1.15"/>
<line x1="502.92" y1="472.47" x2="508.87" y2="485.68" stroke="#404040" stroke-width="1.15"/>
<line x1="500.62" y1="473.48" x2="506.39" y2="486.71" stroke="#404040" stroke-width="1.15"/>
<line x1="498.31" y1="474.48" x2="508.92" y2="499.6" stroke="#f4a85a" stroke-width="1.15"/>
<line x1="495.99" y1="475.44" x2="501.93" y2="489.97" stroke="#404040" stroke-width="1.15"/>
<line x1="493.66" y1="476.38" x2="502.72" y2="499.33" stroke="#f4a85a" stroke-width="1.15"/>
<line x1="491.32" y1="477.28" x2="498.34" y2="495.71" stroke="#f4a85a" stroke-width="1.15"/>
<line x1="488.96" y1="478.17" x2="494.28" y2="492.63" stroke="#404040" stroke-width="1.15"/>
<line x1="486.6" y1="479.02" x2="496.18" y2="506.05" stroke="#f4a85a" stroke-width="1.15"/>
<line x1="484.23" y1="479.84" x2="488.83" y2="493.34" stroke="#404040" stroke-width="1.15"/>
<line x1="481.85" y1="480.64" x2="486.62" y2="495.22" stroke="#404040" stroke-width="1.15"/>
<line x1="479.45" y1="481.41" x2="484.24" y2="496.62" stroke="#404040" stroke-width="1.15"/>
<line x1="477.05" y1="482.15" x2="481.49" y2="496.86" stroke="#404040" stroke-width="1.15"/>
<line x1="474.64" y1="482.86" x2="482.93" y2="511.56" stroke="#f4a85a" stroke-width="1.15"/>
<line x1="472.23" y1="483.54" x2="476.01" y2="497.28" stroke="#404040" stroke-width="1.15"/>
<line x1="469.8" y1="484.19" x2="473.55" y2="498.44" stroke="#404040" stroke-width="1.15"/>
<line x1="467.37" y1="484.82" x2="473.41" y2="508.95" stroke="#f4a85a" stroke-width="1.15"/>
<line x1="464.93" y1="485.41" x2="468.23" y2="499.32" stroke="#404040" stroke-width="1.15"/>
<line x1="462.48" y1="485.98" x2="465.72" y2="500.37" stroke="#404040" stroke-width="1.15"/>
<line x1="460.02" y1="486.52" x2="463.28" y2="501.82" stroke="#404040" stroke-width="1.15"/>
<line x1="457.56" y1="487.03" x2="462.62" y2="512.24" stroke="#f4a85a" stroke-width="1.15"/>
<line x1="455.1" y1="487.5" x2="457.96" y2="502.74" stroke="#404040" stroke-width="1.15"/>
<line x1="452.63" y1="487.95" x2="456.44" y2="509.64" stroke="#f4a85a" stroke-width="1.15"/>
<line x1="450.15" y1="488.37" x2="454.78" y2="516.66" stroke="#f4a85a" stroke-width="1.15"/>
<line x1="447.67" y1="488.77" x2="449.97" y2="503.96" stroke="#404040" stroke-width="1.15"/>
<line x1="445.18" y1="489.13" x2="447.3" y2="504.31" stroke="#404040" stroke-width="1.15"/>
<line x1="442.69" y1="489.46" x2="444.5" y2="503.67" stroke="#404040" stroke-width="1.15"/>
<line x1="440.2" y1="489.76" x2="442.07" y2="506.01" stroke="#f4a85a" stroke-width="1.15"/>
<line x1="437.7" y1="490.03" x2="439.18" y2="504.37" stroke="#404040" stroke-width="1.15"/>
<line x1="435.2" y1="490.28" x2="437.73" y2="518.05" stroke="#f4a85a" stroke-width="1.15"/>
<line x1="432.7" y1="490.49" x2="435.12" y2="521.08" stroke="#f4a85a" stroke-width="1.15"/>
<line x1="430.19" y1="490.67" x2="431.24" y2="506.27" stroke="#404040" stroke-width="1.15"/>
<line x1="427.68" y1="490.83" x2="428.49" y2="505.37" stroke="#404040" stroke-width="1.15"/>
<line x1="425.17" y1="490.95" x2="426.44" y2="520.07" stroke="#f4a85a" stroke-width="1.15"/>
<line x1="422.66" y1="491.05" x2="423.29" y2="510.99" stroke="#f4a85a" stroke-width="1.15"/>
<line x1="420.15" y1="491.11" x2="420.43" y2="505.38" stroke="#404040" stroke-width="1.15"/>
<line x1="417.64" y1="491.14" x2="417.75" y2="505.22" stroke="#404040" stroke-width="1.15"/>
<line x1="415.13" y1="491.15" x2="415.04" y2="513.06" stroke="#f4a85a" stroke-width="1.15"/>
<line x1="412.62" y1="491.12" x2="412.38" y2="505.53" stroke="#404040" stroke-width="1.15"/>
<line x1="410.1" y1="491.07" x2="409.71" y2="505.25" stroke="#404040" stroke-width="1.15"/>
<line x1="407.59" y1="490.98" x2="406.65" y2="514.71" stroke="#f4a85a" stroke-width="1.15"/>
<line x1="405.08" y1="490.87" x2="404.02" y2="511.43" stroke="#f4a85a" stroke-width="1.15"/>
<line x1="402.57" y1="490.72" x2="401.71" y2="504.4" stroke="#404040" stroke-width="1.15"/>
<line x1="400.07" y1="490.55" x2="398.27" y2="514.38" stroke="#f4a85a" stroke-width="1.15"/>
<line x1="397.56" y1="490.35" x2="396.39" y2="503.8" stroke="#404040" stroke-width="1.15"/>
<line x1="395.06" y1="490.11" x2="393.52" y2="505.64" stroke="#404040" stroke-width="1.15"/>
<line x1="392.57" y1="489.85" x2="389.73" y2="515.26" stroke="#f4a85a" stroke-width="1.15"/>
<line x1="390.07" y1="489.55" x2="388.36" y2="503.4" stroke="#404040" stroke-width="1.15"/>
<line x1="387.58" y1="489.23" x2="385.76" y2="502.62" stroke="#404040" stroke-width="1.15"/>
<line x1="385.09" y1="488.88" x2="382.49" y2="506.49" stroke="#f4a85a" stroke-width="1.15"/>
<line x1="382.61" y1="488.5" x2="378.83" y2="512.12" stroke="#f4a85a" stroke-width="1.15"/>
<line x1="380.13" y1="488.09" x2="377.67" y2="502.4" stroke="#404040" stroke-width="1.15"/>
<line x1="377.66" y1="487.65" x2="372.72" y2="514.41" stroke="#f4a85a" stroke-width="1.15"/>
<line x1="375.19" y1="487.18" x2="372.41" y2="501.31" stroke="#404040" stroke-width="1.15"/>
<line x1="372.73" y1="486.68" x2="369.26" y2="503.24" stroke="#f4a85a" stroke-width="1.15"/>
<line x1="370.27" y1="486.15" x2="367.09" y2="500.52" stroke="#404040" stroke-width="1.15"/>
<line x1="367.82" y1="485.59" x2="364.67" y2="499.06" stroke="#404040" stroke-width="1.15"/>
<line x1="365.38" y1="485" x2="362.04" y2="498.54" stroke="#404040" stroke-width="1.15"/>
<line x1="362.94" y1="484.39" x2="356.35" y2="509.84" stroke="#f4a85a" stroke-width="1.15"/>
<line x1="360.51" y1="483.74" x2="356.48" y2="498.57" stroke="#404040" stroke-width="1.15"/>
<line x1="358.09" y1="483.07" x2="353.77" y2="498.26" stroke="#404040" stroke-width="1.15"/>
<line x1="355.68" y1="482.37" x2="350.13" y2="501.01" stroke="#f4a85a" stroke-width="1.15"/>
<line x1="353.28" y1="481.64" x2="348.94" y2="495.59" stroke="#404040" stroke-width="1.15"/>
<line x1="350.88" y1="480.88" x2="343.63" y2="503.29" stroke="#f4a85a" stroke-width="1.15"/>
<line x1="348.5" y1="480.09" x2="343.98" y2="493.5" stroke="#404040" stroke-width="1.15"/>
<line x1="346.12" y1="479.27" x2="341.49" y2="492.5" stroke="#404040" stroke-width="1.15"/>
<line x1="343.76" y1="478.43" x2="338.23" y2="493.63" stroke="#f4a85a" stroke-width="1.15"/>
<line x1="341.4" y1="477.56" x2="336.52" y2="490.49" stroke="#404040" stroke-width="1.15"/>
<line x1="339.05" y1="476.66" x2="330.15" y2="499.46" stroke="#f4a85a" stroke-width="1.15"/>
<line x1="336.72" y1="475.73" x2="325.8" y2="502.74" stroke="#f4a85a" stroke-width="1.15"/>
<line x1="334.4" y1="474.77" x2="326.21" y2="494.35" stroke="#f4a85a" stroke-width="1.15"/>
<line x1="332.08" y1="473.79" x2="326.67" y2="486.32" stroke="#404040" stroke-width="1.15"/>
<line x1="329.78" y1="472.78" x2="319.23" y2="496.43" stroke="#f4a85a" stroke-width="1.15"/>
<line x1="327.5" y1="471.74" x2="320.88" y2="486.1" stroke="#404040" stroke-width="1.15"/>
<line x1="325.22" y1="470.68" x2="315.28" y2="491.6" stroke="#f4a85a" stroke-width="1.15"/>
<line x1="322.96" y1="469.59" x2="316.05" y2="483.68" stroke="#404040" stroke-width="1.15"/>
<line x1="320.71" y1="468.47" x2="310.43" y2="488.83" stroke="#f4a85a" stroke-width="1.15"/>
<line x1="318.47" y1="467.32" x2="311.5" y2="480.74" stroke="#404040" stroke-width="1.15"/>
<line x1="315.6" y1="465.8" x2="306.75" y2="482.19" stroke="#e49445" stroke-width="1.15"/>
<line x1="313.39" y1="464.59" x2="306.66" y2="476.72" stroke="#404040" stroke-width="1.15"/>
<line x1="311.2" y1="463.36" x2="304.03" y2="475.92" stroke="#404040" stroke-width="1.15"/>
<line x1="309.02" y1="462.1" x2="294.8" y2="486.35" stroke="#e49445" stroke-width="1.15"/>
<line x1="306.85" y1="460.81" x2="291.1" y2="486.96" stroke="#e49445" stroke-width="1.15"/>
<line x1="304.71" y1="459.5" x2="296.52" y2="472.73" stroke="#404040" stroke-width="1.15"/>
<line x1="302.57" y1="458.16" x2="295.16" y2="469.82" stroke="#404040" stroke-width="1.15"/>
<line x1="300.46" y1="456.8" x2="284.37" y2="481.46" stroke="#e49445" stroke-width="1.15"/>
<line x1="298.36" y1="455.41" x2="290.28" y2="467.48" stroke="#404040" stroke-width="1.15"/>
<line x1="296.27" y1="454" x2="288.5" y2="465.33" stroke="#404040" stroke-width="1.15"/>
<line x1="294.21" y1="452.56" x2="285.32" y2="465.18" stroke="#404040" stroke-width="1.15"/>
<line x1="292.16" y1="451.1" x2="282.96" y2="463.84" stroke="#404040" stroke-width="1.15"/>
<line x1="290.13" y1="449.62" x2="275.27" y2="469.68" stroke="#e49445" stroke-width="1.15"/>
<line x1="288.11" y1="448.11" x2="279.85" y2="458.99" stroke="#404040" stroke-width="1.15"/>
<line x1="286.12" y1="446.57" x2="268.53" y2="469.17" stroke="#e49445" stroke-width="1.15"/>
<line x1="284.14" y1="445.01" x2="266.27" y2="467.43" stroke="#e49445" stroke-width="1.15"/>
<line x1="282.18" y1="443.43" x2="267.84" y2="460.99" stroke="#e49445" stroke-width="1.15"/>
<line x1="280.24" y1="441.83" x2="260.41" y2="465.52" stroke="#e49445" stroke-width="1.15"/>
<line x1="278.32" y1="440.2" x2="267" y2="453.41" stroke="#e49445" stroke-width="1.15"/>
<line x1="276.42" y1="438.55" x2="256.76" y2="460.94" stroke="#e49445" stroke-width="1.15"/>
<line x1="274.54" y1="436.88" x2="264.83" y2="447.67" stroke="#404040" stroke-width="1.15"/>
<line x1="272.68" y1="435.19" x2="255.08" y2="454.29" stroke="#e49445" stroke-width="1.15"/>
<line x1="270.84" y1="433.47" x2="260.64" y2="444.28" stroke="#404040" stroke-width="1.15"/>
<line x1="269.02" y1="431.73" x2="256.61" y2="444.57" stroke="#e49445" stroke-width="1.15"/>
<line x1="267.22" y1="429.97" x2="256.38" y2="440.93" stroke="#404040" stroke-width="1.15"/>
<line x1="265.44" y1="428.19" x2="254.73" y2="438.76" stroke="#404040" stroke-width="1.15"/>
<line x1="263.68" y1="426.39" x2="253" y2="436.68" stroke="#404040" stroke-width="1.15"/>
<line x1="261.95" y1="424.57" x2="251.33" y2="434.55" stroke="#404040" stroke-width="1.15"/>
<line x1="260.24" y1="422.72" x2="248.33" y2="433.66" stroke="#e49445" stroke-width="1.15"/>
<line x1="258.54" y1="420.86" x2="236.38" y2="440.73" stroke="#e49445" stroke-width="1.15"/>
<line x1="256.88" y1="418.98" x2="246.62" y2="427.95" stroke="#404040" stroke-width="1.15"/>
<line x1="255.23" y1="417.07" x2="233.94" y2="435.27" stroke="#e49445" stroke-width="1.15"/>
<line x1="253.6" y1="415.15" x2="242.46" y2="424.45" stroke="#404040" stroke-width="1.15"/>
<line x1="252" y1="413.21" x2="231.06" y2="430.27" stroke="#e49445" stroke-width="1.15"/>
<line x1="250.43" y1="411.25" x2="227.06" y2="429.82" stroke="#e49445" stroke-width="1.15"/>
<line x1="248.87" y1="409.27" x2="234" y2="420.8" stroke="#e49445" stroke-width="1.15"/>
<line x1="247.34" y1="407.27" x2="227.28" y2="422.45" stroke="#e49445" stroke-width="1.15"/>
<line x1="245.83" y1="405.25" x2="229.24" y2="417.5" stroke="#e49445" stroke-width="1.15"/>
<line x1="244.35" y1="403.22" x2="233.39" y2="411.11" stroke="#404040" stroke-width="1.15"/>
<line x1="242.89" y1="401.17" x2="222.24" y2="415.67" stroke="#e49445" stroke-width="1.15"/>
<line x1="241.46" y1="399.1" x2="229.2" y2="407.49" stroke="#404040" stroke-width="1.15"/>
<line x1="240.05" y1="397.01" x2="223.43" y2="408.1" stroke="#e49445" stroke-width="1.15"/>
<line x1="238.67" y1="394.91" x2="226.48" y2="402.83" stroke="#404040" stroke-width="1.15"/>
<line x1="237.31" y1="392.79" x2="224.41" y2="400.96" stroke="#404040" stroke-width="1.15"/>
<line x1="235.97" y1="390.66" x2="220.27" y2="400.35" stroke="#e49445" stroke-width="1.15"/>
<line x1="234.67" y1="388.51" x2="218.1" y2="398.46" stroke="#e49445" stroke-width="1.15"/>
<line x1="233.38" y1="386.34" x2="219.33" y2="394.55" stroke="#e49445" stroke-width="1.15"/>
<line x1="232.13" y1="384.16" x2="218.48" y2="391.92" stroke="#404040" stroke-width="1.15"/>
<line x1="230.9" y1="381.97" x2="217.38" y2="389.44" stroke="#404040" stroke-width="1.15"/>
<line x1="229.69" y1="379.76" x2="202.61" y2="394.31" stroke="#e49445" stroke-width="1.15"/>
<line x1="228.51" y1="377.53" x2="214.81" y2="384.69" stroke="#404040" stroke-width="1.15"/>
<line x1="227.36" y1="375.3" x2="200.27" y2="389.03" stroke="#e49445" stroke-width="1.15"/>
<line x1="226.24" y1="373.04" x2="213.02" y2="379.55" stroke="#404040" stroke-width="1.15"/>
<line x1="225.14" y1="370.78" x2="211.84" y2="377.13" stroke="#404040" stroke-width="1.15"/>
<line x1="224.07" y1="368.5" x2="211" y2="374.55" stroke="#404040" stroke-width="1.15"/>
<line x1="223.02" y1="366.21" x2="202.48" y2="375.42" stroke="#e49445" stroke-width="1.15"/>
<line x1="222.01" y1="363.91" x2="208.62" y2="369.72" stroke="#404040" stroke-width="1.15"/>
<line x1="221.02" y1="361.59" x2="198.68" y2="370.98" stroke="#e49445" stroke-width="1.15"/>
<line x1="220.06" y1="359.27" x2="207.54" y2="364.36" stroke="#404040" stroke-width="1.15"/>
<line x1="219.12" y1="356.93" x2="197.89" y2="365.27" stroke="#e49445" stroke-width="1.15"/>
<line x1="218.22" y1="354.58" x2="196.22" y2="362.92" stroke="#e49445" stroke-width="1.15"/>
<line x1="217.34" y1="352.22" x2="204.27" y2="357" stroke="#404040" stroke-width="1.15"/>
<line x1="216.49" y1="349.85" x2="203.03" y2="354.59" stroke="#404040" stroke-width="1.15"/>
<line x1="215.67" y1="347.48" x2="202.4" y2="351.97" stroke="#404040" stroke-width="1.15"/>
<line x1="214.88" y1="345.09" x2="197.79" y2="350.65" stroke="#e49445" stroke-width="1.15"/>
<line x1="214.11" y1="342.69" x2="185.96" y2="351.48" stroke="#e49445" stroke-width="1.15"/>
<line x1="213.38" y1="340.28" x2="199.54" y2="344.42" stroke="#404040" stroke-width="1.15"/>
<line x1="212.67" y1="337.87" x2="199.59" y2="341.61" stroke="#404040" stroke-width="1.15"/>
<line x1="211.99" y1="335.44" x2="192.96" y2="340.65" stroke="#e49445" stroke-width="1.15"/>
<line x1="211.34" y1="333.01" x2="189.06" y2="338.82" stroke="#e49445" stroke-width="1.15"/>
<line x1="210.72" y1="330.57" x2="188.04" y2="336.2" stroke="#e49445" stroke-width="1.15"/>
<line x1="210.13" y1="328.13" x2="194.02" y2="331.92" stroke="#e49445" stroke-width="1.15"/>
<line x1="209.57" y1="325.67" x2="180.79" y2="332.09" stroke="#e49445" stroke-width="1.15"/>
<line x1="209.03" y1="323.21" x2="195.68" y2="326.02" stroke="#404040" stroke-width="1.15"/>
<line x1="208.53" y1="320.75" x2="193.91" y2="323.64" stroke="#404040" stroke-width="1.15"/>
<line x1="208.06" y1="318.28" x2="180.78" y2="323.34" stroke="#e49445" stroke-width="1.15"/>
<line x1="207.61" y1="315.8" x2="193.95" y2="318.17" stroke="#404040" stroke-width="1.15"/>
<line x1="207.2" y1="313.32" x2="192.92" y2="315.62" stroke="#404040" stroke-width="1.15"/>
<line x1="206.81" y1="310.83" x2="182.75" y2="314.42" stroke="#e49445" stroke-width="1.15"/>
<line x1="206.45" y1="308.34" x2="190.49" y2="310.52" stroke="#e49445" stroke-width="1.15"/>
<line x1="206.13" y1="305.84" x2="187.64" y2="308.15" stroke="#e49445" stroke-width="1.15"/>
<line x1="205.83" y1="303.34" x2="191.42" y2="304.97" stroke="#404040" stroke-width="1.15"/>
<line x1="205.56" y1="300.84" x2="184.28" y2="302.98" stroke="#e49445" stroke-width="1.15"/>
<line x1="205.33" y1="298.33" x2="190.96" y2="299.61" stroke="#404040" stroke-width="1.15"/>
<line x1="205.12" y1="295.83" x2="189.48" y2="297.03" stroke="#404040" stroke-width="1.15"/>
<line x1="204.94" y1="293.32" x2="189.11" y2="294.34" stroke="#404040" stroke-width="1.15"/>
<line x1="204.79" y1="290.8" x2="190.49" y2="291.56" stroke="#404040" stroke-width="1.15"/>
<line x1="204.68" y1="288.29" x2="176.09" y2="289.46" stroke="#e49445" stroke-width="1.15"/>
<line x1="204.59" y1="285.77" x2="189.3" y2="286.22" stroke="#404040" stroke-width="1.15"/>
<line x1="204.53" y1="283.26" x2="190.66" y2="283.49" stroke="#404040" stroke-width="1.15"/>
<line x1="204.5" y1="280.74" x2="177.31" y2="280.88" stroke="#e49445" stroke-width="1.15"/>
<line x1="204.5" y1="278.22" x2="189.44" y2="278.12" stroke="#404040" stroke-width="1.15"/>
<line x1="204.54" y1="275.71" x2="190.43" y2="275.44" stroke="#404040" stroke-width="1.15"/>
<line x1="204.6" y1="273.19" x2="181.35" y2="272.48" stroke="#e49445" stroke-width="1.15"/>
<line x1="204.69" y1="270.68" x2="188.37" y2="269.98" stroke="#e49445" stroke-width="1.15"/>
<line x1="204.81" y1="268.16" x2="180.61" y2="266.85" stroke="#e49445" stroke-width="1.15"/>
<line x1="204.96" y1="265.65" x2="190.29" y2="264.68" stroke="#404040" stroke-width="1.15"/>
<line x1="205.15" y1="263.14" x2="190.19" y2="261.97" stroke="#404040" stroke-width="1.15"/>
<line x1="205.36" y1="260.63" x2="189.82" y2="259.23" stroke="#404040" stroke-width="1.15"/>
<line x1="205.6" y1="258.13" x2="182.12" y2="255.72" stroke="#e49445" stroke-width="1.15"/>
<line x1="205.87" y1="255.62" x2="190.66" y2="253.88" stroke="#404040" stroke-width="1.15"/>
<line x1="206.17" y1="253.13" x2="179.82" y2="249.79" stroke="#e49445" stroke-width="1.15"/>
<line x1="206.5" y1="250.63" x2="184.59" y2="247.59" stroke="#e49445" stroke-width="1.15"/>
<line x1="206.86" y1="248.14" x2="182.08" y2="244.41" stroke="#e49445" stroke-width="1.15"/>
<line x1="207.25" y1="245.65" x2="189.54" y2="242.77" stroke="#e49445" stroke-width="1.15"/>
<line x1="207.67" y1="243.17" x2="181.01" y2="238.5" stroke="#e49445" stroke-width="1.15"/>
<line x1="208.12" y1="240.69" x2="192.52" y2="237.77" stroke="#404040" stroke-width="1.15"/>
<line x1="208.6" y1="238.22" x2="194.75" y2="235.46" stroke="#404040" stroke-width="1.15"/>
<line x1="209.1" y1="235.76" x2="193.54" y2="232.46" stroke="#404040" stroke-width="1.15"/>
<line x1="209.64" y1="233.3" x2="195.37" y2="230.09" stroke="#404040" stroke-width="1.15"/>
<line x1="210.21" y1="230.85" x2="190.63" y2="226.21" stroke="#e49445" stroke-width="1.15"/>
<line x1="210.8" y1="228.4" x2="187.12" y2="222.49" stroke="#e49445" stroke-width="1.15"/>
<line x1="211.43" y1="225.96" x2="196.17" y2="221.96" stroke="#404040" stroke-width="1.15"/>
<line x1="212.08" y1="223.53" x2="186.24" y2="216.42" stroke="#e49445" stroke-width="1.15"/>
<line x1="212.76" y1="221.11" x2="197.75" y2="216.79" stroke="#404040" stroke-width="1.15"/>
<line x1="213.47" y1="218.7" x2="197.83" y2="213.99" stroke="#e49445" stroke-width="1.15"/>
<line x1="214.21" y1="216.29" x2="192.7" y2="209.54" stroke="#e49445" stroke-width="1.15"/>
<line x1="214.98" y1="213.89" x2="188.73" y2="205.31" stroke="#e49445" stroke-width="1.15"/>
<line x1="215.78" y1="211.51" x2="196.15" y2="204.83" stroke="#e49445" stroke-width="1.15"/>
<line x1="216.6" y1="209.13" x2="200.07" y2="203.28" stroke="#e49445" stroke-width="1.15"/>
<line x1="217.46" y1="206.76" x2="189.92" y2="196.65" stroke="#e49445" stroke-width="1.15"/>
<line x1="379.27" y1="487.94" x2="373.2" y2="522.41" stroke="#e8d020" stroke-width="1.35"/>
<path d="M187.31,150.79 A262.5,262.5 0 0 1 192.18,142.49 L197.13,145.52 A256.7,256.7 0 0 0 192.36,153.64 Z" fill="#a3acab"/>
<path d="M192.18,142.49 A262.5,262.5 0 0 1 198.38,132.86 L203.19,136.11 A256.7,256.7 0 0 0 197.13,145.52 Z" fill="#2fb67f"/>
<path d="M198.38,132.86 A262.5,262.5 0 0 1 290.75,48.96 L293.51,54.06 A256.7,256.7 0 0 0 203.19,136.11 Z" fill="#3a9282"/>
<path d="M290.75,48.96 A262.5,262.5 0 0 1 359.63,23.27 L360.88,28.94 A256.7,256.7 0 0 0 293.51,54.06 Z" fill="#3cb44b"/>
<path d="M359.63,23.27 A262.5,262.5 0 0 1 415.54,17.15 L415.55,22.95 A256.7,256.7 0 0 0 360.88,28.94 Z" fill="#46cff0"/>
<path d="M415.54,17.15 A262.5,262.5 0 0 1 439.79,18.23 L439.27,24.01 A256.7,256.7 0 0 0 415.55,22.95 Z" fill="#3cb44b"/>
<path d="M439.79,18.23 A262.5,262.5 0 0 1 442.53,18.49 L441.94,24.26 A256.7,256.7 0 0 0 439.27,24.01 Z" fill="#c043c4"/>
<path d="M442.53,18.49 A262.5,262.5 0 0 1 481.28,25.4 L479.84,31.01 A256.7,256.7 0 0 0 441.94,24.26 Z" fill="#3cb44b"/>
<path d="M481.28,25.4 A262.5,262.5 0 0 1 492.31,28.49 L490.62,34.04 A256.7,256.7 0 0 0 479.84,31.01 Z" fill="#4262d6"/>
<path d="M492.31,28.49 A262.5,262.5 0 0 1 676.71,249.02 L670.95,249.7 A256.7,256.7 0 0 0 490.62,34.04 Z" fill="#3cb44b"/>
<path d="M676.71,249.02 A262.5,262.5 0 0 1 677.58,257.68 L671.8,258.17 A256.7,256.7 0 0 0 670.95,249.7 Z" fill="#bde63e"/>
<path d="M677.58,257.68 A262.5,262.5 0 0 1 676.91,308.46 L671.15,307.82 A256.7,256.7 0 0 0 671.8,258.17 Z" fill="#e0194d"/>
<path d="M676.54,311.64 A262.5,262.5 0 0 1 654.67,388.92 L649.4,386.51 A256.7,256.7 0 0 0 670.79,310.93 Z" fill="#870000"/>
<path d="M654.67,388.92 A262.5,262.5 0 0 1 601.94,464.94 L597.83,460.85 A256.7,256.7 0 0 0 649.4,386.51 Z" fill="#e1c200"/>
<path d="M601.94,464.94 A262.5,262.5 0 0 1 593,473.49 L589.09,469.21 A256.7,256.7 0 0 0 597.83,460.85 Z" fill="#e0194d"/>
<path d="M593,473.49 A262.5,262.5 0 0 1 372.9,538.59 L373.85,532.87 A256.7,256.7 0 0 0 589.09,469.21 Z" fill="#f07a00"/>
<path d="M372.9,538.59 A262.5,262.5 0 0 1 369.74,538.04 L370.76,532.33 A256.7,256.7 0 0 0 373.85,532.87 Z" fill="#e8cf00"/>
<path d="M369.74,538.04 A262.5,262.5 0 0 1 293.17,511.64 L295.88,506.51 A256.7,256.7 0 0 0 370.76,532.33 Z" fill="#f07a00"/>
<path d="M293.17,511.64 A262.5,262.5 0 0 1 164.97,356.4 L170.52,354.7 A256.7,256.7 0 0 0 295.88,506.51 Z" fill="#c26200"/>
<path d="M164.97,356.4 A262.5,262.5 0 0 1 164.18,353.76 L169.74,352.13 A256.7,256.7 0 0 0 170.52,354.7 Z" fill="#c043c4"/>
<path d="M164.18,353.76 A262.5,262.5 0 0 1 163.42,351.12 L169,349.54 A256.7,256.7 0 0 0 169.74,352.13 Z" fill="#c26200"/>
<path d="M163.42,351.12 A262.5,262.5 0 0 1 162.68,348.47 L168.28,346.95 A256.7,256.7 0 0 0 169,349.54 Z" fill="#c043c4"/>
<path d="M162.68,348.47 A262.5,262.5 0 0 1 170.28,187.29 L175.71,189.33 A256.7,256.7 0 0 0 168.28,346.95 Z" fill="#c26200"/>
<path d="M198.69,120.08 A269.6,269.6 0 0 1 200.43,117.74 L205.47,121.52 A263.3,263.3 0 0 0 203.77,123.81 Z" fill="#dcefff" stroke="#56606a" stroke-width="0.45"/>
<path d="M202.66,114.82 A269.6,269.6 0 0 1 204.45,112.52 L209.4,116.43 A263.3,263.3 0 0 0 207.64,118.67 Z" fill="#000000" stroke="#56606a" stroke-width="0.45"/>
<path d="M204.69,112.23 A269.6,269.6 0 0 1 206.51,109.95 L211.41,113.91 A263.3,263.3 0 0 0 209.62,116.14 Z" fill="#dcefff" stroke="#56606a" stroke-width="0.45"/>
<path d="M206.75,109.66 A269.6,269.6 0 0 1 208.6,107.4 L213.45,111.43 A263.3,263.3 0 0 0 211.64,113.63 Z" fill="#dcefff" stroke="#56606a" stroke-width="0.45"/>
<path d="M213.74,101.4 A269.6,269.6 0 0 1 215.68,99.22 L220.36,103.43 A263.3,263.3 0 0 0 218.47,105.56 Z" fill="#dcefff" stroke="#56606a" stroke-width="0.45"/>
<path d="M222.36,92.07 A269.6,269.6 0 0 1 224.4,89.98 L228.88,94.41 A263.3,263.3 0 0 0 226.89,96.45 Z" fill="#dcefff" stroke="#56606a" stroke-width="0.45"/>
<path d="M226.33,88.05 A269.6,269.6 0 0 1 228.42,86.01 L232.8,90.54 A263.3,263.3 0 0 0 230.76,92.53 Z" fill="#dcefff" stroke="#56606a" stroke-width="0.45"/>
<path d="M260.56,59.37 A269.6,269.6 0 0 1 262.95,57.71 L266.52,62.89 A263.3,263.3 0 0 0 264.19,64.52 Z" fill="#6b1532" stroke="#56606a" stroke-width="0.45"/>
<path d="M284.84,44.1 A269.6,269.6 0 0 1 287.4,42.7 L290.4,48.24 A263.3,263.3 0 0 0 287.91,49.61 Z" fill="#1a87e6" stroke="#56606a" stroke-width="0.45"/>
<path d="M292.39,40.06 A269.6,269.6 0 0 1 294.99,38.73 L297.82,44.36 A263.3,263.3 0 0 0 295.28,45.66 Z" fill="#dcefff" stroke="#56606a" stroke-width="0.45"/>
<path d="M295.45,38.5 A269.6,269.6 0 0 1 298.07,37.21 L300.82,42.88 A263.3,263.3 0 0 0 298.27,44.14 Z" fill="#dcefff" stroke="#56606a" stroke-width="0.45"/>
<path d="M300.4,36.09 A269.6,269.6 0 0 1 303.04,34.85 L305.68,40.57 A263.3,263.3 0 0 0 303.1,41.78 Z" fill="#dcefff" stroke="#56606a" stroke-width="0.45"/>
<path d="M303.51,34.64 A269.6,269.6 0 0 1 306.17,33.43 L308.74,39.19 A263.3,263.3 0 0 0 306.14,40.36 Z" fill="#dcefff" stroke="#56606a" stroke-width="0.45"/>
<path d="M308.07,32.6 A269.6,269.6 0 0 1 310.75,31.45 L313.21,37.25 A263.3,263.3 0 0 0 310.59,38.37 Z" fill="#1a87e6" stroke="#56606a" stroke-width="0.45"/>
<path d="M311.83,30.99 A269.6,269.6 0 0 1 314.53,29.88 L316.9,35.71 A263.3,263.3 0 0 0 314.26,36.8 Z" fill="#84d4c8" stroke="#56606a" stroke-width="0.45"/>
<path d="M314.96,29.7 A269.6,269.6 0 0 1 317.67,28.62 L319.97,34.49 A263.3,263.3 0 0 0 317.32,35.54 Z" fill="#1a87e6" stroke="#56606a" stroke-width="0.45"/>
<path d="M318.11,28.45 A269.6,269.6 0 0 1 320.84,27.4 L323.06,33.3 A263.3,263.3 0 0 0 320.4,34.32 Z" fill="#1a87e6" stroke="#56606a" stroke-width="0.45"/>
<path d="M321.32,27.22 A269.6,269.6 0 0 1 324.06,26.21 L326.21,32.13 A263.3,263.3 0 0 0 323.53,33.12 Z" fill="#1a87e6" stroke="#56606a" stroke-width="0.45"/>
<path d="M327.12,25.12 A269.6,269.6 0 0 1 329.87,24.18 L331.89,30.15 A263.3,263.3 0 0 0 329.19,31.07 Z" fill="#1a87e6" stroke="#56606a" stroke-width="0.45"/>
<path d="M330.32,24.03 A269.6,269.6 0 0 1 333.09,23.11 L335.03,29.11 A263.3,263.3 0 0 0 332.32,30 Z" fill="#1a87e6" stroke="#56606a" stroke-width="0.45"/>
<path d="M335.69,22.29 A269.6,269.6 0 0 1 338.48,21.43 L340.29,27.47 A263.3,263.3 0 0 0 337.57,28.3 Z" fill="#1a87e6" stroke="#56606a" stroke-width="0.45"/>
<path d="M341.1,20.66 A269.6,269.6 0 0 1 343.91,19.87 L345.59,25.94 A263.3,263.3 0 0 0 342.85,26.72 Z" fill="#84d4c8" stroke="#56606a" stroke-width="0.45"/>
<path d="M344.36,19.74 A269.6,269.6 0 0 1 347.18,18.98 L348.79,25.07 A263.3,263.3 0 0 0 346.03,25.82 Z" fill="#84d4c8" stroke="#56606a" stroke-width="0.45"/>
<path d="M350.69,18.08 A269.6,269.6 0 0 1 353.52,17.39 L354.98,23.52 A263.3,263.3 0 0 0 352.21,24.19 Z" fill="#1a87e6" stroke="#56606a" stroke-width="0.45"/>
<path d="M353.98,17.28 A269.6,269.6 0 0 1 356.82,16.63 L358.2,22.77 A263.3,263.3 0 0 0 355.43,23.41 Z" fill="#1a87e6" stroke="#56606a" stroke-width="0.45"/>
<path d="M386.7,11.65 A269.6,269.6 0 0 1 389.6,11.35 L390.21,17.62 A263.3,263.3 0 0 0 387.38,17.91 Z" fill="#dcefff" stroke="#56606a" stroke-width="0.45"/>
<path d="M390.07,11.3 A269.6,269.6 0 0 1 392.97,11.04 L393.51,17.31 A263.3,263.3 0 0 0 390.67,17.57 Z" fill="#dcefff" stroke="#56606a" stroke-width="0.45"/>
<path d="M396.02,10.79 A269.6,269.6 0 0 1 398.93,10.59 L399.33,16.88 A263.3,263.3 0 0 0 396.49,17.07 Z" fill="#dcefff" stroke="#56606a" stroke-width="0.45"/>
<path d="M402.64,10.38 A269.6,269.6 0 0 1 405.56,10.25 L405.8,16.55 A263.3,263.3 0 0 0 402.95,16.67 Z" fill="#6b1532" stroke="#56606a" stroke-width="0.45"/>
<path d="M411.72,10.08 A269.6,269.6 0 0 1 414.64,10.05 L414.67,16.35 A263.3,263.3 0 0 0 411.82,16.38 Z" fill="#dcefff" stroke="#56606a" stroke-width="0.45"/>
<path d="M418.54,10.06 A269.6,269.6 0 0 1 421.46,10.11 L421.33,16.4 A263.3,263.3 0 0 0 418.48,16.36 Z" fill="#dcefff" stroke="#56606a" stroke-width="0.45"/>
<path d="M421.93,10.12 A269.6,269.6 0 0 1 424.84,10.2 L424.64,16.49 A263.3,263.3 0 0 0 421.79,16.41 Z" fill="#84d4c8" stroke="#56606a" stroke-width="0.45"/>
<path d="M431.61,10.5 A269.6,269.6 0 0 1 434.52,10.69 L434.09,16.97 A263.3,263.3 0 0 0 431.25,16.79 Z" fill="#1a87e6" stroke="#56606a" stroke-width="0.45"/>
<path d="M437.81,10.93 A269.6,269.6 0 0 1 440.72,11.19 L440.14,17.46 A263.3,263.3 0 0 0 437.3,17.21 Z" fill="#dcefff" stroke="#56606a" stroke-width="0.45"/>
<path d="M442.03,11.31 A269.6,269.6 0 0 1 444.93,11.61 L444.25,17.87 A263.3,263.3 0 0 0 441.42,17.58 Z" fill="#f0ede2" stroke="#56606a" stroke-width="0.45"/>
<path d="M444.51,11.56 A269.6,269.6 0 0 1 447.41,11.89 L446.67,18.14 A263.3,263.3 0 0 0 443.84,17.83 Z" fill="#dcefff" stroke="#56606a" stroke-width="0.45"/>
<path d="M447.87,11.94 A269.6,269.6 0 0 1 450.77,12.3 L449.96,18.55 A263.3,263.3 0 0 0 447.13,18.2 Z" fill="#dcefff" stroke="#56606a" stroke-width="0.45"/>
<path d="M450.72,12.3 A269.6,269.6 0 0 1 453.61,12.69 L452.74,18.93 A263.3,263.3 0 0 0 449.91,18.54 Z" fill="#1a87e6" stroke="#56606a" stroke-width="0.45"/>
<path d="M454.08,12.75 A269.6,269.6 0 0 1 456.97,13.18 L456.01,19.41 A263.3,263.3 0 0 0 453.19,18.99 Z" fill="#1a87e6" stroke="#56606a" stroke-width="0.45"/>
<path d="M457.43,13.25 A269.6,269.6 0 0 1 460.31,13.72 L459.28,19.93 A263.3,263.3 0 0 0 456.46,19.48 Z" fill="#1a87e6" stroke="#56606a" stroke-width="0.45"/>
<path d="M460.78,13.79 A269.6,269.6 0 0 1 463.65,14.29 L462.54,20.5 A263.3,263.3 0 0 0 459.73,20.01 Z" fill="#1a87e6" stroke="#56606a" stroke-width="0.45"/>
<path d="M464.11,14.38 A269.6,269.6 0 0 1 466.98,14.91 L465.79,21.1 A263.3,263.3 0 0 0 462.99,20.58 Z" fill="#1a87e6" stroke="#56606a" stroke-width="0.45"/>
<path d="M469.29,15.37 A269.6,269.6 0 0 1 472.15,15.96 L470.83,22.12 A263.3,263.3 0 0 0 468.04,21.54 Z" fill="#ee84e6" stroke="#56606a" stroke-width="0.45"/>
<path d="M497.92,22.8 A269.6,269.6 0 0 1 500.7,23.7 L498.72,29.68 A263.3,263.3 0 0 0 496.01,28.8 Z" fill="#84d4c8" stroke="#56606a" stroke-width="0.45"/>
<path d="M503.55,24.66 A269.6,269.6 0 0 1 506.3,25.62 L504.19,31.56 A263.3,263.3 0 0 0 501.5,30.62 Z" fill="#6b1532" stroke="#56606a" stroke-width="0.45"/>
<path d="M506.84,25.81 A269.6,269.6 0 0 1 509.58,26.81 L507.39,32.72 A263.3,263.3 0 0 0 504.71,31.75 Z" fill="#e2c696" stroke="#56606a" stroke-width="0.45"/>
<path d="M509.58,26.81 A269.6,269.6 0 0 1 512.31,27.84 L510.06,33.72 A263.3,263.3 0 0 0 507.39,32.72 Z" fill="#dcefff" stroke="#56606a" stroke-width="0.45"/>
<path d="M512.13,27.77 A269.6,269.6 0 0 1 514.85,28.83 L512.54,34.69 A263.3,263.3 0 0 0 509.89,33.66 Z" fill="#b3a553" stroke="#56606a" stroke-width="0.45"/>
<path d="M521.21,31.43 A269.6,269.6 0 0 1 523.89,32.58 L521.37,38.35 A263.3,263.3 0 0 0 518.75,37.23 Z" fill="#dcefff" stroke="#56606a" stroke-width="0.45"/>
<path d="M524.92,33.03 A269.6,269.6 0 0 1 527.59,34.23 L524.98,39.96 A263.3,263.3 0 0 0 522.38,38.8 Z" fill="#dcefff" stroke="#56606a" stroke-width="0.45"/>
<path d="M532.36,36.45 A269.6,269.6 0 0 1 534.99,37.73 L532.21,43.38 A263.3,263.3 0 0 0 529.64,42.14 Z" fill="#1a87e6" stroke="#56606a" stroke-width="0.45"/>
<path d="M534.78,37.62 A269.6,269.6 0 0 1 537.39,38.92 L534.55,44.55 A263.3,263.3 0 0 0 532,43.28 Z" fill="#dcefff" stroke="#56606a" stroke-width="0.45"/>
<path d="M537.22,38.84 A269.6,269.6 0 0 1 539.82,40.17 L536.93,45.76 A263.3,263.3 0 0 0 534.39,44.47 Z" fill="#1a87e6" stroke="#56606a" stroke-width="0.45"/>
<path d="M540.65,40.6 A269.6,269.6 0 0 1 543.23,41.96 L540.26,47.52 A263.3,263.3 0 0 0 537.74,46.18 Z" fill="#1a87e6" stroke="#56606a" stroke-width="0.45"/>
<path d="M543.65,42.18 A269.6,269.6 0 0 1 546.21,43.58 L543.17,49.1 A263.3,263.3 0 0 0 540.67,47.73 Z" fill="#dcefff" stroke="#56606a" stroke-width="0.45"/>
<path d="M546.38,43.67 A269.6,269.6 0 0 1 548.92,45.09 L545.82,50.58 A263.3,263.3 0 0 0 543.33,49.18 Z" fill="#dcefff" stroke="#56606a" stroke-width="0.45"/>
<path d="M549.33,45.33 A269.6,269.6 0 0 1 551.86,46.78 L548.68,52.23 A263.3,263.3 0 0 0 546.21,50.8 Z" fill="#f39330" stroke="#56606a" stroke-width="0.45"/>
<path d="M556.26,49.41 A269.6,269.6 0 0 1 558.75,50.94 L555.41,56.29 A263.3,263.3 0 0 0 552.99,54.79 Z" fill="#6b1532" stroke="#56606a" stroke-width="0.45"/>
<path d="M561.37,52.6 A269.6,269.6 0 0 1 563.82,54.19 L560.37,59.46 A263.3,263.3 0 0 0 557.97,57.91 Z" fill="#dcefff" stroke="#56606a" stroke-width="0.45"/>
<path d="M569.32,57.89 A269.6,269.6 0 0 1 571.71,59.56 L568.07,64.71 A263.3,263.3 0 0 0 565.74,63.07 Z" fill="#dcefff" stroke="#56606a" stroke-width="0.45"/>
<path d="M572.67,60.25 A269.6,269.6 0 0 1 575.04,61.95 L571.32,67.04 A263.3,263.3 0 0 0 569.01,65.37 Z" fill="#dcefff" stroke="#56606a" stroke-width="0.45"/>
<path d="M577.91,64.08 A269.6,269.6 0 0 1 580.23,65.85 L576.4,70.84 A263.3,263.3 0 0 0 574.13,69.12 Z" fill="#dcefff" stroke="#56606a" stroke-width="0.45"/>
<path d="M583.9,68.72 A269.6,269.6 0 0 1 586.18,70.55 L582.2,75.43 A263.3,263.3 0 0 0 579.98,73.65 Z" fill="#f0ede2" stroke="#56606a" stroke-width="0.45"/>
<path d="M588.68,72.61 A269.6,269.6 0 0 1 590.91,74.49 L586.82,79.29 A263.3,263.3 0 0 0 584.65,77.45 Z" fill="#dcefff" stroke="#56606a" stroke-width="0.45"/>
<path d="M598.97,81.64 A269.6,269.6 0 0 1 601.1,83.64 L596.78,88.22 A263.3,263.3 0 0 0 594.69,86.27 Z" fill="#dcefff" stroke="#56606a" stroke-width="0.45"/>
<path d="M601.51,84.02 A269.6,269.6 0 0 1 603.62,86.04 L599.23,90.57 A263.3,263.3 0 0 0 597.18,88.6 Z" fill="#dcefff" stroke="#56606a" stroke-width="0.45"/>
<path d="M606.67,89.05 A269.6,269.6 0 0 1 608.72,91.12 L604.22,95.53 A263.3,263.3 0 0 0 602.21,93.5 Z" fill="#dcefff" stroke="#56606a" stroke-width="0.45"/>
<path d="M609.71,92.13 A269.6,269.6 0 0 1 611.72,94.24 L607.15,98.57 A263.3,263.3 0 0 0 605.18,96.52 Z" fill="#1a87e6" stroke="#56606a" stroke-width="0.45"/>
<path d="M613.65,96.3 A269.6,269.6 0 0 1 615.63,98.45 L610.96,102.68 A263.3,263.3 0 0 0 609.03,100.58 Z" fill="#dcefff" stroke="#56606a" stroke-width="0.45"/>
<path d="M616.32,99.22 A269.6,269.6 0 0 1 618.26,101.4 L613.53,105.56 A263.3,263.3 0 0 0 611.64,103.43 Z" fill="#dcefff" stroke="#56606a" stroke-width="0.45"/>
<path d="M620.09,103.49 A269.6,269.6 0 0 1 621.98,105.71 L617.17,109.77 A263.3,263.3 0 0 0 615.32,107.6 Z" fill="#6b1532" stroke="#56606a" stroke-width="0.45"/>
<path d="M624.98,109.33 A269.6,269.6 0 0 1 626.82,111.6 L621.89,115.53 A263.3,263.3 0 0 0 620.1,113.31 Z" fill="#dcefff" stroke="#56606a" stroke-width="0.45"/>
<path d="M627.9,112.96 A269.6,269.6 0 0 1 629.69,115.27 L624.69,119.11 A263.3,263.3 0 0 0 622.94,116.86 Z" fill="#c0907a" stroke="#56606a" stroke-width="0.45"/>
<path d="M632.94,119.59 A269.6,269.6 0 0 1 634.66,121.95 L629.55,125.63 A263.3,263.3 0 0 0 627.87,123.33 Z" fill="#dcefff" stroke="#56606a" stroke-width="0.45"/>
<path d="M638.02,126.71 A269.6,269.6 0 0 1 639.67,129.13 L634.44,132.64 A263.3,263.3 0 0 0 632.84,130.29 Z" fill="#dcefff" stroke="#56606a" stroke-width="0.45"/>
<path d="M640.69,130.65 A269.6,269.6 0 0 1 642.28,133.09 L637,136.52 A263.3,263.3 0 0 0 635.44,134.13 Z" fill="#f39330" stroke="#56606a" stroke-width="0.45"/>
<path d="M642.69,133.72 A269.6,269.6 0 0 1 644.26,136.19 L638.93,139.54 A263.3,263.3 0 0 0 637.4,137.13 Z" fill="#dcefff" stroke="#56606a" stroke-width="0.45"/>
<path d="M645.38,137.98 A269.6,269.6 0 0 1 646.9,140.47 L641.5,143.73 A263.3,263.3 0 0 0 640.02,141.29 Z" fill="#d6124a" stroke="#56606a" stroke-width="0.45"/>
<path d="M648.77,143.63 A269.6,269.6 0 0 1 650.23,146.16 L644.76,149.28 A263.3,263.3 0 0 0 643.33,146.81 Z" fill="#c0907a" stroke="#56606a" stroke-width="0.45"/>
<path d="M654.18,153.33 A269.6,269.6 0 0 1 655.53,155.91 L649.93,158.81 A263.3,263.3 0 0 0 648.61,156.28 Z" fill="#9e9e9e" stroke="#56606a" stroke-width="0.45"/>
<path d="M655.7,156.25 A269.6,269.6 0 0 1 657.02,158.85 L651.39,161.67 A263.3,263.3 0 0 0 650.1,159.13 Z" fill="#6b1532" stroke="#56606a" stroke-width="0.45"/>
<path d="M659.28,163.46 A269.6,269.6 0 0 1 660.52,166.1 L654.81,168.75 A263.3,263.3 0 0 0 653.59,166.17 Z" fill="#9e9e9e" stroke="#56606a" stroke-width="0.45"/>
<path d="M661.09,167.34 A269.6,269.6 0 0 1 662.29,169.99 L656.54,172.56 A263.3,263.3 0 0 0 655.36,169.96 Z" fill="#9e9e9e" stroke="#56606a" stroke-width="0.45"/>
<path d="M663.2,172.06 A269.6,269.6 0 0 1 664.35,174.74 L658.55,177.19 A263.3,263.3 0 0 0 657.43,174.58 Z" fill="#258a25" stroke="#56606a" stroke-width="0.45"/>
<path d="M666.65,180.36 A269.6,269.6 0 0 1 667.71,183.08 L661.83,185.33 A263.3,263.3 0 0 0 660.79,182.68 Z" fill="#6b1532" stroke="#56606a" stroke-width="0.45"/>
<path d="M669.33,187.4 A269.6,269.6 0 0 1 670.31,190.14 L664.37,192.24 A263.3,263.3 0 0 0 663.41,189.55 Z" fill="#dcefff" stroke="#56606a" stroke-width="0.45"/>
<path d="M670.59,190.94 A269.6,269.6 0 0 1 671.53,193.7 L665.56,195.71 A263.3,263.3 0 0 0 664.64,193.02 Z" fill="#dcefff" stroke="#56606a" stroke-width="0.45"/>
<path d="M672.54,196.74 A269.6,269.6 0 0 1 673.42,199.52 L667.4,201.4 A263.3,263.3 0 0 0 666.54,198.68 Z" fill="#6b1532" stroke="#56606a" stroke-width="0.45"/>
<path d="M673.53,199.88 A269.6,269.6 0 0 1 674.38,202.67 L668.34,204.47 A263.3,263.3 0 0 0 667.51,201.75 Z" fill="#6b1532" stroke="#56606a" stroke-width="0.45"/>
<path d="M675.23,205.61 A269.6,269.6 0 0 1 676.02,208.42 L669.94,210.08 A263.3,263.3 0 0 0 669.18,207.34 Z" fill="#6b1532" stroke="#56606a" stroke-width="0.45"/>
<path d="M676.85,211.51 A269.6,269.6 0 0 1 677.57,214.34 L671.46,215.86 A263.3,263.3 0 0 0 670.75,213.1 Z" fill="#c0907a" stroke="#56606a" stroke-width="0.45"/>
<path d="M678.04,216.26 A269.6,269.6 0 0 1 678.71,219.09 L672.57,220.51 A263.3,263.3 0 0 0 671.92,217.74 Z" fill="#9e9e9e" stroke="#56606a" stroke-width="0.45"/>
<path d="M678.87,219.78 A269.6,269.6 0 0 1 679.5,222.63 L673.34,223.96 A263.3,263.3 0 0 0 672.73,221.18 Z" fill="#9e9e9e" stroke="#56606a" stroke-width="0.45"/>
<path d="M679.54,222.81 A269.6,269.6 0 0 1 680.14,225.67 L673.97,226.93 A263.3,263.3 0 0 0 673.38,224.14 Z" fill="#1a87e6" stroke="#56606a" stroke-width="0.45"/>
<path d="M680.18,225.85 A269.6,269.6 0 0 1 680.74,228.72 L674.56,229.91 A263.3,263.3 0 0 0 674.01,227.11 Z" fill="#dcefff" stroke="#56606a" stroke-width="0.45"/>
<path d="M680.78,228.9 A269.6,269.6 0 0 1 681.31,231.77 L675.11,232.89 A263.3,263.3 0 0 0 674.59,230.09 Z" fill="#1a87e6" stroke="#56606a" stroke-width="0.45"/>
<path d="M681.96,235.48 A269.6,269.6 0 0 1 682.42,238.36 L676.19,239.32 A263.3,263.3 0 0 0 675.74,236.51 Z" fill="#dcefff" stroke="#56606a" stroke-width="0.45"/>
<path d="M682.45,238.54 A269.6,269.6 0 0 1 682.88,241.43 L676.64,242.32 A263.3,263.3 0 0 0 676.22,239.51 Z" fill="#dcefff" stroke="#56606a" stroke-width="0.45"/>
<path d="M682.9,241.57 A269.6,269.6 0 0 1 683.29,244.46 L677.05,245.28 A263.3,263.3 0 0 0 676.66,242.46 Z" fill="#dcefff" stroke="#56606a" stroke-width="0.45"/>
<path d="M683.31,244.6 A269.6,269.6 0 0 1 683.68,247.49 L677.42,248.25 A263.3,263.3 0 0 0 677.07,245.42 Z" fill="#dcefff" stroke="#56606a" stroke-width="0.45"/>
<path d="M684.55,303.38 A269.6,269.6 0 0 1 684.28,306.29 L678.01,305.66 A263.3,263.3 0 0 0 678.28,302.83 Z" fill="#1a87e6" stroke="#56606a" stroke-width="0.45"/>
<path d="M683.95,309.47 A269.6,269.6 0 0 1 683.61,312.37 L677.35,311.6 A263.3,263.3 0 0 0 677.68,308.77 Z" fill="#1a87e6" stroke="#56606a" stroke-width="0.45"/>
<path d="M683.23,315.35 A269.6,269.6 0 0 1 682.82,318.24 L676.59,317.34 A263.3,263.3 0 0 0 676.98,314.52 Z" fill="#dcefff" stroke="#56606a" stroke-width="0.45"/>
<path d="M682.78,318.52 A269.6,269.6 0 0 1 682.35,321.41 L676.12,320.43 A263.3,263.3 0 0 0 676.55,317.61 Z" fill="#dcefff" stroke="#56606a" stroke-width="0.45"/>
<path d="M682.3,321.69 A269.6,269.6 0 0 1 681.83,324.56 L675.62,323.51 A263.3,263.3 0 0 0 676.08,320.7 Z" fill="#dcefff" stroke="#56606a" stroke-width="0.45"/>
<path d="M681.79,324.84 A269.6,269.6 0 0 1 681.28,327.72 L675.08,326.59 A263.3,263.3 0 0 0 675.57,323.79 Z" fill="#dcefff" stroke="#56606a" stroke-width="0.45"/>
<path d="M681.22,328.04 A269.6,269.6 0 0 1 680.68,330.91 L674.5,329.71 A263.3,263.3 0 0 0 675.02,326.91 Z" fill="#dcefff" stroke="#56606a" stroke-width="0.45"/>
<path d="M680.24,333.12 A269.6,269.6 0 0 1 679.65,335.98 L673.49,334.66 A263.3,263.3 0 0 0 674.07,331.87 Z" fill="#dcefff" stroke="#56606a" stroke-width="0.45"/>
<path d="M679.57,336.35 A269.6,269.6 0 0 1 678.94,339.2 L672.8,337.8 A263.3,263.3 0 0 0 673.41,335.02 Z" fill="#dcefff" stroke="#56606a" stroke-width="0.45"/>
<path d="M678.83,339.7 A269.6,269.6 0 0 1 678.16,342.54 L672.04,341.07 A263.3,263.3 0 0 0 672.69,338.3 Z" fill="#dcefff" stroke="#56606a" stroke-width="0.45"/>
<path d="M678.04,343.04 A269.6,269.6 0 0 1 677.34,345.88 L671.23,344.33 A263.3,263.3 0 0 0 671.92,341.56 Z" fill="#dcefff" stroke="#56606a" stroke-width="0.45"/>
<path d="M676.6,348.75 A269.6,269.6 0 0 1 675.83,351.56 L669.76,349.88 A263.3,263.3 0 0 0 670.51,347.13 Z" fill="#1a87e6" stroke="#56606a" stroke-width="0.45"/>
<path d="M672.94,361.3 A269.6,269.6 0 0 1 672.04,364.08 L666.06,362.11 A263.3,263.3 0 0 0 666.93,359.4 Z" fill="#1a87e6" stroke="#56606a" stroke-width="0.45"/>
<path d="M670.54,368.49 A269.6,269.6 0 0 1 669.57,371.24 L663.64,369.1 A263.3,263.3 0 0 0 664.59,366.41 Z" fill="#1a87e6" stroke="#56606a" stroke-width="0.45"/>
<path d="M667.66,376.35 A269.6,269.6 0 0 1 666.6,379.07 L660.74,376.75 A263.3,263.3 0 0 0 661.78,374.09 Z" fill="#dcefff" stroke="#56606a" stroke-width="0.45"/>
<path d="M665.79,381.08 A269.6,269.6 0 0 1 664.68,383.78 L658.87,381.34 A263.3,263.3 0 0 0 659.95,378.71 Z" fill="#84d4c8" stroke="#56606a" stroke-width="0.45"/>
<path d="M663.31,386.98 A269.6,269.6 0 0 1 662.14,389.65 L656.39,387.08 A263.3,263.3 0 0 0 657.54,384.47 Z" fill="#dcefff" stroke="#56606a" stroke-width="0.45"/>
<path d="M661.69,390.64 A269.6,269.6 0 0 1 660.48,393.29 L654.77,390.63 A263.3,263.3 0 0 0 655.95,388.04 Z" fill="#1a87e6" stroke="#56606a" stroke-width="0.45"/>
<path d="M659.38,395.63 A269.6,269.6 0 0 1 658.11,398.26 L652.45,395.49 A263.3,263.3 0 0 0 653.69,392.92 Z" fill="#1a87e6" stroke="#56606a" stroke-width="0.45"/>
<path d="M657.59,399.31 A269.6,269.6 0 0 1 656.28,401.92 L650.66,399.06 A263.3,263.3 0 0 0 651.94,396.52 Z" fill="#84d4c8" stroke="#56606a" stroke-width="0.45"/>
<path d="M653.51,407.22 A269.6,269.6 0 0 1 652.12,409.78 L646.6,406.74 A263.3,263.3 0 0 0 647.96,404.23 Z" fill="#dcefff" stroke="#56606a" stroke-width="0.45"/>
<path d="M652.37,409.32 A269.6,269.6 0 0 1 650.95,411.87 L645.46,408.78 A263.3,263.3 0 0 0 646.84,406.29 Z" fill="#84d4c8" stroke="#56606a" stroke-width="0.45"/>
<path d="M650.16,413.27 A269.6,269.6 0 0 1 648.7,415.79 L643.26,412.61 A263.3,263.3 0 0 0 644.69,410.14 Z" fill="#dcefff" stroke="#56606a" stroke-width="0.45"/>
<path d="M648.77,415.67 A269.6,269.6 0 0 1 647.29,418.18 L641.88,414.94 A263.3,263.3 0 0 0 643.33,412.49 Z" fill="#dcefff" stroke="#56606a" stroke-width="0.45"/>
<path d="M641.28,427.75 A269.6,269.6 0 0 1 639.67,430.17 L634.44,426.66 A263.3,263.3 0 0 0 636.02,424.28 Z" fill="#1a87e6" stroke="#56606a" stroke-width="0.45"/>
<path d="M637.25,433.71 A269.6,269.6 0 0 1 635.57,436.09 L630.44,432.44 A263.3,263.3 0 0 0 632.08,430.11 Z" fill="#84d4c8" stroke="#56606a" stroke-width="0.45"/>
<path d="M634.33,437.81 A269.6,269.6 0 0 1 632.61,440.17 L627.55,436.41 A263.3,263.3 0 0 0 629.23,434.12 Z" fill="#1a87e6" stroke="#56606a" stroke-width="0.45"/>
<path d="M632.16,440.77 A269.6,269.6 0 0 1 630.4,443.1 L625.39,439.28 A263.3,263.3 0 0 0 627.11,437 Z" fill="#1a87e6" stroke="#56606a" stroke-width="0.45"/>
<path d="M629.6,444.15 A269.6,269.6 0 0 1 627.81,446.45 L622.86,442.55 A263.3,263.3 0 0 0 624.61,440.3 Z" fill="#1a87e6" stroke="#56606a" stroke-width="0.45"/>
<path d="M626.46,448.14 A269.6,269.6 0 0 1 624.63,450.41 L619.75,446.42 A263.3,263.3 0 0 0 621.54,444.2 Z" fill="#dcefff" stroke="#56606a" stroke-width="0.45"/>
<path d="M624,451.17 A269.6,269.6 0 0 1 622.13,453.41 L617.31,449.35 A263.3,263.3 0 0 0 619.14,447.16 Z" fill="#1a87e6" stroke="#56606a" stroke-width="0.45"/>
<path d="M621.92,453.67 A269.6,269.6 0 0 1 620.02,455.88 L615.26,451.77 A263.3,263.3 0 0 0 617.11,449.6 Z" fill="#1a87e6" stroke="#56606a" stroke-width="0.45"/>
<path d="M619.13,456.91 A269.6,269.6 0 0 1 617.2,459.1 L612.5,454.91 A263.3,263.3 0 0 0 614.38,452.77 Z" fill="#1a87e6" stroke="#56606a" stroke-width="0.45"/>
<path d="M616.01,460.43 A269.6,269.6 0 0 1 614.04,462.59 L609.41,458.31 A263.3,263.3 0 0 0 611.33,456.21 Z" fill="#dcefff" stroke="#56606a" stroke-width="0.45"/>
<path d="M613.81,462.83 A269.6,269.6 0 0 1 611.82,464.96 L607.24,460.63 A263.3,263.3 0 0 0 609.19,458.55 Z" fill="#1a87e6" stroke="#56606a" stroke-width="0.45"/>
<path d="M611.11,465.71 A269.6,269.6 0 0 1 609.08,467.81 L604.57,463.41 A263.3,263.3 0 0 0 606.55,461.36 Z" fill="#1a87e6" stroke="#56606a" stroke-width="0.45"/>
<path d="M608.36,468.55 A269.6,269.6 0 0 1 606.3,470.62 L601.86,466.16 A263.3,263.3 0 0 0 603.86,464.13 Z" fill="#84d4c8" stroke="#56606a" stroke-width="0.45"/>
<path d="M605.6,471.31 A269.6,269.6 0 0 1 603.52,473.36 L599.13,468.83 A263.3,263.3 0 0 0 601.17,466.84 Z" fill="#dcefff" stroke="#56606a" stroke-width="0.45"/>
<path d="M576.97,495.92 A269.6,269.6 0 0 1 574.62,497.65 L570.91,492.56 A263.3,263.3 0 0 0 573.21,490.87 Z" fill="#dcefff" stroke="#56606a" stroke-width="0.45"/>
<path d="M574.05,498.06 A269.6,269.6 0 0 1 571.68,499.76 L568.04,494.62 A263.3,263.3 0 0 0 570.35,492.96 Z" fill="#c0907a" stroke="#56606a" stroke-width="0.45"/>
<path d="M569.44,501.33 A269.6,269.6 0 0 1 567.03,502.97 L563.5,497.76 A263.3,263.3 0 0 0 565.85,496.15 Z" fill="#6b1532" stroke="#56606a" stroke-width="0.45"/>
<path d="M566.41,503.4 A269.6,269.6 0 0 1 563.98,505.01 L560.52,499.74 A263.3,263.3 0 0 0 562.89,498.17 Z" fill="#6b1532" stroke="#56606a" stroke-width="0.45"/>
<path d="M562.44,506.01 A269.6,269.6 0 0 1 559.98,507.58 L556.62,502.26 A263.3,263.3 0 0 0 559.02,500.72 Z" fill="#b3a553" stroke="#56606a" stroke-width="0.45"/>
<path d="M556.75,509.6 A269.6,269.6 0 0 1 554.25,511.11 L551.02,505.7 A263.3,263.3 0 0 0 553.46,504.22 Z" fill="#dcefff" stroke="#56606a" stroke-width="0.45"/>
<path d="M553.84,511.35 A269.6,269.6 0 0 1 551.33,512.82 L548.17,507.38 A263.3,263.3 0 0 0 550.62,505.93 Z" fill="#84d4c8" stroke="#56606a" stroke-width="0.45"/>
<path d="M550.88,513.08 A269.6,269.6 0 0 1 548.35,514.53 L545.25,509.04 A263.3,263.3 0 0 0 547.73,507.63 Z" fill="#000000" stroke="#56606a" stroke-width="0.45"/>
<path d="M547.94,514.76 A269.6,269.6 0 0 1 545.39,516.17 L542.36,510.65 A263.3,263.3 0 0 0 544.85,509.27 Z" fill="#c0907a" stroke="#56606a" stroke-width="0.45"/>
<path d="M544.97,516.4 A269.6,269.6 0 0 1 542.4,517.78 L539.45,512.22 A263.3,263.3 0 0 0 541.96,510.87 Z" fill="#84d4c8" stroke="#56606a" stroke-width="0.45"/>
<path d="M541.95,518.02 A269.6,269.6 0 0 1 539.36,519.37 L536.48,513.77 A263.3,263.3 0 0 0 539,512.45 Z" fill="#6b1532" stroke="#56606a" stroke-width="0.45"/>
<path d="M538.73,519.69 A269.6,269.6 0 0 1 536.13,521.01 L533.32,515.37 A263.3,263.3 0 0 0 535.86,514.08 Z" fill="#dcefff" stroke="#56606a" stroke-width="0.45"/>
<path d="M535.49,521.32 A269.6,269.6 0 0 1 532.87,522.6 L530.14,516.92 A263.3,263.3 0 0 0 532.7,515.67 Z" fill="#dcefff" stroke="#56606a" stroke-width="0.45"/>
<path d="M532.49,522.78 A269.6,269.6 0 0 1 529.85,524.03 L527.19,518.32 A263.3,263.3 0 0 0 529.77,517.1 Z" fill="#6b1532" stroke="#56606a" stroke-width="0.45"/>
<path d="M525.27,526.11 A269.6,269.6 0 0 1 522.6,527.28 L520.1,521.5 A263.3,263.3 0 0 0 522.72,520.35 Z" fill="#6b1532" stroke="#56606a" stroke-width="0.45"/>
<path d="M519.04,528.78 A269.6,269.6 0 0 1 516.34,529.88 L513.99,524.03 A263.3,263.3 0 0 0 516.63,522.96 Z" fill="#dcefff" stroke="#56606a" stroke-width="0.45"/>
<path d="M513.98,530.82 A269.6,269.6 0 0 1 511.25,531.86 L509.03,525.97 A263.3,263.3 0 0 0 511.69,524.95 Z" fill="#dcefff" stroke="#56606a" stroke-width="0.45"/>
<path d="M509.36,532.57 A269.6,269.6 0 0 1 506.62,533.57 L504.5,527.63 A263.3,263.3 0 0 0 507.18,526.66 Z" fill="#1a87e6" stroke="#56606a" stroke-width="0.45"/>
<path d="M505.82,533.85 A269.6,269.6 0 0 1 503.06,534.81 L501.03,528.84 A263.3,263.3 0 0 0 503.72,527.91 Z" fill="#dcefff" stroke="#56606a" stroke-width="0.45"/>
<path d="M502.79,534.9 A269.6,269.6 0 0 1 500.03,535.82 L498.06,529.83 A263.3,263.3 0 0 0 500.77,528.93 Z" fill="#dcefff" stroke="#56606a" stroke-width="0.45"/>
<path d="M499.76,535.91 A269.6,269.6 0 0 1 496.98,536.8 L495.09,530.79 A263.3,263.3 0 0 0 497.8,529.92 Z" fill="#1a87e6" stroke="#56606a" stroke-width="0.45"/>
<path d="M496.71,536.89 A269.6,269.6 0 0 1 493.92,537.74 L492.1,531.71 A263.3,263.3 0 0 0 494.83,530.87 Z" fill="#1a87e6" stroke="#56606a" stroke-width="0.45"/>
<path d="M491.13,538.57 A269.6,269.6 0 0 1 488.32,539.37 L486.63,533.3 A263.3,263.3 0 0 0 489.37,532.52 Z" fill="#dcefff" stroke="#56606a" stroke-width="0.45"/>
<path d="M475.45,542.61 A269.6,269.6 0 0 1 472.61,543.24 L471.28,537.08 A263.3,263.3 0 0 0 474.06,536.47 Z" fill="#dcefff" stroke="#56606a" stroke-width="0.45"/>
<path d="M466.33,544.51 A269.6,269.6 0 0 1 463.46,545.04 L462.36,538.84 A263.3,263.3 0 0 0 465.16,538.32 Z" fill="#dcefff" stroke="#56606a" stroke-width="0.45"/>
<path d="M461.29,545.42 A269.6,269.6 0 0 1 458.41,545.89 L457.42,539.67 A263.3,263.3 0 0 0 460.23,539.21 Z" fill="#b3a553" stroke="#56606a" stroke-width="0.45"/>
<path d="M457.71,546 A269.6,269.6 0 0 1 454.83,546.44 L453.92,540.21 A263.3,263.3 0 0 0 456.74,539.78 Z" fill="#dcefff" stroke="#56606a" stroke-width="0.45"/>
<path d="M433.4,548.69 A269.6,269.6 0 0 1 430.49,548.86 L430.15,542.57 A263.3,263.3 0 0 0 432.99,542.4 Z" fill="#1a87e6" stroke="#56606a" stroke-width="0.45"/>
<path d="M430.39,548.87 A269.6,269.6 0 0 1 427.48,549.01 L427.21,542.71 A263.3,263.3 0 0 0 430.06,542.57 Z" fill="#1a87e6" stroke="#56606a" stroke-width="0.45"/>
<path d="M424.28,549.12 A269.6,269.6 0 0 1 421.36,549.2 L421.24,542.9 A263.3,263.3 0 0 0 424.09,542.83 Z" fill="#84d4c8" stroke="#56606a" stroke-width="0.45"/>
<path d="M421.27,549.2 A269.6,269.6 0 0 1 418.35,549.24 L418.3,542.94 A263.3,263.3 0 0 0 421.15,542.9 Z" fill="#84d4c8" stroke="#56606a" stroke-width="0.45"/>
<path d="M418.21,549.24 A269.6,269.6 0 0 1 415.29,549.25 L415.31,542.95 A263.3,263.3 0 0 0 418.16,542.94 Z" fill="#1a87e6" stroke="#56606a" stroke-width="0.45"/>
<path d="M411.62,549.21 A269.6,269.6 0 0 1 408.71,549.15 L408.88,542.85 A263.3,263.3 0 0 0 411.73,542.92 Z" fill="#1a87e6" stroke="#56606a" stroke-width="0.45"/>
<path d="M408.57,549.15 A269.6,269.6 0 0 1 405.65,549.05 L405.89,542.76 A263.3,263.3 0 0 0 408.74,542.85 Z" fill="#1a87e6" stroke="#56606a" stroke-width="0.45"/>
<path d="M405.56,549.05 A269.6,269.6 0 0 1 402.64,548.92 L402.95,542.63 A263.3,263.3 0 0 0 405.8,542.75 Z" fill="#1a87e6" stroke="#56606a" stroke-width="0.45"/>
<path d="M402.5,548.91 A269.6,269.6 0 0 1 399.59,548.75 L399.97,542.46 A263.3,263.3 0 0 0 402.82,542.62 Z" fill="#1a87e6" stroke="#56606a" stroke-width="0.45"/>
<path d="M398.98,548.71 A269.6,269.6 0 0 1 396.07,548.51 L396.53,542.23 A263.3,263.3 0 0 0 399.38,542.42 Z" fill="#1a87e6" stroke="#56606a" stroke-width="0.45"/>
<path d="M395.93,548.5 A269.6,269.6 0 0 1 393.02,548.27 L393.56,541.99 A263.3,263.3 0 0 0 396.4,542.22 Z" fill="#1a87e6" stroke="#56606a" stroke-width="0.45"/>
<path d="M389.83,547.98 A269.6,269.6 0 0 1 386.93,547.68 L387.61,541.41 A263.3,263.3 0 0 0 390.44,541.71 Z" fill="#1a87e6" stroke="#56606a" stroke-width="0.45"/>
<path d="M386.88,547.67 A269.6,269.6 0 0 1 383.98,547.34 L384.73,541.09 A263.3,263.3 0 0 0 387.56,541.41 Z" fill="#1a87e6" stroke="#56606a" stroke-width="0.45"/>
<path d="M381.23,547 A269.6,269.6 0 0 1 378.34,546.61 L379.22,540.37 A263.3,263.3 0 0 0 382.04,540.75 Z" fill="#1a87e6" stroke="#56606a" stroke-width="0.45"/>
<path d="M378.2,546.59 A269.6,269.6 0 0 1 375.31,546.16 L376.26,539.93 A263.3,263.3 0 0 0 379.08,540.35 Z" fill="#1a87e6" stroke="#56606a" stroke-width="0.45"/>
<path d="M368.44,545.02 A269.6,269.6 0 0 1 365.57,544.49 L366.75,538.3 A263.3,263.3 0 0 0 369.55,538.82 Z" fill="#1a87e6" stroke="#56606a" stroke-width="0.45"/>
<path d="M361.74,543.73 A269.6,269.6 0 0 1 358.89,543.13 L360.22,536.97 A263.3,263.3 0 0 0 363.01,537.56 Z" fill="#84d4c8" stroke="#56606a" stroke-width="0.45"/>
<path d="M358.8,543.11 A269.6,269.6 0 0 1 355.95,542.48 L357.35,536.34 A263.3,263.3 0 0 0 360.13,536.95 Z" fill="#84d4c8" stroke="#56606a" stroke-width="0.45"/>
<path d="M355.86,542.46 A269.6,269.6 0 0 1 353.02,541.79 L354.49,535.66 A263.3,263.3 0 0 0 357.26,536.31 Z" fill="#84d4c8" stroke="#56606a" stroke-width="0.45"/>
<path d="M352.93,541.77 A269.6,269.6 0 0 1 350.09,541.07 L351.63,534.96 A263.3,263.3 0 0 0 354.4,535.64 Z" fill="#1a87e6" stroke="#56606a" stroke-width="0.45"/>
<path d="M350.28,541.12 A269.6,269.6 0 0 1 347.45,540.39 L349.05,534.3 A263.3,263.3 0 0 0 351.81,535.01 Z" fill="#84d4c8" stroke="#56606a" stroke-width="0.45"/>
<path d="M347.63,540.44 A269.6,269.6 0 0 1 344.81,539.68 L346.48,533.61 A263.3,263.3 0 0 0 349.23,534.34 Z" fill="#84d4c8" stroke="#56606a" stroke-width="0.45"/>
<path d="M344.68,539.64 A269.6,269.6 0 0 1 341.87,538.86 L343.6,532.8 A263.3,263.3 0 0 0 346.34,533.57 Z" fill="#84d4c8" stroke="#56606a" stroke-width="0.45"/>
<path d="M341.73,538.82 A269.6,269.6 0 0 1 338.93,538 L340.73,531.96 A263.3,263.3 0 0 0 343.47,532.76 Z" fill="#000000" stroke="#56606a" stroke-width="0.45"/>
<path d="M338.3,537.81 A269.6,269.6 0 0 1 335.51,536.96 L337.39,530.94 A263.3,263.3 0 0 0 340.12,531.78 Z" fill="#84d4c8" stroke="#56606a" stroke-width="0.45"/>
<path d="M335.87,537.07 A269.6,269.6 0 0 1 333.09,536.19 L335.03,530.19 A263.3,263.3 0 0 0 337.75,531.05 Z" fill="#dcefff" stroke="#56606a" stroke-width="0.45"/>
<path d="M332.82,536.1 A269.6,269.6 0 0 1 330.05,535.18 L332.06,529.21 A263.3,263.3 0 0 0 334.77,530.11 Z" fill="#dcefff" stroke="#56606a" stroke-width="0.45"/>
<path d="M329.87,535.12 A269.6,269.6 0 0 1 327.12,534.18 L329.19,528.23 A263.3,263.3 0 0 0 331.89,529.15 Z" fill="#1a87e6" stroke="#56606a" stroke-width="0.45"/>
<path d="M326.72,534.04 A269.6,269.6 0 0 1 323.97,533.06 L326.12,527.13 A263.3,263.3 0 0 0 328.8,528.09 Z" fill="#dcefff" stroke="#56606a" stroke-width="0.45"/>
<path d="M324.28,533.17 A269.6,269.6 0 0 1 321.54,532.16 L323.75,526.26 A263.3,263.3 0 0 0 326.42,527.24 Z" fill="#1a87e6" stroke="#56606a" stroke-width="0.45"/>
<path d="M321.72,532.23 A269.6,269.6 0 0 1 318.99,531.19 L321.26,525.31 A263.3,263.3 0 0 0 323.92,526.32 Z" fill="#1a87e6" stroke="#56606a" stroke-width="0.45"/>
<path d="M318.81,531.12 A269.6,269.6 0 0 1 316.1,530.06 L318.43,524.21 A263.3,263.3 0 0 0 321.08,525.25 Z" fill="#1a87e6" stroke="#56606a" stroke-width="0.45"/>
<path d="M315.75,529.92 A269.6,269.6 0 0 1 313.05,528.82 L315.45,523 A263.3,263.3 0 0 0 318.09,524.07 Z" fill="#1a87e6" stroke="#56606a" stroke-width="0.45"/>
<path d="M312.79,528.71 A269.6,269.6 0 0 1 310.1,527.58 L312.57,521.78 A263.3,263.3 0 0 0 315.2,522.89 Z" fill="#84d4c8" stroke="#56606a" stroke-width="0.45"/>
<path d="M309.84,527.47 A269.6,269.6 0 0 1 307.16,526.3 L309.7,520.54 A263.3,263.3 0 0 0 312.32,521.68 Z" fill="#84d4c8" stroke="#56606a" stroke-width="0.45"/>
<path d="M306.9,526.19 A269.6,269.6 0 0 1 304.24,525 L306.85,519.26 A263.3,263.3 0 0 0 309.45,520.43 Z" fill="#1a87e6" stroke="#56606a" stroke-width="0.45"/>
<path d="M303.94,524.86 A269.6,269.6 0 0 1 301.3,523.63 L303.98,517.93 A263.3,263.3 0 0 0 306.56,519.13 Z" fill="#1a87e6" stroke="#56606a" stroke-width="0.45"/>
<path d="M301,523.49 A269.6,269.6 0 0 1 298.37,522.23 L301.11,516.56 A263.3,263.3 0 0 0 303.68,517.79 Z" fill="#1a87e6" stroke="#56606a" stroke-width="0.45"/>
<path d="M297.86,521.99 A269.6,269.6 0 0 1 295.24,520.69 L298.06,515.06 A263.3,263.3 0 0 0 300.62,516.32 Z" fill="#1a87e6" stroke="#56606a" stroke-width="0.45"/>
<path d="M294.91,520.52 A269.6,269.6 0 0 1 292.31,519.2 L295.2,513.6 A263.3,263.3 0 0 0 297.74,514.9 Z" fill="#1a87e6" stroke="#56606a" stroke-width="0.45"/>
<path d="M291.43,518.74 A269.6,269.6 0 0 1 288.85,517.38 L291.82,511.83 A263.3,263.3 0 0 0 294.34,513.16 Z" fill="#1a87e6" stroke="#56606a" stroke-width="0.45"/>
<path d="M284.23,514.85 A269.6,269.6 0 0 1 281.69,513.41 L284.83,507.95 A263.3,263.3 0 0 0 287.31,509.36 Z" fill="#1a87e6" stroke="#56606a" stroke-width="0.45"/>
<path d="M280.67,512.82 A269.6,269.6 0 0 1 278.16,511.35 L281.38,505.93 A263.3,263.3 0 0 0 283.83,507.38 Z" fill="#1a87e6" stroke="#56606a" stroke-width="0.45"/>
<path d="M276.22,510.18 A269.6,269.6 0 0 1 273.73,508.66 L277.06,503.31 A263.3,263.3 0 0 0 279.49,504.8 Z" fill="#1a87e6" stroke="#56606a" stroke-width="0.45"/>
<path d="M273.33,508.41 A269.6,269.6 0 0 1 270.87,506.85 L274.26,501.54 A263.3,263.3 0 0 0 276.67,503.06 Z" fill="#dcefff" stroke="#56606a" stroke-width="0.45"/>
<path d="M269.09,505.7 A269.6,269.6 0 0 1 266.65,504.1 L270.14,498.86 A263.3,263.3 0 0 0 272.52,500.42 Z" fill="#c0907a" stroke="#56606a" stroke-width="0.45"/>
<path d="M266.26,503.84 A269.6,269.6 0 0 1 263.84,502.21 L267.4,497.01 A263.3,263.3 0 0 0 269.76,498.6 Z" fill="#1a87e6" stroke="#56606a" stroke-width="0.45"/>
<path d="M263.22,501.78 A269.6,269.6 0 0 1 260.82,500.11 L264.45,494.96 A263.3,263.3 0 0 0 266.79,496.59 Z" fill="#c0907a" stroke="#56606a" stroke-width="0.45"/>
<path d="M260.48,499.87 A269.6,269.6 0 0 1 258.1,498.18 L261.79,493.07 A263.3,263.3 0 0 0 264.11,494.72 Z" fill="#dcefff" stroke="#56606a" stroke-width="0.45"/>
<path d="M257.53,497.76 A269.6,269.6 0 0 1 255.18,496.03 L258.94,490.98 A263.3,263.3 0 0 0 261.24,492.66 Z" fill="#dcefff" stroke="#56606a" stroke-width="0.45"/>
<path d="M250.72,492.65 A269.6,269.6 0 0 1 248.43,490.85 L252.34,485.91 A263.3,263.3 0 0 0 254.59,487.67 Z" fill="#1a87e6" stroke="#56606a" stroke-width="0.45"/>
<path d="M246.44,489.26 A269.6,269.6 0 0 1 244.19,487.41 L248.2,482.56 A263.3,263.3 0 0 0 250.41,484.36 Z" fill="#1a87e6" stroke="#56606a" stroke-width="0.45"/>
<path d="M243.64,486.96 A269.6,269.6 0 0 1 241.41,485.08 L245.49,480.28 A263.3,263.3 0 0 0 247.67,482.12 Z" fill="#dcefff" stroke="#56606a" stroke-width="0.45"/>
<path d="M240.41,484.23 A269.6,269.6 0 0 1 238.2,482.31 L242.36,477.58 A263.3,263.3 0 0 0 244.51,479.45 Z" fill="#1a87e6" stroke="#56606a" stroke-width="0.45"/>
<path d="M236.62,480.91 A269.6,269.6 0 0 1 234.45,478.96 L238.69,474.3 A263.3,263.3 0 0 0 240.81,476.21 Z" fill="#1a87e6" stroke="#56606a" stroke-width="0.45"/>
<path d="M233.44,478.04 A269.6,269.6 0 0 1 231.31,476.05 L235.62,471.46 A263.3,263.3 0 0 0 237.71,473.4 Z" fill="#1a87e6" stroke="#56606a" stroke-width="0.45"/>
<path d="M231.07,475.83 A269.6,269.6 0 0 1 228.96,473.81 L233.33,469.28 A263.3,263.3 0 0 0 235.39,471.24 Z" fill="#1a87e6" stroke="#56606a" stroke-width="0.45"/>
<path d="M228.25,473.13 A269.6,269.6 0 0 1 226.16,471.08 L230.6,466.61 A263.3,263.3 0 0 0 232.63,468.6 Z" fill="#1a87e6" stroke="#56606a" stroke-width="0.45"/>
<path d="M225.2,470.12 A269.6,269.6 0 0 1 223.15,468.04 L227.65,463.64 A263.3,263.3 0 0 0 229.66,465.67 Z" fill="#1a87e6" stroke="#56606a" stroke-width="0.45"/>
<path d="M220.21,464.99 A269.6,269.6 0 0 1 218.22,462.86 L222.84,458.58 A263.3,263.3 0 0 0 224.79,460.66 Z" fill="#1a87e6" stroke="#56606a" stroke-width="0.45"/>
<path d="M217.55,462.14 A269.6,269.6 0 0 1 215.59,459.98 L220.27,455.76 A263.3,263.3 0 0 0 222.19,457.87 Z" fill="#1a87e6" stroke="#56606a" stroke-width="0.45"/>
<path d="M214.96,459.28 A269.6,269.6 0 0 1 213.03,457.09 L217.77,452.94 A263.3,263.3 0 0 0 219.65,455.08 Z" fill="#dcefff" stroke="#56606a" stroke-width="0.45"/>
<path d="M212.56,456.56 A269.6,269.6 0 0 1 210.66,454.35 L215.46,450.26 A263.3,263.3 0 0 0 217.32,452.43 Z" fill="#dcefff" stroke="#56606a" stroke-width="0.45"/>
<path d="M209.47,452.95 A269.6,269.6 0 0 1 207.61,450.7 L212.48,446.7 A263.3,263.3 0 0 0 214.3,448.9 Z" fill="#1a87e6" stroke="#56606a" stroke-width="0.45"/>
<path d="M207.4,450.45 A269.6,269.6 0 0 1 205.57,448.18 L210.48,444.24 A263.3,263.3 0 0 0 212.28,446.45 Z" fill="#1a87e6" stroke="#56606a" stroke-width="0.45"/>
<path d="M205.01,447.48 A269.6,269.6 0 0 1 203.21,445.19 L208.18,441.32 A263.3,263.3 0 0 0 209.94,443.56 Z" fill="#1a87e6" stroke="#56606a" stroke-width="0.45"/>
<path d="M201.45,442.91 A269.6,269.6 0 0 1 199.7,440.58 L204.76,436.82 A263.3,263.3 0 0 0 206.47,439.1 Z" fill="#dcefff" stroke="#56606a" stroke-width="0.45"/>
<path d="M197.36,437.39 A269.6,269.6 0 0 1 195.67,435.02 L200.82,431.39 A263.3,263.3 0 0 0 202.47,433.71 Z" fill="#dcefff" stroke="#56606a" stroke-width="0.45"/>
<path d="M192.91,431.03 A269.6,269.6 0 0 1 191.29,428.61 L196.54,425.13 A263.3,263.3 0 0 0 198.13,427.49 Z" fill="#1a87e6" stroke="#56606a" stroke-width="0.45"/>
<path d="M189.31,425.58 A269.6,269.6 0 0 1 187.74,423.11 L193.07,419.76 A263.3,263.3 0 0 0 194.6,422.17 Z" fill="#1a87e6" stroke="#56606a" stroke-width="0.45"/>
<path d="M187.57,422.84 A269.6,269.6 0 0 1 186.03,420.36 L191.4,417.07 A263.3,263.3 0 0 0 192.9,419.49 Z" fill="#dcefff" stroke="#56606a" stroke-width="0.45"/>
<path d="M181.54,412.73 A269.6,269.6 0 0 1 180.11,410.19 L185.62,407.14 A263.3,263.3 0 0 0 187.02,409.62 Z" fill="#dcefff" stroke="#56606a" stroke-width="0.45"/>
<path d="M178.51,407.26 A269.6,269.6 0 0 1 177.14,404.68 L182.73,401.76 A263.3,263.3 0 0 0 184.06,404.28 Z" fill="#dcefff" stroke="#56606a" stroke-width="0.45"/>
<path d="M177.08,404.55 A269.6,269.6 0 0 1 175.74,401.96 L181.36,399.1 A263.3,263.3 0 0 0 182.66,401.64 Z" fill="#1a87e6" stroke="#56606a" stroke-width="0.45"/>
<path d="M172.97,396.35 A269.6,269.6 0 0 1 171.72,393.72 L177.43,391.05 A263.3,263.3 0 0 0 178.65,393.63 Z" fill="#dcefff" stroke="#56606a" stroke-width="0.45"/>
<path d="M171.64,393.55 A269.6,269.6 0 0 1 170.42,390.89 L176.16,388.29 A263.3,263.3 0 0 0 177.35,390.88 Z" fill="#dcefff" stroke="#56606a" stroke-width="0.45"/>
<path d="M170.38,390.81 A269.6,269.6 0 0 1 169.19,388.14 L174.96,385.61 A263.3,263.3 0 0 0 176.12,388.21 Z" fill="#dcefff" stroke="#56606a" stroke-width="0.45"/>
<path d="M168.76,387.15 A269.6,269.6 0 0 1 167.61,384.47 L173.42,382.02 A263.3,263.3 0 0 0 174.54,384.64 Z" fill="#f39330" stroke="#56606a" stroke-width="0.45"/>
<path d="M167.59,384.43 A269.6,269.6 0 0 1 166.47,381.73 L172.31,379.35 A263.3,263.3 0 0 0 173.4,381.98 Z" fill="#f39330" stroke="#56606a" stroke-width="0.45"/>
<path d="M166.05,380.69 A269.6,269.6 0 0 1 164.97,377.98 L170.84,375.68 A263.3,263.3 0 0 0 171.89,378.33 Z" fill="#84d4c8" stroke="#56606a" stroke-width="0.45"/>
<path d="M164.29,376.22 A269.6,269.6 0 0 1 163.26,373.49 L169.17,371.3 A263.3,263.3 0 0 0 170.17,373.97 Z" fill="#1a87e6" stroke="#56606a" stroke-width="0.45"/>
<path d="M162.93,372.61 A269.6,269.6 0 0 1 161.94,369.87 L167.88,367.76 A263.3,263.3 0 0 0 168.85,370.44 Z" fill="#c0907a" stroke="#56606a" stroke-width="0.45"/>
<path d="M161.27,367.96 A269.6,269.6 0 0 1 160.33,365.2 L166.31,363.2 A263.3,263.3 0 0 0 167.23,365.89 Z" fill="#1a87e6" stroke="#56606a" stroke-width="0.45"/>
<path d="M160.03,364.3 A269.6,269.6 0 0 1 159.13,361.53 L165.14,359.61 A263.3,263.3 0 0 0 166.02,362.32 Z" fill="#84d4c8" stroke="#56606a" stroke-width="0.45"/>
<path d="M155.43,348.84 A269.6,269.6 0 0 1 154.7,346.01 L160.8,344.46 A263.3,263.3 0 0 0 161.52,347.22 Z" fill="#dcefff" stroke="#56606a" stroke-width="0.45"/>
<path d="M153.38,340.62 A269.6,269.6 0 0 1 152.74,337.77 L158.89,336.41 A263.3,263.3 0 0 0 159.52,339.19 Z" fill="#1a87e6" stroke="#56606a" stroke-width="0.45"/>
<path d="M152.11,334.83 A269.6,269.6 0 0 1 151.53,331.97 L157.71,330.75 A263.3,263.3 0 0 0 158.27,333.54 Z" fill="#1a87e6" stroke="#56606a" stroke-width="0.45"/>
<path d="M151.45,331.6 A269.6,269.6 0 0 1 150.91,328.73 L157.1,327.59 A263.3,263.3 0 0 0 157.63,330.39 Z" fill="#84d4c8" stroke="#56606a" stroke-width="0.45"/>
<path d="M150.33,325.54 A269.6,269.6 0 0 1 149.85,322.66 L156.07,321.66 A263.3,263.3 0 0 0 156.54,324.47 Z" fill="#84d4c8" stroke="#56606a" stroke-width="0.45"/>
<path d="M149.82,322.48 A269.6,269.6 0 0 1 149.38,319.59 L155.61,318.66 A263.3,263.3 0 0 0 156.04,321.47 Z" fill="#1a87e6" stroke="#56606a" stroke-width="0.45"/>
<path d="M148.92,316.43 A269.6,269.6 0 0 1 148.54,313.53 L154.79,312.74 A263.3,263.3 0 0 0 155.16,315.57 Z" fill="#1a87e6" stroke="#56606a" stroke-width="0.45"/>
<path d="M148.53,313.49 A269.6,269.6 0 0 1 148.18,310.59 L154.44,309.87 A263.3,263.3 0 0 0 154.78,312.7 Z" fill="#000000" stroke="#56606a" stroke-width="0.45"/>
<path d="M148.13,310.12 A269.6,269.6 0 0 1 147.81,307.22 L154.08,306.58 A263.3,263.3 0 0 0 154.39,309.41 Z" fill="#dcefff" stroke="#56606a" stroke-width="0.45"/>
<path d="M147.51,304.04 A269.6,269.6 0 0 1 147.26,301.13 L153.54,300.63 A263.3,263.3 0 0 0 153.78,303.47 Z" fill="#dcefff" stroke="#56606a" stroke-width="0.45"/>
<path d="M147.26,301.13 A269.6,269.6 0 0 1 147.04,298.22 L153.33,297.79 A263.3,263.3 0 0 0 153.54,300.63 Z" fill="#84d4c8" stroke="#56606a" stroke-width="0.45"/>
<path d="M147.01,297.8 A269.6,269.6 0 0 1 146.83,294.89 L153.12,294.53 A263.3,263.3 0 0 0 153.3,297.38 Z" fill="#1a87e6" stroke="#56606a" stroke-width="0.45"/>
<path d="M146.84,295.03 A269.6,269.6 0 0 1 146.69,292.11 L152.98,291.82 A263.3,263.3 0 0 0 153.13,294.67 Z" fill="#6b1532" stroke="#56606a" stroke-width="0.45"/>
<path d="M146.68,292.02 A269.6,269.6 0 0 1 146.57,289.11 L152.86,288.88 A263.3,263.3 0 0 0 152.98,291.73 Z" fill="#dcefff" stroke="#56606a" stroke-width="0.45"/>
<path d="M146.55,288.78 A269.6,269.6 0 0 1 146.47,285.86 L152.77,285.72 A263.3,263.3 0 0 0 152.85,288.56 Z" fill="#f39330" stroke="#56606a" stroke-width="0.45"/>
<path d="M146.47,285.63 A269.6,269.6 0 0 1 146.42,282.71 L152.72,282.64 A263.3,263.3 0 0 0 152.76,285.49 Z" fill="#84d4c8" stroke="#56606a" stroke-width="0.45"/>
<path d="M146.42,282.66 A269.6,269.6 0 0 1 146.4,279.74 L152.7,279.74 A263.3,263.3 0 0 0 152.72,282.59 Z" fill="#1a87e6" stroke="#56606a" stroke-width="0.45"/>
<path d="M146.4,279.32 A269.6,269.6 0 0 1 146.42,276.4 L152.72,276.48 A263.3,263.3 0 0 0 152.7,279.33 Z" fill="#f39330" stroke="#56606a" stroke-width="0.45"/>
<path d="M146.42,276.4 A269.6,269.6 0 0 1 146.47,273.49 L152.77,273.63 A263.3,263.3 0 0 0 152.72,276.48 Z" fill="#dcefff" stroke="#56606a" stroke-width="0.45"/>
<path d="M146.56,270.34 A269.6,269.6 0 0 1 146.68,267.42 L152.97,267.71 A263.3,263.3 0 0 0 152.86,270.55 Z" fill="#1a87e6" stroke="#56606a" stroke-width="0.45"/>
<path d="M146.66,267.8 A269.6,269.6 0 0 1 146.8,264.88 L153.1,265.23 A263.3,263.3 0 0 0 152.95,268.07 Z" fill="#dcefff" stroke="#56606a" stroke-width="0.45"/>
<path d="M146.82,264.55 A269.6,269.6 0 0 1 147,261.64 L153.29,262.06 A263.3,263.3 0 0 0 153.11,264.91 Z" fill="#1a87e6" stroke="#56606a" stroke-width="0.45"/>
<path d="M147.06,260.8 A269.6,269.6 0 0 1 147.28,257.89 L153.56,258.4 A263.3,263.3 0 0 0 153.34,261.24 Z" fill="#f39330" stroke="#56606a" stroke-width="0.45"/>
<path d="M147.27,258.03 A269.6,269.6 0 0 1 147.52,255.12 L153.79,255.69 A263.3,263.3 0 0 0 153.55,258.53 Z" fill="#1a87e6" stroke="#56606a" stroke-width="0.45"/>
<path d="M147.5,255.31 A269.6,269.6 0 0 1 147.78,252.41 L154.05,253.04 A263.3,263.3 0 0 0 153.78,255.88 Z" fill="#1a87e6" stroke="#56606a" stroke-width="0.45"/>
<path d="M147.86,251.66 A269.6,269.6 0 0 1 148.18,248.76 L154.43,249.48 A263.3,263.3 0 0 0 154.12,252.31 Z" fill="#1a87e6" stroke="#56606a" stroke-width="0.45"/>
<path d="M148.6,245.25 A269.6,269.6 0 0 1 148.99,242.36 L155.23,243.23 A263.3,263.3 0 0 0 154.85,246.06 Z" fill="#84d4c8" stroke="#56606a" stroke-width="0.45"/>
<path d="M149.38,239.71 A269.6,269.6 0 0 1 149.82,236.82 L156.04,237.83 A263.3,263.3 0 0 0 155.61,240.64 Z" fill="#dcefff" stroke="#56606a" stroke-width="0.45"/>
<path d="M149.87,236.55 A269.6,269.6 0 0 1 150.35,233.67 L156.56,234.74 A263.3,263.3 0 0 0 156.09,237.55 Z" fill="#84d4c8" stroke="#56606a" stroke-width="0.45"/>
<path d="M150.41,233.3 A269.6,269.6 0 0 1 150.93,230.43 L157.13,231.58 A263.3,263.3 0 0 0 156.62,234.38 Z" fill="#1a87e6" stroke="#56606a" stroke-width="0.45"/>
<path d="M151.51,227.42 A269.6,269.6 0 0 1 152.09,224.56 L158.25,225.85 A263.3,263.3 0 0 0 157.69,228.64 Z" fill="#1a87e6" stroke="#56606a" stroke-width="0.45"/>
<path d="M152.19,224.06 A269.6,269.6 0 0 1 152.81,221.21 L158.96,222.57 A263.3,263.3 0 0 0 158.36,225.36 Z" fill="#000000" stroke="#56606a" stroke-width="0.45"/>
<path d="M153.62,217.67 A269.6,269.6 0 0 1 154.31,214.84 L160.42,216.35 A263.3,263.3 0 0 0 159.75,219.12 Z" fill="#84d4c8" stroke="#56606a" stroke-width="0.45"/>
<path d="M154.98,212.19 A269.6,269.6 0 0 1 155.72,209.37 L161.8,211.01 A263.3,263.3 0 0 0 161.08,213.77 Z" fill="#1a87e6" stroke="#56606a" stroke-width="0.45"/>
<path d="M155.98,208.42 A269.6,269.6 0 0 1 156.77,205.61 L162.82,207.34 A263.3,263.3 0 0 0 162.06,210.08 Z" fill="#dcefff" stroke="#56606a" stroke-width="0.45"/>
<path d="M157.54,202.94 A269.6,269.6 0 0 1 158.39,200.15 L164.41,202.01 A263.3,263.3 0 0 0 163.58,204.74 Z" fill="#dcefff" stroke="#56606a" stroke-width="0.45"/>
<path d="M160.42,193.84 A269.6,269.6 0 0 1 161.37,191.08 L167.32,193.15 A263.3,263.3 0 0 0 166.39,195.84 Z" fill="#dcefff" stroke="#56606a" stroke-width="0.45"/>
<path d="M161.5,190.68 A269.6,269.6 0 0 1 162.48,187.93 L168.41,190.07 A263.3,263.3 0 0 0 167.45,192.76 Z" fill="#f39330" stroke="#56606a" stroke-width="0.45"/>
<path d="M162.71,187.31 A269.6,269.6 0 0 1 163.72,184.57 L169.62,186.8 A263.3,263.3 0 0 0 168.63,189.47 Z" fill="#f39330" stroke="#56606a" stroke-width="0.45"/>
<rect x="17.6" y="17.6" width="143.8" height="131.7" fill="none" stroke="#333" stroke-width="0.7"/>
<line x1="15.6" y1="149.3" x2="17.6" y2="149.3" stroke="#333" stroke-width="0.6"/>
<text x="15" y="151.6" font-size="6.8" text-anchor="end" fill="#222">0</text>
<line x1="15.6" y1="133.05" x2="17.6" y2="133.05" stroke="#333" stroke-width="0.6"/>
<text x="15" y="135.35" font-size="6.8" text-anchor="end" fill="#222">20</text>
<line x1="15.6" y1="116.8" x2="17.6" y2="116.8" stroke="#333" stroke-width="0.6"/>
<text x="15" y="119.1" font-size="6.8" text-anchor="end" fill="#222">40</text>
<line x1="15.6" y1="100.55" x2="17.6" y2="100.55" stroke="#333" stroke-width="0.6"/>
<text x="15" y="102.85" font-size="6.8" text-anchor="end" fill="#222">60</text>
<line x1="15.6" y1="84.3" x2="17.6" y2="84.3" stroke="#333" stroke-width="0.6"/>
<text x="15" y="86.6" font-size="6.8" text-anchor="end" fill="#222">80</text>
<line x1="15.6" y1="68.05" x2="17.6" y2="68.05" stroke="#333" stroke-width="0.6"/>
<text x="15" y="70.35" font-size="6.8" text-anchor="end" fill="#222">100</text>
<line x1="15.6" y1="51.8" x2="17.6" y2="51.8" stroke="#333" stroke-width="0.6"/>
<text x="15" y="54.1" font-size="6.8" text-anchor="end" fill="#222">120</text>
<line x1="15.6" y1="35.55" x2="17.6" y2="35.55" stroke="#333" stroke-width="0.6"/>
<text x="15" y="37.85" font-size="6.8" text-anchor="end" fill="#222">140</text>
<line x1="15.6" y1="19.3" x2="17.6" y2="19.3" stroke="#333" stroke-width="0.6"/>
<text x="15" y="21.6" font-size="6.8" text-anchor="end" fill="#222">160</text>
<rect x="21.1" y="23.36" width="13.2" height="125.94" fill="#9db4e8"/>
<line x1="27.7" y1="149.3" x2="27.7" y2="151.3" stroke="#333" stroke-width="0.6"/>
<rect x="41.65" y="77.8" width="13.2" height="71.5" fill="#9db4e8"/>
<line x1="48.25" y1="149.3" x2="48.25" y2="151.3" stroke="#333" stroke-width="0.6"/>
<rect x="62.2" y="133.05" width="13.2" height="16.25" fill="#9db4e8"/>
<line x1="68.8" y1="149.3" x2="68.8" y2="151.3" stroke="#333" stroke-width="0.6"/>
<rect x="82.75" y="133.05" width="13.2" height="16.25" fill="#9db4e8"/>
<line x1="89.35" y1="149.3" x2="89.35" y2="151.3" stroke="#333" stroke-width="0.6"/>
<rect x="103.3" y="141.18" width="13.2" height="8.12" fill="#9db4e8"/>
<line x1="109.9" y1="149.3" x2="109.9" y2="151.3" stroke="#333" stroke-width="0.6"/>
<rect x="123.85" y="145.24" width="13.2" height="4.06" fill="#9db4e8"/>
<line x1="130.45" y1="149.3" x2="130.45" y2="151.3" stroke="#333" stroke-width="0.6"/>
<rect x="144.4" y="148.49" width="13.2" height="0.81" fill="#9db4e8"/>
<line x1="151" y1="149.3" x2="151" y2="151.3" stroke="#333" stroke-width="0.6"/>
<text x="110.5" y="31.2" font-size="8.1" font-weight="bold" text-anchor="middle" fill="#000" letter-spacing="0.25">Novel ptMAGs Count</text>
<text transform="translate(30.4,72.5) rotate(-90)" font-size="7.4" font-weight="bold">Ochrophyta</text>
<text transform="translate(51.4,74.6) rotate(-90)" font-size="7.4" font-weight="bold">Chlorophyta</text>
<text transform="translate(71.3,130.2) rotate(-90)" font-size="7.4" font-weight="bold">Cryptophyta</text>
<text transform="translate(91,130.2) rotate(-90)" font-size="7.4" font-weight="bold">Haptophyta</text>
<text transform="translate(111.9,130.2) rotate(-90)" font-size="7.4" font-weight="bold">Streptophyta</text>
<text transform="translate(132.4,131.2) rotate(-90)" font-size="7.4" font-weight="bold">Euglenozoa</text>
<text transform="translate(152.2,132.6) rotate(-90)" font-size="7.4" font-weight="bold">Rhodophyta</text>
<text x="27.7" y="103.6" font-size="7.4" font-weight="bold" text-anchor="middle" fill="#000">155</text>
<text x="48.9" y="110.4" font-size="7.4" font-weight="bold" text-anchor="middle" fill="#000">88</text>
<text x="69.2" y="143" font-size="7.4" font-weight="bold" text-anchor="middle" fill="#000">20</text>
<text x="89.7" y="143" font-size="7.4" font-weight="bold" text-anchor="middle" fill="#000">20</text>
<text x="109.5" y="140" font-size="7.4" font-weight="bold" text-anchor="middle" fill="#000">10</text>
<text x="130.2" y="144.5" font-size="7.4" font-weight="bold" text-anchor="middle" fill="#000">5</text>
<text x="150.4" y="147.4" font-size="7.4" font-weight="bold" text-anchor="middle" fill="#000">1</text>
<text x="17.9" y="177.2" font-size="8.1" font-weight="bold" fill="#000">Ecosystem Type</text>
<line x1="17.9" y1="180" x2="129.5" y2="180" stroke="#999" stroke-width="0.7"/>
<rect x="17.9" y="182.6" width="9.4" height="9.4" fill="#dcefff" stroke="#8a949a" stroke-width="0.5"/>
<text x="31.5" y="189.7" font-size="6.9" fill="#000">Freshwater</text>
<rect x="17.9" y="196.4" width="9.4" height="9.4" fill="#1a87e6" stroke="#8a949a" stroke-width="0.5"/>
<text x="31.5" y="203.5" font-size="6.9" fill="#000">Marine</text>
<rect x="17.9" y="210.2" width="9.4" height="9.4" fill="#84d4c8" stroke="#8a949a" stroke-width="0.5"/>
<text x="31.5" y="217.3" font-size="6.9" fill="#000">Non-marine Saline and Alkaline</text>
<rect x="17.9" y="224" width="9.4" height="9.4" fill="#e2c696" stroke="#8a949a" stroke-width="0.5"/>
<text x="31.5" y="231.1" font-size="6.9" fill="#000">Roots</text>
<rect x="17.9" y="237.8" width="9.4" height="9.4" fill="#f39330" stroke="#8a949a" stroke-width="0.5"/>
<text x="31.5" y="244.9" font-size="6.9" fill="#000">Thermal springs</text>
<rect x="17.9" y="251.6" width="9.4" height="9.4" fill="#b3a553" stroke="#8a949a" stroke-width="0.5"/>
<text x="31.5" y="258.7" font-size="6.9" fill="#000">Effluent</text>
<rect x="17.9" y="265.4" width="9.4" height="9.4" fill="#d6124a" stroke="#8a949a" stroke-width="0.5"/>
<text x="31.5" y="272.5" font-size="6.9" fill="#000">Red algae</text>
<rect x="17.9" y="279.2" width="9.4" height="9.4" fill="#000000" stroke="#8a949a" stroke-width="0.5"/>
<text x="31.5" y="286.3" font-size="6.9" fill="#000">Deep subsurface</text>
<rect x="17.9" y="293" width="9.4" height="9.4" fill="#6b1532" stroke="#8a949a" stroke-width="0.5"/>
<text x="31.5" y="300.1" font-size="6.9" fill="#000">Peat moss</text>
<rect x="17.9" y="306.8" width="9.4" height="9.4" fill="#ee84e6" stroke="#8a949a" stroke-width="0.5"/>
<text x="31.5" y="313.9" font-size="6.9" fill="#000">Cnidaria</text>
<rect x="17.9" y="320.6" width="9.4" height="9.4" fill="#c0907a" stroke="#8a949a" stroke-width="0.5"/>
<text x="31.5" y="327.7" font-size="6.9" fill="#000">Soil</text>
<rect x="17.9" y="334.4" width="9.4" height="9.4" fill="#258a25" stroke="#8a949a" stroke-width="0.5"/>
<text x="31.5" y="341.5" font-size="6.9" fill="#000">Plant litter</text>
<rect x="17.9" y="348.2" width="9.4" height="9.4" fill="#9e9e9e" stroke="#8a949a" stroke-width="0.5"/>
<text x="31.5" y="355.3" font-size="6.9" fill="#000">Endoliths</text>
<rect x="17.9" y="362" width="9.4" height="9.4" fill="#f0ede2" stroke="#8a949a" stroke-width="0.5"/>
<text x="31.5" y="369.1" font-size="6.9" fill="#000">Plant growth chamber</text>
<text x="17.1" y="392.1" font-size="8.1" font-weight="bold" fill="#000">Taxonomy</text>
<line x1="17.1" y1="395.2" x2="120.7" y2="395.2" stroke="#999" stroke-width="0.7"/>
<rect x="15.8" y="399" width="9.8" height="9.2" fill="#a3acab" stroke="#8a949a" stroke-width="0.5"/>
<text x="29.9" y="406" font-size="6.9" fill="#000">Gloeomargaritales</text>
<rect x="15.8" y="410.4" width="9.8" height="9.2" fill="#2fb67f" stroke="#8a949a" stroke-width="0.5"/>
<text x="29.9" y="417.4" font-size="6.9" fill="#000">Prasinodermophyta</text>
<rect x="15.8" y="422.5" width="9.8" height="9.2" fill="#3a9282" stroke="#8a949a" stroke-width="0.5"/>
<text x="29.9" y="429.5" font-size="6.9" fill="#000">Streptophyta</text>
<rect x="15.8" y="435.9" width="9.8" height="9.2" fill="#3cb44b" stroke="#8a949a" stroke-width="0.5"/>
<text x="29.9" y="442.9" font-size="6.9" fill="#000">Chlorophyta</text>
<rect x="15.8" y="449.5" width="9.8" height="9.2" fill="#bde63e" stroke="#8a949a" stroke-width="0.5"/>
<text x="29.9" y="456.5" font-size="6.9" fill="#000">Glaucophyta</text>
<rect x="15.8" y="463.3" width="9.8" height="9.2" fill="#e0194d" stroke="#8a949a" stroke-width="0.5"/>
<text x="29.9" y="470.3" font-size="6.9" fill="#000">Rhodophyta</text>
<rect x="15.8" y="477.3" width="9.8" height="9.2" fill="#e1c200" stroke="#8a949a" stroke-width="0.5"/>
<text x="29.9" y="484.3" font-size="6.9" fill="#000">Haptista</text>
<rect x="15.8" y="491.2" width="9.8" height="9.2" fill="#870000" stroke="#8a949a" stroke-width="0.5"/>
<text x="29.9" y="498.2" font-size="6.9" fill="#000">Cryptophyta</text>
<rect x="15.8" y="504.8" width="9.8" height="9.2" fill="#f07a00" stroke="#8a949a" stroke-width="0.5"/>
<text x="29.9" y="511.8" font-size="6.9" fill="#000">Ochrophyta</text>
<rect x="89.1" y="443.25" width="9.9" height="9.3" fill="#4262d6" stroke="#8a949a" stroke-width="0.5"/>
<text x="103.5" y="450.3" font-size="6.9" fill="#000">Chlorarachinophyceae</text>
<rect x="89.1" y="455.18" width="9.9" height="9.3" fill="#c043c4" stroke="#8a949a" stroke-width="0.5"/>
<text x="103.5" y="462.23" font-size="6.9" fill="#000">Dinoflagellate</text>
<rect x="89.1" y="467.11" width="9.9" height="9.3" fill="#46cff0" stroke="#8a949a" stroke-width="0.5"/>
<text x="103.5" y="474.16" font-size="6.9" fill="#000">Euglenophyceae</text>
<rect x="89.1" y="479.04" width="9.9" height="9.3" fill="#c26200" stroke="#8a949a" stroke-width="0.5"/>
<text x="103.5" y="486.09" font-size="6.9" fill="#000">Ochrophyta (Bacillariophyta)</text>
<line x1="18.2" y1="535.6" x2="52" y2="535.6" stroke="#c2338e" stroke-width="1.3"/>
<text x="58.8" y="537.9" font-size="6.4" fill="#000">Novel ptMAGs-exclusive clade</text>
<text transform="translate(402.3,242.4) rotate(0)" font-size="10.1" font-weight="bold" fill="#111" stroke="#111" stroke-width="0.22">Chlorophyta</text>
<text transform="translate(386,311) rotate(0)" font-size="10.2" font-weight="bold" fill="#111" stroke="#111" stroke-width="0.22">Ochrophyta</text>
<text transform="translate(327.2,328.8) rotate(0)" font-size="8.4" font-weight="bold" fill="#111" stroke="#111" stroke-width="0.22">Bacillariophyta</text>
<text transform="translate(340.4,335.8) rotate(0)" font-size="7.3" font-weight="bold" fill="#111" stroke="#111" stroke-width="0.22">(Diatoms)</text>
<text transform="translate(227.3,119.6) rotate(-44.2)" font-size="10" font-weight="bold" fill="#111" stroke="#111" stroke-width="0.22">Streptophyta</text>
<text transform="translate(366.8,35.2) rotate(-4.7)" font-size="8.2" font-weight="bold" fill="#111" stroke="#111" stroke-width="0.22">Euglenozoa</text>
<text transform="translate(419.7,6.5) rotate(0)" font-size="8" fill="#111" stroke="#111" stroke-width="0.25">Dinoflagellate</text>
<text transform="translate(476.2,14.8) rotate(0)" font-size="9.06" fill="#111" stroke="#111" stroke-width="0.3">Chlorarachinophyceae</text>
<text transform="translate(569.3,265.4) rotate(-3.7)" font-size="9.25" font-weight="bold" fill="#111" stroke="#111" stroke-width="0.22">Glaucophyta</text>
<text transform="translate(545.8,278.7) rotate(0)" font-size="10.1" font-weight="bold" fill="#111" stroke="#111" stroke-width="0.22">Rhodophyta</text>
<text transform="translate(520.2,286.9) rotate(1)" font-size="5.65" font-weight="bold" fill="#111" stroke="#111" stroke-width="0.22">(Proteorhodophytina/ Eurhodophytina)</text>
<text transform="translate(548.8,320) rotate(15)" font-size="10" font-weight="bold" fill="#111" stroke="#111" stroke-width="0.22">Cryptophyta</text>
<text transform="translate(530.9,358.9) rotate(33.2)" font-size="9.9" font-weight="bold" fill="#111" stroke="#111" stroke-width="0.22">Haptophyta</text>
<text transform="translate(499,369.7) rotate(46)" font-size="7.3" font-weight="bold" fill="#111" stroke="#111" stroke-width="0.22">Rhodophyta<tspan font-weight="normal" font-size="6.5">(Cyanidiophytina)</tspan></text>
<text transform="translate(239.2,168.8) rotate(29.8)" font-size="8.3" font-weight="bold" fill="#111" stroke="#111" stroke-width="0.22">Prasinodermophyta</text>
<text transform="translate(241.2,180.6) rotate(27.7)" font-size="8.2" font-weight="bold" fill="#111" stroke="#111" stroke-width="0.22">Gloeomargaritales</text>
<text transform="translate(101.6,376.3) rotate(0)" font-size="8.2" font-weight="bold" fill="#111" stroke="#111" stroke-width="0.22">Dinoflagellates</text>
<text transform="translate(273.6,550.5) rotate(0)" font-size="8.3" font-weight="bold" fill="#111" stroke="#111" stroke-width="0.22">Centroplasthelida</text>
<text transform="translate(587,531.2) rotate(0)" font-size="7.45" font-weight="bold" fill="#111" stroke="#111" stroke-width="0.22">1 substitution per site</text>
<text transform="translate(167.6,184.6) rotate(-64)" font-size="7.3" font-weight="bold" fill="#111" stroke="#111" stroke-width="0.22">Ecosystem</text>
<text transform="translate(176,187.8) rotate(-64.8)" font-size="7.3" font-weight="bold" fill="#111" stroke="#111" stroke-width="0.22">Taxonomy</text>
<defs><marker id="ah" viewBox="0 0 6 6" refX="5.5" refY="3" markerWidth="4" markerHeight="4" orient="auto"><path d="M0,0 L6,3 L0,6 Z" fill="#111"/></marker></defs>
<ellipse cx="408.7" cy="223.8" rx="1.7" ry="2.8" transform="rotate(-10 408.7 223.8)" fill="#000"/>
<path d="M421.5,234.9 L411.8,226.9" fill="none" stroke="#111" stroke-width="1.0" marker-end="url(#ah)"/>
<ellipse cx="435.9" cy="331.9" rx="2.0" ry="2.6" fill="#000"/>
<path d="M420.5,315.5 L432.6,329.3" fill="none" stroke="#111" stroke-width="1.0" marker-end="url(#ah)"/>
<ellipse cx="364" cy="357.4" rx="1.8" ry="2.5" fill="#000"/>
<path d="M357.8,338 L362.8,354.4" fill="none" stroke="#111" stroke-width="1.0" marker-end="url(#ah)"/>
<path d="M441,8 L441,17" fill="none" stroke="#111" stroke-width="1.0" marker-end="url(#ah)"/>
<path d="M483,23.2 L483,19.5 L495.5,19.5 L495.5,23.2" fill="none" stroke="#111" stroke-width="0.8"/>
<path d="M489.2,19.5 L489.2,18 L496.5,14" fill="none" stroke="#111" stroke-width="0.8"/>
<path d="M137.3,368.8 L151.8,357.5 L161.8,350.8" fill="none" stroke="#111" stroke-width="1.0" marker-end="url(#ah)"/>
<path d="M151.8,357.5 L164.3,357.2" fill="none" stroke="#111" stroke-width="1.0" marker-end="url(#ah)"/>
<path d="M344.5,548.2 L367.5,548.2 L369.5,538" fill="none" stroke="#111" stroke-width="1.0" marker-end="url(#ah)"/>
<path d="M588,522.4 H662.9 M588,521.2 V523.6 M662.9,521.2 V523.6 M625.5,521.6 V523.2" stroke="#666" stroke-width="0.7" fill="none"/>
<polygon points="667.6,304.4 668.72,307.46 671.97,307.58 669.41,309.59 670.3,312.72 667.6,310.9 664.9,312.72 665.79,309.59 663.23,307.58 666.48,307.46" fill="#000"/>
</svg></body></html>
